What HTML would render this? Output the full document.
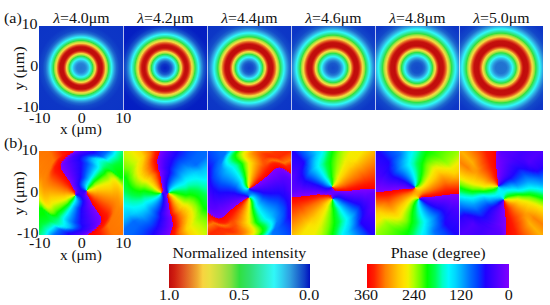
<!DOCTYPE html><html><head><meta charset="utf-8"><title>figure</title><style>
html,body{margin:0;padding:0;background:#fff}body{width:550px;height:305px;position:relative;overflow:hidden;font-family:"Liberation Serif",serif;color:#111}
.t{position:absolute;white-space:nowrap;line-height:1}.t span{display:inline-block}
.p{position:absolute;overflow:hidden}.p i{position:absolute;border-radius:50%}
.q{position:absolute}
</style></head><body>
<div class="q" style="left:39.20px;top:25.60px;width:84.00px;height:84px;background:radial-gradient(circle at 50% 50%,#2275d2 0.00px,#2580d5 4.25px,#2e9ade 6.00px,#30caee 7.75px,#30f8f6 9.00px,#30ebb3 10.25px,#30e050 11.75px,#30e040 12.00px,#71e040 12.50px,#b3e040 13.25px,#eddc40 14.25px,#f5d640 14.50px,#f5c53a 14.75px,#e88228 15.50px,#da3d1a 16.50px,#cc1b0f 17.25px,#c00c0c 18.00px,#c00d0c 21.00px,#d22612 22.00px,#e46a24 23.25px,#f2b434 24.25px,#f6cb3d 24.50px,#ecdd40 25.00px,#bae040 26.00px,#84e040 26.75px,#30e041 27.50px,#30e79c 29.00px,#30f6ec 30.50px,#30f8f6 30.75px,#2d98dd 33.50px,#1d68cf 35.50px,#1247c9 38.25px,#0d36c6 43.25px,#0c34c6 60.00px)"></div>
<div class="q" style="left:123.20px;top:25.60px;width:84.00px;height:84px;background:radial-gradient(circle at 50% 50%,#0520c3 0.00px,#0c33c6 3.75px,#1a5ecd 6.50px,#2b91db 8.25px,#30f8f8 10.75px,#30ebb3 12.00px,#30e050 13.50px,#31e040 13.75px,#71e040 14.25px,#b1e040 15.00px,#ebde40 16.00px,#f7ce3e 16.50px,#ea8c2a 17.25px,#da3d1a 18.50px,#ce1e10 19.25px,#c00c0c 20.50px,#c30f0d 22.50px,#d32813 23.75px,#e35f23 25.00px,#f1ab31 26.25px,#f8d440 26.75px,#d7e040 27.75px,#afe040 28.50px,#7de040 29.25px,#30e042 30.00px,#30e8a3 31.75px,#30f8f7 33.50px,#2b92db 36.50px,#195bcd 38.75px,#0b30c5 42.25px,#051fc2 47.00px,#041cc2 60.00px)"></div>
<div class="q" style="left:207.20px;top:25.60px;width:84.00px;height:84px;background:radial-gradient(circle at 50% 50%,#103fc8 0.00px,#154fca 4.25px,#1f6ccf 6.50px,#30a2e1 8.50px,#30f7f8 10.75px,#30ecb8 12.00px,#30e048 13.75px,#3fe040 14.00px,#7ee040 14.50px,#c9e040 15.50px,#eedc40 16.25px,#f5d640 16.50px,#e98329 17.50px,#db411b 18.50px,#ce1d0f 19.25px,#c00c0c 20.00px,#c10d0c 23.50px,#d32a13 24.75px,#e57125 26.25px,#f1af32 27.25px,#f7d540 27.75px,#d8e040 28.75px,#b2e040 29.50px,#84e040 30.25px,#3be040 31.00px,#30e047 31.25px,#30eaad 33.25px,#30f8f8 35.00px,#30a4e1 37.75px,#1f6ccf 40.25px,#134aca 43.25px,#0d37c6 48.75px,#0c34c6 60.00px)"></div>
<div class="q" style="left:291.20px;top:25.60px;width:84.00px;height:84px;background:radial-gradient(circle at 50% 50%,#134aca 0.00px,#1858cc 4.75px,#2379d3 7.25px,#30b4e7 9.50px,#30f2f7 11.25px,#30f5e9 11.75px,#30e79c 13.25px,#30e044 14.75px,#45e040 15.00px,#7ee040 15.50px,#c4e040 16.50px,#e9df40 17.25px,#f7d540 17.75px,#e98729 18.75px,#d93c19 20.00px,#cd1d0f 20.75px,#c00c0c 21.75px,#c10e0c 25.25px,#d42c14 26.50px,#e67526 28.00px,#f2b535 29.00px,#f5d640 29.50px,#dfe040 30.25px,#ade040 31.25px,#7de040 32.00px,#31e040 32.75px,#30e79a 34.50px,#30f5ea 36.25px,#30f4f7 36.75px,#2e9ade 39.75px,#1d66ce 42.25px,#1246c9 45.50px,#0d36c6 51.50px,#0c34c6 60.00px)"></div>
<div class="q" style="left:375.20px;top:25.60px;width:84.00px;height:84px;background:radial-gradient(circle at 50% 50%,#1349ca 0.00px,#1653cb 5.25px,#2070d0 7.75px,#30a8e3 10.00px,#30f7f8 12.25px,#30ebaf 13.75px,#30e056 15.25px,#30e048 15.50px,#3ee040 15.75px,#78e040 16.25px,#c2e040 17.25px,#e8e040 18.00px,#f6d540 18.50px,#e98729 19.50px,#d93b19 20.75px,#cd1c0f 21.50px,#c00c0c 22.50px,#c3100d 26.25px,#d42c14 27.50px,#e56e25 29.00px,#f3b635 30.25px,#f6d640 30.75px,#d9e040 31.75px,#aae040 32.75px,#7fe040 33.50px,#39e040 34.25px,#30e047 34.50px,#30e9a5 36.50px,#30f6ec 38.25px,#30f3f7 38.75px,#2e9ade 42.00px,#1d66ce 44.75px,#1246c9 48.25px,#0d36c6 54.75px,#0c34c6 60.00px)"></div>
<div class="q" style="left:459.20px;top:25.60px;width:84.00px;height:84px;background:radial-gradient(circle at 50% 50%,#2070d0 0.00px,#2174d1 5.50px,#2b91db 7.75px,#30cff0 10.25px,#30f8f7 11.50px,#30ecb7 13.00px,#30e04c 15.00px,#31e040 15.25px,#80e040 16.00px,#cce040 17.25px,#f2d940 18.25px,#f8d440 18.50px,#ed9a2d 19.25px,#dc441c 20.75px,#cd1c0f 21.75px,#c00c0c 22.75px,#c30f0d 26.75px,#d42d14 28.00px,#e56f25 29.50px,#f3ba36 30.75px,#f7cd3d 31.00px,#e9df40 31.75px,#b3e040 33.00px,#76e040 34.00px,#30e040 34.75px,#30e8a0 36.75px,#30f5e9 38.50px,#30f5f7 39.00px,#30a1e0 42.00px,#1e69cf 44.75px,#1247c9 48.25px,#0d36c6 54.50px,#0c34c6 60.00px)"></div>
<div class="p" style="left:39.20px;top:150.90px;width:84.00px;height:84.00px"><i style="left:-18.00px;top:-18.00px;width:120.00px;height:120.00px;background:conic-gradient(#5000ff 0.0deg,#1e04ff 16.0deg,#004cff 25.5deg,#006fff 30.0deg,#00eaff 37.0deg,#00f7ff 38.0deg,#00fec5 40.5deg,#00ff44 47.5deg,#00ff27 50.5deg,#00ff00 60.0deg,#00ff00 68.5deg,#79ff00 74.5deg,#c9f900 80.0deg,#f3ed00 84.0deg,#ffd100 90.5deg,#ff8200 113.0deg,#ff7600 139.5deg,#ff1900 154.0deg,#ff0600 163.0deg,#ff0000 170.1deg,#8000ff 170.1deg,#4e00ff 180.5deg,#1e04ff 196.0deg,#004cff 205.5deg,#006fff 210.0deg,#00eaff 217.0deg,#00f7ff 218.0deg,#00fec5 220.5deg,#00ff44 227.5deg,#00ff27 230.5deg,#00ff00 240.0deg,#00ff00 248.5deg,#79ff00 254.5deg,#c9f900 260.0deg,#f3ed00 264.0deg,#ffd100 270.5deg,#ff8200 293.0deg,#ff7600 319.5deg,#ff1900 334.0deg,#ff0600 343.0deg,#ff0000 350.1deg,#8000ff 350.1deg,#5000ff 360.0deg)"></i><i style="left:-17.00px;top:-17.00px;width:118.00px;height:118.00px;background:conic-gradient(#5100ff 0.0deg,#1d05ff 16.5deg,#004dff 26.0deg,#0072ff 30.5deg,#00ecff 37.5deg,#00f8fb 38.5deg,#00fec9 40.5deg,#00ff42 48.0deg,#00ff26 51.0deg,#00ff00 60.5deg,#01ff00 69.0deg,#74ff00 74.5deg,#cbf900 80.5deg,#f2ee00 84.0deg,#ffd400 90.0deg,#ff9600 107.0deg,#ff7f00 116.5deg,#ff7500 140.0deg,#ff1900 154.5deg,#ff0600 163.0deg,#ff0000 170.5deg,#8000ff 170.5deg,#4e00ff 181.0deg,#1d05ff 196.5deg,#004dff 206.0deg,#0072ff 210.5deg,#00ecff 217.5deg,#00f8fb 218.5deg,#00fec9 220.5deg,#00ff42 228.0deg,#00ff26 231.0deg,#00ff00 240.5deg,#01ff00 249.0deg,#74ff00 254.5deg,#cbf900 260.5deg,#f2ee00 264.0deg,#ffd400 270.0deg,#ff9600 287.0deg,#ff7f00 296.5deg,#ff7500 320.0deg,#ff1900 334.5deg,#ff0600 343.0deg,#ff0000 350.5deg,#8000ff 350.5deg,#5100ff 360.0deg)"></i><i style="left:-16.00px;top:-16.00px;width:116.00px;height:116.00px;background:conic-gradient(#5200ff 0.0deg,#1e03ff 16.5deg,#004bff 26.0deg,#006dff 30.5deg,#00efff 38.0deg,#00f9f6 39.0deg,#00fec7 41.0deg,#00ff46 48.0deg,#00ff27 51.0deg,#00ff00 60.5deg,#06ff00 69.5deg,#77ff00 75.0deg,#c8f900 80.5deg,#f3ed00 84.5deg,#ffd100 91.0deg,#ff8300 113.0deg,#ff7700 140.0deg,#ff1a00 154.5deg,#ff0600 163.5deg,#ff0000 170.7deg,#8000ff 170.7deg,#4f00ff 181.0deg,#1e03ff 196.5deg,#004bff 206.0deg,#006dff 210.5deg,#00efff 218.0deg,#00f9f6 219.0deg,#00fec7 221.0deg,#00ff46 228.0deg,#00ff27 231.0deg,#00ff00 240.5deg,#06ff00 249.5deg,#77ff00 255.0deg,#c8f900 260.5deg,#f3ed00 264.5deg,#ffd100 271.0deg,#ff8300 293.0deg,#ff7700 320.0deg,#ff1a00 334.5deg,#ff0600 343.5deg,#ff0000 350.7deg,#8000ff 350.7deg,#5200ff 360.0deg)"></i><i style="left:-15.00px;top:-15.00px;width:114.00px;height:114.00px;background:conic-gradient(#5200ff 0.0deg,#1e04ff 17.0deg,#004cff 26.5deg,#0070ff 31.0deg,#00ebff 38.0deg,#00f8fe 39.0deg,#00ffc4 41.5deg,#00ff43 48.5deg,#00ff27 51.5deg,#00ff00 61.0deg,#00ff00 69.5deg,#7aff00 75.5deg,#caf900 81.0deg,#f4ec00 85.0deg,#ffd200 91.0deg,#ff8c00 110.5deg,#ff7e00 119.5deg,#ff7500 140.5deg,#ff1900 155.0deg,#ff0600 163.5deg,#ff0000 171.0deg,#8000ff 171.0deg,#4e00ff 181.5deg,#1e04ff 197.0deg,#004cff 206.5deg,#0070ff 211.0deg,#00ebff 218.0deg,#00f8fe 219.0deg,#00ffc4 221.5deg,#00ff43 228.5deg,#00ff27 231.5deg,#00ff00 241.0deg,#00ff00 249.5deg,#7aff00 255.5deg,#caf900 261.0deg,#f4ec00 265.0deg,#ffd200 271.0deg,#ff8c00 290.5deg,#ff7e00 299.5deg,#ff7500 320.5deg,#ff1900 335.0deg,#ff0600 343.5deg,#ff0000 351.0deg,#8000ff 351.0deg,#5200ff 360.0deg)"></i><i style="left:-14.00px;top:-14.00px;width:112.00px;height:112.00px;background:conic-gradient(#5300ff 0.0deg,#1d06ff 17.5deg,#004aff 26.5deg,#006bff 31.0deg,#00edff 38.5deg,#00f9f9 39.5deg,#00fec8 41.5deg,#00ff41 49.0deg,#00ff26 52.0deg,#00ff00 61.5deg,#04ff00 70.0deg,#76ff00 75.5deg,#cdf800 81.5deg,#f2ed00 85.0deg,#ffd100 91.5deg,#ff8000 114.5deg,#ff7400 141.0deg,#ff1a00 155.0deg,#ff0600 164.0deg,#ff0000 171.5deg,#8000ff 171.5deg,#4f00ff 181.5deg,#1d06ff 197.5deg,#004aff 206.5deg,#006bff 211.0deg,#00edff 218.5deg,#00f9f9 219.5deg,#00fec8 221.5deg,#00ff41 229.0deg,#00ff26 232.0deg,#00ff00 241.5deg,#04ff00 250.0deg,#76ff00 255.5deg,#cdf800 261.5deg,#f2ed00 265.0deg,#ffd100 271.5deg,#ff8000 294.5deg,#ff7400 321.0deg,#ff1a00 335.0deg,#ff0600 344.0deg,#ff0000 351.5deg,#8000ff 351.5deg,#5300ff 360.0deg)"></i><i style="left:-13.00px;top:-13.00px;width:110.00px;height:110.00px;background:conic-gradient(#5400ff 0.0deg,#1e04ff 17.5deg,#004bff 27.0deg,#006eff 31.5deg,#00e9ff 38.5deg,#00f7ff 39.5deg,#00fec6 42.0deg,#00ff44 49.0deg,#00ff27 52.0deg,#00ff00 61.5deg,#00ff00 70.0deg,#79ff00 76.0deg,#c9f900 81.5deg,#f3ed00 85.5deg,#ffd300 91.5deg,#ff9000 110.0deg,#ff7f00 119.0deg,#ff7600 141.0deg,#ff1900 155.5deg,#ff0600 164.5deg,#ff0000 171.6deg,#8000ff 171.6deg,#4e00ff 182.0deg,#1e04ff 197.5deg,#004bff 207.0deg,#006eff 211.5deg,#00e9ff 218.5deg,#00f7ff 219.5deg,#00fec6 222.0deg,#00ff44 229.0deg,#00ff27 232.0deg,#00ff00 241.5deg,#00ff00 250.0deg,#79ff00 256.0deg,#c9f900 261.5deg,#f3ed00 265.5deg,#ffd300 271.5deg,#ff9000 290.0deg,#ff7f00 299.0deg,#ff7600 321.0deg,#ff1900 335.5deg,#ff0600 344.5deg,#ff0000 351.6deg,#8000ff 351.6deg,#5400ff 360.0deg)"></i><i style="left:-12.00px;top:-12.00px;width:108.00px;height:108.00px;background:conic-gradient(#5500ff 0.0deg,#1e05ff 18.0deg,#004cff 27.5deg,#0071ff 32.0deg,#00ecff 39.0deg,#00f8fc 40.0deg,#00feca 42.0deg,#00ff42 49.5deg,#00ff26 52.5deg,#00ff00 62.0deg,#02ff00 70.5deg,#74ff00 76.0deg,#ccf800 82.0deg,#f2ee00 85.5deg,#ffd200 92.0deg,#ff8500 113.5deg,#ff7500 141.5deg,#ff1900 156.0deg,#ff0600 164.5deg,#ff0000 172.0deg,#8000ff 172.0deg,#4e00ff 182.5deg,#1e05ff 198.0deg,#004cff 207.5deg,#0071ff 212.0deg,#00ecff 219.0deg,#00f8fc 220.0deg,#00feca 222.0deg,#00ff42 229.5deg,#00ff26 232.5deg,#00ff00 242.0deg,#02ff00 250.5deg,#74ff00 256.0deg,#ccf800 262.0deg,#f2ee00 265.5deg,#ffd200 272.0deg,#ff8500 293.5deg,#ff7500 321.5deg,#ff1900 336.0deg,#ff0600 344.5deg,#ff0000 352.0deg,#8000ff 352.0deg,#5500ff 360.0deg)"></i><i style="left:-11.00px;top:-11.00px;width:106.00px;height:106.00px;background:conic-gradient(#5600ff 0.0deg,#1d06ff 18.5deg,#004aff 27.5deg,#006cff 32.0deg,#00eeff 39.5deg,#00f9f7 40.5deg,#00fec7 42.5deg,#00ff46 49.5deg,#00ff28 52.5deg,#00ff00 62.0deg,#00ff00 70.5deg,#80ff00 77.0deg,#cef800 82.5deg,#f3ed00 86.0deg,#ffd100 92.5deg,#ff8200 115.0deg,#ff7700 141.5deg,#ff1a00 156.0deg,#ff0600 165.0deg,#ff0000 172.2deg,#8000ff 172.2deg,#4f00ff 182.5deg,#1d06ff 198.5deg,#004aff 207.5deg,#006cff 212.0deg,#00eeff 219.5deg,#00f9f7 220.5deg,#00fec7 222.5deg,#00ff46 229.5deg,#00ff28 232.5deg,#00ff00 242.0deg,#00ff00 250.5deg,#80ff00 257.0deg,#cef800 262.5deg,#f3ed00 266.0deg,#ffd100 272.5deg,#ff8200 295.0deg,#ff7700 321.5deg,#ff1a00 336.0deg,#ff0600 345.0deg,#ff0000 352.2deg,#8000ff 352.2deg,#5600ff 360.0deg)"></i><i style="left:-10.00px;top:-10.00px;width:104.00px;height:104.00px;background:conic-gradient(#5700ff 0.0deg,#1e04ff 18.5deg,#004cff 28.0deg,#006fff 32.5deg,#00eaff 39.5deg,#00f8ff 40.5deg,#00fec5 43.0deg,#00ff43 50.0deg,#00ff27 53.0deg,#00ff00 62.5deg,#00ff00 71.0deg,#73ff00 76.5deg,#cbf900 82.5deg,#f2ee00 86.0deg,#ffd400 92.0deg,#ff9600 109.0deg,#ff7f00 118.5deg,#ff7500 142.0deg,#ff1900 156.5deg,#ff0600 165.0deg,#ff0000 172.6deg,#8000ff 172.6deg,#4e00ff 183.0deg,#1e04ff 198.5deg,#004cff 208.0deg,#006fff 212.5deg,#00eaff 219.5deg,#00f8ff 220.5deg,#00fec5 223.0deg,#00ff43 230.0deg,#00ff27 233.0deg,#00ff00 242.5deg,#00ff00 251.0deg,#73ff00 256.5deg,#cbf900 262.5deg,#f2ee00 266.0deg,#ffd400 272.0deg,#ff9600 289.0deg,#ff7f00 298.5deg,#ff7500 322.0deg,#ff1900 336.5deg,#ff0600 345.0deg,#ff0000 352.6deg,#8000ff 352.6deg,#5700ff 360.0deg)"></i><i style="left:-9.00px;top:-9.00px;width:102.00px;height:102.00px;background:conic-gradient(#5800ff 0.0deg,#1d05ff 19.0deg,#004dff 28.5deg,#0073ff 33.0deg,#00edff 40.0deg,#00f9fa 41.0deg,#00fec9 43.0deg,#00ff41 50.5deg,#00ff26 53.5deg,#00ff00 63.0deg,#04ff00 71.5deg,#76ff00 77.0deg,#c7fa00 82.5deg,#f3ed00 86.5deg,#ffd100 93.0deg,#ff8500 114.5deg,#ff7400 142.5deg,#ff1a00 156.5deg,#ff0600 165.5deg,#ff0000 173.0deg,#8000ff 173.0deg,#4e00ff 183.5deg,#1d05ff 199.0deg,#004dff 208.5deg,#0073ff 213.0deg,#00edff 220.0deg,#00f9fa 221.0deg,#00fec9 223.0deg,#00ff41 230.5deg,#00ff26 233.5deg,#00ff00 243.0deg,#04ff00 251.5deg,#76ff00 257.0deg,#c7fa00 262.5deg,#f3ed00 266.5deg,#ffd100 273.0deg,#ff8500 294.5deg,#ff7400 322.5deg,#ff1a00 336.5deg,#ff0600 345.5deg,#ff0000 353.0deg,#8000ff 353.0deg,#5800ff 360.0deg)"></i><i style="left:-8.00px;top:-8.00px;width:100.00px;height:100.00px;background:conic-gradient(#5900ff 0.0deg,#1d05ff 19.0deg,#004dff 28.5deg,#0072ff 33.0deg,#00edff 40.0deg,#00f9fa 41.0deg,#00fec9 43.0deg,#00ff41 50.5deg,#00ff26 53.5deg,#00ff00 63.0deg,#05ff00 71.5deg,#77ff00 77.0deg,#c8f900 82.5deg,#f3ed00 86.5deg,#ffd100 93.0deg,#ff8300 115.0deg,#ff7400 142.5deg,#ff1a00 156.5deg,#ff0600 165.5deg,#ff0000 173.0deg,#8000ff 173.0deg,#4e00ff 183.5deg,#1d05ff 199.0deg,#004dff 208.5deg,#0072ff 213.0deg,#00edff 220.0deg,#00f9fa 221.0deg,#00fec9 223.0deg,#00ff41 230.5deg,#00ff26 233.5deg,#00ff00 243.0deg,#05ff00 251.5deg,#77ff00 257.0deg,#c8f900 262.5deg,#f3ed00 266.5deg,#ffd100 273.0deg,#ff8300 295.0deg,#ff7400 322.5deg,#ff1a00 336.5deg,#ff0600 345.5deg,#ff0000 353.0deg,#8000ff 353.0deg,#5900ff 360.0deg)"></i><i style="left:-7.00px;top:-7.00px;width:98.00px;height:98.00px;background:conic-gradient(#5700ff 0.0deg,#1e04ff 18.5deg,#004bff 28.0deg,#006fff 32.5deg,#00eaff 39.5deg,#00f7ff 40.5deg,#00fec5 43.0deg,#00ff44 50.0deg,#00ff27 53.0deg,#00ff00 62.5deg,#00ff00 71.0deg,#73ff00 76.5deg,#cbf900 82.5deg,#f2ee00 86.0deg,#ffd200 92.5deg,#ff8700 113.5deg,#ff7500 142.0deg,#ff1900 156.5deg,#ff0600 165.0deg,#ff0000 172.6deg,#8000ff 172.6deg,#4e00ff 183.0deg,#1e04ff 198.5deg,#004bff 208.0deg,#006fff 212.5deg,#00eaff 219.5deg,#00f7ff 220.5deg,#00fec5 223.0deg,#00ff44 230.0deg,#00ff27 233.0deg,#00ff00 242.5deg,#00ff00 251.0deg,#73ff00 256.5deg,#cbf900 262.5deg,#f2ee00 266.0deg,#ffd200 272.5deg,#ff8700 293.5deg,#ff7500 322.0deg,#ff1900 336.5deg,#ff0600 345.0deg,#ff0000 352.6deg,#8000ff 352.6deg,#5700ff 360.0deg)"></i><i style="left:-6.00px;top:-6.00px;width:96.00px;height:96.00px;background:conic-gradient(#5600ff 0.0deg,#1d06ff 18.5deg,#004aff 27.5deg,#006bff 32.0deg,#00eeff 39.5deg,#00f9f8 40.5deg,#00fec8 42.5deg,#00ff46 49.5deg,#00ff28 52.5deg,#00ff00 62.0deg,#00ff00 70.5deg,#79ff00 76.5deg,#c9f900 82.0deg,#f3ed00 86.0deg,#ffd200 92.0deg,#ff9000 110.5deg,#ff7f00 119.0deg,#ff7600 141.5deg,#ff1a00 156.0deg,#ff0600 165.0deg,#ff0000 172.3deg,#8000ff 172.3deg,#4f00ff 182.5deg,#1d06ff 198.5deg,#004aff 207.5deg,#006bff 212.0deg,#00eeff 219.5deg,#00f9f8 220.5deg,#00fec8 222.5deg,#00ff46 229.5deg,#00ff28 232.5deg,#00ff00 242.0deg,#00ff00 250.5deg,#79ff00 256.5deg,#c9f900 262.0deg,#f3ed00 266.0deg,#ffd200 272.0deg,#ff9000 290.5deg,#ff7f00 299.0deg,#ff7600 321.5deg,#ff1a00 336.0deg,#ff0600 345.0deg,#ff0000 352.3deg,#8000ff 352.3deg,#5600ff 360.0deg)"></i><i style="left:-5.00px;top:-5.00px;width:94.00px;height:94.00px;background:conic-gradient(#5500ff 0.0deg,#1e04ff 18.0deg,#004cff 27.5deg,#0070ff 32.0deg,#00ebff 39.0deg,#00f8fe 40.0deg,#00ffc4 42.5deg,#00ff42 49.5deg,#00ff26 52.5deg,#00ff00 62.0deg,#03ff00 70.5deg,#76ff00 76.0deg,#cdf800 82.0deg,#f3ed00 85.5deg,#ffd100 92.0deg,#ff8500 113.5deg,#ff7400 141.5deg,#ff1a00 155.5deg,#ff0600 164.0deg,#ff0000 172.0deg,#8000ff 172.0deg,#4e00ff 182.5deg,#1e04ff 198.0deg,#004cff 207.5deg,#0070ff 212.0deg,#00ebff 219.0deg,#00f8fe 220.0deg,#00ffc4 222.5deg,#00ff42 229.5deg,#00ff26 232.5deg,#00ff00 242.0deg,#03ff00 250.5deg,#76ff00 256.0deg,#cdf800 262.0deg,#f3ed00 265.5deg,#ffd100 272.0deg,#ff8500 293.5deg,#ff7400 321.5deg,#ff1a00 335.5deg,#ff0600 344.0deg,#ff0000 352.0deg,#8000ff 352.0deg,#5500ff 360.0deg)"></i><i style="left:-4.00px;top:-4.00px;width:92.00px;height:92.00px;background:conic-gradient(#5500ff 0.0deg,#1d06ff 18.0deg,#004aff 27.0deg,#006dff 31.5deg,#00efff 39.0deg,#00f9f6 40.0deg,#00fec7 42.0deg,#00ff45 49.0deg,#00ff27 52.0deg,#00ff00 61.5deg,#00ff00 70.0deg,#7bff00 76.0deg,#cbf900 81.5deg,#f2ee00 85.0deg,#ffd400 91.0deg,#ff9500 108.0deg,#ff7f00 117.5deg,#ff7500 141.0deg,#ff1900 155.5deg,#ff0600 164.5deg,#ff0000 171.6deg,#8000ff 171.6deg,#4f00ff 182.0deg,#1d06ff 198.0deg,#004aff 207.0deg,#006dff 211.5deg,#00efff 219.0deg,#00f9f6 220.0deg,#00fec7 222.0deg,#00ff45 229.0deg,#00ff27 232.0deg,#00ff00 241.5deg,#00ff00 250.0deg,#7bff00 256.0deg,#cbf900 261.5deg,#f2ee00 265.0deg,#ffd400 271.0deg,#ff9500 288.0deg,#ff7f00 297.5deg,#ff7500 321.0deg,#ff1900 335.5deg,#ff0600 344.5deg,#ff0000 351.6deg,#8000ff 351.6deg,#5500ff 360.0deg)"></i><i style="left:-3.00px;top:-3.00px;width:90.00px;height:90.00px;background:conic-gradient(#5400ff 0.0deg,#1e05ff 17.5deg,#004cff 27.0deg,#0071ff 31.5deg,#00ecff 38.5deg,#00f8fc 39.5deg,#00fec9 41.5deg,#00ff41 49.0deg,#00ff26 52.0deg,#00ff00 61.5deg,#06ff00 70.0deg,#78ff00 75.5deg,#c9f900 81.0deg,#f3ed00 85.0deg,#ffd300 91.0deg,#ff8f00 109.5deg,#ff7f00 118.0deg,#ff7600 140.5deg,#ff1a00 155.0deg,#ff0600 164.0deg,#ff0000 171.5deg,#8000ff 171.5deg,#4f00ff 181.5deg,#1e05ff 197.5deg,#004cff 207.0deg,#0071ff 211.5deg,#00ecff 218.5deg,#00f8fc 219.5deg,#00fec9 221.5deg,#00ff41 229.0deg,#00ff26 232.0deg,#00ff00 241.5deg,#06ff00 250.0deg,#78ff00 255.5deg,#c9f900 261.0deg,#f3ed00 265.0deg,#ffd300 271.0deg,#ff8f00 289.5deg,#ff7f00 298.0deg,#ff7600 320.5deg,#ff1a00 335.0deg,#ff0600 344.0deg,#ff0000 351.5deg,#8000ff 351.5deg,#5400ff 360.0deg)"></i><i style="left:-2.00px;top:-2.00px;width:88.00px;height:88.00px;background:conic-gradient(#5300ff 0.0deg,#1e03ff 17.0deg,#004bff 26.5deg,#006eff 31.0deg,#00f0ff 38.5deg,#00f9f4 39.5deg,#00fec6 41.5deg,#00ff44 48.5deg,#00ff27 51.5deg,#00ff00 61.0deg,#01ff00 69.5deg,#75ff00 75.0deg,#cdf800 81.0deg,#f2ed00 84.5deg,#ffd100 91.0deg,#ff8600 112.0deg,#ff7400 140.5deg,#ff1900 155.0deg,#ff0600 163.5deg,#ff0000 171.0deg,#8000ff 171.0deg,#4e00ff 181.5deg,#1e03ff 197.0deg,#004bff 206.5deg,#006eff 211.0deg,#00f0ff 218.5deg,#00f9f4 219.5deg,#00fec6 221.5deg,#00ff44 228.5deg,#00ff27 231.5deg,#00ff00 241.0deg,#01ff00 249.5deg,#75ff00 255.0deg,#cdf800 261.0deg,#f2ed00 264.5deg,#ffd100 271.0deg,#ff8600 292.0deg,#ff7400 320.5deg,#ff1900 335.0deg,#ff0600 343.5deg,#ff0000 351.0deg,#8000ff 351.0deg,#5300ff 360.0deg)"></i><i style="left:-1.00px;top:-1.00px;width:86.00px;height:86.00px;background:conic-gradient(#5200ff 0.0deg,#1d05ff 17.0deg,#004dff 26.5deg,#0073ff 31.0deg,#00edff 38.0deg,#00f9fa 39.0deg,#00fec8 41.0deg,#00ff40 48.5deg,#00ff28 51.0deg,#00ff00 60.5deg,#00ff00 69.0deg,#7aff00 75.0deg,#caf900 80.5deg,#f2ee00 84.0deg,#ffd400 90.0deg,#ff9500 107.0deg,#ff7f00 116.5deg,#ff7500 140.0deg,#ff1900 154.5deg,#ff0600 163.5deg,#ff0000 170.7deg,#8000ff 170.7deg,#4d00ff 181.5deg,#1d05ff 197.0deg,#004dff 206.5deg,#0073ff 211.0deg,#00edff 218.0deg,#00f9fa 219.0deg,#00fec8 221.0deg,#00ff40 228.5deg,#00ff28 231.0deg,#00ff00 240.5deg,#00ff00 249.0deg,#7aff00 255.0deg,#caf900 260.5deg,#f2ee00 264.0deg,#ffd400 270.0deg,#ff9500 287.0deg,#ff7f00 296.5deg,#ff7500 320.0deg,#ff1900 334.5deg,#ff0600 343.5deg,#ff0000 350.7deg,#8000ff 350.7deg,#5200ff 360.0deg)"></i><i style="left:0.00px;top:0.00px;width:84.00px;height:84.00px;background:conic-gradient(#4c00ff 0.0deg,#1e04ff 15.0deg,#004bff 24.5deg,#006aff 28.5deg,#00e9ff 36.0deg,#00f7ff 37.0deg,#00fdd4 39.0deg,#00ffa4 42.0deg,#00ff46 47.0deg,#00ff12 56.0deg,#04ff00 67.5deg,#76ff00 73.0deg,#ccf800 79.0deg,#f2ee00 82.5deg,#ffd100 89.0deg,#ff8300 113.0deg,#ff7600 137.5deg,#ff1900 152.5deg,#ff0600 161.5deg,#ff0000 168.5deg,#8000ff 168.5deg,#4e00ff 179.5deg,#1e04ff 195.0deg,#004bff 204.5deg,#006aff 208.5deg,#00e9ff 216.0deg,#00f7ff 217.0deg,#00fdd4 219.0deg,#00ffa4 222.0deg,#00ff46 227.0deg,#00ff12 236.0deg,#04ff00 247.5deg,#76ff00 253.0deg,#ccf800 259.0deg,#f2ee00 262.5deg,#ffd100 269.0deg,#ff8300 293.0deg,#ff7600 317.5deg,#ff1900 332.5deg,#ff0600 341.5deg,#ff0000 348.5deg,#8000ff 348.5deg,#4e00ff 359.5deg,#4c00ff 360.0deg)"></i><i style="left:1.00px;top:1.00px;width:82.00px;height:82.00px;background:conic-gradient(#4300ff 0.0deg,#1e05ff 12.0deg,#004cff 21.5deg,#006bff 25.0deg,#00ebff 33.0deg,#00f8ff 34.0deg,#00ffa9 40.0deg,#00ff58 44.5deg,#00ff20 54.5deg,#00ff10 63.0deg,#00ff00 64.0deg,#72ff00 69.5deg,#def400 77.5deg,#f4ec00 80.0deg,#ffd000 86.5deg,#ff8800 109.5deg,#ff7400 133.5deg,#ff1900 148.5deg,#ff0500 159.5deg,#ff0000 164.3deg,#8000ff 164.3deg,#5000ff 175.5deg,#1e05ff 192.0deg,#004cff 201.5deg,#006bff 205.0deg,#00ebff 213.0deg,#00f8ff 214.0deg,#00ffa9 220.0deg,#00ff58 224.5deg,#00ff20 234.5deg,#00ff10 243.0deg,#00ff00 244.0deg,#72ff00 249.5deg,#def400 257.5deg,#f4ec00 260.0deg,#ffd000 266.5deg,#ff8800 289.5deg,#ff7400 313.5deg,#ff1900 328.5deg,#ff0500 339.5deg,#ff0000 344.3deg,#8000ff 344.3deg,#5000ff 355.5deg,#4300ff 360.0deg)"></i><i style="left:2.00px;top:2.00px;width:80.00px;height:80.00px;background:conic-gradient(#3900ff 0.0deg,#1d06ff 9.0deg,#0049ff 18.0deg,#0064ff 21.0deg,#00ebff 30.0deg,#00f9f7 32.5deg,#00ffaf 38.0deg,#00ff80 41.0deg,#00ff3b 49.0deg,#00ff1a 59.0deg,#05ff00 61.0deg,#76ff00 66.5deg,#e4f300 75.0deg,#f9e600 78.5deg,#ff8e00 105.5deg,#ff7300 129.5deg,#ff1a00 144.5deg,#ff0200 158.0deg,#ff0000 160.1deg,#8000ff 160.1deg,#4e00ff 172.5deg,#1d06ff 189.0deg,#0049ff 198.0deg,#0064ff 201.0deg,#00ebff 210.0deg,#00f9f7 212.5deg,#00ffaf 218.0deg,#00ff80 221.0deg,#00ff3b 229.0deg,#00ff1a 239.0deg,#05ff00 241.0deg,#76ff00 246.5deg,#e4f300 255.0deg,#f9e600 258.5deg,#ff8e00 285.5deg,#ff7300 309.5deg,#ff1a00 324.5deg,#ff0200 338.0deg,#ff0000 340.1deg,#8000ff 340.1deg,#4e00ff 352.5deg,#3900ff 360.0deg)"></i><i style="left:3.00px;top:3.00px;width:78.00px;height:78.00px;background:conic-gradient(#3000ff 0.0deg,#1d06ff 6.0deg,#0049ff 15.0deg,#0096ff 21.0deg,#00e3ff 26.5deg,#00f8fb 30.5deg,#00ff4e 46.0deg,#00ff1f 55.5deg,#00ff01 57.5deg,#70ff00 63.0deg,#dcf500 71.5deg,#f5eb00 74.5deg,#ffcf00 82.0deg,#ff9200 102.0deg,#ff7100 125.5deg,#ff1900 141.0deg,#ff0000 156.0deg,#8000ff 156.0deg,#4f00ff 169.0deg,#1d06ff 186.0deg,#0049ff 195.0deg,#0096ff 201.0deg,#00e3ff 206.5deg,#00f8fb 210.5deg,#00ff4e 226.0deg,#00ff1f 235.5deg,#00ff01 237.5deg,#70ff00 243.0deg,#dcf500 251.5deg,#f5eb00 254.5deg,#ffcf00 262.0deg,#ff9200 282.0deg,#ff7100 305.5deg,#ff1900 321.0deg,#ff0000 336.0deg,#8000ff 336.0deg,#4f00ff 349.0deg,#3000ff 360.0deg)"></i><i style="left:4.00px;top:4.00px;width:76.00px;height:76.00px;background:conic-gradient(#2600ff 0.0deg,#1b0bff 3.5deg,#0050ff 12.5deg,#00d8ff 23.0deg,#00f9fa 29.0deg,#00fec5 34.5deg,#00ff62 43.5deg,#00ff2b 51.5deg,#03ff00 54.5deg,#71ff00 60.0deg,#daf500 68.5deg,#f4eb00 71.5deg,#ffd400 78.0deg,#ff9600 99.0deg,#ff7000 121.5deg,#ff1a00 137.0deg,#ff0000 151.7deg,#8000ff 151.7deg,#4b00ff 167.0deg,#1e03ff 182.5deg,#004aff 192.0deg,#00d8ff 203.0deg,#00f9fa 209.0deg,#00fec5 214.5deg,#00ff62 223.5deg,#00ff2b 231.5deg,#03ff00 234.5deg,#71ff00 240.0deg,#daf500 248.5deg,#f4eb00 251.5deg,#ffd400 258.0deg,#ff9600 279.0deg,#ff7000 301.5deg,#ff1a00 317.0deg,#ff0000 331.7deg,#8000ff 331.7deg,#4b00ff 347.0deg,#2600ff 360.0deg)"></i><i style="left:5.00px;top:5.00px;width:74.00px;height:74.00px;background:conic-gradient(#1e04ff 0.0deg,#0053ff 10.0deg,#00c9ff 20.0deg,#00f9fa 28.0deg,#00ffb3 36.0deg,#00ff48 46.0deg,#00ff29 49.0deg,#05ff00 52.0deg,#68ff00 57.0deg,#d7f600 66.0deg,#f3ed00 69.0deg,#ffd700 75.5deg,#ff9a00 96.5deg,#ff7000 118.0deg,#ff1900 134.0deg,#ff0000 148.2deg,#8000ff 148.2deg,#4600ff 166.5deg,#1e04ff 180.0deg,#0053ff 190.0deg,#00c9ff 200.0deg,#00f9fa 208.0deg,#00ffb3 216.0deg,#00ff48 226.0deg,#00ff29 229.0deg,#05ff00 232.0deg,#68ff00 237.0deg,#d7f600 246.0deg,#f3ed00 249.0deg,#ffd700 255.5deg,#ff9a00 276.5deg,#ff7000 298.0deg,#ff1900 314.0deg,#ff0000 328.2deg,#8000ff 328.2deg,#4600ff 346.5deg,#1e04ff 360.0deg)"></i><i style="left:6.00px;top:6.00px;width:72.00px;height:72.00px;background:conic-gradient(#1a0cff 0.0deg,#0050ff 8.5deg,#00baff 18.5deg,#00f7ff 28.5deg,#00ffa8 37.5deg,#00ff1e 48.5deg,#00ff01 50.5deg,#68ff00 56.0deg,#dbf500 65.5deg,#f4ec00 68.5deg,#ffd200 77.0deg,#ff9a00 96.5deg,#ff6e00 116.0deg,#ff1900 132.5deg,#ff0000 146.1deg,#8000ff 146.1deg,#1e05ff 179.0deg,#004cff 188.0deg,#00baff 198.5deg,#00f7ff 208.5deg,#00ffa8 217.5deg,#00ff1e 228.5deg,#00ff01 230.5deg,#68ff00 236.0deg,#dbf500 245.5deg,#f4ec00 248.5deg,#ffd200 257.0deg,#ff9a00 276.5deg,#ff6e00 296.0deg,#ff1900 312.5deg,#ff0000 326.1deg,#8000ff 326.1deg,#1e05ff 359.0deg,#1a0cff 360.0deg)"></i><i style="left:7.00px;top:7.00px;width:70.00px;height:70.00px;background:conic-gradient(#1713ff 0.0deg,#0051ff 7.5deg,#00b3ff 18.0deg,#00ecff 27.0deg,#00f9fa 30.0deg,#00ffac 37.5deg,#03ff00 49.5deg,#68ff00 55.0deg,#d8f600 64.5deg,#f5eb00 68.0deg,#ffd100 77.0deg,#ff9200 100.0deg,#ff6d00 114.0deg,#ff1800 131.0deg,#ff0000 143.9deg,#8000ff 143.9deg,#1d05ff 178.0deg,#0044ff 186.0deg,#00b3ff 198.0deg,#00ecff 207.0deg,#00f9fa 210.0deg,#00ffac 217.5deg,#03ff00 229.5deg,#68ff00 235.0deg,#d8f600 244.5deg,#f5eb00 248.0deg,#ffd100 257.0deg,#ff9200 280.0deg,#ff6d00 294.0deg,#ff1800 311.0deg,#ff0000 323.9deg,#8000ff 323.9deg,#1d05ff 358.0deg,#1713ff 360.0deg)"></i><i style="left:8.00px;top:8.00px;width:68.00px;height:68.00px;background:conic-gradient(#1614ff 0.0deg,#004fff 7.0deg,#00d3ff 23.5deg,#00f9f9 31.0deg,#00ffb1 37.5deg,#00ff1f 46.5deg,#05ff00 49.0deg,#6dff00 55.0deg,#daf500 64.5deg,#f3ed00 67.5deg,#ffd200 77.0deg,#ff6c00 112.5deg,#ff1800 130.0deg,#ff0000 142.3deg,#8000ff 142.3deg,#1e04ff 177.5deg,#033aff 184.5deg,#00c8ff 202.0deg,#00f9f9 211.0deg,#00ffb1 217.5deg,#00ff1f 226.5deg,#05ff00 229.0deg,#6dff00 235.0deg,#daf500 244.5deg,#f3ed00 247.5deg,#ffd200 257.0deg,#ff6c00 292.5deg,#ff1800 310.0deg,#ff0000 322.3deg,#8000ff 322.3deg,#1e04ff 357.5deg,#1614ff 360.0deg)"></i><i style="left:9.00px;top:9.00px;width:66.00px;height:66.00px;background:conic-gradient(#1810ff 0.0deg,#004cff 7.5deg,#00edff 30.0deg,#00f9f9 32.5deg,#00ffaf 38.5deg,#00ff38 45.0deg,#00ff01 49.0deg,#6dff00 55.5deg,#dcf500 65.5deg,#f4ec00 69.0deg,#ffd100 78.5deg,#ff6b00 112.0deg,#ff1900 129.5deg,#ff0000 141.6deg,#8000ff 141.6deg,#1e03ff 178.0deg,#004cff 187.5deg,#00edff 210.0deg,#00f9f9 212.5deg,#00ffaf 218.5deg,#00ff38 225.0deg,#00ff01 229.0deg,#6dff00 235.5deg,#dcf500 245.5deg,#f4ec00 249.0deg,#ffd100 258.5deg,#ff6b00 292.0deg,#ff1900 309.5deg,#ff0000 321.6deg,#8000ff 321.6deg,#1e03ff 358.0deg,#1810ff 360.0deg)"></i><i style="left:10.00px;top:10.00px;width:64.00px;height:64.00px;background:conic-gradient(#1b0bff 0.0deg,#004eff 9.0deg,#00f8fb 33.5deg,#00ffb0 39.0deg,#00ff42 44.5deg,#02ff00 49.5deg,#6cff00 56.0deg,#ddf500 66.5deg,#f5eb00 70.5deg,#ffd000 80.0deg,#ff6c00 111.0deg,#ff1900 129.5deg,#ff0000 141.0deg,#8000ff 141.0deg,#1e05ff 179.0deg,#004eff 189.0deg,#00f8fb 213.5deg,#00ffb0 219.0deg,#00ff42 224.5deg,#02ff00 229.5deg,#6cff00 236.0deg,#ddf500 246.5deg,#f5eb00 250.5deg,#ffd000 260.0deg,#ff6c00 291.0deg,#ff1900 309.5deg,#ff0000 321.0deg,#8000ff 321.0deg,#1e05ff 359.0deg,#1b0bff 360.0deg)"></i><i style="left:11.00px;top:11.00px;width:62.00px;height:62.00px;background:conic-gradient(#1d06ff 0.0deg,#004cff 10.5deg,#00a2ff 23.0deg,#00f9fa 34.5deg,#00ffae 39.5deg,#00ff46 44.5deg,#04ff00 50.0deg,#6cff00 56.5deg,#ddf500 67.5deg,#f5eb00 71.5deg,#ffd000 81.0deg,#ff6b00 110.5deg,#ff1900 129.5deg,#ff0000 140.3deg,#8000ff 140.3deg,#1d06ff 180.0deg,#004cff 190.5deg,#00a2ff 203.0deg,#00f9fa 214.5deg,#00ffae 219.5deg,#00ff46 224.5deg,#04ff00 230.0deg,#6cff00 236.5deg,#ddf500 247.5deg,#f5eb00 251.5deg,#ffd000 261.0deg,#ff6b00 290.5deg,#ff1900 309.5deg,#ff0000 320.3deg,#8000ff 320.3deg,#1d06ff 360.0deg)"></i><i style="left:12.00px;top:12.00px;width:60.00px;height:60.00px;background:conic-gradient(#1e05ff 0.0deg,#004cff 11.5deg,#009cff 23.0deg,#00f8fb 34.5deg,#00ffb6 39.0deg,#00ff4b 44.0deg,#05ff00 50.0deg,#6cff00 56.5deg,#dbf500 67.5deg,#f4eb00 71.5deg,#ffd000 81.0deg,#ff6800 110.5deg,#ff1800 129.5deg,#ff0000 139.6deg,#8000ff 139.6deg,#1e05ff 180.0deg,#004cff 191.5deg,#009cff 203.0deg,#00f8fb 214.5deg,#00ffb6 219.0deg,#00ff4b 224.0deg,#05ff00 230.0deg,#6cff00 236.5deg,#dbf500 247.5deg,#f4eb00 251.5deg,#ffd000 261.0deg,#ff6800 290.5deg,#ff1800 309.5deg,#ff0000 319.6deg,#8000ff 319.6deg,#1e05ff 360.0deg)"></i><i style="left:13.00px;top:13.00px;width:58.00px;height:58.00px;background:conic-gradient(#1d05ff 0.0deg,#004dff 11.5deg,#009dff 23.0deg,#00f9fa 34.5deg,#00ffb5 39.0deg,#00ff4a 44.0deg,#06ff00 50.0deg,#6dff00 56.5deg,#dcf500 67.5deg,#f5eb00 71.5deg,#ffd000 81.0deg,#ff6900 110.0deg,#ff1900 129.0deg,#ff0000 139.4deg,#8000ff 139.4deg,#1d05ff 180.0deg,#004dff 191.5deg,#009dff 203.0deg,#00f9fa 214.5deg,#00ffb5 219.0deg,#00ff4a 224.0deg,#06ff00 230.0deg,#6dff00 236.5deg,#dcf500 247.5deg,#f5eb00 251.5deg,#ffd000 261.0deg,#ff6900 290.0deg,#ff1900 309.0deg,#ff0000 319.4deg,#8000ff 319.4deg,#1d05ff 360.0deg)"></i><i style="left:14.00px;top:14.00px;width:56.00px;height:56.00px;background:conic-gradient(#1d06ff 0.0deg,#004dff 11.5deg,#009dff 23.0deg,#00f9f9 34.5deg,#00ffb4 39.0deg,#00ff49 44.0deg,#00ff01 49.5deg,#6eff00 56.5deg,#ddf400 67.5deg,#f5eb00 71.5deg,#ffce00 81.5deg,#ff6800 110.0deg,#ff1800 129.0deg,#ff0000 139.2deg,#8000ff 139.2deg,#1d06ff 180.0deg,#004dff 191.5deg,#009dff 203.0deg,#00f9f9 214.5deg,#00ffb4 219.0deg,#00ff49 224.0deg,#00ff01 229.5deg,#6eff00 236.5deg,#ddf400 247.5deg,#f5eb00 251.5deg,#ffce00 261.5deg,#ff6800 290.0deg,#ff1800 309.0deg,#ff0000 319.2deg,#8000ff 319.2deg,#1d06ff 360.0deg)"></i><i style="left:15.00px;top:15.00px;width:54.00px;height:54.00px;background:conic-gradient(#1d06ff 0.0deg,#004aff 11.0deg,#0099ff 22.5deg,#00f7ff 34.0deg,#00ffb3 39.0deg,#00ff48 44.0deg,#00ff00 49.5deg,#6fff00 56.5deg,#def400 67.5deg,#f4ec00 71.0deg,#ffd000 80.5deg,#ff6900 109.5deg,#ff1900 128.5deg,#ff0000 138.9deg,#8000ff 138.9deg,#1d06ff 180.0deg,#004aff 191.0deg,#0099ff 202.5deg,#00f7ff 214.0deg,#00ffb3 219.0deg,#00ff48 224.0deg,#00ff00 229.5deg,#6fff00 236.5deg,#def400 247.5deg,#f4ec00 251.0deg,#ffd000 260.5deg,#ff6900 289.5deg,#ff1900 308.5deg,#ff0000 318.9deg,#8000ff 318.9deg,#1d06ff 360.0deg)"></i><i style="left:16.00px;top:16.00px;width:52.00px;height:52.00px;background:conic-gradient(#1d07ff 0.0deg,#004bff 11.0deg,#0099ff 22.5deg,#00f8ff 34.0deg,#00ffb3 39.0deg,#00ff48 44.0deg,#00ff00 49.5deg,#70ff00 56.5deg,#dbf500 67.0deg,#f5eb00 71.0deg,#ffd100 80.0deg,#ff6800 109.5deg,#ff1800 128.5deg,#ff0000 138.7deg,#8000ff 138.7deg,#1e04ff 179.5deg,#004bff 191.0deg,#0099ff 202.5deg,#00f8ff 214.0deg,#00ffb3 219.0deg,#00ff48 224.0deg,#00ff00 229.5deg,#70ff00 236.5deg,#dbf500 247.0deg,#f5eb00 251.0deg,#ffd100 260.0deg,#ff6800 289.5deg,#ff1800 308.5deg,#ff0000 318.7deg,#8000ff 318.7deg,#1e04ff 359.5deg,#1d07ff 360.0deg)"></i><i style="left:17.00px;top:17.00px;width:50.00px;height:50.00px;background:conic-gradient(#1d07ff 0.0deg,#004bff 11.0deg,#0099ff 22.5deg,#00f8ff 34.0deg,#00ffb3 39.0deg,#00ff48 44.0deg,#01ff00 49.5deg,#70ff00 56.5deg,#dcf500 67.0deg,#f5eb00 71.0deg,#ffcf00 80.5deg,#ff6700 109.5deg,#ff1900 128.0deg,#ff0000 138.5deg,#8000ff 138.5deg,#1e04ff 179.5deg,#004bff 191.0deg,#0099ff 202.5deg,#00f8ff 214.0deg,#00ffb3 219.0deg,#00ff48 224.0deg,#01ff00 229.5deg,#70ff00 236.5deg,#dcf500 247.0deg,#f5eb00 251.0deg,#ffcf00 260.5deg,#ff6700 289.5deg,#ff1900 308.0deg,#ff0000 318.5deg,#8000ff 318.5deg,#1e04ff 359.5deg,#1d07ff 360.0deg)"></i><i style="left:18.00px;top:18.00px;width:48.00px;height:48.00px;background:conic-gradient(#1c07ff 0.0deg,#004bff 11.0deg,#0099ff 22.5deg,#00f7ff 34.0deg,#00ffb3 39.0deg,#00ff48 44.0deg,#01ff00 49.5deg,#6bff00 56.0deg,#ddf400 67.0deg,#f4ec00 70.5deg,#ffd000 80.0deg,#ff6700 109.0deg,#ff1800 128.0deg,#ff0000 138.3deg,#8000ff 138.3deg,#1e04ff 179.5deg,#004bff 191.0deg,#0099ff 202.5deg,#00f7ff 214.0deg,#00ffb3 219.0deg,#00ff48 224.0deg,#01ff00 229.5deg,#6bff00 236.0deg,#ddf400 247.0deg,#f4ec00 250.5deg,#ffd000 260.0deg,#ff6700 289.0deg,#ff1800 308.0deg,#ff0000 318.3deg,#8000ff 318.3deg,#1e04ff 359.5deg,#1c07ff 360.0deg)"></i><i style="left:19.00px;top:19.00px;width:46.00px;height:46.00px;background:conic-gradient(#1c07ff 0.0deg,#004aff 11.0deg,#0098ff 22.5deg,#00f9fa 34.5deg,#00ffb4 39.0deg,#00ff48 44.0deg,#02ff00 49.5deg,#6cff00 56.0deg,#def400 67.0deg,#f4eb00 70.5deg,#ffd100 79.5deg,#ff6800 108.5deg,#ff1900 127.5deg,#ff0000 138.0deg,#8000ff 138.0deg,#1e04ff 179.5deg,#004aff 191.0deg,#0098ff 202.5deg,#00f9fa 214.5deg,#00ffb4 219.0deg,#00ff48 224.0deg,#02ff00 229.5deg,#6cff00 236.0deg,#def400 247.0deg,#f4eb00 250.5deg,#ffd100 259.5deg,#ff6800 288.5deg,#ff1900 307.5deg,#ff0000 318.0deg,#8000ff 318.0deg,#1e04ff 359.5deg,#1c07ff 360.0deg)"></i><i style="left:20.00px;top:20.00px;width:44.00px;height:44.00px;background:conic-gradient(#1c08ff 0.0deg,#004bff 11.0deg,#0099ff 22.5deg,#00f9f9 34.5deg,#00ffb3 39.0deg,#00ff47 44.0deg,#03ff00 49.5deg,#6dff00 56.0deg,#dcf500 66.5deg,#f5eb00 70.5deg,#ffcd00 80.5deg,#ff6600 108.5deg,#ff1900 127.0deg,#ff0000 137.6deg,#8000ff 137.6deg,#1e05ff 179.5deg,#004bff 191.0deg,#0099ff 202.5deg,#00f9f9 214.5deg,#00ffb3 219.0deg,#00ff47 224.0deg,#03ff00 229.5deg,#6dff00 236.0deg,#dcf500 246.5deg,#f5eb00 250.5deg,#ffcd00 260.5deg,#ff6600 288.5deg,#ff1900 307.0deg,#ff0000 317.6deg,#8000ff 317.6deg,#1e05ff 359.5deg,#1c08ff 360.0deg)"></i><i style="left:21.00px;top:21.00px;width:42.00px;height:42.00px;background:conic-gradient(#1c09ff 0.0deg,#004bff 11.0deg,#0099ff 22.5deg,#00f9f9 34.5deg,#00ffb2 39.0deg,#00ff46 44.0deg,#05ff00 49.5deg,#6fff00 56.0deg,#def400 66.5deg,#f4eb00 70.0deg,#ffd000 79.0deg,#ff6600 108.0deg,#ff1900 126.5deg,#ff0000 137.2deg,#8000ff 137.2deg,#1d06ff 179.5deg,#004bff 191.0deg,#0099ff 202.5deg,#00f9f9 214.5deg,#00ffb2 219.0deg,#00ff46 224.0deg,#05ff00 229.5deg,#6fff00 236.0deg,#def400 246.5deg,#f4eb00 250.0deg,#ffd000 259.0deg,#ff6600 288.0deg,#ff1900 306.5deg,#ff0000 317.2deg,#8000ff 317.2deg,#1d06ff 359.5deg,#1c09ff 360.0deg)"></i><i style="left:22.00px;top:22.00px;width:40.00px;height:40.00px;background:conic-gradient(#1b09ff 0.0deg,#004bff 11.0deg,#0099ff 22.5deg,#00f9f9 34.5deg,#00ffb2 39.0deg,#00ff46 44.0deg,#06ff00 49.5deg,#70ff00 56.0deg,#e0f400 66.5deg,#f7e900 70.5deg,#ffc600 82.0deg,#ff6400 108.0deg,#ff1900 126.0deg,#ff0000 136.7deg,#8000ff 136.7deg,#1e03ff 179.0deg,#004bff 191.0deg,#0099ff 202.5deg,#00f9f9 214.5deg,#00ffb2 219.0deg,#00ff46 224.0deg,#06ff00 229.5deg,#70ff00 236.0deg,#e0f400 246.5deg,#f7e900 250.5deg,#ffc600 262.0deg,#ff6400 288.0deg,#ff1900 306.0deg,#ff0000 316.7deg,#8000ff 316.7deg,#1e03ff 359.0deg,#1b09ff 360.0deg)"></i><i style="left:23.00px;top:23.00px;width:38.00px;height:38.00px;background:conic-gradient(#1b0aff 0.0deg,#004bff 11.0deg,#0098ff 22.5deg,#00f9fa 34.5deg,#00ffb3 39.0deg,#00ff46 44.0deg,#00ff02 49.0deg,#71ff00 56.0deg,#ddf400 66.0deg,#f4eb00 69.5deg,#ffd000 78.5deg,#ff6600 107.0deg,#ff1900 125.5deg,#ff0000 136.2deg,#8000ff 136.2deg,#1e04ff 179.0deg,#004bff 191.0deg,#0098ff 202.5deg,#00f9fa 214.5deg,#00ffb3 219.0deg,#00ff46 224.0deg,#00ff02 229.0deg,#71ff00 236.0deg,#ddf400 246.0deg,#f4eb00 249.5deg,#ffd000 258.5deg,#ff6600 287.0deg,#ff1900 305.5deg,#ff0000 316.2deg,#8000ff 316.2deg,#1e04ff 359.0deg,#1b0aff 360.0deg)"></i><i style="left:24.00px;top:24.00px;width:36.00px;height:36.00px;background:conic-gradient(#1b0aff 0.0deg,#004eff 11.5deg,#009cff 23.0deg,#00f8fb 34.5deg,#00ffb5 39.0deg,#00ff47 44.0deg,#07ff00 49.5deg,#6cff00 55.5deg,#daf500 65.5deg,#f4ec00 69.0deg,#ffd200 77.5deg,#ff6500 106.5deg,#ff1800 125.0deg,#ff0000 135.7deg,#8000ff 135.7deg,#1e04ff 179.0deg,#004eff 191.5deg,#009cff 203.0deg,#00f8fb 214.5deg,#00ffb5 219.0deg,#00ff47 224.0deg,#07ff00 229.5deg,#6cff00 235.5deg,#daf500 245.5deg,#f4ec00 249.0deg,#ffd200 257.5deg,#ff6500 286.5deg,#ff1800 305.0deg,#ff0000 315.7deg,#8000ff 315.7deg,#1e04ff 359.0deg,#1b0aff 360.0deg)"></i><i style="left:25.00px;top:25.00px;width:34.00px;height:34.00px;background:conic-gradient(#1b0aff 0.0deg,#004dff 11.5deg,#009aff 23.0deg,#00f8fe 34.5deg,#00ffad 39.5deg,#00ff49 44.0deg,#05ff00 49.5deg,#6cff00 55.5deg,#dcf500 65.5deg,#f4eb00 69.0deg,#ffcf00 78.0deg,#ff6400 106.0deg,#ff1900 124.0deg,#ff0000 135.1deg,#8000ff 135.1deg,#1e04ff 179.0deg,#004dff 191.5deg,#009aff 203.0deg,#00f8fe 214.5deg,#00ffad 219.5deg,#00ff49 224.0deg,#05ff00 229.5deg,#6cff00 235.5deg,#dcf500 245.5deg,#f4eb00 249.0deg,#ffcf00 258.0deg,#ff6400 286.0deg,#ff1900 304.0deg,#ff0000 315.1deg,#8000ff 315.1deg,#1e04ff 359.0deg,#1b0aff 360.0deg)"></i><i style="left:26.00px;top:26.00px;width:32.00px;height:32.00px;background:conic-gradient(#190eff 0.0deg,#004eff 11.0deg,#009cff 23.0deg,#00f8fc 35.0deg,#00ffaf 40.0deg,#00ff46 45.0deg,#06ff00 50.5deg,#72ff00 57.0deg,#e2f300 67.0deg,#f7e900 70.5deg,#ffc900 80.5deg,#ff6000 106.5deg,#ff1900 123.5deg,#ff0000 134.4deg,#8000ff 134.4deg,#1e04ff 178.0deg,#004bff 190.5deg,#0098ff 202.5deg,#00f8fc 215.0deg,#00ffaf 220.0deg,#00ff46 225.0deg,#06ff00 230.5deg,#72ff00 237.0deg,#e2f300 247.0deg,#f7e900 250.5deg,#ffc900 260.5deg,#ff6000 286.5deg,#ff1900 303.5deg,#ff0000 314.4deg,#8000ff 314.4deg,#1e04ff 358.0deg,#190eff 360.0deg)"></i><i style="left:27.00px;top:27.00px;width:30.00px;height:30.00px;background:conic-gradient(#1516ff 0.0deg,#004eff 10.0deg,#00a0ff 23.0deg,#00f9f9 35.5deg,#00ffb1 40.5deg,#00ff44 46.0deg,#06ff00 51.5deg,#71ff00 58.0deg,#def400 67.5deg,#f6ea00 71.0deg,#ffcd00 79.5deg,#ff6100 106.0deg,#ff1900 122.5deg,#ff0000 133.4deg,#8000ff 133.4deg,#1d05ff 177.0deg,#004bff 189.5deg,#009cff 202.5deg,#00f9f9 215.5deg,#00ffb1 220.5deg,#00ff44 226.0deg,#06ff00 231.5deg,#71ff00 238.0deg,#def400 247.5deg,#f6ea00 251.0deg,#ffcd00 259.5deg,#ff6100 286.0deg,#ff1900 302.5deg,#ff0000 313.4deg,#8000ff 313.4deg,#1d05ff 357.0deg,#1516ff 360.0deg)"></i><i style="left:28.00px;top:28.00px;width:28.00px;height:28.00px;background:conic-gradient(#1020ff 0.0deg,#004fff 8.5deg,#00a3ff 22.5deg,#00f8fe 35.0deg,#00ffb5 40.5deg,#00ff43 46.5deg,#04ff00 52.0deg,#70ff00 58.5deg,#dff400 68.0deg,#f5eb00 71.0deg,#ffcd00 79.5deg,#ff5f00 105.0deg,#ff1900 121.0deg,#ff0000 131.4deg,#8000ff 131.4deg,#1d05ff 175.0deg,#004cff 188.0deg,#00a0ff 202.0deg,#00f8fe 215.0deg,#00ffb5 220.5deg,#00ff43 226.5deg,#04ff00 232.0deg,#70ff00 238.5deg,#dff400 248.0deg,#f5eb00 251.0deg,#ffcd00 259.5deg,#ff5f00 285.0deg,#ff1900 301.0deg,#ff0000 311.4deg,#8000ff 311.4deg,#1d05ff 355.0deg,#1020ff 360.0deg)"></i><i style="left:29.00px;top:29.00px;width:26.00px;height:26.00px;background:conic-gradient(#0b2aff 0.0deg,#0058ff 9.0deg,#00c7ff 27.0deg,#00f9f9 35.5deg,#00ffb3 41.0deg,#00ff45 47.0deg,#00ff00 52.5deg,#74ff00 59.5deg,#e1f300 68.5deg,#f8e800 72.0deg,#ffb300 85.0deg,#ff5a00 104.5deg,#ff1900 119.0deg,#ff0000 129.3deg,#8000ff 129.3deg,#1d05ff 173.0deg,#004cff 186.5deg,#00a1ff 201.5deg,#00f9f9 215.5deg,#00ffb3 221.0deg,#00ff45 227.0deg,#00ff00 232.5deg,#74ff00 239.5deg,#e1f300 248.5deg,#f8e800 252.0deg,#ffb300 265.0deg,#ff5a00 284.5deg,#ff1900 299.0deg,#ff0000 309.3deg,#8000ff 309.3deg,#1d05ff 353.0deg,#0b2aff 360.0deg)"></i><i style="left:30.00px;top:30.00px;width:24.00px;height:24.00px;background:conic-gradient(#0634ff 0.0deg,#009bff 20.0deg,#00f9f9 36.0deg,#00ffaf 42.0deg,#00ff44 48.0deg,#01ff00 53.5deg,#71ff00 60.0deg,#def400 68.5deg,#f4ec00 71.0deg,#ffd200 77.5deg,#ff5b00 102.5deg,#ff1900 117.0deg,#ff0000 127.0deg,#8000ff 127.0deg,#1e05ff 171.0deg,#004cff 185.0deg,#00a4ff 201.5deg,#00f9f9 216.0deg,#00ffaf 222.0deg,#00ff44 228.0deg,#01ff00 233.5deg,#71ff00 240.0deg,#def400 248.5deg,#f4ec00 251.0deg,#ffd200 257.5deg,#ff5b00 282.5deg,#ff1900 297.0deg,#ff0000 307.0deg,#8000ff 307.0deg,#1e05ff 351.0deg,#0634ff 360.0deg)"></i><i style="left:31.00px;top:31.00px;width:22.00px;height:22.00px;background:conic-gradient(#023cff 0.0deg,#0099ff 19.5deg,#00f9f9 37.0deg,#00ffb3 43.0deg,#00ff41 49.5deg,#00ff02 54.5deg,#7aff00 61.5deg,#e1f300 69.0deg,#f8e800 72.0deg,#ffb700 82.5deg,#ff1900 114.0deg,#ff0000 124.2deg,#8000ff 124.2deg,#1d05ff 169.0deg,#004bff 183.5deg,#00a5ff 201.5deg,#00f9f9 217.0deg,#00ffb3 223.0deg,#00ff41 229.5deg,#00ff02 234.5deg,#7aff00 241.5deg,#e1f300 249.0deg,#f8e800 252.0deg,#ffb700 262.5deg,#ff1900 294.0deg,#ff0000 304.2deg,#8000ff 304.2deg,#1d05ff 349.0deg,#023cff 360.0deg)"></i><i style="left:32.00px;top:32.00px;width:20.00px;height:20.00px;background:conic-gradient(#0042ff 0.0deg,#009dff 20.5deg,#00f8fb 38.5deg,#00ffb1 45.0deg,#00ff40 51.5deg,#05ff00 56.5deg,#79ff00 62.5deg,#dff400 69.0deg,#f6e900 71.5deg,#ffc900 78.0deg,#ff1b00 110.0deg,#ff0000 120.8deg,#8000ff 120.8deg,#1d05ff 167.0deg,#004bff 182.5deg,#00a7ff 202.5deg,#00f8fb 218.5deg,#00ffb1 225.0deg,#00ff40 231.5deg,#05ff00 236.5deg,#79ff00 242.5deg,#dff400 249.0deg,#f6e900 251.5deg,#ffc900 258.0deg,#ff1b00 290.0deg,#ff0000 300.8deg,#8000ff 300.8deg,#1d05ff 347.0deg,#0042ff 360.0deg)"></i><i style="left:33.00px;top:33.00px;width:18.00px;height:18.00px;background:conic-gradient(#0045ff 0.0deg,#00a2ff 23.0deg,#00f8fb 41.5deg,#00ffb3 48.0deg,#00ff3d 54.5deg,#00ff01 58.5deg,#7dff00 64.0deg,#e7f200 69.5deg,#ffde00 73.0deg,#ff1f00 104.5deg,#ff0000 116.7deg,#8000ff 116.7deg,#1d05ff 165.0deg,#004cff 182.0deg,#00acff 205.0deg,#00f8fb 221.5deg,#00ffb3 228.0deg,#00ff3d 234.5deg,#00ff01 238.5deg,#7dff00 244.0deg,#e7f200 249.5deg,#ffde00 253.0deg,#ff1f00 284.5deg,#ff0000 296.7deg,#8000ff 296.7deg,#1d05ff 345.0deg,#0045ff 360.0deg)"></i><i style="left:34.00px;top:34.00px;width:16.00px;height:16.00px;background:conic-gradient(#013eff 0.0deg,#009fff 27.5deg,#00f8fc 48.0deg,#00ffb6 54.0deg,#00ff31 60.0deg,#06ff00 62.5deg,#7cff00 66.0deg,#f0f000 70.0deg,#ffd500 73.0deg,#ff8400 83.5deg,#ff2200 99.5deg,#ff0000 113.3deg,#8000ff 113.3deg,#1e05ff 165.5deg,#004aff 184.0deg,#00aaff 210.0deg,#00f8fc 228.0deg,#00ffb6 234.0deg,#00ff31 240.0deg,#06ff00 242.5deg,#7cff00 246.0deg,#f0f000 250.0deg,#ffd500 253.0deg,#ff8400 263.5deg,#ff2200 279.5deg,#ff0000 293.3deg,#8000ff 293.3deg,#1e05ff 345.5deg,#013eff 360.0deg)"></i><i style="left:35.00px;top:35.00px;width:14.00px;height:14.00px;background:conic-gradient(#0733ff 0.0deg,#00b2ff 42.5deg,#00f8fc 60.5deg,#00fec7 63.5deg,#00ff9d 64.5deg,#00ff14 66.5deg,#23ff00 67.0deg,#a7ff00 68.0deg,#e2f300 68.5deg,#fce300 69.0deg,#ffa100 71.5deg,#ff5f00 78.0deg,#ff1e00 92.0deg,#ff0000 107.2deg,#8000ff 107.2deg,#1e05ff 166.5deg,#004bff 188.0deg,#00c2ff 227.0deg,#00f8fc 240.5deg,#00fec7 243.5deg,#00ff9d 244.5deg,#00ff14 246.5deg,#23ff00 247.0deg,#a7ff00 248.0deg,#e2f300 248.5deg,#fce300 249.0deg,#ffa100 251.5deg,#ff5f00 258.0deg,#ff1e00 272.0deg,#ff0000 287.2deg,#8000ff 287.2deg,#1e05ff 346.5deg,#0733ff 360.0deg)"></i><i style="left:36.00px;top:36.00px;width:12.00px;height:12.00px;background:conic-gradient(#0d26ff 0.0deg,#0050ff 17.5deg,#007bff 48.5deg,#0066ff 58.5deg,#013fff 63.5deg,#2200ff 67.0deg,#6500ff 74.5deg,#7c00ff 84.5deg,#6500ff 116.0deg,#1d06ff 168.5deg,#004bff 195.0deg,#007bff 228.0deg,#0069ff 238.0deg,#013fff 243.5deg,#2200ff 247.0deg,#6500ff 254.5deg,#7c00ff 264.5deg,#6500ff 296.0deg,#1d06ff 348.5deg,#0d26ff 360.0deg)"></i><i style="left:37.00px;top:37.00px;width:10.00px;height:10.00px;background:conic-gradient(#1615ff 0.0deg,#0045ff 31.5deg,#013eff 50.0deg,#1a0dff 62.0deg,#2500ff 65.5deg,#5800ff 84.5deg,#5b00ff 110.0deg,#1d06ff 173.0deg,#0044ff 209.5deg,#003fff 229.5deg,#1810ff 241.5deg,#2500ff 245.5deg,#5800ff 264.5deg,#5b00ff 290.0deg,#1d06ff 353.0deg,#1615ff 360.0deg)"></i><i style="left:38.00px;top:38.00px;width:8.00px;height:8.00px;background:conic-gradient(#1f02ff 0.0deg,#121cff 33.0deg,#1d05ff 54.5deg,#4b00ff 96.0deg,#3b00ff 142.5deg,#1d07ff 183.5deg,#121cff 215.0deg,#2700ff 242.5deg,#4c00ff 277.0deg,#3900ff 325.0deg,#1f02ff 360.0deg)"></i><i style="left:39.00px;top:39.00px;width:6.00px;height:6.00px;background:conic-gradient(#2800ff 0.0deg,#2900ff 53.0deg,#4000ff 113.5deg,#2300ff 217.0deg,#4000ff 294.0deg,#2800ff 360.0deg)"></i><i style="left:40.00px;top:40.00px;width:4.00px;height:4.00px;background:conic-gradient(#2f00ff 0.0deg,#3400ff 154.5deg,#3400ff 251.5deg,#3000ff 353.0deg,#2f00ff 360.0deg)"></i><i style="left:41.00px;top:41.00px;width:2.00px;height:2.00px;background:conic-gradient(#3400ff 0.0deg,#3400ff 360.0deg)"></i></div>
<div class="p" style="left:123.20px;top:150.90px;width:84.00px;height:84.00px"><i style="left:-18.00px;top:-18.00px;width:120.00px;height:120.00px;background:conic-gradient(#6100ff 0.0deg,#1e04ff 16.0deg,#004bff 30.5deg,#0066ff 39.5deg,#0069ff 47.5deg,#00c2ff 58.5deg,#00f8fb 72.0deg,#00ffaf 83.5deg,#00ff50 94.0deg,#01ff00 111.5deg,#74ff00 122.5deg,#bffb00 133.0deg,#f3ec00 142.0deg,#ffd200 149.0deg,#ff7500 160.0deg,#ff1b00 167.0deg,#ff0000 173.0deg,#8000ff 173.0deg,#1e04ff 196.0deg,#004bff 210.5deg,#0066ff 219.5deg,#0069ff 227.5deg,#00c2ff 238.5deg,#00f8fb 252.0deg,#00ffaf 263.5deg,#00ff50 274.0deg,#01ff00 291.5deg,#74ff00 302.5deg,#bffb00 313.0deg,#f3ec00 322.0deg,#ffd200 329.0deg,#ff7500 340.0deg,#ff1b00 347.0deg,#ff0000 353.0deg,#8000ff 353.0deg,#6100ff 360.0deg)"></i><i style="left:-17.00px;top:-17.00px;width:118.00px;height:118.00px;background:conic-gradient(#6100ff 0.0deg,#1e04ff 16.0deg,#004bff 30.5deg,#0066ff 39.5deg,#0069ff 47.5deg,#00c2ff 58.5deg,#00f8fb 72.0deg,#00ffaf 83.5deg,#00ff50 94.0deg,#01ff00 111.5deg,#74ff00 122.5deg,#bffb00 133.0deg,#f3ec00 142.0deg,#ffd200 149.0deg,#ff7500 160.0deg,#ff1b00 167.0deg,#ff0000 173.0deg,#8000ff 173.0deg,#1e04ff 196.0deg,#004bff 210.5deg,#0066ff 219.5deg,#0069ff 227.5deg,#00c2ff 238.5deg,#00f8fb 252.0deg,#00ffaf 263.5deg,#00ff50 274.0deg,#01ff00 291.5deg,#74ff00 302.5deg,#bffb00 313.0deg,#f3ec00 322.0deg,#ffd200 329.0deg,#ff7500 340.0deg,#ff1b00 347.0deg,#ff0000 353.0deg,#8000ff 353.0deg,#6100ff 360.0deg)"></i><i style="left:-16.00px;top:-16.00px;width:116.00px;height:116.00px;background:conic-gradient(#6100ff 0.0deg,#1e04ff 16.0deg,#004bff 30.5deg,#0066ff 39.5deg,#0069ff 47.5deg,#00c2ff 58.5deg,#00f8fb 72.0deg,#00ffaf 83.5deg,#00ff50 94.0deg,#01ff00 111.5deg,#75ff00 122.5deg,#bffb00 133.0deg,#f3ec00 142.0deg,#ffd200 149.0deg,#ff7500 160.0deg,#ff1b00 167.0deg,#ff0000 173.0deg,#8000ff 173.0deg,#1e04ff 196.0deg,#004bff 210.5deg,#0066ff 219.5deg,#0069ff 227.5deg,#00c2ff 238.5deg,#00f8fb 252.0deg,#00ffaf 263.5deg,#00ff50 274.0deg,#01ff00 291.5deg,#75ff00 302.5deg,#bffb00 313.0deg,#f3ec00 322.0deg,#ffd200 329.0deg,#ff7500 340.0deg,#ff1b00 347.0deg,#ff0000 353.0deg,#8000ff 353.0deg,#6100ff 360.0deg)"></i><i style="left:-15.00px;top:-15.00px;width:114.00px;height:114.00px;background:conic-gradient(#6100ff 0.0deg,#1e04ff 16.0deg,#004bff 30.5deg,#0066ff 39.5deg,#006dff 48.0deg,#00c2ff 58.5deg,#00f8fb 72.0deg,#00ffaf 83.5deg,#00ff50 94.0deg,#01ff00 111.5deg,#75ff00 122.5deg,#bffb00 133.0deg,#f3ec00 142.0deg,#ffd200 149.0deg,#ff7500 160.0deg,#ff1b00 167.0deg,#ff0000 173.0deg,#8000ff 173.0deg,#1e04ff 196.0deg,#004bff 210.5deg,#0066ff 219.5deg,#006dff 228.0deg,#00c2ff 238.5deg,#00f8fb 252.0deg,#00ffaf 263.5deg,#00ff50 274.0deg,#01ff00 291.5deg,#75ff00 302.5deg,#bffb00 313.0deg,#f3ec00 322.0deg,#ffd200 329.0deg,#ff7500 340.0deg,#ff1b00 347.0deg,#ff0000 353.0deg,#8000ff 353.0deg,#6100ff 360.0deg)"></i><i style="left:-14.00px;top:-14.00px;width:112.00px;height:112.00px;background:conic-gradient(#6100ff 0.0deg,#1e04ff 16.0deg,#004bff 30.5deg,#0066ff 39.5deg,#006dff 48.0deg,#00c2ff 58.5deg,#00f8fb 72.0deg,#00ffaf 83.5deg,#00ff50 94.0deg,#01ff00 111.5deg,#75ff00 122.5deg,#c0fb00 133.0deg,#f3ec00 142.0deg,#ffd200 149.0deg,#ff7500 160.0deg,#ff1b00 167.0deg,#ff0000 173.0deg,#8000ff 173.0deg,#1e04ff 196.0deg,#004bff 210.5deg,#0066ff 219.5deg,#006dff 228.0deg,#00c2ff 238.5deg,#00f8fb 252.0deg,#00ffaf 263.5deg,#00ff50 274.0deg,#01ff00 291.5deg,#75ff00 302.5deg,#c0fb00 313.0deg,#f3ec00 322.0deg,#ffd200 329.0deg,#ff7500 340.0deg,#ff1b00 347.0deg,#ff0000 353.0deg,#8000ff 353.0deg,#6100ff 360.0deg)"></i><i style="left:-13.00px;top:-13.00px;width:110.00px;height:110.00px;background:conic-gradient(#6100ff 0.0deg,#1e04ff 16.0deg,#004bff 30.5deg,#0066ff 39.5deg,#006dff 48.0deg,#00c2ff 58.5deg,#00f8fb 72.0deg,#00ffaf 83.5deg,#00ff50 94.0deg,#01ff00 111.5deg,#75ff00 122.5deg,#c0fb00 133.0deg,#f3ec00 142.0deg,#ffd200 149.0deg,#ff7500 160.0deg,#ff1a00 167.0deg,#ff0000 173.0deg,#8000ff 173.0deg,#1e04ff 196.0deg,#004bff 210.5deg,#0066ff 219.5deg,#006dff 228.0deg,#00c2ff 238.5deg,#00f8fb 252.0deg,#00ffaf 263.5deg,#00ff50 274.0deg,#01ff00 291.5deg,#75ff00 302.5deg,#c0fb00 313.0deg,#f3ec00 322.0deg,#ffd200 329.0deg,#ff7500 340.0deg,#ff1a00 347.0deg,#ff0000 353.0deg,#8000ff 353.0deg,#6100ff 360.0deg)"></i><i style="left:-12.00px;top:-12.00px;width:108.00px;height:108.00px;background:conic-gradient(#6100ff 0.0deg,#1e04ff 16.0deg,#004bff 30.5deg,#0066ff 39.5deg,#006dff 48.0deg,#00c2ff 58.5deg,#00f8fb 72.0deg,#00ffaf 83.5deg,#00ff50 94.0deg,#01ff00 111.5deg,#75ff00 122.5deg,#c0fb00 133.0deg,#f3ec00 142.0deg,#ffd200 149.0deg,#ff7500 160.0deg,#ff1a00 167.0deg,#ff0000 173.0deg,#8000ff 173.0deg,#1e04ff 196.0deg,#004bff 210.5deg,#0066ff 219.5deg,#006dff 228.0deg,#00c2ff 238.5deg,#00f8fb 252.0deg,#00ffaf 263.5deg,#00ff50 274.0deg,#01ff00 291.5deg,#75ff00 302.5deg,#c0fb00 313.0deg,#f3ec00 322.0deg,#ffd200 329.0deg,#ff7500 340.0deg,#ff1a00 347.0deg,#ff0000 353.0deg,#8000ff 353.0deg,#6100ff 360.0deg)"></i><i style="left:-11.00px;top:-11.00px;width:106.00px;height:106.00px;background:conic-gradient(#6100ff 0.0deg,#1e04ff 16.0deg,#004bff 30.5deg,#0066ff 39.5deg,#006dff 48.0deg,#00c2ff 58.5deg,#00f8fb 72.0deg,#00ffaf 83.5deg,#00ff50 94.0deg,#01ff00 111.5deg,#75ff00 122.5deg,#c0fb00 133.0deg,#f3ec00 142.0deg,#ffd200 149.0deg,#ff7500 160.0deg,#ff1a00 167.0deg,#ff0000 173.0deg,#8000ff 173.0deg,#1e04ff 196.0deg,#004bff 210.5deg,#0066ff 219.5deg,#006dff 228.0deg,#00c2ff 238.5deg,#00f8fb 252.0deg,#00ffaf 263.5deg,#00ff50 274.0deg,#01ff00 291.5deg,#75ff00 302.5deg,#c0fb00 313.0deg,#f3ec00 322.0deg,#ffd200 329.0deg,#ff7500 340.0deg,#ff1a00 347.0deg,#ff0000 353.0deg,#8000ff 353.0deg,#6100ff 360.0deg)"></i><i style="left:-10.00px;top:-10.00px;width:104.00px;height:104.00px;background:conic-gradient(#6100ff 0.0deg,#1e04ff 16.0deg,#004bff 30.5deg,#0066ff 39.5deg,#006dff 48.0deg,#00c2ff 58.5deg,#00f8fb 72.0deg,#00ffaf 83.5deg,#00ff50 94.0deg,#01ff00 111.5deg,#75ff00 122.5deg,#c3fb00 133.5deg,#f3ec00 142.0deg,#ffd200 149.0deg,#ff7400 160.0deg,#ff1a00 167.0deg,#ff0000 173.0deg,#8000ff 173.0deg,#1e04ff 196.0deg,#004bff 210.5deg,#0066ff 219.5deg,#006dff 228.0deg,#00c2ff 238.5deg,#00f8fb 252.0deg,#00ffaf 263.5deg,#00ff50 274.0deg,#01ff00 291.5deg,#75ff00 302.5deg,#c3fb00 313.5deg,#f3ec00 322.0deg,#ffd200 329.0deg,#ff7400 340.0deg,#ff1a00 347.0deg,#ff0000 353.0deg,#8000ff 353.0deg,#6100ff 360.0deg)"></i><i style="left:-9.00px;top:-9.00px;width:102.00px;height:102.00px;background:conic-gradient(#6100ff 0.0deg,#1e04ff 16.0deg,#004bff 30.5deg,#0066ff 39.5deg,#006dff 48.0deg,#00c2ff 58.5deg,#00f8fb 72.0deg,#00ffaf 83.5deg,#00ff50 94.0deg,#01ff00 111.5deg,#75ff00 122.5deg,#c3fb00 133.5deg,#f3ec00 142.0deg,#ffd200 149.0deg,#ff7400 160.0deg,#ff1a00 167.0deg,#ff0000 173.0deg,#8000ff 173.0deg,#1e04ff 196.0deg,#004bff 210.5deg,#0066ff 219.5deg,#006dff 228.0deg,#00c2ff 238.5deg,#00f8fb 252.0deg,#00ffaf 263.5deg,#00ff50 274.0deg,#01ff00 291.5deg,#75ff00 302.5deg,#c3fb00 313.5deg,#f3ec00 322.0deg,#ffd200 329.0deg,#ff7400 340.0deg,#ff1a00 347.0deg,#ff0000 353.0deg,#8000ff 353.0deg,#6100ff 360.0deg)"></i><i style="left:-8.00px;top:-8.00px;width:100.00px;height:100.00px;background:conic-gradient(#6100ff 0.0deg,#1e04ff 16.0deg,#004bff 30.5deg,#0066ff 39.5deg,#006dff 48.0deg,#00c2ff 58.5deg,#00f8fc 72.0deg,#00ffaf 83.5deg,#00ff50 94.0deg,#01ff00 111.5deg,#75ff00 122.5deg,#c3fb00 133.5deg,#f4ec00 142.0deg,#ffd200 149.0deg,#ff7400 160.0deg,#ff1a00 167.0deg,#ff0000 173.0deg,#8000ff 173.0deg,#1e04ff 196.0deg,#004bff 210.5deg,#0066ff 219.5deg,#006dff 228.0deg,#00c2ff 238.5deg,#00f8fc 252.0deg,#00ffaf 263.5deg,#00ff50 274.0deg,#01ff00 291.5deg,#75ff00 302.5deg,#c3fb00 313.5deg,#f4ec00 322.0deg,#ffd200 329.0deg,#ff7400 340.0deg,#ff1a00 347.0deg,#ff0000 353.0deg,#8000ff 353.0deg,#6100ff 360.0deg)"></i><i style="left:-7.00px;top:-7.00px;width:98.00px;height:98.00px;background:conic-gradient(#6100ff 0.0deg,#1e04ff 16.0deg,#004bff 30.5deg,#0066ff 39.5deg,#006dff 48.0deg,#00c2ff 58.5deg,#00f8fc 72.0deg,#00ffaf 83.5deg,#00ff50 94.0deg,#01ff00 111.5deg,#75ff00 122.5deg,#c3fb00 133.5deg,#f4ec00 142.0deg,#ffd200 149.0deg,#ff7400 160.0deg,#ff1a00 167.0deg,#ff0000 172.9deg,#8000ff 172.9deg,#1e04ff 196.0deg,#004bff 210.5deg,#0066ff 219.5deg,#006dff 228.0deg,#00c2ff 238.5deg,#00f8fc 252.0deg,#00ffaf 263.5deg,#00ff50 274.0deg,#01ff00 291.5deg,#75ff00 302.5deg,#c3fb00 313.5deg,#f4ec00 322.0deg,#ffd200 329.0deg,#ff7400 340.0deg,#ff1a00 347.0deg,#ff0000 352.9deg,#8000ff 352.9deg,#6100ff 360.0deg)"></i><i style="left:-6.00px;top:-6.00px;width:96.00px;height:96.00px;background:conic-gradient(#6100ff 0.0deg,#1e04ff 16.0deg,#004bff 30.5deg,#0066ff 39.5deg,#006dff 48.0deg,#00c2ff 58.5deg,#00f8fc 72.0deg,#00ffaf 83.5deg,#00ff50 94.0deg,#01ff00 111.5deg,#75ff00 122.5deg,#c3fb00 133.5deg,#f4ec00 142.0deg,#ffd200 149.0deg,#ff7400 160.0deg,#ff1a00 167.0deg,#ff0000 172.9deg,#8000ff 172.9deg,#1e04ff 196.0deg,#004bff 210.5deg,#0066ff 219.5deg,#006dff 228.0deg,#00c2ff 238.5deg,#00f8fc 252.0deg,#00ffaf 263.5deg,#00ff50 274.0deg,#01ff00 291.5deg,#75ff00 302.5deg,#c3fb00 313.5deg,#f4ec00 322.0deg,#ffd200 329.0deg,#ff7400 340.0deg,#ff1a00 347.0deg,#ff0000 352.9deg,#8000ff 352.9deg,#6100ff 360.0deg)"></i><i style="left:-5.00px;top:-5.00px;width:94.00px;height:94.00px;background:conic-gradient(#6100ff 0.0deg,#1e04ff 16.0deg,#004bff 30.5deg,#0066ff 39.5deg,#006dff 48.0deg,#00c2ff 58.5deg,#00f8fc 72.0deg,#00ffaf 83.5deg,#00ff50 94.0deg,#01ff00 111.5deg,#75ff00 122.5deg,#c3fb00 133.5deg,#f4ec00 142.0deg,#ffd200 149.0deg,#ff7400 160.0deg,#ff1a00 167.0deg,#ff0000 172.9deg,#8000ff 172.9deg,#1e04ff 196.0deg,#004bff 210.5deg,#0066ff 219.5deg,#006dff 228.0deg,#00c2ff 238.5deg,#00f8fc 252.0deg,#00ffaf 263.5deg,#00ff50 274.0deg,#01ff00 291.5deg,#75ff00 302.5deg,#c3fb00 313.5deg,#f4ec00 322.0deg,#ffd200 329.0deg,#ff7400 340.0deg,#ff1a00 347.0deg,#ff0000 352.9deg,#8000ff 352.9deg,#6100ff 360.0deg)"></i><i style="left:-4.00px;top:-4.00px;width:92.00px;height:92.00px;background:conic-gradient(#6100ff 0.0deg,#1d07ff 16.5deg,#004bff 30.5deg,#0066ff 39.5deg,#006dff 48.0deg,#00c2ff 58.5deg,#00f8fc 72.0deg,#00ffaf 83.5deg,#00ff50 94.0deg,#01ff00 111.5deg,#75ff00 122.5deg,#c3fb00 133.5deg,#f4ec00 142.0deg,#ffd200 149.0deg,#ff7400 160.0deg,#ff1a00 167.0deg,#ff0000 172.9deg,#8000ff 172.9deg,#1e04ff 196.0deg,#004bff 210.5deg,#0066ff 219.5deg,#006dff 228.0deg,#00c2ff 238.5deg,#00f8fc 252.0deg,#00ffaf 263.5deg,#00ff50 274.0deg,#01ff00 291.5deg,#75ff00 302.5deg,#c3fb00 313.5deg,#f4ec00 322.0deg,#ffd200 329.0deg,#ff7400 340.0deg,#ff1a00 347.0deg,#ff0000 352.9deg,#8000ff 352.9deg,#6100ff 360.0deg)"></i><i style="left:-3.00px;top:-3.00px;width:90.00px;height:90.00px;background:conic-gradient(#6100ff 0.0deg,#1d07ff 16.5deg,#004bff 30.5deg,#0066ff 39.5deg,#006dff 48.0deg,#00c2ff 58.5deg,#00f8fc 72.0deg,#00ffaf 83.5deg,#00ff50 94.0deg,#01ff00 111.5deg,#75ff00 122.5deg,#c3fb00 133.5deg,#f4ec00 142.0deg,#ffd200 149.0deg,#ff7400 160.0deg,#ff1a00 167.0deg,#ff0000 172.9deg,#8000ff 172.9deg,#1e04ff 196.0deg,#004bff 210.5deg,#0066ff 219.5deg,#006dff 228.0deg,#00c2ff 238.5deg,#00f8fc 252.0deg,#00ffaf 263.5deg,#00ff50 274.0deg,#01ff00 291.5deg,#75ff00 302.5deg,#c3fb00 313.5deg,#f4ec00 322.0deg,#ffd200 329.0deg,#ff7400 340.0deg,#ff1a00 347.0deg,#ff0000 352.9deg,#8000ff 352.9deg,#6100ff 360.0deg)"></i><i style="left:-2.00px;top:-2.00px;width:88.00px;height:88.00px;background:conic-gradient(#6100ff 0.0deg,#1d07ff 16.5deg,#004bff 30.5deg,#0066ff 39.5deg,#006cff 48.0deg,#00c2ff 58.5deg,#00f8fc 72.0deg,#00ffaf 83.5deg,#00ff50 94.0deg,#01ff00 111.5deg,#75ff00 122.5deg,#c3fb00 133.5deg,#f4ec00 142.0deg,#ffd200 149.0deg,#ff7400 160.0deg,#ff1a00 167.0deg,#ff0000 172.9deg,#8000ff 172.9deg,#1e04ff 196.0deg,#004bff 210.5deg,#0066ff 219.5deg,#006cff 228.0deg,#00c2ff 238.5deg,#00f8fc 252.0deg,#00ffaf 263.5deg,#00ff50 274.0deg,#01ff00 291.5deg,#75ff00 302.5deg,#c3fb00 313.5deg,#f4ec00 322.0deg,#ffd200 329.0deg,#ff7400 340.0deg,#ff1a00 347.0deg,#ff0000 352.9deg,#8000ff 352.9deg,#6100ff 360.0deg)"></i><i style="left:-1.00px;top:-1.00px;width:86.00px;height:86.00px;background:conic-gradient(#6100ff 0.0deg,#1d07ff 16.5deg,#004bff 30.5deg,#0066ff 39.5deg,#006cff 48.0deg,#00c2ff 58.5deg,#00f8fc 72.0deg,#00ffb0 83.5deg,#00ff50 94.0deg,#02ff00 111.5deg,#75ff00 122.5deg,#c3fb00 133.5deg,#f4ec00 142.0deg,#ffd200 149.0deg,#ff7400 160.0deg,#ff1a00 167.0deg,#ff0000 172.9deg,#8000ff 172.9deg,#1e04ff 196.0deg,#004bff 210.5deg,#0066ff 219.5deg,#006cff 228.0deg,#00c2ff 238.5deg,#00f8fc 252.0deg,#00ffb0 263.5deg,#00ff50 274.0deg,#02ff00 291.5deg,#75ff00 302.5deg,#c3fb00 313.5deg,#f4ec00 322.0deg,#ffd200 329.0deg,#ff7400 340.0deg,#ff1a00 347.0deg,#ff0000 352.9deg,#8000ff 352.9deg,#6100ff 360.0deg)"></i><i style="left:0.00px;top:0.00px;width:84.00px;height:84.00px;background:conic-gradient(#5f00ff 0.0deg,#1e05ff 16.0deg,#004aff 30.0deg,#0067ff 39.5deg,#006dff 47.5deg,#00c1ff 58.0deg,#00f9f9 72.0deg,#00ffb0 83.0deg,#00ff4d 94.0deg,#04ff00 111.0deg,#77ff00 122.0deg,#c6fa00 133.0deg,#f4ec00 141.0deg,#ffd400 148.0deg,#ff7500 159.5deg,#ff1800 167.0deg,#ff0000 172.6deg,#8000ff 172.6deg,#1e05ff 196.0deg,#004aff 210.0deg,#0067ff 219.5deg,#006dff 227.5deg,#00c1ff 238.0deg,#00f9f9 252.0deg,#00ffb0 263.0deg,#00ff4d 274.0deg,#04ff00 291.0deg,#77ff00 302.0deg,#c6fa00 313.0deg,#f4ec00 321.0deg,#ffd400 328.0deg,#ff7500 339.5deg,#ff1800 347.0deg,#ff0000 352.6deg,#8000ff 352.6deg,#5f00ff 360.0deg)"></i><i style="left:1.00px;top:1.00px;width:82.00px;height:82.00px;background:conic-gradient(#5d00ff 0.0deg,#1e04ff 15.5deg,#004bff 29.5deg,#0069ff 39.0deg,#0072ff 47.0deg,#00c4ff 57.5deg,#00f9fa 71.0deg,#00ffac 82.5deg,#00ff4c 93.0deg,#06ff00 109.5deg,#7eff00 121.5deg,#f0f000 137.5deg,#ffcf00 147.5deg,#ff7600 158.5deg,#ff1a00 166.0deg,#ff0000 171.9deg,#8000ff 171.9deg,#1e04ff 195.5deg,#004bff 209.5deg,#0069ff 219.0deg,#0072ff 227.0deg,#00c4ff 237.5deg,#00f9fa 251.0deg,#00ffac 262.5deg,#00ff4c 273.0deg,#06ff00 289.5deg,#7eff00 301.5deg,#f0f000 317.5deg,#ffcf00 327.5deg,#ff7600 338.5deg,#ff1a00 346.0deg,#ff0000 351.9deg,#8000ff 351.9deg,#5d00ff 360.0deg)"></i><i style="left:2.00px;top:2.00px;width:80.00px;height:80.00px;background:conic-gradient(#5a00ff 0.0deg,#1d06ff 15.5deg,#004aff 28.5deg,#006aff 38.5deg,#0078ff 46.5deg,#00c8ff 57.5deg,#00f8fc 70.0deg,#00ffad 81.5deg,#00ff4c 92.0deg,#04ff00 107.5deg,#8aff00 121.5deg,#f2ee00 136.5deg,#ffce00 146.5deg,#ff7100 158.0deg,#ff1900 165.5deg,#ff0000 171.2deg,#8000ff 171.2deg,#1d06ff 195.5deg,#004aff 208.5deg,#006aff 218.5deg,#0078ff 226.5deg,#00c8ff 237.5deg,#00f8fc 250.0deg,#00ffad 261.5deg,#00ff4c 272.0deg,#04ff00 287.5deg,#8aff00 301.5deg,#f2ee00 316.5deg,#ffce00 326.5deg,#ff7100 338.0deg,#ff1900 345.5deg,#ff0000 351.2deg,#8000ff 351.2deg,#5a00ff 360.0deg)"></i><i style="left:3.00px;top:3.00px;width:78.00px;height:78.00px;background:conic-gradient(#5700ff 0.0deg,#1d06ff 15.0deg,#004bff 28.0deg,#006dff 38.5deg,#007eff 46.0deg,#00cbff 57.0deg,#00f9f9 69.5deg,#00ffae 80.5deg,#00ff49 91.5deg,#06ff00 106.0deg,#55ff00 114.0deg,#d6f600 130.0deg,#f4eb00 135.5deg,#ffcb00 145.5deg,#ff7100 157.0deg,#ff1800 165.0deg,#ff0000 170.5deg,#8000ff 170.5deg,#1d06ff 195.0deg,#004bff 208.0deg,#006dff 218.5deg,#007eff 226.0deg,#00cbff 237.0deg,#00f9f9 249.5deg,#00ffae 260.5deg,#00ff49 271.5deg,#06ff00 286.0deg,#55ff00 294.0deg,#d6f600 310.0deg,#f4eb00 315.5deg,#ffcb00 325.5deg,#ff7100 337.0deg,#ff1800 345.0deg,#ff0000 350.5deg,#8000ff 350.5deg,#5700ff 360.0deg)"></i><i style="left:4.00px;top:4.00px;width:76.00px;height:76.00px;background:conic-gradient(#5400ff 0.0deg,#1d07ff 14.5deg,#004aff 27.0deg,#006fff 38.0deg,#0081ff 45.0deg,#00d0ff 57.0deg,#00f9f9 68.5deg,#00ffae 79.5deg,#00ff48 90.5deg,#03ff00 104.0deg,#55ff00 112.5deg,#d5f600 128.0deg,#f4ec00 133.5deg,#ffce00 143.5deg,#ff7000 156.0deg,#ff1900 164.0deg,#ff0000 169.7deg,#8000ff 169.7deg,#1e04ff 194.0deg,#004aff 207.0deg,#006fff 218.0deg,#0081ff 225.0deg,#00d0ff 237.0deg,#00f9f9 248.5deg,#00ffae 259.5deg,#00ff48 270.5deg,#03ff00 284.0deg,#55ff00 292.5deg,#d5f600 308.0deg,#f4ec00 313.5deg,#ffce00 323.5deg,#ff7000 336.0deg,#ff1900 344.0deg,#ff0000 349.7deg,#8000ff 349.7deg,#5400ff 360.0deg)"></i><i style="left:5.00px;top:5.00px;width:74.00px;height:74.00px;background:conic-gradient(#5100ff 0.0deg,#1e04ff 13.5deg,#0049ff 26.0deg,#0074ff 38.5deg,#008bff 45.0deg,#00d5ff 57.0deg,#00f9fa 67.5deg,#00ffae 78.5deg,#00ff47 89.5deg,#04ff00 102.5deg,#a8ff00 120.5deg,#f3ed00 131.0deg,#ffd200 140.5deg,#ff8e00 151.5deg,#ff3100 160.5deg,#ff0f00 165.0deg,#ff0000 168.9deg,#8000ff 168.9deg,#1e04ff 193.5deg,#0049ff 206.0deg,#0074ff 218.5deg,#008bff 225.0deg,#00d5ff 237.0deg,#00f9fa 247.5deg,#00ffae 258.5deg,#00ff47 269.5deg,#04ff00 282.5deg,#a8ff00 300.5deg,#f3ed00 311.0deg,#ffd200 320.5deg,#ff8e00 331.5deg,#ff3100 340.5deg,#ff0f00 345.0deg,#ff0000 348.9deg,#8000ff 348.9deg,#5100ff 360.0deg)"></i><i style="left:6.00px;top:6.00px;width:72.00px;height:72.00px;background:conic-gradient(#4e00ff 0.0deg,#1e05ff 13.0deg,#004bff 25.5deg,#007eff 40.5deg,#00acff 48.5deg,#00e9ff 61.5deg,#00f9fa 66.5deg,#00ffae 77.5deg,#00ff46 88.5deg,#05ff00 101.0deg,#acff00 119.5deg,#f2ed00 129.0deg,#ffd200 138.5deg,#ffaa00 146.0deg,#ff6d00 154.0deg,#ff1800 162.5deg,#ff0000 168.1deg,#8000ff 168.1deg,#1e05ff 193.0deg,#004bff 205.5deg,#007eff 220.5deg,#00acff 228.5deg,#00e9ff 241.5deg,#00f9fa 246.5deg,#00ffae 257.5deg,#00ff46 268.5deg,#05ff00 281.0deg,#acff00 299.5deg,#f2ed00 309.0deg,#ffd200 318.5deg,#ffaa00 326.0deg,#ff6d00 334.0deg,#ff1800 342.5deg,#ff0000 348.1deg,#8000ff 348.1deg,#4e00ff 360.0deg)"></i><i style="left:7.00px;top:7.00px;width:70.00px;height:70.00px;background:conic-gradient(#4c00ff 0.0deg,#1d05ff 12.5deg,#004aff 24.5deg,#0097ff 44.0deg,#00ddff 57.0deg,#00f9fa 65.5deg,#00ffae 76.5deg,#00ff45 87.5deg,#05ff00 99.5deg,#a8ff00 117.5deg,#f3ed00 127.5deg,#ffd000 137.0deg,#ff9a00 147.0deg,#ff6700 153.5deg,#ff1a00 161.5deg,#ff0000 167.3deg,#8000ff 167.3deg,#1d05ff 192.5deg,#004aff 204.5deg,#0097ff 224.0deg,#00ddff 237.0deg,#00f9fa 245.5deg,#00ffae 256.5deg,#00ff45 267.5deg,#05ff00 279.5deg,#a8ff00 297.5deg,#f3ed00 307.5deg,#ffd000 317.0deg,#ff9a00 327.0deg,#ff6700 333.5deg,#ff1a00 341.5deg,#ff0000 347.3deg,#8000ff 347.3deg,#4c00ff 360.0deg)"></i><i style="left:8.00px;top:8.00px;width:68.00px;height:68.00px;background:conic-gradient(#4a00ff 0.0deg,#1e04ff 12.0deg,#004aff 24.0deg,#009eff 44.0deg,#00e3ff 58.0deg,#00f9f9 65.0deg,#00ffb0 75.5deg,#00ff46 86.5deg,#03ff00 98.0deg,#9eff00 115.0deg,#f3ed00 126.0deg,#ffd100 135.0deg,#ff9900 146.0deg,#ff6700 152.5deg,#ff1900 161.0deg,#ff0000 166.7deg,#8000ff 166.7deg,#1e04ff 192.0deg,#004aff 204.0deg,#009eff 224.0deg,#00e3ff 238.0deg,#00f9f9 245.0deg,#00ffb0 255.5deg,#00ff46 266.5deg,#03ff00 278.0deg,#9eff00 295.0deg,#f3ed00 306.0deg,#ffd100 315.0deg,#ff9900 326.0deg,#ff6700 332.5deg,#ff1900 341.0deg,#ff0000 346.7deg,#8000ff 346.7deg,#4a00ff 360.0deg)"></i><i style="left:9.00px;top:9.00px;width:66.00px;height:66.00px;background:conic-gradient(#4900ff 0.0deg,#1d05ff 12.0deg,#004aff 23.5deg,#00afff 46.0deg,#00efff 61.0deg,#00f9f6 65.0deg,#00ffb0 75.0deg,#00ff45 86.0deg,#02ff00 97.0deg,#8dff00 112.0deg,#f2ee00 124.5deg,#ffd200 133.5deg,#ff8a00 147.5deg,#ff1800 161.0deg,#ff0000 166.3deg,#8000ff 166.3deg,#1d05ff 192.0deg,#004aff 203.5deg,#00afff 226.0deg,#00efff 241.0deg,#00f9f6 245.0deg,#00ffb0 255.0deg,#00ff45 266.0deg,#02ff00 277.0deg,#8dff00 292.0deg,#f2ee00 304.5deg,#ffd200 313.5deg,#ff8a00 327.5deg,#ff1800 341.0deg,#ff0000 346.3deg,#8000ff 346.3deg,#4900ff 360.0deg)"></i><i style="left:10.00px;top:10.00px;width:64.00px;height:64.00px;background:conic-gradient(#4800ff 0.0deg,#1d06ff 12.0deg,#0049ff 23.0deg,#00e9ff 58.5deg,#00f9f9 64.0deg,#00ffb0 74.5deg,#00ff45 85.5deg,#06ff00 96.5deg,#86ff00 110.0deg,#ecf100 122.0deg,#ffd700 130.5deg,#ff8a00 146.5deg,#ff1800 160.5deg,#ff0000 166.0deg,#8000ff 166.0deg,#1d06ff 192.0deg,#0049ff 203.0deg,#00e9ff 238.5deg,#00f9f9 244.0deg,#00ffb0 254.5deg,#00ff45 265.5deg,#06ff00 276.5deg,#86ff00 290.0deg,#ecf100 302.0deg,#ffd700 310.5deg,#ff8a00 326.5deg,#ff1800 340.5deg,#ff0000 346.0deg,#8000ff 346.0deg,#4800ff 360.0deg)"></i><i style="left:11.00px;top:11.00px;width:62.00px;height:62.00px;background:conic-gradient(#4700ff 0.0deg,#1e04ff 11.5deg,#004bff 23.0deg,#00e9ff 58.0deg,#00f9f9 63.5deg,#00ffaf 74.0deg,#00ff44 85.0deg,#05ff00 95.5deg,#7eff00 108.0deg,#dff400 119.5deg,#f6ea00 123.5deg,#ffc800 133.5deg,#ff6e00 149.5deg,#ff1900 160.0deg,#ff0000 165.6deg,#8000ff 165.6deg,#1e04ff 191.5deg,#004bff 203.0deg,#00e9ff 238.0deg,#00f9f9 243.5deg,#00ffaf 254.0deg,#00ff44 265.0deg,#05ff00 275.5deg,#7eff00 288.0deg,#dff400 299.5deg,#f6ea00 303.5deg,#ffc800 313.5deg,#ff6e00 329.5deg,#ff1900 340.0deg,#ff0000 345.6deg,#8000ff 345.6deg,#4700ff 360.0deg)"></i><i style="left:12.00px;top:12.00px;width:60.00px;height:60.00px;background:conic-gradient(#4600ff 0.0deg,#1d05ff 11.5deg,#004aff 22.5deg,#00e7ff 57.0deg,#00f9fa 63.0deg,#00ffb0 73.5deg,#00ff44 84.5deg,#06ff00 95.0deg,#7cff00 107.0deg,#e1f300 119.0deg,#f8e800 123.5deg,#ffa800 139.0deg,#ff6900 149.5deg,#ff1800 160.0deg,#ff0000 165.3deg,#8000ff 165.3deg,#1d05ff 191.5deg,#004aff 202.5deg,#00e7ff 237.0deg,#00f9fa 243.0deg,#00ffb0 253.5deg,#00ff44 264.5deg,#06ff00 275.0deg,#7cff00 287.0deg,#e1f300 299.0deg,#f8e800 303.5deg,#ffa800 319.0deg,#ff6900 329.5deg,#ff1800 340.0deg,#ff0000 345.3deg,#8000ff 345.3deg,#4600ff 360.0deg)"></i><i style="left:13.00px;top:13.00px;width:58.00px;height:58.00px;background:conic-gradient(#4500ff 0.0deg,#1e04ff 11.0deg,#0049ff 22.0deg,#00e8ff 57.0deg,#00f9f8 63.0deg,#00ffad 73.5deg,#00ff42 84.5deg,#05ff00 94.5deg,#7bff00 106.5deg,#e0f400 118.5deg,#f6e900 122.5deg,#ffc700 132.5deg,#ff6e00 148.5deg,#ff1800 159.5deg,#ff0000 164.9deg,#8000ff 164.9deg,#1e04ff 191.0deg,#0049ff 202.0deg,#00e8ff 237.0deg,#00f9f8 243.0deg,#00ffad 253.5deg,#00ff42 264.5deg,#05ff00 274.5deg,#7bff00 286.5deg,#e0f400 298.5deg,#f6e900 302.5deg,#ffc700 312.5deg,#ff6e00 328.5deg,#ff1800 339.5deg,#ff0000 344.9deg,#8000ff 344.9deg,#4500ff 360.0deg)"></i><i style="left:14.00px;top:14.00px;width:56.00px;height:56.00px;background:conic-gradient(#4400ff 0.0deg,#1d06ff 11.0deg,#004aff 22.0deg,#00e7ff 56.5deg,#00f9f9 62.5deg,#00ffaf 73.0deg,#00ff43 84.0deg,#03ff00 94.0deg,#7dff00 106.5deg,#e3f300 118.5deg,#f9e700 123.0deg,#ffa700 138.5deg,#ff6b00 148.5deg,#ff1900 159.0deg,#ff0000 164.6deg,#8000ff 164.6deg,#1e03ff 190.5deg,#004aff 202.0deg,#00e7ff 236.5deg,#00f9f9 242.5deg,#00ffaf 253.0deg,#00ff43 264.0deg,#03ff00 274.0deg,#7dff00 286.5deg,#e3f300 298.5deg,#f9e700 303.0deg,#ffa700 318.5deg,#ff6b00 328.5deg,#ff1900 339.0deg,#ff0000 344.6deg,#8000ff 344.6deg,#4400ff 360.0deg)"></i><i style="left:15.00px;top:15.00px;width:54.00px;height:54.00px;background:conic-gradient(#4300ff 0.0deg,#1d05ff 10.5deg,#004aff 21.5deg,#00e7ff 56.0deg,#00f9f7 62.5deg,#00ffb1 72.5deg,#00ff44 83.5deg,#06ff00 94.0deg,#7cff00 106.0deg,#e2f300 118.0deg,#f8e700 122.5deg,#ffa800 138.0deg,#ff6c00 148.0deg,#ff1700 159.0deg,#ff0000 164.2deg,#8000ff 164.2deg,#1d05ff 190.5deg,#004aff 201.5deg,#00e7ff 236.0deg,#00f9f7 242.5deg,#00ffb1 252.5deg,#00ff44 263.5deg,#06ff00 274.0deg,#7cff00 286.0deg,#e2f300 298.0deg,#f8e700 302.5deg,#ffa800 318.0deg,#ff6c00 328.0deg,#ff1700 339.0deg,#ff0000 344.2deg,#8000ff 344.2deg,#4300ff 360.0deg)"></i><i style="left:16.00px;top:16.00px;width:52.00px;height:52.00px;background:conic-gradient(#4100ff 0.0deg,#1e04ff 10.0deg,#0049ff 21.0deg,#00e8ff 56.0deg,#00f9f9 62.0deg,#00ffae 72.5deg,#00ff42 83.5deg,#05ff00 93.5deg,#7bff00 105.5deg,#e1f400 117.5deg,#f8e800 122.0deg,#ffab00 137.0deg,#ff6d00 147.5deg,#ff1800 158.5deg,#ff0000 163.9deg,#8000ff 163.9deg,#1e04ff 190.0deg,#0049ff 201.0deg,#00e8ff 236.0deg,#00f9f9 242.0deg,#00ffae 252.5deg,#00ff42 263.5deg,#05ff00 273.5deg,#7bff00 285.5deg,#e1f400 297.5deg,#f8e800 302.0deg,#ffab00 317.0deg,#ff6d00 327.5deg,#ff1800 338.5deg,#ff0000 343.9deg,#8000ff 343.9deg,#4100ff 360.0deg)"></i><i style="left:17.00px;top:17.00px;width:50.00px;height:50.00px;background:conic-gradient(#4200ff 0.0deg,#1d06ff 10.5deg,#004aff 21.5deg,#00e8ff 56.5deg,#00f9fa 62.0deg,#00ffb0 72.5deg,#00ff44 83.5deg,#03ff00 93.5deg,#7eff00 106.0deg,#dff400 117.5deg,#f6ea00 121.5deg,#ffc700 131.5deg,#ff6e00 147.5deg,#ff1900 158.5deg,#ff0000 164.1deg,#8000ff 164.1deg,#1d06ff 190.5deg,#004aff 201.5deg,#00e8ff 236.5deg,#00f9fa 242.0deg,#00ffb0 252.5deg,#00ff44 263.5deg,#03ff00 273.5deg,#7eff00 286.0deg,#dff400 297.5deg,#f6ea00 301.5deg,#ffc700 311.5deg,#ff6e00 327.5deg,#ff1900 338.5deg,#ff0000 344.1deg,#8000ff 344.1deg,#4200ff 360.0deg)"></i><i style="left:18.00px;top:18.00px;width:48.00px;height:48.00px;background:conic-gradient(#4500ff 0.0deg,#1e04ff 11.0deg,#004bff 22.5deg,#00e7ff 57.0deg,#00f9f9 63.0deg,#00ffae 73.5deg,#00ff42 84.5deg,#05ff00 94.5deg,#7cff00 106.5deg,#e2f300 118.5deg,#f8e700 123.0deg,#ffa800 138.5deg,#ff6c00 148.5deg,#ff1800 159.5deg,#ff0000 164.8deg,#8000ff 164.8deg,#1e04ff 191.0deg,#004bff 202.5deg,#00e7ff 237.0deg,#00f9f9 243.0deg,#00ffae 253.5deg,#00ff42 264.5deg,#05ff00 274.5deg,#7cff00 286.5deg,#e2f300 298.5deg,#f8e700 303.0deg,#ffa800 318.5deg,#ff6c00 328.5deg,#ff1800 339.5deg,#ff0000 344.8deg,#8000ff 344.8deg,#4500ff 360.0deg)"></i><i style="left:19.00px;top:19.00px;width:46.00px;height:46.00px;background:conic-gradient(#4800ff 0.0deg,#1d05ff 12.0deg,#0049ff 23.0deg,#00e8ff 58.0deg,#00f9f7 64.0deg,#00ffb1 74.0deg,#00ff44 85.0deg,#03ff00 95.0deg,#7aff00 107.0deg,#e0f400 119.0deg,#f8e800 123.5deg,#ffab00 138.5deg,#ff6a00 149.5deg,#ff1900 160.0deg,#ff0000 165.5deg,#8000ff 165.5deg,#1d05ff 192.0deg,#0049ff 203.0deg,#00e8ff 238.0deg,#00f9f7 244.0deg,#00ffb1 254.0deg,#00ff44 265.0deg,#03ff00 275.0deg,#7aff00 287.0deg,#e0f400 299.0deg,#f8e800 303.5deg,#ffab00 318.5deg,#ff6a00 329.5deg,#ff1900 340.0deg,#ff0000 345.5deg,#8000ff 345.5deg,#4800ff 360.0deg)"></i><i style="left:20.00px;top:20.00px;width:44.00px;height:44.00px;background:conic-gradient(#4b00ff 0.0deg,#1e03ff 12.5deg,#004aff 24.0deg,#00e9ff 59.0deg,#00f9f9 64.5deg,#00ffae 75.0deg,#00ff42 86.0deg,#06ff00 96.0deg,#79ff00 107.5deg,#dff400 119.5deg,#f6ea00 123.5deg,#ffc800 133.5deg,#ff6f00 149.5deg,#ff1a00 160.5deg,#ff0000 166.3deg,#8000ff 166.3deg,#1e03ff 192.5deg,#004aff 204.0deg,#00e9ff 239.0deg,#00f9f9 244.5deg,#00ffae 255.0deg,#00ff42 266.0deg,#06ff00 276.0deg,#79ff00 287.5deg,#dff400 299.5deg,#f6ea00 303.5deg,#ffc800 313.5deg,#ff6f00 329.5deg,#ff1a00 340.5deg,#ff0000 346.3deg,#8000ff 346.3deg,#4b00ff 360.0deg)"></i><i style="left:21.00px;top:21.00px;width:42.00px;height:42.00px;background:conic-gradient(#4b00ff 0.0deg,#1d05ff 13.0deg,#0049ff 24.0deg,#00e8ff 59.0deg,#00f9f7 65.0deg,#00ffb0 75.0deg,#00ff43 86.0deg,#05ff00 96.0deg,#7cff00 108.0deg,#e2f300 120.0deg,#f7e900 124.0deg,#ffbe00 135.5deg,#ff7000 149.5deg,#ff1800 161.0deg,#ff0000 166.4deg,#8000ff 166.4deg,#1d05ff 193.0deg,#0049ff 204.0deg,#00e8ff 239.0deg,#00f9f7 245.0deg,#00ffb0 255.0deg,#00ff43 266.0deg,#05ff00 276.0deg,#7cff00 288.0deg,#e2f300 300.0deg,#f7e900 304.0deg,#ffbe00 315.5deg,#ff7000 329.5deg,#ff1800 341.0deg,#ff0000 346.4deg,#8000ff 346.4deg,#4b00ff 360.0deg)"></i><i style="left:22.00px;top:22.00px;width:40.00px;height:40.00px;background:conic-gradient(#4a00ff 0.0deg,#1e05ff 12.5deg,#004bff 24.0deg,#00e7ff 58.5deg,#00f9f8 64.5deg,#00ffac 75.0deg,#00ff44 85.5deg,#04ff00 95.5deg,#7cff00 107.5deg,#e2f300 119.5deg,#f7e900 123.5deg,#ffbe00 135.0deg,#ff7000 149.0deg,#ff1800 160.5deg,#ff0000 165.9deg,#8000ff 165.9deg,#1e05ff 192.5deg,#004bff 204.0deg,#00e7ff 238.5deg,#00f9f8 244.5deg,#00ffac 255.0deg,#00ff44 265.5deg,#04ff00 275.5deg,#7cff00 287.5deg,#e2f300 299.5deg,#f7e900 303.5deg,#ffbe00 315.0deg,#ff7000 329.0deg,#ff1800 340.5deg,#ff0000 345.9deg,#8000ff 345.9deg,#4a00ff 360.0deg)"></i><i style="left:23.00px;top:23.00px;width:38.00px;height:38.00px;background:conic-gradient(#4800ff 0.0deg,#1e04ff 12.0deg,#004aff 23.5deg,#00e8ff 58.5deg,#00f9fa 64.0deg,#00ffae 74.5deg,#00ff44 85.0deg,#03ff00 95.0deg,#7bff00 107.0deg,#e2f300 119.0deg,#f7e800 123.0deg,#ffbb00 135.0deg,#ff6c00 149.0deg,#ff1800 160.0deg,#ff0000 165.4deg,#8000ff 165.4deg,#1e04ff 192.0deg,#004aff 203.5deg,#00e8ff 238.5deg,#00f9fa 244.0deg,#00ffae 254.5deg,#00ff44 265.0deg,#03ff00 275.0deg,#7bff00 287.0deg,#e2f300 299.0deg,#f7e800 303.0deg,#ffbb00 315.0deg,#ff6c00 329.0deg,#ff1800 340.0deg,#ff0000 345.4deg,#8000ff 345.4deg,#4800ff 360.0deg)"></i><i style="left:24.00px;top:24.00px;width:36.00px;height:36.00px;background:conic-gradient(#4600ff 0.0deg,#1e03ff 11.5deg,#004aff 23.0deg,#00e8ff 58.0deg,#00f9f7 64.0deg,#00ffaf 74.0deg,#00ff42 85.0deg,#03ff00 94.5deg,#7bff00 106.5deg,#e3f300 118.5deg,#f7e800 122.5deg,#ffb900 135.0deg,#ff6b00 148.5deg,#ff1800 159.5deg,#ff0000 164.9deg,#8000ff 164.9deg,#1e03ff 191.5deg,#004aff 203.0deg,#00e8ff 238.0deg,#00f9f7 244.0deg,#00ffaf 254.0deg,#00ff42 265.0deg,#03ff00 274.5deg,#7bff00 286.5deg,#e3f300 298.5deg,#f7e800 302.5deg,#ffb900 315.0deg,#ff6b00 328.5deg,#ff1800 339.5deg,#ff0000 344.9deg,#8000ff 344.9deg,#4600ff 360.0deg)"></i><i style="left:25.00px;top:25.00px;width:34.00px;height:34.00px;background:conic-gradient(#4500ff 0.0deg,#1d06ff 11.5deg,#0049ff 22.5deg,#00e9ff 58.0deg,#00f9f9 63.5deg,#00ffb1 73.5deg,#00ff43 84.5deg,#02ff00 94.0deg,#7bff00 106.0deg,#e3f300 118.0deg,#f9e700 122.5deg,#ffa700 138.0deg,#ff6700 148.5deg,#ff1800 159.0deg,#ff0000 164.4deg,#8000ff 164.4deg,#1d06ff 191.5deg,#0049ff 202.5deg,#00e9ff 238.0deg,#00f9f9 243.5deg,#00ffb1 253.5deg,#00ff43 264.5deg,#02ff00 274.0deg,#7bff00 286.0deg,#e3f300 298.0deg,#f9e700 302.5deg,#ffa700 318.0deg,#ff6700 328.5deg,#ff1800 339.0deg,#ff0000 344.4deg,#8000ff 344.4deg,#4500ff 360.0deg)"></i><i style="left:26.00px;top:26.00px;width:32.00px;height:32.00px;background:conic-gradient(#4300ff 0.0deg,#1d05ff 11.0deg,#004aff 22.5deg,#00eaff 58.0deg,#00f9f7 63.5deg,#00ffae 73.5deg,#00ff43 84.0deg,#06ff00 94.0deg,#7bff00 105.5deg,#dff400 117.0deg,#f6e900 121.0deg,#ffc900 130.5deg,#ff6e00 147.0deg,#ff1a00 158.0deg,#ff0000 163.9deg,#8000ff 163.9deg,#1d05ff 191.0deg,#004aff 202.5deg,#00eaff 238.0deg,#00f9f7 243.5deg,#00ffae 253.5deg,#00ff43 264.0deg,#06ff00 274.0deg,#7bff00 285.5deg,#dff400 297.0deg,#f6e900 301.0deg,#ffc900 310.5deg,#ff6e00 327.0deg,#ff1a00 338.0deg,#ff0000 343.9deg,#8000ff 343.9deg,#4300ff 360.0deg)"></i><i style="left:27.00px;top:27.00px;width:30.00px;height:30.00px;background:conic-gradient(#4100ff 0.0deg,#1e04ff 10.5deg,#0049ff 22.0deg,#00e9ff 57.5deg,#00f9f9 63.0deg,#00ffb0 73.0deg,#00ff45 83.5deg,#06ff00 93.5deg,#7cff00 105.0deg,#e0f400 116.5deg,#f8e800 121.0deg,#ffa800 136.5deg,#ff6900 147.0deg,#ff1900 157.5deg,#ff0000 163.3deg,#8000ff 163.3deg,#1e04ff 190.5deg,#0049ff 202.0deg,#00e9ff 237.5deg,#00f9f9 243.0deg,#00ffb0 253.0deg,#00ff45 263.5deg,#06ff00 273.5deg,#7cff00 285.0deg,#e0f400 296.5deg,#f8e800 301.0deg,#ffa800 316.5deg,#ff6900 327.0deg,#ff1900 337.5deg,#ff0000 343.3deg,#8000ff 343.3deg,#4100ff 360.0deg)"></i><i style="left:28.00px;top:28.00px;width:28.00px;height:28.00px;background:conic-gradient(#4000ff 0.0deg,#1d07ff 10.5deg,#004bff 22.0deg,#00e9ff 57.5deg,#00f9f7 63.0deg,#00ffad 73.0deg,#00ff45 83.0deg,#06ff00 93.0deg,#79ff00 104.0deg,#def400 115.5deg,#f4eb00 119.0deg,#ffce00 127.5deg,#ff6e00 145.5deg,#ff1800 157.0deg,#ff0000 162.6deg,#8000ff 162.6deg,#1e04ff 190.0deg,#004bff 202.0deg,#00e9ff 237.5deg,#00f9f7 243.0deg,#00ffad 253.0deg,#00ff45 263.0deg,#06ff00 273.0deg,#79ff00 284.0deg,#def400 295.5deg,#f4eb00 299.0deg,#ffce00 307.5deg,#ff6e00 325.5deg,#ff1800 337.0deg,#ff0000 342.6deg,#8000ff 342.6deg,#4000ff 360.0deg)"></i><i style="left:29.00px;top:29.00px;width:26.00px;height:26.00px;background:conic-gradient(#3f00ff 0.0deg,#1e04ff 10.0deg,#004aff 22.0deg,#00eaff 57.5deg,#00f9f8 62.5deg,#00ffb2 72.0deg,#00ff43 82.5deg,#02ff00 91.5deg,#7cff00 103.0deg,#e3f300 114.5deg,#f9e600 119.0deg,#ffa300 135.0deg,#ff6800 145.0deg,#ff1800 156.0deg,#ff0000 161.8deg,#8000ff 161.8deg,#1e04ff 190.0deg,#004aff 202.0deg,#00eaff 237.5deg,#00f9f8 242.5deg,#00ffb2 252.0deg,#00ff43 262.5deg,#02ff00 271.5deg,#7cff00 283.0deg,#e3f300 294.5deg,#f9e600 299.0deg,#ffa300 315.0deg,#ff6800 325.0deg,#ff1800 336.0deg,#ff0000 341.8deg,#8000ff 341.8deg,#3f00ff 360.0deg)"></i><i style="left:30.00px;top:30.00px;width:24.00px;height:24.00px;background:conic-gradient(#3e00ff 0.0deg,#1e04ff 10.0deg,#004aff 22.0deg,#00ecff 58.0deg,#00f9f7 62.5deg,#00ffac 72.0deg,#00ff45 81.5deg,#02ff00 90.5deg,#7aff00 101.5deg,#dff400 112.5deg,#f6e900 116.5deg,#ffc800 126.0deg,#ff6d00 143.0deg,#ff1800 155.0deg,#ff0000 161.0deg,#8000ff 161.0deg,#1e04ff 190.0deg,#004aff 202.0deg,#00ecff 238.0deg,#00f9f7 242.5deg,#00ffac 252.0deg,#00ff45 261.5deg,#02ff00 270.5deg,#7aff00 281.5deg,#dff400 292.5deg,#f6e900 296.5deg,#ffc800 306.0deg,#ff6d00 323.0deg,#ff1800 335.0deg,#ff0000 341.0deg,#8000ff 341.0deg,#3e00ff 360.0deg)"></i><i style="left:31.00px;top:31.00px;width:22.00px;height:22.00px;background:conic-gradient(#3d00ff 0.0deg,#1e04ff 10.0deg,#004bff 22.5deg,#00eeff 58.5deg,#00f9f6 62.5deg,#00ffae 71.5deg,#00ff43 81.0deg,#02ff00 89.5deg,#79ff00 100.0deg,#e0f400 111.0deg,#f7e900 115.0deg,#ffbd00 126.5deg,#ff6c00 141.5deg,#ff1900 153.5deg,#ff0000 160.0deg,#8000ff 160.0deg,#1e04ff 190.0deg,#004bff 202.5deg,#00eeff 238.5deg,#00f9f6 242.5deg,#00ffae 251.5deg,#00ff43 261.0deg,#02ff00 269.5deg,#79ff00 280.0deg,#e0f400 291.0deg,#f7e900 295.0deg,#ffbd00 306.5deg,#ff6c00 321.5deg,#ff1900 333.5deg,#ff0000 340.0deg,#8000ff 340.0deg,#3d00ff 360.0deg)"></i><i style="left:32.00px;top:32.00px;width:20.00px;height:20.00px;background:conic-gradient(#3c00ff 0.0deg,#1d07ff 10.5deg,#004aff 22.5deg,#00f1ff 59.5deg,#00f9f3 63.0deg,#00ffac 71.5deg,#00ff43 80.5deg,#01ff00 88.5deg,#77ff00 98.5deg,#ddf400 109.0deg,#f5eb00 112.5deg,#ffcd00 121.0deg,#ff6e00 139.5deg,#ff1800 152.5deg,#ff0000 158.9deg,#8000ff 158.9deg,#1e04ff 190.0deg,#004aff 202.5deg,#00f1ff 239.5deg,#00f9f3 243.0deg,#00ffac 251.5deg,#00ff43 260.5deg,#01ff00 268.5deg,#77ff00 278.5deg,#ddf400 289.0deg,#f5eb00 292.5deg,#ffcd00 301.0deg,#ff6e00 319.5deg,#ff1800 332.5deg,#ff0000 338.9deg,#8000ff 338.9deg,#3c00ff 360.0deg)"></i><i style="left:33.00px;top:33.00px;width:18.00px;height:18.00px;background:conic-gradient(#3b00ff 0.0deg,#1d06ff 10.5deg,#004aff 23.0deg,#00f5ff 61.0deg,#00ffb9 70.5deg,#00ff44 80.0deg,#05ff00 88.0deg,#7bff00 97.5deg,#e6f200 108.0deg,#ffdf00 114.0deg,#ff7500 136.5deg,#ff1a00 150.5deg,#ff0000 157.7deg,#8000ff 157.7deg,#1d06ff 190.5deg,#004aff 203.0deg,#00f5ff 241.0deg,#00ffb9 250.5deg,#00ff44 260.0deg,#05ff00 268.0deg,#7bff00 277.5deg,#e6f200 288.0deg,#ffdf00 294.0deg,#ff7500 316.5deg,#ff1a00 330.5deg,#ff0000 337.7deg,#8000ff 337.7deg,#3b00ff 360.0deg)"></i><i style="left:34.00px;top:34.00px;width:16.00px;height:16.00px;background:conic-gradient(#3b00ff 0.0deg,#1e05ff 10.5deg,#004aff 24.0deg,#00f7ff 62.5deg,#00ffb2 71.5deg,#00ff43 80.0deg,#01ff00 87.0deg,#74ff00 95.5deg,#dbf500 105.0deg,#f4ec00 108.0deg,#ffd200 115.0deg,#ff6b00 135.5deg,#ff1a00 148.5deg,#ff0000 156.1deg,#8000ff 156.1deg,#1e05ff 190.5deg,#004aff 204.0deg,#00f7ff 242.5deg,#00ffb2 251.5deg,#00ff43 260.0deg,#01ff00 267.0deg,#74ff00 275.5deg,#dbf500 285.0deg,#f4ec00 288.0deg,#ffd200 295.0deg,#ff6b00 315.5deg,#ff1a00 328.5deg,#ff0000 336.1deg,#8000ff 336.1deg,#3b00ff 360.0deg)"></i><i style="left:35.00px;top:35.00px;width:14.00px;height:14.00px;background:conic-gradient(#3c00ff 0.0deg,#1d06ff 12.0deg,#004aff 26.0deg,#00d4ff 56.0deg,#00f9f9 65.5deg,#00ffb3 73.0deg,#00ff40 81.0deg,#00ff00 87.0deg,#7aff00 95.0deg,#dff400 103.5deg,#f6ea00 106.5deg,#ffca00 114.5deg,#ff6400 134.0deg,#ff1900 147.0deg,#ff0000 154.8deg,#8000ff 154.8deg,#1d06ff 192.0deg,#004aff 206.0deg,#00d4ff 236.0deg,#00f9f9 245.5deg,#00ffb3 253.0deg,#00ff40 261.0deg,#00ff00 267.0deg,#7aff00 275.0deg,#dff400 283.5deg,#f6ea00 286.5deg,#ffca00 294.5deg,#ff6400 314.0deg,#ff1900 327.0deg,#ff0000 334.8deg,#8000ff 334.8deg,#3c00ff 360.0deg)"></i><i style="left:36.00px;top:36.00px;width:12.00px;height:12.00px;background:conic-gradient(#4000ff 0.0deg,#1e05ff 14.5deg,#004bff 30.0deg,#00b4ff 54.5deg,#00f9f9 69.5deg,#00ffb3 76.0deg,#00ff43 82.5deg,#00ff02 87.5deg,#77ff00 94.0deg,#e2f300 101.5deg,#f6ea00 104.0deg,#ffcb00 111.0deg,#ff5c00 132.0deg,#ff1800 145.0deg,#ff0000 153.4deg,#8000ff 153.4deg,#1e05ff 194.5deg,#004bff 210.0deg,#00b4ff 234.5deg,#00f9f9 249.5deg,#00ffb3 256.0deg,#00ff43 262.5deg,#00ff02 267.5deg,#77ff00 274.0deg,#e2f300 281.5deg,#f6ea00 284.0deg,#ffcb00 291.0deg,#ff5c00 312.0deg,#ff1800 325.0deg,#ff0000 333.4deg,#8000ff 333.4deg,#4000ff 360.0deg)"></i><i style="left:37.00px;top:37.00px;width:10.00px;height:10.00px;background:conic-gradient(#4300ff 0.0deg,#1d07ff 19.0deg,#004bff 36.5deg,#00a2ff 59.0deg,#00f8fb 76.0deg,#00ffb4 81.0deg,#00ff41 85.5deg,#00ff02 88.5deg,#75ff00 92.5deg,#e1f300 97.5deg,#f7e800 99.5deg,#ffc700 105.5deg,#ff1b00 139.5deg,#ff0000 150.6deg,#8000ff 150.6deg,#1e05ff 198.5deg,#004bff 216.5deg,#00a2ff 239.0deg,#00f8fb 256.0deg,#00ffb4 261.0deg,#00ff41 265.5deg,#00ff02 268.5deg,#75ff00 272.5deg,#e1f300 277.5deg,#f7e800 279.5deg,#ffc700 285.5deg,#ff1b00 319.5deg,#ff0000 330.6deg,#8000ff 330.6deg,#4300ff 360.0deg)"></i><i style="left:38.00px;top:38.00px;width:8.00px;height:8.00px;background:conic-gradient(#4700ff 0.0deg,#1d05ff 26.0deg,#004aff 49.5deg,#0086ff 80.5deg,#0077ff 85.5deg,#005bff 87.5deg,#033aff 88.5deg,#2b00ff 89.5deg,#8000ff 91.2deg,#ff0000 91.2deg,#ff3f00 93.5deg,#ff5900 96.5deg,#ff5500 106.0deg,#ff1400 132.0deg,#ff0000 143.8deg,#8000ff 143.8deg,#1d05ff 206.0deg,#004aff 229.5deg,#0086ff 260.5deg,#0077ff 265.5deg,#005bff 267.5deg,#033aff 268.5deg,#2b00ff 269.5deg,#8000ff 271.2deg,#ff0000 271.2deg,#ff3f00 273.5deg,#ff5900 276.5deg,#ff5500 286.0deg,#ff1400 312.0deg,#ff0000 323.8deg,#8000ff 323.8deg,#4700ff 360.0deg)"></i><i style="left:39.00px;top:39.00px;width:6.00px;height:6.00px;background:conic-gradient(#4a00ff 0.0deg,#1d07ff 52.0deg,#1f01ff 70.0deg,#4a00ff 90.0deg,#7400ff 110.0deg,#7000ff 140.0deg,#1d06ff 231.5deg,#1f01ff 250.0deg,#4a00ff 270.0deg,#7400ff 290.0deg,#7000ff 320.0deg,#4a00ff 360.0deg)"></i><i style="left:40.00px;top:40.00px;width:4.00px;height:4.00px;background:conic-gradient(#4c00ff 0.0deg,#3d00ff 62.0deg,#5c00ff 133.5deg,#3d00ff 238.5deg,#5c00ff 314.0deg,#4c00ff 360.0deg)"></i><i style="left:41.00px;top:41.00px;width:2.00px;height:2.00px;background:conic-gradient(#4e00ff 0.0deg,#4e00ff 360.0deg)"></i></div>
<div class="p" style="left:207.20px;top:150.90px;width:84.00px;height:84.00px"><i style="left:-18.00px;top:-18.00px;width:120.00px;height:120.00px;background:conic-gradient(#56ff00 0.0deg,#d3f700 7.0deg,#f2ee00 9.0deg,#ffd000 13.5deg,#ff7000 24.5deg,#ff3400 36.5deg,#ff2a00 45.0deg,#ff7900 54.0deg,#ff2500 59.5deg,#ff0000 69.7deg,#8000ff 69.7deg,#5800ff 85.5deg,#5100ff 102.5deg,#1e05ff 125.5deg,#004aff 138.0deg,#006aff 147.0deg,#0073ff 154.0deg,#00e7ff 162.0deg,#00f7ff 163.5deg,#00ffae 168.0deg,#00ff49 172.0deg,#04ff00 176.5deg,#72ff00 181.5deg,#dcf500 187.5deg,#f5eb00 189.5deg,#ffcd00 194.0deg,#ff7000 204.5deg,#ff3400 216.5deg,#ff2a00 225.0deg,#ff7900 234.0deg,#ff2500 239.5deg,#ff0000 249.7deg,#8000ff 249.7deg,#5800ff 265.5deg,#5100ff 282.5deg,#1e05ff 305.5deg,#004aff 318.0deg,#006aff 327.0deg,#0073ff 334.0deg,#00e7ff 342.0deg,#00f7ff 343.5deg,#00ffae 348.0deg,#00ff49 352.0deg,#04ff00 356.5deg,#56ff00 360.0deg)"></i><i style="left:-17.00px;top:-17.00px;width:118.00px;height:118.00px;background:conic-gradient(#5eff00 0.0deg,#d0f700 6.5deg,#f4ec00 9.0deg,#ffd100 13.0deg,#ff7100 24.0deg,#ff3400 36.0deg,#ff2900 44.5deg,#ff7700 54.0deg,#ff2200 59.5deg,#ff0000 69.4deg,#8000ff 69.4deg,#5800ff 85.0deg,#5100ff 102.0deg,#1e04ff 125.0deg,#004cff 138.0deg,#006aff 147.0deg,#0079ff 154.0deg,#00ebff 162.0deg,#00f9f9 163.5deg,#00ffb2 167.5deg,#00ff43 172.0deg,#00ff00 176.0deg,#79ff00 181.5deg,#e2f300 187.5deg,#fae600 190.0deg,#ff9200 200.0deg,#ff6800 205.5deg,#ff3400 216.0deg,#ff2900 224.5deg,#ff7700 234.0deg,#ff2200 239.5deg,#ff0000 249.4deg,#8000ff 249.4deg,#5800ff 265.0deg,#5100ff 282.0deg,#1e04ff 305.0deg,#004cff 318.0deg,#006aff 327.0deg,#0079ff 334.0deg,#00ebff 342.0deg,#00f9f9 343.5deg,#00ffb2 347.5deg,#00ff43 352.0deg,#00ff00 356.0deg,#5eff00 360.0deg)"></i><i style="left:-16.00px;top:-16.00px;width:116.00px;height:116.00px;background:conic-gradient(#65ff00 0.0deg,#d7f600 6.5deg,#f3ed00 8.5deg,#ffd200 12.5deg,#ff7200 23.5deg,#ff3500 35.5deg,#ff2c00 44.5deg,#ff7900 53.5deg,#ff2300 59.0deg,#ff0000 69.0deg,#8000ff 69.0deg,#5800ff 84.5deg,#5000ff 102.0deg,#1d06ff 125.0deg,#004bff 137.5deg,#006aff 146.5deg,#0077ff 153.5deg,#00e9ff 161.5deg,#00f8fc 163.0deg,#00ffb6 167.0deg,#00ff46 171.5deg,#00ff02 175.5deg,#7fff00 181.5deg,#e8f200 187.5deg,#ffd900 191.5deg,#ff6f00 204.0deg,#ff3500 215.5deg,#ff2c00 224.5deg,#ff7900 233.5deg,#ff2300 239.0deg,#ff0000 249.0deg,#8000ff 249.0deg,#5800ff 264.5deg,#5000ff 282.0deg,#1d06ff 305.0deg,#004bff 317.5deg,#006aff 326.5deg,#0077ff 333.5deg,#00e9ff 341.5deg,#00f8fc 343.0deg,#00ffb6 347.0deg,#00ff46 351.5deg,#00ff02 355.5deg,#65ff00 360.0deg)"></i><i style="left:-15.00px;top:-15.00px;width:114.00px;height:114.00px;background:conic-gradient(#6bff00 0.0deg,#d4f700 6.0deg,#f2ee00 8.0deg,#ffd300 12.0deg,#ff7000 23.5deg,#ff3500 35.0deg,#ff2b00 44.0deg,#ff7900 53.0deg,#ff2400 58.5deg,#ff0000 68.6deg,#8000ff 68.6deg,#5800ff 84.5deg,#5100ff 101.5deg,#1d05ff 124.5deg,#004aff 137.0deg,#006aff 146.0deg,#0074ff 153.0deg,#00e8ff 161.0deg,#00f8ff 162.5deg,#00ffad 167.0deg,#00ff48 171.0deg,#05ff00 175.5deg,#74ff00 180.5deg,#ddf400 186.5deg,#f5eb00 188.5deg,#ffc800 193.5deg,#ff7000 203.5deg,#ff3500 215.0deg,#ff2b00 224.0deg,#ff7900 233.0deg,#ff2400 238.5deg,#ff0000 248.6deg,#8000ff 248.6deg,#5800ff 264.5deg,#5100ff 281.5deg,#1d05ff 304.5deg,#004aff 317.0deg,#006aff 326.0deg,#0074ff 333.0deg,#00e8ff 341.0deg,#00f8ff 342.5deg,#00ffad 347.0deg,#00ff48 351.0deg,#05ff00 355.5deg,#6bff00 360.0deg)"></i><i style="left:-14.00px;top:-14.00px;width:112.00px;height:112.00px;background:conic-gradient(#71ff00 0.0deg,#daf500 6.0deg,#f4eb00 8.0deg,#ffcd00 12.5deg,#ff7000 23.0deg,#ff3400 35.0deg,#ff2900 43.5deg,#ff7800 52.5deg,#ff2200 58.5deg,#ff0000 68.3deg,#8000ff 68.3deg,#5800ff 84.0deg,#5100ff 101.0deg,#1e04ff 124.0deg,#004aff 136.5deg,#0069ff 145.5deg,#007aff 153.0deg,#00ebff 161.0deg,#00f9f7 162.5deg,#00ffb0 166.5deg,#00ff42 171.0deg,#02ff00 175.0deg,#71ff00 180.0deg,#daf500 186.0deg,#f4eb00 188.0deg,#ffcd00 192.5deg,#ff7000 203.0deg,#ff3400 215.0deg,#ff2900 223.5deg,#ff7800 232.5deg,#ff2200 238.5deg,#ff0000 248.3deg,#8000ff 248.3deg,#5800ff 264.0deg,#5100ff 281.0deg,#1e04ff 304.0deg,#004aff 316.5deg,#0069ff 325.5deg,#007aff 333.0deg,#00ebff 341.0deg,#00f9f7 342.5deg,#00ffb0 346.5deg,#00ff42 351.0deg,#02ff00 355.0deg,#71ff00 360.0deg)"></i><i style="left:-13.00px;top:-13.00px;width:110.00px;height:110.00px;background:conic-gradient(#77ff00 0.0deg,#e1f400 6.0deg,#f6e900 8.0deg,#ffca00 12.5deg,#ff7100 22.5deg,#ff3500 34.5deg,#ff2800 43.0deg,#ff7700 52.5deg,#ff2300 58.0deg,#ff0000 67.9deg,#8000ff 67.9deg,#5800ff 83.5deg,#5100ff 100.5deg,#1e04ff 123.5deg,#004bff 136.5deg,#006aff 145.5deg,#0077ff 152.5deg,#00eaff 160.5deg,#00f8fb 162.0deg,#00ffb4 166.0deg,#00ff45 170.5deg,#00ff01 174.5deg,#77ff00 180.0deg,#e1f400 186.0deg,#f6e900 188.0deg,#ffca00 192.5deg,#ff7100 202.5deg,#ff3500 214.5deg,#ff2800 223.0deg,#ff7700 232.5deg,#ff2300 238.0deg,#ff0000 247.9deg,#8000ff 247.9deg,#5800ff 263.5deg,#5100ff 280.5deg,#1e04ff 303.5deg,#004bff 316.5deg,#006aff 325.5deg,#0077ff 332.5deg,#00eaff 340.5deg,#00f8fb 342.0deg,#00ffb4 346.0deg,#00ff45 350.5deg,#00ff01 354.5deg,#77ff00 360.0deg)"></i><i style="left:-12.00px;top:-12.00px;width:108.00px;height:108.00px;background:conic-gradient(#7eff00 0.0deg,#e7f200 6.0deg,#ffda00 10.0deg,#ff6f00 22.5deg,#ff3500 34.0deg,#ff2b00 43.0deg,#ff7a00 52.0deg,#ff2300 57.5deg,#ff0000 67.5deg,#8000ff 67.5deg,#5800ff 83.5deg,#5000ff 100.5deg,#1d06ff 123.5deg,#004aff 136.0deg,#006aff 145.0deg,#0075ff 152.0deg,#00e8ff 160.0deg,#00f8fe 161.5deg,#00ffab 166.0deg,#00ff47 170.0deg,#07ff00 174.5deg,#75ff00 179.5deg,#def400 185.5deg,#f6ea00 187.5deg,#ffcb00 192.0deg,#ff7200 202.0deg,#ff3500 214.0deg,#ff2b00 223.0deg,#ff7a00 232.0deg,#ff2300 237.5deg,#ff0000 247.5deg,#8000ff 247.5deg,#5800ff 263.5deg,#5000ff 280.5deg,#1d06ff 303.5deg,#004aff 316.0deg,#006aff 325.0deg,#0075ff 332.0deg,#00e8ff 340.0deg,#00f8fe 341.5deg,#00ffab 346.0deg,#00ff47 350.0deg,#07ff00 354.5deg,#75ff00 359.5deg,#7eff00 360.0deg)"></i><i style="left:-11.00px;top:-11.00px;width:106.00px;height:106.00px;background:conic-gradient(#84ff00 0.0deg,#edf100 6.0deg,#ffd700 10.0deg,#ff6d00 22.5deg,#ff3500 33.5deg,#ff2a00 42.5deg,#ff7900 51.5deg,#ff2400 57.0deg,#ff0000 67.2deg,#8000ff 67.2deg,#5800ff 83.0deg,#5100ff 100.0deg,#1e05ff 123.0deg,#004aff 135.5deg,#0069ff 144.5deg,#0073ff 151.5deg,#00e7ff 159.5deg,#00f7ff 161.0deg,#00ffaf 165.5deg,#00ff4a 169.5deg,#03ff00 174.0deg,#72ff00 179.0deg,#dcf500 185.0deg,#f5eb00 187.0deg,#ffcc00 191.5deg,#ff7000 202.0deg,#ff3500 213.5deg,#ff2a00 222.5deg,#ff7900 231.5deg,#ff2400 237.0deg,#ff0000 247.2deg,#8000ff 247.2deg,#5800ff 263.0deg,#5100ff 280.0deg,#1e05ff 303.0deg,#004aff 315.5deg,#0069ff 324.5deg,#0073ff 331.5deg,#00e7ff 339.5deg,#00f7ff 341.0deg,#00ffaf 345.5deg,#00ff4a 349.5deg,#03ff00 354.0deg,#72ff00 359.0deg,#84ff00 360.0deg)"></i><i style="left:-10.00px;top:-10.00px;width:104.00px;height:104.00px;background:conic-gradient(#8aff00 0.0deg,#f1ef00 6.0deg,#ffd500 10.0deg,#ff6e00 22.0deg,#ff3400 33.5deg,#ff2900 42.0deg,#ff7800 51.0deg,#ff2200 57.0deg,#ff0000 66.8deg,#8000ff 66.8deg,#5800ff 82.5deg,#5100ff 99.5deg,#1e04ff 122.5deg,#004bff 135.5deg,#006aff 144.5deg,#0078ff 151.5deg,#00eaff 159.5deg,#00f9f9 161.0deg,#00ffb3 165.0deg,#00ff44 169.5deg,#00ff00 173.5deg,#78ff00 179.0deg,#e2f300 185.0deg,#fae600 187.5deg,#ff9200 197.5deg,#ff6800 203.0deg,#ff3400 213.5deg,#ff2900 222.0deg,#ff7800 231.0deg,#ff2200 237.0deg,#ff0000 246.8deg,#8000ff 246.8deg,#5800ff 262.5deg,#5100ff 279.5deg,#1e04ff 302.5deg,#004bff 315.5deg,#006aff 324.5deg,#0078ff 331.5deg,#00eaff 339.5deg,#00f9f9 341.0deg,#00ffb3 345.0deg,#00ff44 349.5deg,#00ff00 353.5deg,#78ff00 359.0deg,#8aff00 360.0deg)"></i><i style="left:-9.00px;top:-9.00px;width:102.00px;height:102.00px;background:conic-gradient(#90ff00 0.0deg,#f3ed00 6.0deg,#ffd200 10.0deg,#ff7100 21.0deg,#ff3500 33.0deg,#ff2c00 42.0deg,#ff7800 51.0deg,#ff2300 56.5deg,#ff0000 66.4deg,#8000ff 66.4deg,#5800ff 82.0deg,#5000ff 99.5deg,#1d06ff 122.5deg,#004bff 135.0deg,#006aff 144.0deg,#0076ff 151.0deg,#00e9ff 159.0deg,#00f8fd 160.5deg,#00ffb7 164.5deg,#00ff47 169.0deg,#00ff03 173.0deg,#7fff00 179.0deg,#e8f200 185.0deg,#ffd900 189.0deg,#ff6f00 201.5deg,#ff3500 213.0deg,#ff2c00 222.0deg,#ff7800 231.0deg,#ff2300 236.5deg,#ff0000 246.4deg,#8000ff 246.4deg,#5800ff 262.0deg,#5000ff 279.5deg,#1d06ff 302.5deg,#004bff 315.0deg,#006aff 324.0deg,#0076ff 331.0deg,#00e9ff 339.0deg,#00f8fd 340.5deg,#00ffb7 344.5deg,#00ff47 349.0deg,#00ff03 353.0deg,#7fff00 359.0deg,#90ff00 360.0deg)"></i><i style="left:-8.00px;top:-8.00px;width:100.00px;height:100.00px;background:conic-gradient(#96ff00 0.0deg,#f2ee00 5.5deg,#ffd300 9.5deg,#ff6f00 21.0deg,#ff3500 32.5deg,#ff2b00 41.5deg,#ff7a00 50.5deg,#ff2400 56.0deg,#ff0000 66.1deg,#8000ff 66.1deg,#5800ff 82.0deg,#5100ff 99.0deg,#1d05ff 122.0deg,#004aff 134.5deg,#006aff 143.5deg,#0073ff 150.5deg,#00e7ff 158.5deg,#00f7ff 160.0deg,#00ffae 164.5deg,#00ff49 168.5deg,#04ff00 173.0deg,#73ff00 178.0deg,#ddf500 184.0deg,#f5eb00 186.0deg,#ffc800 191.0deg,#ff6f00 201.0deg,#ff3500 212.5deg,#ff2b00 221.5deg,#ff7a00 230.5deg,#ff2400 236.0deg,#ff0000 246.1deg,#8000ff 246.1deg,#5800ff 262.0deg,#5100ff 279.0deg,#1d05ff 302.0deg,#004aff 314.5deg,#006aff 323.5deg,#0073ff 330.5deg,#00e7ff 338.5deg,#00f7ff 340.0deg,#00ffae 344.5deg,#00ff49 348.5deg,#04ff00 353.0deg,#73ff00 358.0deg,#96ff00 360.0deg)"></i><i style="left:-7.00px;top:-7.00px;width:98.00px;height:98.00px;background:conic-gradient(#9dff00 0.0deg,#f1ee00 5.0deg,#ffd400 9.0deg,#ff6d00 21.0deg,#ff3400 32.5deg,#ff2a00 41.0deg,#ff7900 50.0deg,#ff2400 55.5deg,#ff0000 65.7deg,#8000ff 65.7deg,#5800ff 81.5deg,#5100ff 98.5deg,#1e04ff 121.5deg,#004cff 134.5deg,#006aff 143.5deg,#0079ff 150.5deg,#00ebff 158.5deg,#00f9f8 160.0deg,#00ffb2 164.0deg,#00ff43 168.5deg,#01ff00 172.5deg,#71ff00 177.5deg,#daf500 183.5deg,#f7e800 186.0deg,#ffb700 192.5deg,#ff7000 200.5deg,#ff3400 212.5deg,#ff2a00 221.0deg,#ff7900 230.0deg,#ff2400 235.5deg,#ff0000 245.7deg,#8000ff 245.7deg,#5800ff 261.5deg,#5100ff 278.5deg,#1e04ff 301.5deg,#004cff 314.5deg,#006aff 323.5deg,#0079ff 330.5deg,#00ebff 338.5deg,#00f9f8 340.0deg,#00ffb2 344.0deg,#00ff43 348.5deg,#01ff00 352.5deg,#71ff00 357.5deg,#9dff00 360.0deg)"></i><i style="left:-6.00px;top:-6.00px;width:96.00px;height:96.00px;background:conic-gradient(#a3ff00 0.0deg,#f3ec00 5.0deg,#ffd200 9.0deg,#ff7100 20.0deg,#ff3400 32.0deg,#ff2900 40.5deg,#ff7600 50.0deg,#ff2500 55.0deg,#ff0000 65.3deg,#8000ff 65.3deg,#5800ff 81.0deg,#5100ff 98.0deg,#1d06ff 121.5deg,#004bff 134.0deg,#006aff 143.0deg,#0076ff 150.0deg,#00e9ff 158.0deg,#00f8fc 159.5deg,#00ffb6 163.5deg,#00ff46 168.0deg,#00ff02 172.0deg,#77ff00 177.5deg,#e0f400 183.5deg,#f6e900 185.5deg,#ffca00 190.0deg,#ff7100 200.0deg,#ff3400 212.0deg,#ff2900 220.5deg,#ff7600 230.0deg,#ff2500 235.0deg,#ff0000 245.3deg,#8000ff 245.3deg,#5800ff 261.0deg,#5100ff 278.0deg,#1d06ff 301.5deg,#004bff 314.0deg,#006aff 323.0deg,#0076ff 330.0deg,#00e9ff 338.0deg,#00f8fc 339.5deg,#00ffb6 343.5deg,#00ff46 348.0deg,#00ff02 352.0deg,#77ff00 357.5deg,#a3ff00 360.0deg)"></i><i style="left:-5.00px;top:-5.00px;width:94.00px;height:94.00px;background:conic-gradient(#a9ff00 0.0deg,#f3ed00 4.5deg,#ffd300 8.5deg,#ff7200 19.5deg,#ff3500 31.5deg,#ff2c00 40.5deg,#ff7800 49.5deg,#ff2300 55.0deg,#ff0000 65.0deg,#8000ff 65.0deg,#5800ff 80.5deg,#5000ff 98.0deg,#1d05ff 121.0deg,#004aff 133.5deg,#006aff 142.5deg,#0074ff 149.5deg,#00e8ff 157.5deg,#00f8ff 159.0deg,#00ffac 163.5deg,#00ff48 167.5deg,#06ff00 172.0deg,#74ff00 177.0deg,#def400 183.0deg,#f6ea00 185.0deg,#ffcb00 189.5deg,#ff7200 199.5deg,#ff3500 211.5deg,#ff2c00 220.5deg,#ff7800 229.5deg,#ff2300 235.0deg,#ff0000 245.0deg,#8000ff 245.0deg,#5800ff 260.5deg,#5000ff 278.0deg,#1d05ff 301.0deg,#004aff 313.5deg,#006aff 322.5deg,#0074ff 329.5deg,#00e8ff 337.5deg,#00f8ff 339.0deg,#00ffac 343.5deg,#00ff48 347.5deg,#06ff00 352.0deg,#74ff00 357.0deg,#a9ff00 360.0deg)"></i><i style="left:-4.00px;top:-4.00px;width:92.00px;height:92.00px;background:conic-gradient(#c2fb00 0.0deg,#f2ee00 3.0deg,#ffd300 7.0deg,#ff6f00 18.5deg,#ff3500 30.0deg,#ff2b00 39.0deg,#ff7900 48.0deg,#ff2300 53.5deg,#ff0000 63.5deg,#8000ff 63.5deg,#5800ff 79.5deg,#5100ff 96.5deg,#1e05ff 119.5deg,#004aff 132.0deg,#0069ff 141.0deg,#0073ff 148.0deg,#00e7ff 156.0deg,#00f7ff 157.5deg,#00ffaf 162.0deg,#00ff4a 166.0deg,#04ff00 170.5deg,#73ff00 175.5deg,#dcf500 181.5deg,#f5eb00 183.5deg,#ffc800 188.5deg,#ff6f00 198.5deg,#ff3500 210.0deg,#ff2b00 219.0deg,#ff7900 228.0deg,#ff2300 233.5deg,#ff0000 243.5deg,#8000ff 243.5deg,#5800ff 259.5deg,#5100ff 276.5deg,#1e05ff 299.5deg,#004aff 312.0deg,#0069ff 321.0deg,#0073ff 328.0deg,#00e7ff 336.0deg,#00f7ff 337.5deg,#00ffaf 342.0deg,#00ff4a 346.0deg,#04ff00 350.5deg,#73ff00 355.5deg,#c2fb00 360.0deg)"></i><i style="left:-3.00px;top:-3.00px;width:90.00px;height:90.00px;background:conic-gradient(#eef100 0.0deg,#ffd700 4.0deg,#ff6f00 16.0deg,#ff3500 27.5deg,#ff2b00 36.5deg,#ff7900 45.5deg,#ff2300 51.0deg,#ff0000 61.0deg,#8000ff 61.0deg,#5800ff 76.5deg,#5000ff 94.0deg,#1e05ff 117.0deg,#004aff 129.5deg,#0069ff 138.5deg,#0073ff 145.5deg,#00ecff 154.0deg,#00f9f7 155.5deg,#00ffb0 159.5deg,#00ff42 164.0deg,#03ff00 168.0deg,#72ff00 173.0deg,#d3f700 178.5deg,#f2ee00 180.5deg,#ffd000 185.0deg,#ff6f00 196.0deg,#ff3500 207.5deg,#ff2b00 216.5deg,#ff7900 225.5deg,#ff2300 231.0deg,#ff0000 241.0deg,#8000ff 241.0deg,#5800ff 256.5deg,#5000ff 274.0deg,#1e05ff 297.0deg,#004aff 309.5deg,#0069ff 318.5deg,#0073ff 325.5deg,#00ecff 334.0deg,#00f9f7 335.5deg,#00ffb0 339.5deg,#00ff42 344.0deg,#03ff00 348.0deg,#72ff00 353.0deg,#d3f700 358.5deg,#eef100 360.0deg)"></i><i style="left:-2.00px;top:-2.00px;width:88.00px;height:88.00px;background:conic-gradient(#fee100 0.0deg,#ff8200 11.0deg,#ff3500 25.0deg,#ff2b00 34.0deg,#ff7900 43.0deg,#ff2300 48.5deg,#ff0000 58.5deg,#8000ff 58.5deg,#5800ff 74.0deg,#5000ff 91.5deg,#1e05ff 114.5deg,#004aff 127.0deg,#0069ff 136.0deg,#007aff 143.5deg,#00ebff 151.5deg,#00f9f7 153.0deg,#00ffb0 157.0deg,#00ff42 161.5deg,#02ff00 165.5deg,#72ff00 170.5deg,#dbf500 176.5deg,#f5eb00 178.5deg,#ffcc00 183.0deg,#ff6f00 193.5deg,#ff3500 205.0deg,#ff2b00 214.0deg,#ff7900 223.0deg,#ff2300 228.5deg,#ff0000 238.5deg,#8000ff 238.5deg,#5800ff 254.0deg,#5000ff 271.5deg,#1e05ff 294.5deg,#004aff 307.0deg,#0069ff 316.0deg,#007aff 323.5deg,#00ebff 331.5deg,#00f9f7 333.0deg,#00ffb0 337.0deg,#00ff42 341.5deg,#02ff00 345.5deg,#72ff00 350.5deg,#dbf500 356.5deg,#f5eb00 358.5deg,#fee100 360.0deg)"></i><i style="left:-1.00px;top:-1.00px;width:86.00px;height:86.00px;background:conic-gradient(#ffd000 0.0deg,#ff7000 11.0deg,#ff3500 22.5deg,#ff2b00 31.5deg,#ff7900 40.5deg,#ff2300 46.0deg,#ff0000 55.9deg,#8000ff 55.9deg,#5800ff 71.5deg,#5000ff 89.0deg,#1e05ff 112.0deg,#004aff 124.5deg,#0069ff 133.5deg,#0079ff 141.0deg,#00ebff 149.0deg,#00f9f8 150.5deg,#00ffb1 154.5deg,#00ff43 159.0deg,#01ff00 163.0deg,#71ff00 168.0deg,#dbf500 174.0deg,#f5eb00 176.0deg,#ffcd00 180.5deg,#ff7000 191.0deg,#ff3500 202.5deg,#ff2b00 211.5deg,#ff7900 220.5deg,#ff2300 226.0deg,#ff0000 235.9deg,#8000ff 235.9deg,#5800ff 251.5deg,#5000ff 269.0deg,#1e05ff 292.0deg,#004aff 304.5deg,#0069ff 313.5deg,#0079ff 321.0deg,#00ebff 329.0deg,#00f9f8 330.5deg,#00ffb1 334.5deg,#00ff43 339.0deg,#01ff00 343.0deg,#71ff00 348.0deg,#dbf500 354.0deg,#f5eb00 356.0deg,#ffd000 360.0deg)"></i><i style="left:0.00px;top:0.00px;width:84.00px;height:84.00px;background:conic-gradient(#ffc300 0.0deg,#ff7900 8.5deg,#ff3a00 20.5deg,#ff2c00 29.0deg,#ff7500 38.0deg,#ff2100 44.0deg,#ff0000 53.7deg,#8000ff 53.7deg,#5800ff 69.5deg,#4f00ff 87.0deg,#1d06ff 109.5deg,#004aff 122.0deg,#006bff 131.5deg,#0077ff 138.5deg,#00ecff 147.0deg,#00f9f8 148.5deg,#00ffb3 152.5deg,#00ff46 157.0deg,#00ff03 161.0deg,#7dff00 167.0deg,#e6f200 173.0deg,#ffdd00 176.5deg,#ff7600 189.0deg,#ff3a00 200.5deg,#ff2c00 209.0deg,#ff7500 218.0deg,#ff2100 224.0deg,#ff0000 233.7deg,#8000ff 233.7deg,#5800ff 249.5deg,#4f00ff 267.0deg,#1d06ff 289.5deg,#004aff 302.0deg,#006bff 311.5deg,#0077ff 318.5deg,#00ecff 327.0deg,#00f9f8 328.5deg,#00ffb3 332.5deg,#00ff46 337.0deg,#00ff03 341.0deg,#7dff00 347.0deg,#e6f200 353.0deg,#ffdd00 356.5deg,#ffc300 360.0deg)"></i><i style="left:1.00px;top:1.00px;width:82.00px;height:82.00px;background:conic-gradient(#ffbc00 0.0deg,#ff8600 6.5deg,#ff4400 19.0deg,#ff3400 27.5deg,#ff7000 36.5deg,#ff2100 42.0deg,#ff0000 51.9deg,#8000ff 51.9deg,#5800ff 68.0deg,#4c00ff 85.5deg,#1e05ff 106.5deg,#004cff 120.0deg,#006fff 130.0deg,#0081ff 137.0deg,#00eeff 145.5deg,#00f9f7 147.0deg,#00ffb7 151.0deg,#00ff43 156.0deg,#00ff03 160.0deg,#7bff00 166.0deg,#daf500 171.5deg,#f5eb00 173.5deg,#ffcd00 178.0deg,#ff8600 186.5deg,#ff4400 199.0deg,#ff3400 207.5deg,#ff7000 216.5deg,#ff2100 222.0deg,#ff0000 231.9deg,#8000ff 231.9deg,#5800ff 248.0deg,#4c00ff 265.5deg,#1e05ff 286.5deg,#004cff 300.0deg,#006fff 310.0deg,#0081ff 317.0deg,#00eeff 325.5deg,#00f9f7 327.0deg,#00ffb7 331.0deg,#00ff43 336.0deg,#00ff03 340.0deg,#7bff00 346.0deg,#daf500 351.5deg,#f5eb00 353.5deg,#ffcd00 358.0deg,#ffbc00 360.0deg)"></i><i style="left:2.00px;top:2.00px;width:80.00px;height:80.00px;background:conic-gradient(#ffb500 0.0deg,#ff8c00 5.5deg,#ff4b00 18.0deg,#ff3900 25.5deg,#ff6c00 34.5deg,#ff2100 40.0deg,#ff0000 50.0deg,#8000ff 50.0deg,#5800ff 66.5deg,#4700ff 84.5deg,#1e05ff 103.5deg,#004cff 117.5deg,#0075ff 129.5deg,#0083ff 135.0deg,#00ebff 143.5deg,#00f9f7 145.5deg,#00ffaf 150.0deg,#00ff49 154.5deg,#06ff00 159.5deg,#79ff00 165.0deg,#e1f400 171.0deg,#f7e900 173.0deg,#ffc700 178.0deg,#ff8f00 185.0deg,#ff4b00 198.0deg,#ff3900 205.5deg,#ff6c00 214.5deg,#ff2100 220.0deg,#ff0000 230.0deg,#8000ff 230.0deg,#5800ff 246.5deg,#4700ff 264.5deg,#1e05ff 283.5deg,#004cff 297.5deg,#0075ff 309.5deg,#0083ff 315.0deg,#00ebff 323.5deg,#00f9f7 325.5deg,#00ffaf 330.0deg,#00ff49 334.5deg,#06ff00 339.5deg,#79ff00 345.0deg,#e1f400 351.0deg,#f7e900 353.0deg,#ffc700 358.0deg,#ffb500 360.0deg)"></i><i style="left:3.00px;top:3.00px;width:78.00px;height:78.00px;background:conic-gradient(#ffb600 0.0deg,#ff8f00 6.0deg,#ff5200 18.0deg,#ff4100 25.0deg,#ff6700 33.5deg,#ff2000 39.0deg,#ff0000 49.0deg,#8000ff 49.0deg,#5800ff 66.0deg,#4400ff 84.0deg,#1e05ff 101.5deg,#004aff 115.5deg,#007bff 129.5deg,#008eff 134.5deg,#00edff 143.0deg,#00f9f6 145.0deg,#00ffb2 149.5deg,#00ff45 154.5deg,#00ff03 159.0deg,#80ff00 165.5deg,#e9f200 171.5deg,#ffd900 175.5deg,#ff9600 184.5deg,#ff5000 198.5deg,#ff4100 205.0deg,#ff6700 213.5deg,#ff2000 219.0deg,#ff0000 229.0deg,#8000ff 229.0deg,#5800ff 246.0deg,#4400ff 264.0deg,#1e05ff 281.5deg,#004aff 295.5deg,#007bff 309.5deg,#008eff 314.5deg,#00edff 323.0deg,#00f9f6 325.0deg,#00ffb2 329.5deg,#00ff45 334.5deg,#00ff03 339.0deg,#80ff00 345.5deg,#e9f200 351.5deg,#ffd900 355.5deg,#ffb600 360.0deg)"></i><i style="left:4.00px;top:4.00px;width:76.00px;height:76.00px;background:conic-gradient(#ffba00 0.0deg,#ff5800 18.0deg,#ff4600 24.0deg,#ff5e00 33.0deg,#ff1f00 38.5deg,#ff0000 48.2deg,#8000ff 48.2deg,#5700ff 66.0deg,#3e00ff 85.0deg,#1d06ff 100.0deg,#004cff 114.5deg,#0085ff 131.0deg,#0095ff 134.0deg,#00f1ff 143.0deg,#00f9f8 144.5deg,#00ffaf 149.5deg,#00ff46 154.5deg,#02ff00 159.5deg,#7cff00 165.5deg,#dbf500 171.0deg,#f5eb00 173.0deg,#ffce00 177.5deg,#ff9a00 185.0deg,#ff4e00 200.5deg,#ff4700 204.5deg,#ff5e00 213.0deg,#ff1f00 218.5deg,#ff0000 228.2deg,#8000ff 228.2deg,#5700ff 246.0deg,#3e00ff 265.0deg,#1d06ff 280.0deg,#004cff 294.5deg,#0085ff 311.0deg,#0095ff 314.0deg,#00f1ff 323.0deg,#00f9f8 324.5deg,#00ffaf 329.5deg,#00ff46 334.5deg,#02ff00 339.5deg,#7cff00 345.5deg,#dbf500 351.0deg,#f5eb00 353.0deg,#ffce00 357.5deg,#ffba00 360.0deg)"></i><i style="left:5.00px;top:5.00px;width:74.00px;height:74.00px;background:conic-gradient(#ffbd00 0.0deg,#ff4d00 22.0deg,#ff5c00 32.0deg,#ff1f00 37.5deg,#ff0000 47.4deg,#8000ff 47.4deg,#5700ff 65.5deg,#3600ff 86.5deg,#1d06ff 98.0deg,#004cff 113.0deg,#0097ff 133.0deg,#00f1ff 142.5deg,#00f9f5 144.5deg,#00ffae 149.5deg,#00ff41 155.0deg,#00ff02 159.5deg,#7fff00 166.0deg,#e8f200 172.0deg,#ffda00 176.0deg,#ff9500 187.0deg,#ff4b00 203.0deg,#ff5c00 212.0deg,#ff1f00 217.5deg,#ff0000 227.4deg,#8000ff 227.4deg,#5700ff 245.5deg,#3600ff 266.5deg,#1d06ff 278.0deg,#004cff 293.0deg,#0097ff 313.0deg,#00f1ff 322.5deg,#00f9f5 324.5deg,#00ffae 329.5deg,#00ff41 335.0deg,#00ff02 339.5deg,#7fff00 346.0deg,#e8f200 352.0deg,#ffda00 356.0deg,#ffbd00 360.0deg)"></i><i style="left:6.00px;top:6.00px;width:72.00px;height:72.00px;background:conic-gradient(#ffc400 0.0deg,#ff5100 23.0deg,#ff5200 32.0deg,#ff1d00 37.5deg,#ff0000 47.0deg,#8000ff 47.0deg,#5500ff 66.5deg,#2700ff 92.0deg,#1b0aff 97.5deg,#004cff 112.0deg,#009fff 133.0deg,#00f0ff 142.5deg,#00f9f6 144.5deg,#00ffb5 149.5deg,#00ff42 155.5deg,#04ff00 160.5deg,#7cff00 166.5deg,#dbf500 172.0deg,#f5eb00 174.0deg,#ffcf00 178.5deg,#ff5200 202.0deg,#ff5200 212.0deg,#ff1d00 217.5deg,#ff0000 227.0deg,#8000ff 227.0deg,#5500ff 246.5deg,#2700ff 272.0deg,#1b0aff 277.5deg,#004cff 292.0deg,#009fff 313.0deg,#00f0ff 322.5deg,#00f9f6 324.5deg,#00ffb5 329.5deg,#00ff42 335.5deg,#04ff00 340.5deg,#7cff00 346.5deg,#dbf500 352.0deg,#f5eb00 354.0deg,#ffcf00 358.5deg,#ffc400 360.0deg)"></i><i style="left:7.00px;top:7.00px;width:70.00px;height:70.00px;background:conic-gradient(#ffcd00 0.0deg,#ff5700 23.0deg,#ff4c00 32.0deg,#ff1d00 37.5deg,#ff0000 47.0deg,#8000ff 47.0deg,#5200ff 68.5deg,#1d06ff 95.5deg,#004cff 111.0deg,#00a4ff 133.0deg,#00f1ff 143.0deg,#00faf1 145.5deg,#00ffb1 150.5deg,#00ff42 156.5deg,#03ff00 161.5deg,#7bff00 167.5deg,#e3f300 173.5deg,#f9e600 176.0deg,#ff5800 202.0deg,#ff4c00 212.0deg,#ff1d00 217.5deg,#ff0000 227.0deg,#8000ff 227.0deg,#5200ff 248.5deg,#1d06ff 275.5deg,#004cff 291.0deg,#00a4ff 313.0deg,#00f1ff 323.0deg,#00faf1 325.5deg,#00ffb1 330.5deg,#00ff42 336.5deg,#03ff00 341.5deg,#7bff00 347.5deg,#e3f300 353.5deg,#f9e600 356.0deg,#ffcd00 360.0deg)"></i><i style="left:8.00px;top:8.00px;width:68.00px;height:68.00px;background:conic-gradient(#ffd500 0.0deg,#ff5a00 24.0deg,#ff4700 32.0deg,#ff1c00 37.5deg,#ff0000 46.9deg,#8000ff 46.9deg,#4b00ff 72.0deg,#1d06ff 94.5deg,#004bff 110.0deg,#00acff 133.5deg,#00f6ff 144.5deg,#00ffb8 151.0deg,#00ff43 157.5deg,#01ff00 162.5deg,#7aff00 168.5deg,#e1f400 174.5deg,#f6ea00 176.5deg,#ffcb00 182.0deg,#ff5a00 204.0deg,#ff4700 212.0deg,#ff1c00 217.5deg,#ff0000 226.9deg,#8000ff 226.9deg,#4b00ff 252.0deg,#1d06ff 274.5deg,#004bff 290.0deg,#00acff 313.5deg,#00f6ff 324.5deg,#00ffb8 331.0deg,#00ff43 337.5deg,#01ff00 342.5deg,#7aff00 348.5deg,#e1f400 354.5deg,#f6ea00 356.5deg,#ffd500 360.0deg)"></i><i style="left:9.00px;top:9.00px;width:66.00px;height:66.00px;background:conic-gradient(#ffdd00 0.0deg,#ff5800 25.5deg,#ff3d00 32.5deg,#ff1a00 38.0deg,#ff0000 46.9deg,#8000ff 46.9deg,#1e04ff 93.0deg,#004cff 109.5deg,#00b3ff 134.0deg,#00f8ff 145.5deg,#00ffb7 152.0deg,#00ff44 158.5deg,#00ff00 163.5deg,#81ff00 170.0deg,#eff000 176.5deg,#ffd700 181.0deg,#ff5800 205.5deg,#ff3d00 212.5deg,#ff1a00 218.0deg,#ff0000 226.9deg,#8000ff 226.9deg,#1e04ff 273.0deg,#004cff 289.5deg,#00b3ff 314.0deg,#00f8ff 325.5deg,#00ffb7 332.0deg,#00ff44 338.5deg,#00ff00 343.5deg,#81ff00 350.0deg,#eff000 356.5deg,#ffdd00 360.0deg)"></i><i style="left:10.00px;top:10.00px;width:64.00px;height:64.00px;background:conic-gradient(#fbe400 0.0deg,#ff4400 30.5deg,#ff1a00 38.0deg,#ff0000 46.8deg,#8000ff 46.8deg,#1e05ff 92.0deg,#004cff 108.5deg,#00bcff 135.0deg,#00f8fd 146.5deg,#00ffb8 153.0deg,#00ff3f 160.0deg,#00ff02 164.5deg,#7fff00 171.0deg,#e4f300 177.0deg,#fbe400 180.0deg,#ff4400 210.5deg,#ff1a00 218.0deg,#ff0000 226.8deg,#8000ff 226.8deg,#1e05ff 272.0deg,#004cff 288.5deg,#00bcff 315.0deg,#00f8fd 326.5deg,#00ffb8 333.0deg,#00ff3f 340.0deg,#00ff02 344.5deg,#7fff00 351.0deg,#e4f300 357.0deg,#fbe400 360.0deg)"></i><i style="left:11.00px;top:11.00px;width:62.00px;height:62.00px;background:conic-gradient(#f5eb00 0.0deg,#ffcc00 6.0deg,#ff1900 38.0deg,#ff0000 46.8deg,#8000ff 46.8deg,#1d05ff 91.0deg,#004bff 107.5deg,#00b9ff 134.0deg,#00f8fc 147.5deg,#00ffb1 154.5deg,#00ff41 161.0deg,#05ff00 166.0deg,#7dff00 172.0deg,#e0f400 178.0deg,#f5eb00 180.0deg,#ffcc00 186.0deg,#ff1900 218.0deg,#ff0000 226.8deg,#8000ff 226.8deg,#1d05ff 271.0deg,#004bff 287.5deg,#00b9ff 314.0deg,#00f8fc 327.5deg,#00ffb1 334.5deg,#00ff41 341.0deg,#05ff00 346.0deg,#7dff00 352.0deg,#e0f400 358.0deg,#f5eb00 360.0deg)"></i><i style="left:12.00px;top:12.00px;width:60.00px;height:60.00px;background:conic-gradient(#f2ee00 0.0deg,#ffd400 5.0deg,#ff4d00 28.0deg,#ff1900 38.0deg,#ff0000 46.7deg,#8000ff 46.7deg,#1d05ff 90.5deg,#004bff 107.0deg,#00b1ff 132.0deg,#00f8fc 148.0deg,#00ffb2 155.0deg,#00ff42 161.5deg,#03ff00 166.5deg,#7cff00 172.5deg,#e6f200 179.0deg,#ffdf00 183.0deg,#ff5300 207.0deg,#ff1900 218.0deg,#ff0000 226.7deg,#8000ff 226.7deg,#1d05ff 270.5deg,#004bff 287.0deg,#00b1ff 312.0deg,#00f8fc 328.0deg,#00ffb2 335.0deg,#00ff42 341.5deg,#03ff00 346.5deg,#7cff00 352.5deg,#e6f200 359.0deg,#f2ee00 360.0deg)"></i><i style="left:13.00px;top:13.00px;width:58.00px;height:58.00px;background:conic-gradient(#f2ee00 0.0deg,#ffd400 5.0deg,#ff4c00 28.0deg,#ff1800 38.0deg,#ff0000 46.7deg,#8000ff 46.7deg,#1d05ff 90.5deg,#004bff 107.0deg,#00b1ff 132.0deg,#00f8fc 148.0deg,#00ffb3 155.0deg,#00ff42 161.5deg,#03ff00 166.5deg,#7cff00 172.5deg,#e6f200 179.0deg,#ffdf00 183.0deg,#ff5300 207.0deg,#ff1800 218.0deg,#ff0000 226.7deg,#8000ff 226.7deg,#1d05ff 270.5deg,#004bff 287.0deg,#00b1ff 312.0deg,#00f8fc 328.0deg,#00ffb3 335.0deg,#00ff42 341.5deg,#03ff00 346.5deg,#7cff00 352.5deg,#e6f200 359.0deg,#f2ee00 360.0deg)"></i><i style="left:14.00px;top:14.00px;width:56.00px;height:56.00px;background:conic-gradient(#f1ef00 0.0deg,#ffd500 5.0deg,#ff4c00 28.0deg,#ff1800 38.0deg,#ff0000 46.7deg,#8000ff 46.7deg,#1e05ff 90.5deg,#004bff 107.0deg,#00b0ff 132.0deg,#00f8fd 148.0deg,#00ffb5 155.0deg,#00ff44 161.5deg,#01ff00 166.5deg,#7bff00 172.5deg,#e5f300 179.0deg,#fde200 182.5deg,#ff5600 206.5deg,#ff1800 218.0deg,#ff0000 226.7deg,#8000ff 226.7deg,#1e05ff 270.5deg,#004bff 287.0deg,#00b0ff 312.0deg,#00f8fd 328.0deg,#00ffb5 335.0deg,#00ff44 341.5deg,#01ff00 346.5deg,#7bff00 352.5deg,#e5f300 359.0deg,#f1ef00 360.0deg)"></i><i style="left:15.00px;top:15.00px;width:54.00px;height:54.00px;background:conic-gradient(#f1ef00 0.0deg,#ffd500 5.0deg,#ff4d00 28.0deg,#ff1800 38.0deg,#ff0000 46.7deg,#8000ff 46.7deg,#1e05ff 90.5deg,#004aff 107.0deg,#00b0ff 132.0deg,#00f9fa 148.5deg,#00ffb7 155.0deg,#00ff3f 162.0deg,#00ff01 166.5deg,#79ff00 172.5deg,#e4f300 179.0deg,#fbe500 182.0deg,#ff5600 206.5deg,#ff1800 218.0deg,#ff0000 226.7deg,#8000ff 226.7deg,#1e05ff 270.5deg,#004aff 287.0deg,#00b0ff 312.0deg,#00f9fa 328.5deg,#00ffb7 335.0deg,#00ff3f 342.0deg,#00ff01 346.5deg,#79ff00 352.5deg,#e4f300 359.0deg,#f1ef00 360.0deg)"></i><i style="left:16.00px;top:16.00px;width:52.00px;height:52.00px;background:conic-gradient(#f1ef00 0.0deg,#ffd500 5.0deg,#ff4d00 28.0deg,#ff1800 38.0deg,#ff0000 46.7deg,#8000ff 46.7deg,#1e04ff 90.5deg,#004cff 107.5deg,#00b1ff 132.5deg,#00f8fb 148.5deg,#00ffb0 155.5deg,#00ff40 162.0deg,#00ff02 166.5deg,#80ff00 173.0deg,#eaf100 179.5deg,#ffdb00 184.0deg,#ff5300 207.0deg,#ff1800 218.0deg,#ff0000 226.7deg,#8000ff 226.7deg,#1e04ff 270.5deg,#004cff 287.5deg,#00b1ff 312.5deg,#00f8fb 328.5deg,#00ffb0 335.5deg,#00ff40 342.0deg,#00ff02 346.5deg,#80ff00 353.0deg,#eaf100 359.5deg,#f1ef00 360.0deg)"></i><i style="left:17.00px;top:17.00px;width:50.00px;height:50.00px;background:conic-gradient(#f0f000 0.0deg,#ffd600 5.0deg,#ff5000 27.5deg,#ff1800 38.0deg,#ff0000 46.7deg,#8000ff 46.7deg,#1d06ff 91.0deg,#004bff 107.5deg,#00b1ff 132.5deg,#00f8fc 148.5deg,#00ffb3 155.5deg,#00ff42 162.0deg,#05ff00 167.0deg,#76ff00 172.5deg,#d9f500 178.5deg,#f3ed00 180.5deg,#ffd300 185.5deg,#ff4a00 208.5deg,#ff1800 218.0deg,#ff0000 226.7deg,#8000ff 226.7deg,#1d06ff 271.0deg,#004bff 287.5deg,#00b1ff 312.5deg,#00f8fc 328.5deg,#00ffb3 335.5deg,#00ff42 342.0deg,#05ff00 347.0deg,#76ff00 352.5deg,#d9f500 358.5deg,#f0f000 360.0deg)"></i><i style="left:18.00px;top:18.00px;width:48.00px;height:48.00px;background:conic-gradient(#f0f000 0.0deg,#ffd600 5.0deg,#ff5000 27.5deg,#ff1800 38.0deg,#ff0000 46.7deg,#8000ff 46.7deg,#1d06ff 91.0deg,#004bff 107.5deg,#00b0ff 132.5deg,#00f9f9 149.0deg,#00ffb5 155.5deg,#00ff43 162.0deg,#03ff00 167.0deg,#7dff00 173.0deg,#e0f400 179.0deg,#f5eb00 181.0deg,#ffce00 186.5deg,#ff1a00 217.5deg,#ff0000 226.7deg,#8000ff 226.7deg,#1d06ff 271.0deg,#004bff 287.5deg,#00b0ff 312.5deg,#00f9f9 329.0deg,#00ffb5 335.5deg,#00ff43 342.0deg,#03ff00 347.0deg,#7dff00 353.0deg,#e0f400 359.0deg,#f0f000 360.0deg)"></i><i style="left:19.00px;top:19.00px;width:46.00px;height:46.00px;background:conic-gradient(#eff000 0.0deg,#ffd600 5.0deg,#ff5000 27.5deg,#ff1800 38.0deg,#ff0000 46.7deg,#8000ff 46.7deg,#1d05ff 91.0deg,#004aff 107.5deg,#00adff 132.0deg,#00f9fa 149.0deg,#00ffb8 155.5deg,#00ff3e 162.5deg,#00ff00 167.0deg,#7bff00 173.0deg,#e7f200 179.5deg,#ffdc00 184.0deg,#ff5300 207.0deg,#ff1800 218.0deg,#ff0000 226.7deg,#8000ff 226.7deg,#1d05ff 271.0deg,#004aff 287.5deg,#00adff 312.0deg,#00f9fa 329.0deg,#00ffb8 335.5deg,#00ff3e 342.5deg,#00ff00 347.0deg,#7bff00 353.0deg,#e7f200 359.5deg,#eff000 360.0deg)"></i><i style="left:20.00px;top:20.00px;width:44.00px;height:44.00px;background:conic-gradient(#eef100 0.0deg,#ffd600 5.0deg,#ff4c00 28.0deg,#ff1800 38.0deg,#ff0000 46.6deg,#8000ff 46.6deg,#1d05ff 91.0deg,#004bff 108.0deg,#00aeff 132.5deg,#00f8fc 149.0deg,#00ffb2 156.0deg,#00ff40 162.5deg,#00ff02 167.0deg,#7aff00 173.0deg,#e6f200 179.5deg,#ffdf00 183.5deg,#ff5300 207.0deg,#ff1800 218.0deg,#ff0000 226.6deg,#8000ff 226.6deg,#1d05ff 271.0deg,#004bff 288.0deg,#00aeff 312.5deg,#00f8fc 329.0deg,#00ffb2 336.0deg,#00ff40 342.5deg,#00ff02 347.0deg,#7aff00 353.0deg,#e6f200 359.5deg,#eef100 360.0deg)"></i><i style="left:21.00px;top:21.00px;width:42.00px;height:42.00px;background:conic-gradient(#ecf100 0.0deg,#ffd700 5.0deg,#ff4c00 28.0deg,#ff1800 38.0deg,#ff0000 46.6deg,#8000ff 46.6deg,#1e05ff 91.0deg,#004bff 108.0deg,#00adff 132.5deg,#00f9f9 149.5deg,#00ffb5 156.0deg,#00ff42 162.5deg,#05ff00 167.5deg,#78ff00 173.0deg,#e4f300 179.5deg,#fde200 183.0deg,#ff5300 207.0deg,#ff1a00 217.5deg,#ff0000 226.6deg,#8000ff 226.6deg,#1e05ff 271.0deg,#004bff 288.0deg,#00adff 312.5deg,#00f9f9 329.5deg,#00ffb5 336.0deg,#00ff42 342.5deg,#05ff00 347.5deg,#78ff00 353.0deg,#e4f300 359.5deg,#ecf100 360.0deg)"></i><i style="left:22.00px;top:22.00px;width:40.00px;height:40.00px;background:conic-gradient(#f0f000 0.0deg,#ffd500 5.0deg,#ff4a00 28.0deg,#ff1800 37.5deg,#ff0000 46.2deg,#8000ff 46.2deg,#1d06ff 91.0deg,#004bff 108.0deg,#00aeff 132.5deg,#00f8fd 149.0deg,#00ffb3 156.0deg,#00ff41 162.5deg,#00ff02 167.0deg,#7bff00 173.0deg,#e0f400 179.0deg,#f5eb00 181.0deg,#ffce00 186.5deg,#ff1a00 217.0deg,#ff0000 226.2deg,#8000ff 226.2deg,#1d06ff 271.0deg,#004bff 288.0deg,#00aeff 312.5deg,#00f8fd 329.0deg,#00ffb3 336.0deg,#00ff41 342.5deg,#00ff02 347.0deg,#7bff00 353.0deg,#e0f400 359.0deg,#f0f000 360.0deg)"></i><i style="left:23.00px;top:23.00px;width:38.00px;height:38.00px;background:conic-gradient(#f1ef00 0.0deg,#ffd400 5.0deg,#ff1a00 36.5deg,#ff0000 45.8deg,#8000ff 45.8deg,#1e05ff 90.5deg,#004cff 108.0deg,#00aeff 132.5deg,#00f8fd 149.0deg,#00ffb2 156.0deg,#00ff3f 162.5deg,#00ff00 167.0deg,#7dff00 173.0deg,#e3f300 179.0deg,#f8e700 181.5deg,#ff8400 199.0deg,#ff1c00 216.0deg,#ff0000 225.8deg,#8000ff 225.8deg,#1e05ff 270.5deg,#004cff 288.0deg,#00aeff 312.5deg,#00f8fd 329.0deg,#00ffb2 336.0deg,#00ff3f 342.5deg,#00ff00 347.0deg,#7dff00 353.0deg,#e3f300 359.0deg,#f1ef00 360.0deg)"></i><i style="left:24.00px;top:24.00px;width:36.00px;height:36.00px;background:conic-gradient(#f2ee00 0.0deg,#ffd300 5.0deg,#ff1b00 36.0deg,#ff0000 45.4deg,#8000ff 45.4deg,#1d06ff 90.5deg,#004bff 107.5deg,#00aaff 131.5deg,#00f8fc 149.0deg,#00ffb1 156.0deg,#00ff3e 162.5deg,#03ff00 167.0deg,#77ff00 172.5deg,#e6f200 179.0deg,#ffde00 183.0deg,#ff4f00 206.5deg,#ff1900 216.5deg,#ff0000 225.4deg,#8000ff 225.4deg,#1d06ff 270.5deg,#004bff 287.5deg,#00aaff 311.5deg,#00f8fc 329.0deg,#00ffb1 336.0deg,#00ff3e 342.5deg,#03ff00 347.0deg,#77ff00 352.5deg,#e6f200 359.0deg,#f2ee00 360.0deg)"></i><i style="left:25.00px;top:25.00px;width:34.00px;height:34.00px;background:conic-gradient(#f3ed00 0.0deg,#ffd100 5.0deg,#ff1b00 35.5deg,#ff0000 44.9deg,#8000ff 44.9deg,#1e04ff 90.0deg,#004bff 107.5deg,#00a9ff 131.5deg,#00f8fc 149.0deg,#00ffb1 156.0deg,#00ff3d 162.5deg,#05ff00 167.0deg,#7aff00 172.5deg,#e1f300 178.5deg,#f6ea00 180.5deg,#ffcc00 186.0deg,#ff1b00 215.5deg,#ff0000 224.9deg,#8000ff 224.9deg,#1e04ff 270.0deg,#004bff 287.5deg,#00a9ff 311.5deg,#00f8fc 329.0deg,#00ffb1 336.0deg,#00ff3d 342.5deg,#05ff00 347.0deg,#7aff00 352.5deg,#e1f300 358.5deg,#f3ed00 360.0deg)"></i><i style="left:26.00px;top:26.00px;width:32.00px;height:32.00px;background:conic-gradient(#f4ec00 0.0deg,#ffd000 5.0deg,#ff1b00 35.0deg,#ff0000 44.4deg,#8000ff 44.4deg,#1d05ff 90.0deg,#004bff 107.5deg,#00a9ff 131.5deg,#00f8fd 149.0deg,#00ffb1 156.0deg,#00ff3d 162.5deg,#06ff00 167.0deg,#7cff00 172.5deg,#e4f300 178.5deg,#fee100 182.0deg,#ff4c00 206.0deg,#ff1900 215.5deg,#ff0000 224.4deg,#8000ff 224.4deg,#1d05ff 270.0deg,#004bff 287.5deg,#00a9ff 311.5deg,#00f8fd 329.0deg,#00ffb1 336.0deg,#00ff3d 342.5deg,#06ff00 347.0deg,#7cff00 352.5deg,#e4f300 358.5deg,#f4ec00 360.0deg)"></i><i style="left:27.00px;top:27.00px;width:30.00px;height:30.00px;background:conic-gradient(#f5eb00 0.0deg,#ffcf00 5.0deg,#ff1b00 34.5deg,#ff0000 43.8deg,#8000ff 43.8deg,#1e05ff 89.5deg,#004aff 107.0deg,#00a7ff 131.0deg,#00f8fc 149.0deg,#00ffb8 155.5deg,#00ff43 162.0deg,#00ff02 166.5deg,#7eff00 172.5deg,#e7f200 178.5deg,#ffda00 183.0deg,#ff1b00 214.5deg,#ff0000 223.8deg,#8000ff 223.8deg,#1e05ff 269.5deg,#004aff 287.0deg,#00a7ff 311.0deg,#00f8fc 329.0deg,#00ffb8 335.5deg,#00ff43 342.0deg,#00ff02 346.5deg,#7eff00 352.5deg,#e7f200 358.5deg,#f5eb00 360.0deg)"></i><i style="left:28.00px;top:28.00px;width:28.00px;height:28.00px;background:conic-gradient(#f6ea00 0.0deg,#ffcc00 5.5deg,#ff1b00 34.0deg,#ff0000 43.1deg,#8000ff 43.1deg,#1d06ff 88.0deg,#004cff 105.5deg,#00abff 130.0deg,#00f8fb 147.5deg,#00ffb1 154.5deg,#00ff41 161.0deg,#05ff00 166.0deg,#7eff00 172.0deg,#e2f300 178.0deg,#f8e700 180.5deg,#ffa600 191.5deg,#ff1b00 214.0deg,#ff0000 223.1deg,#8000ff 223.1deg,#1d06ff 268.0deg,#004cff 285.5deg,#00abff 310.0deg,#00f8fb 327.5deg,#00ffb1 334.5deg,#00ff41 341.0deg,#05ff00 346.0deg,#7eff00 352.0deg,#e2f300 358.0deg,#f6ea00 360.0deg)"></i><i style="left:29.00px;top:29.00px;width:26.00px;height:26.00px;background:conic-gradient(#f6e900 0.0deg,#ffc700 6.5deg,#ff4700 26.0deg,#ff1800 34.5deg,#ff0000 42.3deg,#8000ff 42.3deg,#1e04ff 86.0deg,#004bff 103.5deg,#00adff 128.5deg,#00f9fa 146.0deg,#00ffb4 153.0deg,#00ff41 160.0deg,#00ff00 165.0deg,#7eff00 171.5deg,#e5f200 178.0deg,#ffdf00 182.0deg,#ff5f00 202.5deg,#ff1900 214.0deg,#ff0000 222.3deg,#8000ff 222.3deg,#1e04ff 266.0deg,#004bff 283.5deg,#00adff 308.5deg,#00f9fa 326.0deg,#00ffb4 333.0deg,#00ff41 340.0deg,#00ff00 345.0deg,#7eff00 351.5deg,#e5f200 358.0deg,#f6e900 360.0deg)"></i><i style="left:30.00px;top:30.00px;width:24.00px;height:24.00px;background:conic-gradient(#f7e800 0.0deg,#ffb500 9.0deg,#ff5500 23.5deg,#ff1900 33.5deg,#ff0000 41.4deg,#8000ff 41.4deg,#1d06ff 84.5deg,#004bff 101.5deg,#00b0ff 127.5deg,#00f8fb 144.5deg,#00ffb1 152.0deg,#00ff41 159.0deg,#05ff00 164.5deg,#7dff00 171.0deg,#e9f200 178.0deg,#ffd900 183.0deg,#ff6000 202.0deg,#ff1a00 213.0deg,#ff0000 221.4deg,#8000ff 221.4deg,#1d06ff 264.5deg,#004bff 281.5deg,#00b0ff 307.5deg,#00f8fb 324.5deg,#00ffb1 332.0deg,#00ff41 339.0deg,#05ff00 344.5deg,#7dff00 351.0deg,#e9f200 358.0deg,#f7e800 360.0deg)"></i><i style="left:31.00px;top:31.00px;width:22.00px;height:22.00px;background:conic-gradient(#fae600 0.0deg,#ff6600 20.5deg,#ff1a00 32.0deg,#ff0000 39.9deg,#8000ff 39.9deg,#1e04ff 82.0deg,#004bff 99.5deg,#00b5ff 126.5deg,#00f9fa 143.0deg,#00ffb3 150.5deg,#00ff40 158.0deg,#03ff00 163.5deg,#80ff00 170.5deg,#eaf100 177.5deg,#ffd900 182.5deg,#ff6200 201.0deg,#ff1a00 212.0deg,#ff0000 219.9deg,#8000ff 219.9deg,#1e04ff 262.0deg,#004bff 279.5deg,#00b5ff 306.5deg,#00f9fa 323.0deg,#00ffb3 330.5deg,#00ff40 338.0deg,#03ff00 343.5deg,#80ff00 350.5deg,#eaf100 357.5deg,#fae600 360.0deg)"></i><i style="left:32.00px;top:32.00px;width:20.00px;height:20.00px;background:conic-gradient(#fce300 0.0deg,#ff6900 19.0deg,#ff1a00 30.5deg,#ff0000 38.2deg,#8000ff 38.2deg,#1d06ff 80.0deg,#004bff 97.0deg,#00b8ff 125.5deg,#00f8fc 141.5deg,#00ffb2 149.5deg,#00ff3d 157.5deg,#06ff00 163.0deg,#81ff00 170.0deg,#eaf100 177.0deg,#ffd800 182.0deg,#ff6500 199.5deg,#ff1a00 210.5deg,#ff0000 218.2deg,#8000ff 218.2deg,#1d06ff 260.0deg,#004bff 277.0deg,#00b8ff 305.5deg,#00f8fc 321.5deg,#00ffb2 329.5deg,#00ff3d 337.5deg,#06ff00 343.0deg,#81ff00 350.0deg,#eaf100 357.0deg,#fce300 360.0deg)"></i><i style="left:33.00px;top:33.00px;width:18.00px;height:18.00px;background:conic-gradient(#ffe000 0.0deg,#ff6900 17.5deg,#ff1a00 28.5deg,#ff0000 35.9deg,#8000ff 35.9deg,#1e04ff 77.0deg,#004aff 94.5deg,#00bfff 125.5deg,#00f9f9 141.0deg,#00ffb0 149.0deg,#00ff3e 157.0deg,#03ff00 162.5deg,#7eff00 169.5deg,#e1f300 176.0deg,#f5eb00 178.0deg,#ffcf00 183.0deg,#ff6100 198.5deg,#ff1a00 208.5deg,#ff0000 215.9deg,#8000ff 215.9deg,#1e04ff 257.0deg,#004aff 274.5deg,#00bfff 305.5deg,#00f9f9 321.0deg,#00ffb0 329.0deg,#00ff3e 337.0deg,#03ff00 342.5deg,#7eff00 349.5deg,#e1f300 356.0deg,#f5eb00 358.0deg,#ffe000 360.0deg)"></i><i style="left:34.00px;top:34.00px;width:16.00px;height:16.00px;background:conic-gradient(#ffdd00 0.0deg,#ff6500 16.0deg,#ff1b00 25.5deg,#ff0000 32.9deg,#8000ff 32.9deg,#1e05ff 74.0deg,#004bff 92.0deg,#00c5ff 126.0deg,#00f9fa 140.5deg,#00ffb2 149.0deg,#00ff3c 157.5deg,#06ff00 163.0deg,#8bff00 170.5deg,#f2ee00 177.0deg,#ffd400 181.5deg,#ff6500 196.0deg,#ff1b00 205.5deg,#ff0000 212.9deg,#8000ff 212.9deg,#1e05ff 254.0deg,#004bff 272.0deg,#00c5ff 306.0deg,#00f9fa 320.5deg,#00ffb2 329.0deg,#00ff3c 337.5deg,#06ff00 343.0deg,#8bff00 350.5deg,#f2ee00 357.0deg,#ffdd00 360.0deg)"></i><i style="left:35.00px;top:35.00px;width:14.00px;height:14.00px;background:conic-gradient(#ffda00 0.0deg,#ff5f00 13.5deg,#ff1a00 21.5deg,#ff0000 28.4deg,#8000ff 28.4deg,#1d06ff 70.5deg,#004aff 89.0deg,#00d1ff 128.5deg,#00f9f9 141.5deg,#00ffb1 150.5deg,#00ff39 159.5deg,#05ff00 164.5deg,#9eff00 172.5deg,#f1ee00 177.0deg,#ffd200 181.0deg,#ff5f00 193.5deg,#ff1a00 201.5deg,#ff0000 208.4deg,#8000ff 208.4deg,#1d06ff 250.5deg,#004aff 269.0deg,#00d1ff 308.5deg,#00f9f9 321.5deg,#00ffb1 330.5deg,#00ff39 339.5deg,#05ff00 344.5deg,#9eff00 352.5deg,#f1ee00 357.0deg,#ffda00 360.0deg)"></i><i style="left:36.00px;top:36.00px;width:12.00px;height:12.00px;background:conic-gradient(#ffd600 0.0deg,#ff2600 13.0deg,#ff0000 20.8deg,#8000ff 20.8deg,#2c00ff 57.0deg,#1d07ff 65.5deg,#004bff 85.5deg,#00f9fa 144.5deg,#00ffb7 154.5deg,#00ff00 168.5deg,#cdf800 176.5deg,#f3ed00 178.0deg,#ffcb00 181.0deg,#ff2600 193.0deg,#ff0000 200.8deg,#8000ff 200.8deg,#2c00ff 237.0deg,#1d07ff 245.5deg,#004bff 265.5deg,#00f9fa 324.5deg,#00ffb7 334.5deg,#00ff00 348.5deg,#cdf800 356.5deg,#f3ed00 358.0deg,#ffd600 360.0deg)"></i><i style="left:37.00px;top:37.00px;width:10.00px;height:10.00px;background:conic-gradient(#0060ff 0.0deg,#0c29ff 0.5deg,#2500ff 1.0deg,#4900ff 2.5deg,#5c00ff 7.0deg,#2b00ff 47.5deg,#1c08ff 57.5deg,#004cff 81.0deg,#00ebff 147.0deg,#00f9f8 156.5deg,#00fdd3 172.0deg,#00fbe5 176.0deg,#00f6ff 177.5deg,#00deff 178.5deg,#00c3ff 179.0deg,#0060ff 180.0deg,#0c29ff 180.5deg,#2500ff 181.0deg,#4900ff 182.5deg,#5c00ff 187.0deg,#2b00ff 227.5deg,#1c08ff 237.5deg,#004cff 261.0deg,#00ebff 327.0deg,#00f9f8 336.5deg,#00fdd3 352.0deg,#00fbe5 356.0deg,#00f6ff 357.5deg,#00deff 358.5deg,#00c3ff 359.0deg,#0060ff 360.0deg)"></i><i style="left:38.00px;top:38.00px;width:8.00px;height:8.00px;background:conic-gradient(#006aff 0.0deg,#0731ff 9.0deg,#1a0bff 19.5deg,#1b0bff 36.5deg,#004eff 74.5deg,#00c3ff 140.5deg,#00c6ff 160.5deg,#00a0ff 172.0deg,#0634ff 188.5deg,#1a0cff 199.0deg,#1b0aff 216.0deg,#004eff 254.5deg,#00c3ff 320.5deg,#00c6ff 340.5deg,#00a0ff 352.0deg,#006aff 360.0deg)"></i><i style="left:39.00px;top:39.00px;width:6.00px;height:6.00px;background:conic-gradient(#006cff 0.0deg,#0044ff 28.0deg,#0050ff 63.0deg,#009bff 138.0deg,#008eff 163.5deg,#0048ff 203.0deg,#0049ff 234.0deg,#009bff 319.0deg,#008dff 344.0deg,#006cff 360.0deg)"></i><i style="left:40.00px;top:40.00px;width:4.00px;height:4.00px;background:conic-gradient(#006fff 0.0deg,#0061ff 54.0deg,#007fff 145.5deg,#0060ff 226.5deg,#007fff 326.5deg,#006fff 360.0deg)"></i><i style="left:41.00px;top:41.00px;width:2.00px;height:2.00px;background:conic-gradient(#0071ff 0.0deg,#0071ff 360.0deg)"></i></div>
<div class="p" style="left:291.20px;top:150.90px;width:84.00px;height:84.00px"><i style="left:-18.00px;top:-18.00px;width:120.00px;height:120.00px;background:conic-gradient(#02ff00 0.0deg,#77ff00 8.5deg,#bbfc00 15.5deg,#f3ed00 24.0deg,#f9e700 35.5deg,#ff9f00 48.5deg,#ff5700 62.5deg,#ff1400 78.0deg,#ff0000 84.6deg,#8000ff 84.6deg,#5e00ff 91.5deg,#4f00ff 114.5deg,#2100ff 137.0deg,#004bff 143.0deg,#00cfff 159.0deg,#00f9f8 167.5deg,#00ffaf 172.0deg,#00ff47 176.5deg,#00ff01 181.0deg,#75ff00 189.5deg,#befc00 197.0deg,#f3ed00 205.0deg,#fae500 217.0deg,#ff9c00 230.0deg,#ff4800 246.5deg,#ff1400 258.5deg,#ff0000 265.1deg,#8000ff 265.1deg,#5e00ff 272.0deg,#4f00ff 294.5deg,#2000ff 316.5deg,#0048ff 322.0deg,#00ceff 338.0deg,#00f8fd 346.0deg,#00ffb9 350.5deg,#00ff45 355.5deg,#02ff00 360.0deg)"></i><i style="left:-17.00px;top:-17.00px;width:118.00px;height:118.00px;background:conic-gradient(#02ff00 0.0deg,#77ff00 8.5deg,#bcfc00 15.5deg,#f3ed00 24.0deg,#f9e600 35.5deg,#ff9f00 48.5deg,#ff5600 62.5deg,#ff1300 78.0deg,#ff0000 84.6deg,#8000ff 84.6deg,#5e00ff 91.5deg,#4f00ff 114.5deg,#2100ff 137.0deg,#004cff 143.0deg,#00cfff 159.0deg,#00f9f8 167.5deg,#00ffaf 172.0deg,#00ff47 176.5deg,#00ff00 181.0deg,#75ff00 189.5deg,#befc00 197.0deg,#f3ed00 205.0deg,#f8e700 216.5deg,#ff9f00 229.5deg,#ff5800 243.0deg,#ff1400 258.5deg,#ff0000 265.1deg,#8000ff 265.1deg,#5e00ff 272.0deg,#4f00ff 294.5deg,#2000ff 316.5deg,#0049ff 322.0deg,#00cfff 338.0deg,#00f8fd 346.0deg,#00ffb8 350.5deg,#00ff44 355.5deg,#02ff00 360.0deg)"></i><i style="left:-16.00px;top:-16.00px;width:116.00px;height:116.00px;background:conic-gradient(#03ff00 0.0deg,#78ff00 8.5deg,#bcfc00 15.5deg,#f3ed00 24.0deg,#f9e600 35.5deg,#ff9e00 48.5deg,#ff5600 62.5deg,#ff1300 78.0deg,#ff0000 84.6deg,#8000ff 84.6deg,#5e00ff 91.5deg,#4f00ff 114.5deg,#2100ff 137.0deg,#004cff 143.0deg,#00cfff 159.0deg,#00f9f8 167.5deg,#00ffae 172.0deg,#00ff47 176.5deg,#00ff00 181.0deg,#75ff00 189.5deg,#befc00 197.0deg,#f3ed00 205.0deg,#f8e700 216.5deg,#ff9f00 229.5deg,#ff5800 243.0deg,#ff1400 258.5deg,#ff0000 265.1deg,#8000ff 265.1deg,#5e00ff 271.5deg,#4f00ff 294.5deg,#2000ff 316.5deg,#0049ff 322.0deg,#00cfff 338.0deg,#00f8fc 346.0deg,#00ffb7 350.5deg,#00ff44 355.5deg,#03ff00 360.0deg)"></i><i style="left:-15.00px;top:-15.00px;width:114.00px;height:114.00px;background:conic-gradient(#04ff00 0.0deg,#78ff00 8.5deg,#bcfc00 15.5deg,#f2ee00 23.5deg,#f9e600 35.5deg,#ff9e00 48.5deg,#ff5800 62.0deg,#ff1500 77.5deg,#ff0000 84.6deg,#8000ff 84.6deg,#5e00ff 91.5deg,#4f00ff 114.5deg,#2100ff 137.0deg,#004cff 143.0deg,#00cfff 159.0deg,#00f8fd 167.0deg,#00ffba 171.5deg,#00ff46 176.5deg,#00ff00 181.0deg,#75ff00 189.5deg,#befc00 197.0deg,#f3ed00 205.0deg,#f9e700 216.5deg,#ffa200 229.0deg,#ff5f00 241.5deg,#ff1400 258.5deg,#ff0000 265.1deg,#8000ff 265.1deg,#5e00ff 271.5deg,#4f00ff 294.5deg,#2000ff 316.5deg,#0049ff 322.0deg,#00cfff 338.0deg,#00f8fc 346.0deg,#00ffb6 350.5deg,#00ff43 355.5deg,#04ff00 360.0deg)"></i><i style="left:-14.00px;top:-14.00px;width:112.00px;height:112.00px;background:conic-gradient(#04ff00 0.0deg,#79ff00 8.5deg,#bdfc00 15.5deg,#f2ee00 23.5deg,#fae600 35.5deg,#ff9e00 48.5deg,#ff5800 62.0deg,#ff1500 77.5deg,#ff0000 84.5deg,#8000ff 84.5deg,#5e00ff 91.5deg,#4f00ff 114.5deg,#2100ff 137.0deg,#004cff 143.0deg,#00cfff 159.0deg,#00f8fd 167.0deg,#00ffba 171.5deg,#00ff46 176.5deg,#00ff00 181.0deg,#76ff00 189.5deg,#befc00 197.0deg,#f3ed00 205.0deg,#f9e700 216.5deg,#ffa200 229.0deg,#ff5f00 241.5deg,#ff1300 258.5deg,#ff0000 265.0deg,#8000ff 265.0deg,#5e00ff 271.5deg,#5000ff 294.0deg,#2001ff 316.5deg,#0049ff 322.0deg,#00cfff 338.0deg,#00f8fc 346.0deg,#00ffb5 350.5deg,#00ff43 355.5deg,#04ff00 360.0deg)"></i><i style="left:-13.00px;top:-13.00px;width:110.00px;height:110.00px;background:conic-gradient(#05ff00 0.0deg,#79ff00 8.5deg,#bdfc00 15.5deg,#f2ed00 23.5deg,#fae600 35.5deg,#ff9d00 48.5deg,#ff5800 62.0deg,#ff1400 77.5deg,#ff0000 84.5deg,#8000ff 84.5deg,#5e00ff 91.5deg,#4f00ff 114.5deg,#2100ff 137.0deg,#004cff 143.0deg,#00cfff 159.0deg,#00f8fd 167.0deg,#00ffb9 171.5deg,#00ff46 176.5deg,#01ff00 181.0deg,#76ff00 189.5deg,#befc00 197.0deg,#f3ed00 205.0deg,#f9e700 216.5deg,#ffa200 229.0deg,#ff5e00 241.5deg,#ff1300 258.5deg,#ff0000 265.0deg,#8000ff 265.0deg,#5e00ff 271.5deg,#5000ff 294.0deg,#2001ff 316.5deg,#0049ff 322.0deg,#00cfff 338.0deg,#00f8fb 346.0deg,#00ffb5 350.5deg,#00ff42 355.5deg,#05ff00 360.0deg)"></i><i style="left:-12.00px;top:-12.00px;width:108.00px;height:108.00px;background:conic-gradient(#05ff00 0.0deg,#74ff00 8.0deg,#bafd00 15.0deg,#f3ed00 23.5deg,#fae500 35.5deg,#ff9d00 48.5deg,#ff5300 63.0deg,#ff1400 77.5deg,#ff0000 84.5deg,#8000ff 84.5deg,#5e00ff 91.5deg,#4f00ff 114.5deg,#2100ff 137.0deg,#004cff 143.0deg,#00cfff 159.0deg,#00f8fd 167.0deg,#00ffb9 171.5deg,#00ff46 176.5deg,#01ff00 181.0deg,#76ff00 189.5deg,#bffc00 197.0deg,#f3ed00 205.0deg,#f9e600 216.5deg,#ffa100 229.0deg,#ff6100 241.0deg,#ff1500 258.0deg,#ff0000 265.0deg,#8000ff 265.0deg,#5e00ff 271.5deg,#5000ff 294.0deg,#1f01ff 316.5deg,#004aff 322.0deg,#00d0ff 338.0deg,#00f8fb 346.0deg,#00ffb4 350.5deg,#00ff49 355.0deg,#05ff00 360.0deg)"></i><i style="left:-11.00px;top:-11.00px;width:106.00px;height:106.00px;background:conic-gradient(#06ff00 0.0deg,#75ff00 8.0deg,#befc00 15.5deg,#f3ed00 23.5deg,#fae500 35.5deg,#ff9d00 48.5deg,#ff4e00 64.0deg,#ff1400 77.5deg,#ff0000 84.5deg,#8000ff 84.5deg,#5e00ff 91.0deg,#4f00ff 114.5deg,#2000ff 137.0deg,#0047ff 142.5deg,#00cfff 159.0deg,#00f8fd 167.0deg,#00ffb9 171.5deg,#00ff46 176.5deg,#01ff00 181.0deg,#76ff00 189.5deg,#bffc00 197.0deg,#f3ed00 205.0deg,#f9e600 216.5deg,#ffa100 229.0deg,#ff5e00 241.5deg,#ff1500 258.0deg,#ff0000 265.0deg,#8000ff 265.0deg,#5e00ff 271.5deg,#5000ff 294.0deg,#1f01ff 316.5deg,#004aff 322.0deg,#00d0ff 338.0deg,#00f8fb 346.0deg,#00ffb3 350.5deg,#00ff49 355.0deg,#06ff00 360.0deg)"></i><i style="left:-10.00px;top:-10.00px;width:104.00px;height:104.00px;background:conic-gradient(#07ff00 0.0deg,#75ff00 8.0deg,#befc00 15.5deg,#f3ed00 23.5deg,#f8e700 35.0deg,#ffa000 48.0deg,#ff5700 62.0deg,#ff1400 77.5deg,#ff0000 84.4deg,#8000ff 84.4deg,#5e00ff 91.0deg,#4f00ff 114.5deg,#2000ff 137.0deg,#0047ff 142.5deg,#00cfff 159.0deg,#00f8fc 167.0deg,#00ffb8 171.5deg,#00ff45 176.5deg,#01ff00 181.0deg,#76ff00 189.5deg,#bffc00 197.0deg,#f3ed00 205.0deg,#f9e600 216.5deg,#ffa100 229.0deg,#ff5e00 241.5deg,#ff1500 258.0deg,#ff0000 265.0deg,#8000ff 265.0deg,#5e00ff 271.5deg,#5000ff 294.0deg,#1f02ff 316.5deg,#004aff 322.0deg,#00d0ff 338.0deg,#00f9fa 346.0deg,#00ffb2 350.5deg,#00ff48 355.0deg,#00ff01 359.5deg,#07ff00 360.0deg)"></i><i style="left:-9.00px;top:-9.00px;width:102.00px;height:102.00px;background:conic-gradient(#07ff00 0.0deg,#76ff00 8.0deg,#bffc00 15.5deg,#f3ed00 23.5deg,#f9e700 35.0deg,#ff9f00 48.0deg,#ff5700 62.0deg,#ff1400 77.5deg,#ff0000 84.4deg,#8000ff 84.4deg,#5e00ff 91.0deg,#4f00ff 114.5deg,#2000ff 137.0deg,#0047ff 142.5deg,#00cfff 159.0deg,#00f8fc 167.0deg,#00ffb8 171.5deg,#00ff45 176.5deg,#02ff00 181.0deg,#77ff00 189.5deg,#bbfc00 196.5deg,#f3ed00 205.0deg,#f9e600 216.5deg,#ffa100 229.0deg,#ff5c00 242.0deg,#ff1500 258.0deg,#ff0000 264.9deg,#8000ff 264.9deg,#5e00ff 271.5deg,#5000ff 294.0deg,#1f02ff 316.5deg,#004aff 322.0deg,#00d0ff 338.0deg,#00f9fa 346.0deg,#00ffb1 350.5deg,#00ff48 355.0deg,#00ff00 359.5deg,#07ff00 360.0deg)"></i><i style="left:-8.00px;top:-8.00px;width:100.00px;height:100.00px;background:conic-gradient(#08ff00 0.0deg,#76ff00 8.0deg,#bbfc00 15.0deg,#f3ed00 23.5deg,#f9e600 35.0deg,#ff9f00 48.0deg,#ff5700 62.0deg,#ff1400 77.5deg,#ff0000 84.3deg,#8000ff 84.3deg,#5e00ff 91.0deg,#4f00ff 114.5deg,#2000ff 137.0deg,#0047ff 142.5deg,#00cfff 159.0deg,#00f8fc 167.0deg,#00ffb8 171.5deg,#00ff45 176.5deg,#02ff00 181.0deg,#77ff00 189.5deg,#bcfc00 196.5deg,#f3ed00 205.0deg,#f9e600 216.5deg,#ffa100 229.0deg,#ff5900 242.5deg,#ff1500 258.0deg,#ff0000 264.9deg,#8000ff 264.9deg,#5e00ff 271.5deg,#4f00ff 294.0deg,#1f02ff 316.5deg,#004aff 322.0deg,#00d0ff 338.0deg,#00f9fa 346.0deg,#00ffb0 350.5deg,#00ff47 355.0deg,#00ff00 359.5deg,#08ff00 360.0deg)"></i><i style="left:-7.00px;top:-7.00px;width:98.00px;height:98.00px;background:conic-gradient(#08ff00 0.0deg,#77ff00 8.0deg,#bcfc00 15.0deg,#f3ed00 23.5deg,#f9e600 35.0deg,#ff9f00 48.0deg,#ff5700 62.0deg,#ff1400 77.5deg,#ff0000 84.3deg,#8000ff 84.3deg,#5e00ff 91.0deg,#4f00ff 114.5deg,#2000ff 137.0deg,#0047ff 142.5deg,#00cfff 159.0deg,#00f8fc 167.0deg,#00ffb8 171.5deg,#00ff45 176.5deg,#02ff00 181.0deg,#77ff00 189.5deg,#bcfc00 196.5deg,#f3ed00 205.0deg,#fae600 216.5deg,#ffa000 229.0deg,#ff5900 242.5deg,#ff1400 258.0deg,#ff0000 264.9deg,#8000ff 264.9deg,#5e00ff 271.5deg,#4f00ff 294.0deg,#1f02ff 316.5deg,#004bff 322.0deg,#00d1ff 338.0deg,#00f9f9 346.0deg,#00ffb0 350.5deg,#00ff46 355.0deg,#01ff00 359.5deg,#08ff00 360.0deg)"></i><i style="left:-6.00px;top:-6.00px;width:96.00px;height:96.00px;background:conic-gradient(#09ff00 0.0deg,#77ff00 8.0deg,#bcfc00 15.0deg,#f2ee00 23.0deg,#f9e600 35.0deg,#ff9e00 48.0deg,#ff5900 61.5deg,#ff1400 77.5deg,#ff0000 84.2deg,#8000ff 84.2deg,#5e00ff 91.0deg,#4f00ff 114.5deg,#2000ff 137.0deg,#0047ff 142.5deg,#00cfff 159.0deg,#00f8fc 167.0deg,#00ffb8 171.5deg,#00ff45 176.5deg,#02ff00 181.0deg,#77ff00 189.5deg,#bcfc00 196.5deg,#f3ed00 205.0deg,#fae600 216.5deg,#ff9d00 229.5deg,#ff4d00 245.0deg,#ff1400 258.0deg,#ff0000 264.8deg,#8000ff 264.8deg,#5e00ff 271.5deg,#4f00ff 294.0deg,#1f02ff 316.5deg,#004bff 322.0deg,#00d1ff 338.0deg,#00f9f9 346.0deg,#00ffaf 350.5deg,#00ff46 355.0deg,#02ff00 359.5deg,#09ff00 360.0deg)"></i><i style="left:-5.00px;top:-5.00px;width:94.00px;height:94.00px;background:conic-gradient(#0aff00 0.0deg,#78ff00 8.0deg,#bcfc00 15.0deg,#f2ee00 23.0deg,#fae600 35.0deg,#ff9e00 48.0deg,#ff5800 61.5deg,#ff1400 77.5deg,#ff0000 84.2deg,#8000ff 84.2deg,#5e00ff 91.0deg,#4f00ff 114.5deg,#2000ff 137.0deg,#0047ff 142.5deg,#00cfff 159.0deg,#00f8fc 167.0deg,#00ffb7 171.5deg,#00ff44 176.5deg,#02ff00 181.0deg,#77ff00 189.5deg,#bcfc00 196.5deg,#f2ee00 204.5deg,#fae600 216.5deg,#ff9d00 229.5deg,#ff4b00 245.5deg,#ff1400 258.0deg,#ff0000 264.8deg,#8000ff 264.8deg,#5e00ff 271.5deg,#4f00ff 294.0deg,#1f03ff 316.5deg,#004bff 322.0deg,#00d1ff 338.0deg,#00f9f9 346.0deg,#00ffae 350.5deg,#00ff45 355.0deg,#02ff00 359.5deg,#0aff00 360.0deg)"></i><i style="left:-4.00px;top:-4.00px;width:92.00px;height:92.00px;background:conic-gradient(#0aff00 0.0deg,#79ff00 8.0deg,#bdfc00 15.0deg,#f2ed00 23.0deg,#fae500 35.0deg,#ff9d00 48.0deg,#ff5800 61.5deg,#ff1500 77.0deg,#ff0000 84.1deg,#8000ff 84.1deg,#5e00ff 91.0deg,#4f00ff 114.5deg,#2000ff 137.0deg,#0047ff 142.5deg,#00cfff 159.0deg,#00f8fc 167.0deg,#00ffb7 171.5deg,#00ff44 176.5deg,#03ff00 181.0deg,#78ff00 189.5deg,#bcfc00 196.5deg,#f2ee00 204.5deg,#fae500 216.5deg,#ff9c00 229.5deg,#ff4900 246.0deg,#ff1400 258.0deg,#ff0000 264.8deg,#8000ff 264.8deg,#5e00ff 271.5deg,#4f00ff 294.0deg,#1f03ff 316.5deg,#004bff 322.0deg,#00d1ff 338.0deg,#00f9f8 346.0deg,#00ffad 350.5deg,#00ff45 355.0deg,#03ff00 359.5deg,#0aff00 360.0deg)"></i><i style="left:-3.00px;top:-3.00px;width:90.00px;height:90.00px;background:conic-gradient(#0bff00 0.0deg,#79ff00 8.0deg,#bdfc00 15.0deg,#f3ed00 23.0deg,#fae500 35.0deg,#ff9a00 48.5deg,#ff3f00 67.0deg,#ff1300 77.5deg,#ff0000 84.1deg,#8000ff 84.1deg,#5e00ff 91.0deg,#4f00ff 114.5deg,#2000ff 137.0deg,#0047ff 142.5deg,#00cfff 159.0deg,#00f8fc 167.0deg,#00ffb7 171.5deg,#00ff44 176.5deg,#03ff00 181.0deg,#78ff00 189.5deg,#bcfc00 196.5deg,#f2ee00 204.5deg,#fae500 216.5deg,#ff9c00 229.5deg,#ff4800 246.0deg,#ff1400 258.0deg,#ff0000 264.7deg,#8000ff 264.7deg,#5e00ff 271.5deg,#4f00ff 294.0deg,#1f03ff 316.5deg,#004bff 322.0deg,#00d1ff 338.0deg,#00f9f8 346.0deg,#00ffac 350.5deg,#00ff44 355.0deg,#04ff00 359.5deg,#0bff00 360.0deg)"></i><i style="left:-2.00px;top:-2.00px;width:88.00px;height:88.00px;background:conic-gradient(#0cff00 0.0deg,#7aff00 8.0deg,#befc00 15.0deg,#f3ed00 23.0deg,#f8e700 34.5deg,#ffa000 47.5deg,#ff5800 61.5deg,#ff1500 77.0deg,#ff0000 84.1deg,#8000ff 84.1deg,#5e00ff 91.0deg,#4f00ff 114.5deg,#2000ff 137.0deg,#004cff 143.0deg,#00cfff 159.0deg,#00f8fc 167.0deg,#00ffb7 171.5deg,#00ff44 176.5deg,#03ff00 181.0deg,#78ff00 189.5deg,#bdfc00 196.5deg,#f2ed00 204.5deg,#fae500 216.5deg,#ff9c00 229.5deg,#ff4800 246.0deg,#ff1400 258.0deg,#ff0000 264.7deg,#8000ff 264.7deg,#5e00ff 271.5deg,#4f00ff 294.0deg,#1f03ff 316.5deg,#004bff 322.0deg,#00d1ff 338.0deg,#00f8fd 345.5deg,#00ffb7 350.0deg,#00ff43 355.0deg,#04ff00 359.5deg,#0cff00 360.0deg)"></i><i style="left:-1.00px;top:-1.00px;width:86.00px;height:86.00px;background:conic-gradient(#0cff00 0.0deg,#75ff00 7.5deg,#befc00 15.0deg,#f3ed00 23.0deg,#f9e700 34.5deg,#ff9f00 47.5deg,#ff5700 61.5deg,#ff1400 77.0deg,#ff0000 84.1deg,#8000ff 84.1deg,#5e00ff 91.0deg,#4f00ff 114.5deg,#2100ff 137.0deg,#004cff 143.0deg,#00cfff 159.0deg,#00f8fc 167.0deg,#00ffb7 171.5deg,#00ff44 176.5deg,#03ff00 181.0deg,#78ff00 189.5deg,#bdfc00 196.5deg,#f2ed00 204.5deg,#f8e700 216.0deg,#ff9f00 229.0deg,#ff5800 242.5deg,#ff1400 258.0deg,#ff0000 264.7deg,#8000ff 264.7deg,#5e00ff 271.5deg,#4f00ff 294.0deg,#1e04ff 316.5deg,#004cff 322.0deg,#00d2ff 338.0deg,#00f8fd 345.5deg,#00ffb6 350.0deg,#00ff43 355.0deg,#05ff00 359.5deg,#0cff00 360.0deg)"></i><i style="left:0.00px;top:0.00px;width:84.00px;height:84.00px;background:conic-gradient(#0fff00 0.0deg,#76ff00 7.5deg,#befc00 15.0deg,#f3ed00 23.0deg,#fae600 34.5deg,#ff9f00 47.5deg,#ff5500 62.0deg,#ff1400 77.0deg,#ff0000 84.0deg,#8000ff 84.0deg,#5e00ff 91.0deg,#4f00ff 114.5deg,#2100ff 137.0deg,#004cff 143.0deg,#00d3ff 159.5deg,#00f9fa 167.0deg,#00ffb4 171.5deg,#00ff43 176.5deg,#04ff00 181.0deg,#79ff00 189.5deg,#bdfc00 196.5deg,#f2ed00 204.5deg,#fce400 216.5deg,#ff9500 230.5deg,#ff1700 257.0deg,#ff0000 264.6deg,#8000ff 264.6deg,#5f00ff 271.5deg,#4a00ff 294.5deg,#1f01ff 315.0deg,#004cff 321.0deg,#00d2ff 337.0deg,#00f9f8 345.0deg,#00ffb7 349.5deg,#00ff46 354.5deg,#00ff00 359.0deg,#0fff00 360.0deg)"></i><i style="left:1.00px;top:1.00px;width:82.00px;height:82.00px;background:conic-gradient(#15ff00 0.0deg,#78ff00 7.5deg,#bffb00 15.0deg,#f2ee00 22.5deg,#fce300 34.5deg,#ff9500 49.0deg,#ff1700 76.0deg,#ff0000 84.0deg,#8000ff 84.0deg,#5f00ff 91.0deg,#4b00ff 114.5deg,#2000ff 136.0deg,#004bff 142.0deg,#00d5ff 158.5deg,#00f9f9 166.0deg,#00ffbd 170.5deg,#00ff44 176.0deg,#00ff00 180.5deg,#75ff00 189.0deg,#c1fb00 197.0deg,#f3ed00 204.5deg,#fee100 216.5deg,#ff5700 243.0deg,#ff1500 257.5deg,#ff0000 264.5deg,#8000ff 264.5deg,#6000ff 271.5deg,#4400ff 295.0deg,#1e05ff 312.0deg,#1417ff 315.5deg,#004dff 320.0deg,#00cdff 335.0deg,#00f8fb 343.5deg,#00ffbd 348.5deg,#00ff45 354.0deg,#06ff00 359.0deg,#15ff00 360.0deg)"></i><i style="left:2.00px;top:2.00px;width:80.00px;height:80.00px;background:conic-gradient(#1aff00 0.0deg,#7bff00 7.5deg,#c4fa00 15.5deg,#f3ed00 22.5deg,#fee100 34.5deg,#ff4a00 64.5deg,#ff1400 77.0deg,#ff0000 83.7deg,#8000ff 83.7deg,#6000ff 91.0deg,#4600ff 115.0deg,#1d06ff 133.5deg,#111eff 137.0deg,#004cff 141.0deg,#00cfff 156.5deg,#00f8fd 164.5deg,#00ffc2 169.5deg,#00ff44 175.5deg,#06ff00 180.5deg,#77ff00 189.0deg,#c5fa00 197.5deg,#f3ed00 204.5deg,#ffdf00 216.5deg,#ff1c00 255.0deg,#ff0000 264.3deg,#8000ff 264.3deg,#6100ff 271.5deg,#3e00ff 295.5deg,#1d06ff 309.0deg,#0c28ff 315.5deg,#0053ff 319.5deg,#00cfff 334.0deg,#00f9f9 342.5deg,#00ffc1 347.5deg,#00ff45 353.5deg,#03ff00 358.5deg,#1aff00 360.0deg)"></i><i style="left:3.00px;top:3.00px;width:78.00px;height:78.00px;background:conic-gradient(#1fff00 0.0deg,#7dff00 7.5deg,#d0f700 17.0deg,#f3ed00 22.5deg,#ffde00 34.5deg,#ff1b00 74.5deg,#ff0000 83.6deg,#8000ff 83.6deg,#6100ff 91.0deg,#4000ff 115.5deg,#1e05ff 130.0deg,#0c28ff 136.5deg,#004eff 140.0deg,#00ceff 155.0deg,#00f8fb 163.5deg,#00ffbe 169.0deg,#00ff44 175.0deg,#02ff00 180.0deg,#74ff00 188.5deg,#c6fa00 197.5deg,#f3ed00 204.5deg,#ffdc00 216.5deg,#ff1700 256.5deg,#ff0000 264.2deg,#8000ff 264.2deg,#6100ff 272.0deg,#3800ff 296.0deg,#1d07ff 306.5deg,#0439ff 315.5deg,#00baff 330.0deg,#00f0ff 339.0deg,#00f9f7 341.5deg,#00ffbb 347.0deg,#00ff44 353.0deg,#00ff00 358.0deg,#1fff00 360.0deg)"></i><i style="left:4.00px;top:4.00px;width:76.00px;height:76.00px;background:conic-gradient(#24ff00 0.0deg,#7aff00 7.0deg,#d1f700 17.0deg,#f3ed00 22.5deg,#ffdb00 34.5deg,#ff1700 75.5deg,#ff0000 83.5deg,#8000ff 83.5deg,#6100ff 91.5deg,#3a00ff 116.0deg,#1d06ff 127.5deg,#0438ff 136.5deg,#00bcff 151.5deg,#00f6ff 161.5deg,#00ffc1 168.0deg,#00ff43 174.5deg,#00ff01 179.5deg,#75ff00 188.5deg,#cef800 198.5deg,#f2ed00 204.0deg,#ffda00 216.5deg,#ff1700 256.5deg,#ff0000 264.1deg,#8000ff 264.1deg,#6100ff 272.5deg,#3100ff 297.0deg,#1d06ff 304.0deg,#0054ff 317.0deg,#00caff 331.0deg,#00f9f9 340.0deg,#00ffbd 346.0deg,#00ff43 352.5deg,#00ff02 357.5deg,#24ff00 360.0deg)"></i><i style="left:5.00px;top:5.00px;width:74.00px;height:74.00px;background:conic-gradient(#29ff00 0.0deg,#7cff00 7.0deg,#e9f200 20.0deg,#fce300 31.0deg,#ffa800 45.0deg,#ff1700 75.5deg,#ff0000 83.2deg,#8000ff 83.2deg,#6200ff 91.5deg,#3300ff 117.0deg,#1d06ff 125.0deg,#004fff 137.5deg,#00ccff 152.5deg,#00f8fb 161.0deg,#00ffbb 167.5deg,#00ff42 174.0deg,#04ff00 179.5deg,#72ff00 188.0deg,#d6f600 199.5deg,#f3ed00 204.5deg,#ffd500 217.0deg,#ff1700 256.5deg,#ff0000 263.9deg,#8000ff 263.9deg,#6100ff 273.0deg,#2700ff 298.5deg,#1c09ff 302.5deg,#004bff 314.5deg,#00d3ff 331.0deg,#00f8fb 338.5deg,#00ffb5 345.5deg,#00ff47 351.5deg,#04ff00 357.5deg,#29ff00 360.0deg)"></i><i style="left:6.00px;top:6.00px;width:72.00px;height:72.00px;background:conic-gradient(#2eff00 0.0deg,#7eff00 7.0deg,#eef000 20.5deg,#ffd400 35.0deg,#ff1700 75.5deg,#ff0000 83.1deg,#8000ff 83.1deg,#6100ff 92.5deg,#2a00ff 118.5deg,#1b09ff 123.5deg,#004aff 135.5deg,#00d1ff 152.0deg,#00f9f9 160.0deg,#00ffb3 167.0deg,#00ff47 173.0deg,#01ff00 179.0deg,#6fff00 187.5deg,#dff400 200.5deg,#f4ec00 205.0deg,#ffd100 217.5deg,#ff2e00 251.0deg,#ff0000 263.7deg,#8000ff 263.7deg,#5e00ff 274.5deg,#1e05ff 300.0deg,#0049ff 311.5deg,#0078ff 318.5deg,#00d8ff 330.5deg,#00f9f8 337.5deg,#00ffb2 344.5deg,#00ff44 351.0deg,#02ff00 357.0deg,#2eff00 360.0deg)"></i><i style="left:7.00px;top:7.00px;width:70.00px;height:70.00px;background:conic-gradient(#32ff00 0.0deg,#84ff00 7.5deg,#f2ee00 21.5deg,#ffce00 36.0deg,#ff3200 69.0deg,#ff0100 82.5deg,#ff0000 82.9deg,#8000ff 82.9deg,#5f00ff 93.5deg,#1f03ff 120.5deg,#004aff 133.0deg,#007fff 140.5deg,#00dcff 152.5deg,#00f8fc 158.5deg,#00ffb0 166.0deg,#00ff45 172.5deg,#06ff00 179.0deg,#71ff00 187.5deg,#dff400 200.5deg,#f4eb00 205.0deg,#ffcc00 218.5deg,#ff3f00 248.0deg,#ff1400 257.5deg,#ff0000 263.7deg,#8000ff 263.7deg,#5500ff 278.5deg,#1e05ff 298.5deg,#004aff 309.5deg,#007bff 317.5deg,#00dcff 330.0deg,#00f8fb 336.0deg,#00ffb0 343.5deg,#00ff42 350.5deg,#00ff00 356.5deg,#32ff00 360.0deg)"></i><i style="left:8.00px;top:8.00px;width:68.00px;height:68.00px;background:conic-gradient(#35ff00 0.0deg,#81ff00 7.0deg,#eff000 20.5deg,#ffd100 34.5deg,#ff5400 62.5deg,#ff1600 75.5deg,#ff0000 82.8deg,#8000ff 82.8deg,#5800ff 97.0deg,#1d06ff 119.5deg,#004bff 131.0deg,#0079ff 138.5deg,#00ddff 151.5deg,#00f9fa 157.5deg,#00ffaf 165.0deg,#00ff44 172.0deg,#03ff00 178.5deg,#72ff00 187.5deg,#dff400 200.5deg,#f5eb00 205.0deg,#ffc800 219.0deg,#ff5200 244.5deg,#ff1700 256.5deg,#ff0000 263.7deg,#8000ff 263.7deg,#1e04ff 297.0deg,#0049ff 307.5deg,#0083ff 317.0deg,#00e2ff 330.0deg,#00f9f9 335.0deg,#00ffae 342.5deg,#00ff40 350.0deg,#05ff00 356.5deg,#35ff00 360.0deg)"></i><i style="left:9.00px;top:9.00px;width:66.00px;height:66.00px;background:conic-gradient(#38ff00 0.0deg,#8bff00 8.0deg,#f2ed00 21.5deg,#ffcf00 34.5deg,#ff5f00 60.5deg,#ff1800 75.0deg,#ff0000 82.8deg,#8000ff 82.8deg,#1f03ff 117.5deg,#004bff 129.0deg,#0081ff 138.0deg,#00e2ff 151.5deg,#00f9f9 156.5deg,#00ffad 164.0deg,#00ff42 171.5deg,#00ff00 178.0deg,#72ff00 187.5deg,#dff400 200.5deg,#f5eb00 205.0deg,#ffca00 218.0deg,#ff6000 242.0deg,#ff1700 256.5deg,#ff0000 263.7deg,#8000ff 263.7deg,#1d06ff 296.0deg,#004aff 306.0deg,#0097ff 318.0deg,#00e8ff 330.0deg,#00f9f8 334.0deg,#00ffb2 341.0deg,#00ff43 349.0deg,#03ff00 356.0deg,#38ff00 360.0deg)"></i><i style="left:10.00px;top:10.00px;width:64.00px;height:64.00px;background:conic-gradient(#3bff00 0.0deg,#8bff00 8.0deg,#f3ed00 21.5deg,#ffd200 33.0deg,#ff6700 59.0deg,#ff1800 75.0deg,#ff0000 82.7deg,#8000ff 82.7deg,#1d05ff 116.5deg,#004aff 127.0deg,#0095ff 139.0deg,#00e8ff 151.5deg,#00f9f7 155.5deg,#00ffac 163.0deg,#00ff3f 171.0deg,#04ff00 178.0deg,#73ff00 187.5deg,#def400 200.5deg,#f5eb00 205.0deg,#ffcb00 217.0deg,#ff6700 241.0deg,#ff1800 256.0deg,#ff0000 263.7deg,#8000ff 263.7deg,#1e04ff 294.5deg,#004bff 304.5deg,#00d4ff 325.0deg,#00f8fb 332.5deg,#00ffaf 340.0deg,#00ff44 348.0deg,#02ff00 355.5deg,#3bff00 360.0deg)"></i><i style="left:11.00px;top:11.00px;width:62.00px;height:62.00px;background:conic-gradient(#3eff00 0.0deg,#90ff00 8.5deg,#f3ed00 21.5deg,#ffd200 32.0deg,#ff6b00 58.5deg,#ff1800 75.0deg,#ff0000 82.7deg,#8000ff 82.7deg,#1e04ff 115.0deg,#004bff 125.5deg,#00b6ff 142.0deg,#00f8ff 153.5deg,#00ffb1 161.5deg,#00ff45 169.5deg,#03ff00 177.5deg,#74ff00 187.5deg,#def400 200.5deg,#f5ea00 205.0deg,#ffcc00 216.0deg,#ff6d00 240.0deg,#ff1800 256.0deg,#ff0000 263.7deg,#8000ff 263.7deg,#1e04ff 293.5deg,#0049ff 303.0deg,#00eaff 328.0deg,#00f9f9 331.5deg,#00ffad 339.0deg,#00ff44 347.0deg,#02ff00 355.0deg,#3eff00 360.0deg)"></i><i style="left:12.00px;top:12.00px;width:60.00px;height:60.00px;background:conic-gradient(#40ff00 0.0deg,#95ff00 9.0deg,#f2ee00 21.0deg,#ffd300 31.0deg,#ff6e00 58.0deg,#ff1700 75.0deg,#ff0000 82.7deg,#8000ff 82.7deg,#1e05ff 114.0deg,#004bff 124.0deg,#00eaff 149.5deg,#00f9fa 153.0deg,#00ffb0 160.5deg,#00ff47 168.5deg,#07ff00 177.5deg,#74ff00 187.5deg,#dff400 200.5deg,#f6ea00 205.0deg,#ffcc00 216.0deg,#ff6d00 240.0deg,#ff1800 256.0deg,#ff0000 263.7deg,#8000ff 263.7deg,#1e03ff 293.5deg,#0049ff 303.0deg,#00eaff 328.0deg,#00f9f8 331.5deg,#00ffb2 338.5deg,#00ff46 346.5deg,#04ff00 355.0deg,#40ff00 360.0deg)"></i><i style="left:13.00px;top:13.00px;width:58.00px;height:58.00px;background:conic-gradient(#41ff00 0.0deg,#9aff00 9.5deg,#f2ee00 21.0deg,#ffd300 31.0deg,#ff6d00 58.0deg,#ff1900 74.5deg,#ff0000 82.6deg,#8000ff 82.6deg,#1d05ff 114.0deg,#004bff 124.0deg,#00ecff 150.0deg,#00f8fb 153.0deg,#00ffb1 160.5deg,#00ff48 168.5deg,#06ff00 177.5deg,#74ff00 187.5deg,#dff400 200.5deg,#f6ea00 205.0deg,#ffcb00 216.0deg,#ff6c00 240.0deg,#ff1800 256.0deg,#ff0000 263.6deg,#8000ff 263.6deg,#1e03ff 293.5deg,#0049ff 303.0deg,#00edff 328.5deg,#00f9f8 331.5deg,#00ffb2 338.5deg,#00ff46 346.5deg,#05ff00 355.0deg,#41ff00 360.0deg)"></i><i style="left:14.00px;top:14.00px;width:56.00px;height:56.00px;background:conic-gradient(#41ff00 0.0deg,#9fff00 10.0deg,#f2ed00 21.0deg,#ffd200 31.0deg,#ff6c00 58.0deg,#ff1800 74.5deg,#ff0000 82.5deg,#8000ff 82.5deg,#1d05ff 114.0deg,#004bff 124.0deg,#00ecff 150.0deg,#00f9f7 153.5deg,#00ffab 161.0deg,#00ff44 169.0deg,#06ff00 177.5deg,#74ff00 187.5deg,#dff400 200.5deg,#f6ea00 205.0deg,#ffca00 216.5deg,#ff6c00 240.0deg,#ff1800 256.0deg,#ff0000 263.7deg,#8000ff 263.7deg,#1d06ff 294.0deg,#004bff 303.5deg,#00ecff 328.5deg,#00f9f9 331.5deg,#00ffac 339.0deg,#00ff46 346.5deg,#05ff00 355.0deg,#41ff00 360.0deg)"></i><i style="left:15.00px;top:15.00px;width:54.00px;height:54.00px;background:conic-gradient(#41ff00 0.0deg,#9bff00 9.5deg,#f3ed00 21.0deg,#ffd200 31.0deg,#ff6c00 58.0deg,#ff1800 74.5deg,#ff0000 82.5deg,#8000ff 82.5deg,#1e04ff 114.0deg,#004aff 124.0deg,#00ebff 150.0deg,#00f9f8 153.5deg,#00ffae 161.0deg,#00ff45 169.0deg,#05ff00 177.5deg,#73ff00 187.5deg,#dff400 200.5deg,#f6ea00 205.0deg,#ffcb00 216.0deg,#ff6c00 240.0deg,#ff1800 256.0deg,#ff0000 263.8deg,#8000ff 263.8deg,#1e05ff 294.0deg,#004aff 303.5deg,#00ecff 328.5deg,#00f8fb 331.5deg,#00ffad 339.0deg,#00ff47 346.5deg,#05ff00 355.0deg,#41ff00 360.0deg)"></i><i style="left:16.00px;top:16.00px;width:52.00px;height:52.00px;background:conic-gradient(#42ff00 0.0deg,#9cff00 9.5deg,#f3ed00 21.0deg,#ffd300 30.5deg,#ff6e00 57.5deg,#ff1800 74.5deg,#ff0000 82.6deg,#8000ff 82.6deg,#1e03ff 114.0deg,#004cff 124.5deg,#00ecff 150.5deg,#00f9fa 153.5deg,#00ffb0 161.0deg,#00ff46 169.0deg,#03ff00 177.5deg,#73ff00 187.5deg,#dff400 200.5deg,#f6ea00 205.0deg,#ffcb00 216.0deg,#ff6c00 240.0deg,#ff1900 256.0deg,#ff0000 263.8deg,#8000ff 263.8deg,#1e04ff 294.0deg,#0049ff 303.5deg,#00ebff 328.5deg,#00f9f7 332.0deg,#00ffae 339.0deg,#00ff47 346.5deg,#05ff00 355.0deg,#42ff00 360.0deg)"></i><i style="left:17.00px;top:17.00px;width:50.00px;height:50.00px;background:conic-gradient(#42ff00 0.0deg,#98ff00 9.0deg,#f2ee00 20.5deg,#ffd300 30.5deg,#ff6e00 57.5deg,#ff1800 74.5deg,#ff0000 82.6deg,#8000ff 82.6deg,#1d05ff 114.5deg,#004aff 124.5deg,#00ebff 150.5deg,#00f9f7 154.0deg,#00ffab 161.5deg,#00ff48 169.0deg,#02ff00 177.5deg,#72ff00 187.5deg,#dff400 200.5deg,#f6ea00 205.0deg,#ffcb00 216.0deg,#ff6c00 240.0deg,#ff1900 256.0deg,#ff0000 263.9deg,#8000ff 263.9deg,#1d06ff 294.5deg,#004bff 304.0deg,#00edff 329.0deg,#00f9f8 332.0deg,#00ffb0 339.0deg,#00ff48 346.5deg,#04ff00 355.0deg,#42ff00 360.0deg)"></i><i style="left:18.00px;top:18.00px;width:48.00px;height:48.00px;background:conic-gradient(#42ff00 0.0deg,#99ff00 9.0deg,#f2ee00 20.5deg,#ffd200 30.5deg,#ff6d00 57.5deg,#ff1800 74.5deg,#ff0000 82.6deg,#8000ff 82.6deg,#1e04ff 114.5deg,#004cff 125.0deg,#00edff 151.0deg,#00f9f9 154.0deg,#00ffae 161.5deg,#00ff45 169.5deg,#07ff00 178.0deg,#72ff00 187.5deg,#dff400 200.5deg,#f6ea00 205.0deg,#ffca00 216.5deg,#ff6c00 240.0deg,#ff1900 256.0deg,#ff0000 263.9deg,#8000ff 263.9deg,#1e05ff 294.5deg,#004aff 304.0deg,#00ecff 329.0deg,#00f9fa 332.0deg,#00ffb1 339.0deg,#00ff44 347.0deg,#04ff00 355.0deg,#42ff00 360.0deg)"></i><i style="left:19.00px;top:19.00px;width:46.00px;height:46.00px;background:conic-gradient(#43ff00 0.0deg,#9eff00 9.5deg,#f3ed00 20.5deg,#ffd300 30.0deg,#ff6d00 57.5deg,#ff1800 74.5deg,#ff0000 82.6deg,#8000ff 82.6deg,#1d06ff 115.0deg,#004bff 125.0deg,#00ebff 151.0deg,#00f9f7 154.5deg,#00ffb1 161.5deg,#00ff46 169.5deg,#05ff00 178.0deg,#71ff00 187.5deg,#dbf500 200.0deg,#f5eb00 204.5deg,#ffce00 215.0deg,#ff6c00 240.0deg,#ff1700 256.5deg,#ff0000 264.0deg,#8000ff 264.0deg,#1e03ff 294.5deg,#004bff 304.5deg,#00eeff 329.5deg,#00f9f6 332.5deg,#00ffab 339.5deg,#00ff44 347.0deg,#04ff00 355.0deg,#43ff00 360.0deg)"></i><i style="left:20.00px;top:20.00px;width:44.00px;height:44.00px;background:conic-gradient(#43ff00 0.0deg,#9fff00 9.5deg,#f2ee00 20.0deg,#ffd300 30.0deg,#ff6c00 57.5deg,#ff1800 74.5deg,#ff0000 82.6deg,#8000ff 82.6deg,#1e05ff 115.0deg,#004cff 125.5deg,#00ecff 151.5deg,#00f9fa 154.5deg,#00ffae 162.0deg,#00ff43 170.0deg,#03ff00 178.0deg,#75ff00 188.0deg,#dff400 200.5deg,#f6ea00 205.0deg,#ffc900 216.5deg,#ff6c00 240.0deg,#ff1700 256.5deg,#ff0000 264.1deg,#8000ff 264.1deg,#1d05ff 295.0deg,#004aff 304.5deg,#00edff 329.5deg,#00f9f8 332.5deg,#00ffad 339.5deg,#00ff45 347.0deg,#05ff00 355.0deg,#43ff00 360.0deg)"></i><i style="left:21.00px;top:21.00px;width:42.00px;height:42.00px;background:conic-gradient(#44ff00 0.0deg,#a4ff00 10.0deg,#f2ed00 20.0deg,#ffd300 29.5deg,#ff6d00 57.0deg,#ff1800 74.5deg,#ff0000 82.6deg,#8000ff 82.6deg,#1f03ff 115.0deg,#004aff 125.5deg,#00edff 152.0deg,#00f9f8 155.0deg,#00ffb1 162.0deg,#00ff45 170.0deg,#02ff00 178.0deg,#74ff00 188.0deg,#dff400 200.5deg,#f5eb00 204.5deg,#ffcf00 214.5deg,#ff6b00 240.0deg,#ff1700 256.5deg,#ff0000 264.1deg,#8000ff 264.1deg,#1e03ff 295.0deg,#004bff 305.0deg,#00eeff 330.0deg,#00f9fa 332.5deg,#00ffaf 339.5deg,#00ff46 347.0deg,#05ff00 355.0deg,#44ff00 360.0deg)"></i><i style="left:22.00px;top:22.00px;width:40.00px;height:40.00px;background:conic-gradient(#45ff00 0.0deg,#aaff00 10.5deg,#f3ed00 20.0deg,#ffd300 29.5deg,#ff6c00 57.0deg,#ff1900 74.0deg,#ff0000 82.6deg,#8000ff 82.6deg,#1e04ff 115.5deg,#004bff 126.0deg,#00eeff 152.5deg,#00f9f6 155.5deg,#00ffae 162.5deg,#00ff47 170.0deg,#06ff00 178.5deg,#74ff00 188.0deg,#dff400 200.5deg,#f5eb00 204.5deg,#ffce00 214.5deg,#ff6d00 239.5deg,#ff1700 256.5deg,#ff0000 264.2deg,#8000ff 264.2deg,#1e05ff 295.5deg,#004cff 305.5deg,#00edff 330.0deg,#00f9f7 333.0deg,#00ffb2 339.5deg,#00ff46 347.0deg,#05ff00 355.0deg,#45ff00 360.0deg)"></i><i style="left:23.00px;top:23.00px;width:38.00px;height:38.00px;background:conic-gradient(#46ff00 0.0deg,#b5fe00 11.5deg,#f2ed00 19.5deg,#ffd300 29.0deg,#ff6b00 57.0deg,#ff1700 74.5deg,#ff0000 82.6deg,#8000ff 82.6deg,#1d06ff 116.0deg,#004cff 126.5deg,#00efff 153.0deg,#00f9fa 155.5deg,#00ffac 163.0deg,#00ff45 170.5deg,#04ff00 178.5deg,#73ff00 188.0deg,#dcf500 200.0deg,#f4ec00 204.0deg,#ffd100 213.5deg,#ff6d00 239.5deg,#ff1700 256.5deg,#ff0000 264.3deg,#8000ff 264.3deg,#1d06ff 296.0deg,#004aff 305.5deg,#00eeff 330.5deg,#00f9fa 333.0deg,#00ffad 340.0deg,#00ff47 347.0deg,#05ff00 355.0deg,#46ff00 360.0deg)"></i><i style="left:24.00px;top:24.00px;width:36.00px;height:36.00px;background:conic-gradient(#47ff00 0.0deg,#bcfc00 12.0deg,#f2ee00 19.0deg,#ffd300 28.5deg,#ff6c00 56.5deg,#ff1800 74.0deg,#ff0000 82.6deg,#8000ff 82.6deg,#1e03ff 116.0deg,#004cff 127.0deg,#00efff 153.5deg,#00f9f9 156.0deg,#00ffb1 163.0deg,#00ff43 171.0deg,#01ff00 178.5deg,#73ff00 188.0deg,#ddf500 200.0deg,#f6ea00 204.5deg,#ffca00 215.5deg,#ff6900 240.0deg,#ff1700 256.5deg,#ff0000 264.4deg,#8000ff 264.4deg,#1e03ff 296.0deg,#004aff 306.0deg,#00efff 331.0deg,#00f9f8 333.5deg,#00ffb0 340.0deg,#00ff43 347.5deg,#05ff00 355.0deg,#47ff00 360.0deg)"></i><i style="left:25.00px;top:25.00px;width:34.00px;height:34.00px;background:conic-gradient(#49ff00 0.0deg,#d0f800 14.0deg,#f3ed00 19.0deg,#ffd200 28.5deg,#ff6a00 56.5deg,#ff1800 74.0deg,#ff0000 82.6deg,#8000ff 82.6deg,#1e04ff 116.5deg,#004cff 127.5deg,#00f1ff 154.5deg,#00f9f4 157.0deg,#00ffb0 163.5deg,#00ff46 171.0deg,#05ff00 179.0deg,#72ff00 188.0deg,#def400 200.0deg,#f5eb00 204.0deg,#ffcf00 213.5deg,#ff6b00 239.5deg,#ff1900 256.0deg,#ff0000 264.4deg,#8000ff 264.4deg,#1e04ff 296.5deg,#004aff 306.5deg,#00f2ff 332.0deg,#00f9f2 334.5deg,#00ffad 340.5deg,#00ff45 347.5deg,#06ff00 355.0deg,#49ff00 360.0deg)"></i><i style="left:26.00px;top:26.00px;width:32.00px;height:32.00px;background:conic-gradient(#42ff00 0.0deg,#98ff00 8.0deg,#f2ee00 18.5deg,#ffd400 27.5deg,#ff6b00 56.0deg,#ff1700 74.0deg,#ff0000 82.5deg,#8000ff 82.5deg,#1e04ff 117.0deg,#004bff 128.0deg,#00f0ff 155.0deg,#00f9f7 157.5deg,#00ffad 164.5deg,#00ff43 172.0deg,#04ff00 179.5deg,#72ff00 188.5deg,#dff400 200.5deg,#f5ea00 204.5deg,#ffcd00 214.5deg,#ff6b00 239.5deg,#ff1900 256.0deg,#ff0000 264.5deg,#8000ff 264.5deg,#1e04ff 297.0deg,#004cff 307.5deg,#00f4ff 333.5deg,#00fbe3 337.0deg,#00ffad 341.5deg,#00ff44 348.5deg,#03ff00 355.5deg,#42ff00 360.0deg)"></i><i style="left:27.00px;top:27.00px;width:30.00px;height:30.00px;background:conic-gradient(#3aff00 0.0deg,#86ff00 6.5deg,#f2ee00 18.5deg,#ffd400 27.5deg,#ff6a00 56.0deg,#ff1800 73.5deg,#ff0000 82.5deg,#8000ff 82.5deg,#1e03ff 117.5deg,#004cff 129.0deg,#00f3ff 157.0deg,#00faf1 159.5deg,#00ffb2 165.5deg,#00ff46 173.0deg,#03ff00 180.5deg,#74ff00 189.5deg,#dff400 201.0deg,#f6ea00 205.0deg,#ffcc00 215.0deg,#ff6b00 239.5deg,#ff1900 256.0deg,#ff0000 264.5deg,#8000ff 264.5deg,#1e03ff 297.5deg,#004aff 308.0deg,#00f6ff 335.0deg,#00ffb6 342.0deg,#00ff48 349.0deg,#00ff00 356.0deg,#3aff00 360.0deg)"></i><i style="left:28.00px;top:28.00px;width:28.00px;height:28.00px;background:conic-gradient(#38ff00 0.0deg,#81ff00 6.0deg,#eff000 17.5deg,#ffd600 26.5deg,#ff6a00 55.5deg,#ff1800 73.5deg,#ff0000 82.4deg,#8000ff 82.4deg,#1e05ff 118.5deg,#004cff 130.0deg,#00f5ff 159.0deg,#00ffb0 167.0deg,#00ff47 174.0deg,#04ff00 181.5deg,#74ff00 190.0deg,#def400 201.0deg,#f4eb00 204.5deg,#ffd000 213.5deg,#ff6900 239.0deg,#ff1800 255.5deg,#ff0000 263.8deg,#8000ff 263.8deg,#1f03ff 297.5deg,#004bff 308.5deg,#00cdff 328.5deg,#00f8fb 336.5deg,#00ffb0 343.0deg,#00ff47 349.5deg,#04ff00 356.5deg,#38ff00 360.0deg)"></i><i style="left:29.00px;top:29.00px;width:26.00px;height:26.00px;background:conic-gradient(#3aff00 0.0deg,#80ff00 5.5deg,#eef000 16.5deg,#ffd700 25.0deg,#ff6800 54.5deg,#ff1900 72.0deg,#ff0000 81.5deg,#8000ff 81.5deg,#1e04ff 118.5deg,#004bff 130.5deg,#00ceff 152.5deg,#00f8fb 161.0deg,#00ffaf 168.0deg,#00ff45 175.0deg,#05ff00 182.0deg,#73ff00 190.0deg,#ddf400 200.5deg,#f4eb00 204.0deg,#ffcf00 213.0deg,#ff6900 238.0deg,#ff1800 254.5deg,#ff0000 263.0deg,#8000ff 263.0deg,#1e05ff 298.0deg,#004aff 309.0deg,#00b8ff 326.5deg,#00f9f9 337.5deg,#00ffb2 343.5deg,#00ff46 350.0deg,#03ff00 356.5deg,#3aff00 360.0deg)"></i><i style="left:30.00px;top:30.00px;width:24.00px;height:24.00px;background:conic-gradient(#3eff00 0.0deg,#8dff00 6.0deg,#f1ee00 16.0deg,#ffd400 24.5deg,#ff6800 53.0deg,#ff1800 71.0deg,#ff0000 80.4deg,#8000ff 80.4deg,#1e05ff 119.0deg,#004cff 131.5deg,#00c2ff 152.0deg,#00f9f9 162.5deg,#00ffb1 169.0deg,#00ff43 176.0deg,#06ff00 182.5deg,#73ff00 190.0deg,#def400 200.0deg,#f5eb00 203.5deg,#ffcf00 212.0deg,#ff6700 237.0deg,#ff1900 253.0deg,#ff0000 262.1deg,#8000ff 262.1deg,#1e05ff 298.5deg,#004bff 310.0deg,#00b0ff 326.5deg,#00f9f9 338.5deg,#00ffad 344.5deg,#00ff44 350.5deg,#04ff00 356.5deg,#3eff00 360.0deg)"></i><i style="left:31.00px;top:31.00px;width:22.00px;height:22.00px;background:conic-gradient(#47ff00 0.0deg,#a5ff00 7.0deg,#f2ee00 14.5deg,#ffd400 22.5deg,#ff6600 51.5deg,#ff1800 69.5deg,#ff0000 79.2deg,#8000ff 79.2deg,#1e05ff 119.5deg,#004bff 132.5deg,#00b4ff 151.5deg,#00f9fa 164.0deg,#00ffae 170.5deg,#00ff42 177.0deg,#00ff01 182.5deg,#75ff00 190.0deg,#dcf500 199.0deg,#f5ea00 202.5deg,#ffcd00 211.0deg,#ff6400 236.0deg,#ff1800 252.0deg,#ff0000 261.1deg,#8000ff 261.1deg,#1d06ff 299.5deg,#004bff 311.5deg,#00a8ff 327.0deg,#00f8fc 339.5deg,#00ffb4 345.0deg,#00ff42 351.0deg,#00ff01 356.0deg,#47ff00 360.0deg)"></i><i style="left:32.00px;top:32.00px;width:20.00px;height:20.00px;background:conic-gradient(#58ff00 0.0deg,#d8f600 9.5deg,#f3ed00 12.5deg,#ffd300 20.0deg,#ff6300 49.5deg,#ff1800 67.5deg,#ff0000 77.8deg,#8000ff 77.8deg,#1d05ff 120.5deg,#004bff 134.0deg,#00a6ff 151.5deg,#00f8fb 166.0deg,#00ffb0 172.0deg,#00ff42 178.0deg,#00ff00 183.0deg,#74ff00 189.5deg,#dff400 198.0deg,#f5ea00 201.0deg,#ffcd00 209.0deg,#ff6100 234.5deg,#ff1800 250.5deg,#ff0000 260.0deg,#8000ff 260.0deg,#1e05ff 300.5deg,#004bff 313.5deg,#009eff 328.0deg,#00f8fe 341.0deg,#00ffb7 346.0deg,#00ff47 351.0deg,#05ff00 356.0deg,#58ff00 360.0deg)"></i><i style="left:33.00px;top:33.00px;width:18.00px;height:18.00px;background:conic-gradient(#74ff00 0.0deg,#e5f300 7.5deg,#f9e600 11.0deg,#ff5d00 47.5deg,#ff1900 65.0deg,#ff0000 76.1deg,#8000ff 76.1deg,#1d05ff 122.0deg,#004cff 137.0deg,#00a1ff 154.0deg,#00f8fe 168.5deg,#00ffb2 174.0deg,#00ff44 179.0deg,#04ff00 183.5deg,#70ff00 188.5deg,#dff400 196.0deg,#f7e900 199.0deg,#ffc800 207.5deg,#ff5500 234.0deg,#ff1800 248.5deg,#ff0000 258.5deg,#8000ff 258.5deg,#1e04ff 302.5deg,#004bff 316.5deg,#0097ff 330.5deg,#00f8fb 343.5deg,#00ffb5 347.5deg,#00ff46 351.5deg,#00ff03 355.0deg,#74ff00 360.0deg)"></i><i style="left:34.00px;top:34.00px;width:16.00px;height:16.00px;background:conic-gradient(#b5fe00 0.0deg,#f1ef00 3.5deg,#ffd400 9.5deg,#ff4600 48.5deg,#ff1600 63.0deg,#ff0000 73.9deg,#8000ff 73.9deg,#1d06ff 124.5deg,#004aff 140.5deg,#0097ff 157.5deg,#00f8fd 172.5deg,#00ffb9 176.5deg,#00ff43 180.5deg,#00ff01 183.5deg,#6aff00 187.0deg,#e0f400 193.0deg,#f5eb00 195.0deg,#ffcf00 201.0deg,#ff1a00 245.0deg,#ff0000 256.7deg,#8000ff 256.7deg,#1e05ff 306.0deg,#004cff 322.0deg,#008dff 335.0deg,#00f1ff 346.0deg,#00f9f7 347.0deg,#00ffb2 349.5deg,#00ff44 352.0deg,#00ff06 354.0deg,#6dff00 357.0deg,#b5fe00 360.0deg)"></i><i style="left:35.00px;top:35.00px;width:14.00px;height:14.00px;background:conic-gradient(#ffbd00 0.0deg,#ff6400 33.0deg,#ff1800 57.5deg,#ff0000 70.9deg,#8000ff 70.9deg,#1d06ff 128.5deg,#004cff 148.0deg,#0090ff 166.0deg,#00cfff 175.0deg,#00f6ff 178.5deg,#00ffc0 180.5deg,#00ff39 182.5deg,#00ff02 183.5deg,#6cff00 185.0deg,#d9f500 187.5deg,#f3ed00 188.5deg,#ffd600 191.5deg,#ff9500 206.0deg,#ff1900 242.0deg,#ff0000 255.0deg,#8000ff 255.0deg,#1d06ff 313.5deg,#004bff 334.5deg,#007bff 348.5deg,#0091ff 350.5deg,#00b4ff 351.5deg,#00e5ff 352.0deg,#00ff15 352.5deg,#cef800 353.0deg,#fae600 353.5deg,#ffcb00 356.0deg,#ffbd00 360.0deg)"></i><i style="left:36.00px;top:36.00px;width:12.00px;height:12.00px;background:conic-gradient(#ff2c00 0.0deg,#ff5200 7.0deg,#ff5600 20.0deg,#ff0b00 60.5deg,#ff0000 67.8deg,#8000ff 67.8deg,#1d06ff 137.5deg,#023cff 164.0deg,#0733ff 173.0deg,#1810ff 177.5deg,#2300ff 179.0deg,#7100ff 184.5deg,#8000ff 185.5deg,#ff0000 185.5deg,#ff4a00 192.0deg,#ff5d00 199.5deg,#ff3e00 219.5deg,#ff1100 241.0deg,#ff0000 252.2deg,#8000ff 252.2deg,#2600ff 324.5deg,#2e00ff 341.0deg,#5700ff 349.5deg,#8000ff 354.5deg,#ff0000 354.5deg,#ff2c00 360.0deg)"></i><i style="left:37.00px;top:37.00px;width:10.00px;height:10.00px;background:conic-gradient(#ff0400 0.0deg,#ff1e00 18.5deg,#ff0800 55.0deg,#ff0000 62.5deg,#8000ff 62.5deg,#2900ff 148.0deg,#3300ff 169.5deg,#8000ff 192.2deg,#ff0000 192.2deg,#ff1900 208.0deg,#ff0200 244.5deg,#ff0000 246.7deg,#8000ff 246.7deg,#4000ff 317.5deg,#4e00ff 340.0deg,#8000ff 358.6deg,#ff0000 358.6deg,#ff0400 360.0deg)"></i><i style="left:38.00px;top:38.00px;width:8.00px;height:8.00px;background:conic-gradient(#7700ff 0.0deg,#8000ff 9.0deg,#ff0000 9.0deg,#ff0400 42.5deg,#ff0000 50.6deg,#8000ff 50.6deg,#4000ff 144.5deg,#5100ff 173.5deg,#7f00ff 209.5deg,#8000ff 210.8deg,#ff0000 210.8deg,#ff0000 229.6deg,#8000ff 229.6deg,#5200ff 318.5deg,#6c00ff 352.0deg,#7700ff 360.0deg)"></i><i style="left:39.00px;top:39.00px;width:6.00px;height:6.00px;background:conic-gradient(#7000ff 0.0deg,#7500ff 52.0deg,#5100ff 147.5deg,#7300ff 229.5deg,#6000ff 326.0deg,#7000ff 360.0deg)"></i><i style="left:40.00px;top:40.00px;width:4.00px;height:4.00px;background:conic-gradient(#6b00ff 0.0deg,#6200ff 99.5deg,#6400ff 185.0deg,#6600ff 291.0deg,#6b00ff 360.0deg)"></i><i style="left:41.00px;top:41.00px;width:2.00px;height:2.00px;background:conic-gradient(#6800ff 0.0deg,#6800ff 360.0deg)"></i></div>
<div class="p" style="left:375.20px;top:150.90px;width:84.00px;height:84.00px"><i style="left:-18.00px;top:-18.00px;width:120.00px;height:120.00px;background:conic-gradient(#00ffaf 0.0deg,#00ff45 6.5deg,#01ff00 13.0deg,#46ff00 28.5deg,#98ff00 45.0deg,#f2ee00 53.5deg,#ffd300 62.0deg,#ffab00 68.5deg,#ff6100 77.0deg,#ff1800 85.5deg,#ff0000 90.3deg,#8000ff 90.3deg,#4900ff 111.0deg,#1e05ff 137.0deg,#0047ff 145.5deg,#0072ff 155.5deg,#00dfff 168.0deg,#00f9f8 173.5deg,#00ffaf 180.0deg,#00ff45 186.5deg,#01ff00 193.0deg,#46ff00 208.5deg,#98ff00 225.0deg,#f2ee00 233.5deg,#ffd300 242.0deg,#ffab00 248.5deg,#ff6100 257.0deg,#ff1800 265.5deg,#ff0000 270.3deg,#8000ff 270.3deg,#4900ff 291.0deg,#1e05ff 317.0deg,#0047ff 325.5deg,#0072ff 335.5deg,#00dfff 348.0deg,#00f9f8 353.5deg,#00ffaf 360.0deg)"></i><i style="left:-17.00px;top:-17.00px;width:118.00px;height:118.00px;background:conic-gradient(#00ffb0 0.0deg,#00ff46 6.5deg,#01ff00 13.0deg,#46ff00 28.5deg,#98ff00 45.0deg,#f2ee00 53.5deg,#ffd300 62.0deg,#ffab00 68.5deg,#ff6100 77.0deg,#ff1800 85.5deg,#ff0000 90.3deg,#8000ff 90.3deg,#4900ff 111.0deg,#1e05ff 137.0deg,#0047ff 145.5deg,#0072ff 155.5deg,#00dfff 168.0deg,#00f9f8 173.5deg,#00ffb0 180.0deg,#00ff46 186.5deg,#01ff00 193.0deg,#46ff00 208.5deg,#98ff00 225.0deg,#f2ee00 233.5deg,#ffd300 242.0deg,#ffab00 248.5deg,#ff6100 257.0deg,#ff1800 265.5deg,#ff0000 270.3deg,#8000ff 270.3deg,#4900ff 291.0deg,#1e05ff 317.0deg,#0047ff 325.5deg,#0072ff 335.5deg,#00dfff 348.0deg,#00f9f8 353.5deg,#00ffb0 360.0deg)"></i><i style="left:-16.00px;top:-16.00px;width:116.00px;height:116.00px;background:conic-gradient(#00ffb0 0.0deg,#00ff46 6.5deg,#01ff00 13.0deg,#49ff00 29.0deg,#98ff00 45.0deg,#f2ee00 53.5deg,#ffd300 62.0deg,#ffac00 68.5deg,#ff6100 77.0deg,#ff1800 85.5deg,#ff0000 90.3deg,#8000ff 90.3deg,#4a00ff 111.0deg,#1e04ff 137.0deg,#0046ff 145.5deg,#0072ff 155.5deg,#00dfff 168.0deg,#00f9f9 173.5deg,#00ffb0 180.0deg,#00ff46 186.5deg,#01ff00 193.0deg,#49ff00 209.0deg,#98ff00 225.0deg,#f2ee00 233.5deg,#ffd300 242.0deg,#ffac00 248.5deg,#ff6100 257.0deg,#ff1800 265.5deg,#ff0000 270.3deg,#8000ff 270.3deg,#4a00ff 291.0deg,#1e04ff 317.0deg,#0046ff 325.5deg,#0072ff 335.5deg,#00dfff 348.0deg,#00f9f9 353.5deg,#00ffb0 360.0deg)"></i><i style="left:-15.00px;top:-15.00px;width:114.00px;height:114.00px;background:conic-gradient(#00ffb1 0.0deg,#00ff46 6.5deg,#01ff00 13.0deg,#48ff00 29.0deg,#97ff00 45.0deg,#f2ee00 53.5deg,#ffd300 62.0deg,#ffac00 68.5deg,#ff6200 77.0deg,#ff1800 85.5deg,#ff0000 90.4deg,#8000ff 90.4deg,#4a00ff 111.0deg,#1e04ff 137.0deg,#0046ff 145.5deg,#0071ff 155.5deg,#00dfff 168.0deg,#00f9f9 173.5deg,#00ffb1 180.0deg,#00ff46 186.5deg,#01ff00 193.0deg,#48ff00 209.0deg,#97ff00 225.0deg,#f2ee00 233.5deg,#ffd300 242.0deg,#ffac00 248.5deg,#ff6200 257.0deg,#ff1800 265.5deg,#ff0000 270.4deg,#8000ff 270.4deg,#4a00ff 291.0deg,#1e04ff 317.0deg,#0046ff 325.5deg,#0071ff 335.5deg,#00dfff 348.0deg,#00f9f9 353.5deg,#00ffb1 360.0deg)"></i><i style="left:-14.00px;top:-14.00px;width:112.00px;height:112.00px;background:conic-gradient(#00ffb1 0.0deg,#00ff46 6.5deg,#01ff00 13.0deg,#48ff00 29.0deg,#97ff00 45.0deg,#f2ee00 53.5deg,#ffd300 62.0deg,#ffac00 68.5deg,#ff5d00 77.5deg,#ff1800 85.5deg,#ff0000 90.4deg,#8000ff 90.4deg,#4a00ff 111.0deg,#1e04ff 137.0deg,#0046ff 145.5deg,#0071ff 155.5deg,#00deff 168.0deg,#00f9f9 173.5deg,#00ffb1 180.0deg,#00ff46 186.5deg,#01ff00 193.0deg,#48ff00 209.0deg,#97ff00 225.0deg,#f2ee00 233.5deg,#ffd300 242.0deg,#ffac00 248.5deg,#ff5d00 257.5deg,#ff1800 265.5deg,#ff0000 270.4deg,#8000ff 270.4deg,#4a00ff 291.0deg,#1e04ff 317.0deg,#0046ff 325.5deg,#0071ff 335.5deg,#00deff 348.0deg,#00f9f9 353.5deg,#00ffb1 360.0deg)"></i><i style="left:-13.00px;top:-13.00px;width:110.00px;height:110.00px;background:conic-gradient(#00ffb1 0.0deg,#00ff47 6.5deg,#01ff00 13.0deg,#48ff00 29.0deg,#97ff00 45.0deg,#f2ee00 53.5deg,#ffd400 62.0deg,#ffac00 68.5deg,#ff5e00 77.5deg,#ff1900 85.5deg,#ff0000 90.4deg,#8000ff 90.4deg,#4a00ff 111.0deg,#1e03ff 137.0deg,#0046ff 145.5deg,#0071ff 155.5deg,#00deff 168.0deg,#00f9f9 173.5deg,#00ffb1 180.0deg,#00ff47 186.5deg,#01ff00 193.0deg,#48ff00 209.0deg,#97ff00 225.0deg,#f2ee00 233.5deg,#ffd400 242.0deg,#ffac00 248.5deg,#ff5e00 257.5deg,#ff1900 265.5deg,#ff0000 270.4deg,#8000ff 270.4deg,#4a00ff 291.0deg,#1e03ff 317.0deg,#0046ff 325.5deg,#0071ff 335.5deg,#00deff 348.0deg,#00f9f9 353.5deg,#00ffb1 360.0deg)"></i><i style="left:-12.00px;top:-12.00px;width:108.00px;height:108.00px;background:conic-gradient(#00ffb2 0.0deg,#00ff47 6.5deg,#01ff00 13.0deg,#48ff00 29.0deg,#97ff00 45.0deg,#f2ee00 53.5deg,#ffd400 62.0deg,#ffad00 68.5deg,#ff5e00 77.5deg,#ff1900 85.5deg,#ff0000 90.5deg,#8000ff 90.5deg,#4a00ff 111.0deg,#1f03ff 137.0deg,#0046ff 145.5deg,#0070ff 155.5deg,#00deff 168.0deg,#00f9fa 173.5deg,#00ffb2 180.0deg,#00ff47 186.5deg,#01ff00 193.0deg,#48ff00 209.0deg,#97ff00 225.0deg,#f2ee00 233.5deg,#ffd400 242.0deg,#ffad00 248.5deg,#ff5e00 257.5deg,#ff1900 265.5deg,#ff0000 270.5deg,#8000ff 270.5deg,#4a00ff 291.0deg,#1f03ff 317.0deg,#0046ff 325.5deg,#0070ff 335.5deg,#00deff 348.0deg,#00f9fa 353.5deg,#00ffb2 360.0deg)"></i><i style="left:-11.00px;top:-11.00px;width:106.00px;height:106.00px;background:conic-gradient(#00ffb2 0.0deg,#00ff47 6.5deg,#02ff00 13.5deg,#48ff00 29.0deg,#96ff00 45.0deg,#f2ee00 53.5deg,#ffd200 62.5deg,#ffa100 70.0deg,#ff2f00 82.5deg,#ff0000 90.5deg,#8000ff 90.5deg,#4a00ff 111.0deg,#1f03ff 137.0deg,#0046ff 145.5deg,#0070ff 155.5deg,#00deff 168.0deg,#00f9fa 173.5deg,#00ffb2 180.0deg,#00ff47 186.5deg,#02ff00 193.5deg,#48ff00 209.0deg,#96ff00 225.0deg,#f2ee00 233.5deg,#ffd200 242.5deg,#ffa100 250.0deg,#ff2f00 262.5deg,#ff0000 270.5deg,#8000ff 270.5deg,#4a00ff 291.0deg,#1f03ff 317.0deg,#0046ff 325.5deg,#0070ff 335.5deg,#00deff 348.0deg,#00f9fa 353.5deg,#00ffb2 360.0deg)"></i><i style="left:-10.00px;top:-10.00px;width:104.00px;height:104.00px;background:conic-gradient(#00ffb3 0.0deg,#00ff47 6.5deg,#02ff00 13.5deg,#48ff00 29.0deg,#96ff00 45.0deg,#f1ee00 53.5deg,#ffd400 62.0deg,#ffad00 68.5deg,#ff5f00 77.5deg,#ff1900 85.5deg,#ff0000 90.5deg,#8000ff 90.5deg,#4a00ff 111.0deg,#1f02ff 137.0deg,#0046ff 145.5deg,#0070ff 155.5deg,#00deff 168.0deg,#00f9fa 173.5deg,#00ffb3 180.0deg,#00ff47 186.5deg,#02ff00 193.5deg,#48ff00 209.0deg,#96ff00 225.0deg,#f1ee00 233.5deg,#ffd400 242.0deg,#ffad00 248.5deg,#ff5f00 257.5deg,#ff1900 265.5deg,#ff0000 270.5deg,#8000ff 270.5deg,#4a00ff 291.0deg,#1f02ff 317.0deg,#0046ff 325.5deg,#0070ff 335.5deg,#00deff 348.0deg,#00f9fa 353.5deg,#00ffb3 360.0deg)"></i><i style="left:-9.00px;top:-9.00px;width:102.00px;height:102.00px;background:conic-gradient(#00ffb3 0.0deg,#00ff42 7.0deg,#02ff00 13.5deg,#48ff00 29.0deg,#96ff00 45.0deg,#f1ef00 53.5deg,#ffd400 62.0deg,#ffb100 68.0deg,#ff6400 77.0deg,#ff1900 85.5deg,#ff0000 90.6deg,#8000ff 90.6deg,#4a00ff 111.0deg,#1f02ff 137.0deg,#0045ff 145.5deg,#006fff 155.5deg,#00deff 168.0deg,#00f9fa 173.5deg,#00ffb3 180.0deg,#00ff42 187.0deg,#02ff00 193.5deg,#48ff00 209.0deg,#96ff00 225.0deg,#f1ef00 233.5deg,#ffd400 242.0deg,#ffb100 248.0deg,#ff6400 257.0deg,#ff1900 265.5deg,#ff0000 270.6deg,#8000ff 270.6deg,#4a00ff 291.0deg,#1f02ff 317.0deg,#0045ff 325.5deg,#006fff 335.5deg,#00deff 348.0deg,#00f9fa 353.5deg,#00ffb3 360.0deg)"></i><i style="left:-8.00px;top:-8.00px;width:100.00px;height:100.00px;background:conic-gradient(#00ffb3 0.0deg,#00ff42 7.0deg,#02ff00 13.5deg,#48ff00 29.0deg,#96ff00 45.0deg,#f3ed00 54.0deg,#ffd100 63.0deg,#ff7f00 74.5deg,#ff1a00 85.5deg,#ff0000 90.7deg,#8000ff 90.7deg,#4900ff 111.5deg,#1d06ff 137.5deg,#0047ff 146.0deg,#006fff 155.5deg,#00deff 168.0deg,#00f8fb 173.5deg,#00ffb3 180.0deg,#00ff42 187.0deg,#02ff00 193.5deg,#48ff00 209.0deg,#96ff00 225.0deg,#f3ed00 234.0deg,#ffd100 243.0deg,#ff7f00 254.5deg,#ff1a00 265.5deg,#ff0000 270.7deg,#8000ff 270.7deg,#4900ff 291.5deg,#1d06ff 317.5deg,#0047ff 326.0deg,#006fff 335.5deg,#00deff 348.0deg,#00f8fb 353.5deg,#00ffb3 360.0deg)"></i><i style="left:-7.00px;top:-7.00px;width:98.00px;height:98.00px;background:conic-gradient(#00ffb4 0.0deg,#00ff42 7.0deg,#02ff00 13.5deg,#48ff00 29.0deg,#96ff00 45.0deg,#f3ed00 54.0deg,#ffd200 62.5deg,#ffa600 69.5deg,#ff5b00 78.0deg,#ff1700 86.0deg,#ff0000 90.7deg,#8000ff 90.7deg,#4900ff 111.5deg,#1d05ff 137.5deg,#0047ff 146.0deg,#006fff 155.5deg,#00ddff 168.0deg,#00f8fb 173.5deg,#00ffb4 180.0deg,#00ff42 187.0deg,#02ff00 193.5deg,#48ff00 209.0deg,#96ff00 225.0deg,#f3ed00 234.0deg,#ffd200 242.5deg,#ffa600 249.5deg,#ff5b00 258.0deg,#ff1700 266.0deg,#ff0000 270.7deg,#8000ff 270.7deg,#4900ff 291.5deg,#1d05ff 317.5deg,#0047ff 326.0deg,#006fff 335.5deg,#00ddff 348.0deg,#00f8fb 353.5deg,#00ffb4 360.0deg)"></i><i style="left:-6.00px;top:-6.00px;width:96.00px;height:96.00px;background:conic-gradient(#00ffb4 0.0deg,#00ff42 7.0deg,#02ff00 13.5deg,#48ff00 29.0deg,#9bff00 45.5deg,#f3ed00 54.0deg,#ffd300 62.5deg,#ffa600 69.5deg,#ff5b00 78.0deg,#ff1800 86.0deg,#ff0000 90.8deg,#8000ff 90.8deg,#4a00ff 111.5deg,#1e05ff 137.5deg,#0047ff 146.0deg,#006fff 155.5deg,#00ddff 168.0deg,#00f8fb 173.5deg,#00ffb4 180.0deg,#00ff42 187.0deg,#02ff00 193.5deg,#48ff00 209.0deg,#9bff00 225.5deg,#f3ed00 234.0deg,#ffd300 242.5deg,#ffa600 249.5deg,#ff5b00 258.0deg,#ff1800 266.0deg,#ff0000 270.8deg,#8000ff 270.8deg,#4a00ff 291.5deg,#1e05ff 317.5deg,#0047ff 326.0deg,#006fff 335.5deg,#00ddff 348.0deg,#00f8fb 353.5deg,#00ffb4 360.0deg)"></i><i style="left:-5.00px;top:-5.00px;width:94.00px;height:94.00px;background:conic-gradient(#00ffb4 0.0deg,#00ff43 7.0deg,#02ff00 13.5deg,#48ff00 29.0deg,#9bff00 45.5deg,#f3ed00 54.0deg,#ffd300 62.5deg,#ffa700 69.5deg,#ff5c00 78.0deg,#ff1800 86.0deg,#ff0000 90.8deg,#8000ff 90.8deg,#4a00ff 111.5deg,#1e04ff 137.5deg,#0047ff 146.0deg,#0073ff 156.0deg,#00ddff 168.0deg,#00f8fb 173.5deg,#00ffb4 180.0deg,#00ff43 187.0deg,#02ff00 193.5deg,#48ff00 209.0deg,#9bff00 225.5deg,#f3ed00 234.0deg,#ffd300 242.5deg,#ffa700 249.5deg,#ff5c00 258.0deg,#ff1800 266.0deg,#ff0000 270.8deg,#8000ff 270.8deg,#4a00ff 291.5deg,#1e04ff 317.5deg,#0047ff 326.0deg,#0073ff 336.0deg,#00ddff 348.0deg,#00f8fb 353.5deg,#00ffb4 360.0deg)"></i><i style="left:-4.00px;top:-4.00px;width:92.00px;height:92.00px;background:conic-gradient(#00ffb5 0.0deg,#00ff43 7.0deg,#02ff00 13.5deg,#48ff00 29.0deg,#9bff00 45.5deg,#f3ed00 54.0deg,#ffd300 62.5deg,#ffa700 69.5deg,#ff5c00 78.0deg,#ff1800 86.0deg,#ff0000 90.8deg,#8000ff 90.8deg,#4a00ff 111.5deg,#1e04ff 137.5deg,#0047ff 146.0deg,#0072ff 156.0deg,#00ddff 168.0deg,#00f8fc 173.5deg,#00ffb5 180.0deg,#00ff43 187.0deg,#02ff00 193.5deg,#48ff00 209.0deg,#9bff00 225.5deg,#f3ed00 234.0deg,#ffd300 242.5deg,#ffa700 249.5deg,#ff5c00 258.0deg,#ff1800 266.0deg,#ff0000 270.8deg,#8000ff 270.8deg,#4a00ff 291.5deg,#1e04ff 317.5deg,#0047ff 326.0deg,#0072ff 336.0deg,#00ddff 348.0deg,#00f8fc 353.5deg,#00ffb5 360.0deg)"></i><i style="left:-3.00px;top:-3.00px;width:90.00px;height:90.00px;background:conic-gradient(#00ffb5 0.0deg,#00ff43 7.0deg,#02ff00 13.5deg,#47ff00 29.0deg,#9aff00 45.5deg,#f3ed00 54.0deg,#ffd300 62.5deg,#ffa700 69.5deg,#ff5c00 78.0deg,#ff1800 86.0deg,#ff0000 90.9deg,#8000ff 90.9deg,#4a00ff 111.5deg,#1e04ff 137.5deg,#0046ff 146.0deg,#0072ff 156.0deg,#00ddff 168.0deg,#00f8fc 173.5deg,#00ffb5 180.0deg,#00ff43 187.0deg,#02ff00 193.5deg,#47ff00 209.0deg,#9aff00 225.5deg,#f3ed00 234.0deg,#ffd300 242.5deg,#ffa700 249.5deg,#ff5c00 258.0deg,#ff1800 266.0deg,#ff0000 270.9deg,#8000ff 270.9deg,#4a00ff 291.5deg,#1e04ff 317.5deg,#0046ff 326.0deg,#0072ff 336.0deg,#00ddff 348.0deg,#00f8fc 353.5deg,#00ffb5 360.0deg)"></i><i style="left:-2.00px;top:-2.00px;width:88.00px;height:88.00px;background:conic-gradient(#00ffb5 0.0deg,#00ff43 7.0deg,#02ff00 13.5deg,#47ff00 29.0deg,#9aff00 45.5deg,#f3ed00 54.0deg,#ffd300 62.5deg,#ffa700 69.5deg,#ff5800 78.5deg,#ff1800 86.0deg,#ff0000 90.9deg,#8000ff 90.9deg,#4a00ff 111.5deg,#1e03ff 137.5deg,#0046ff 146.0deg,#0072ff 156.0deg,#00ddff 168.0deg,#00f8fc 173.5deg,#00ffb5 180.0deg,#00ff43 187.0deg,#02ff00 193.5deg,#47ff00 209.0deg,#9aff00 225.5deg,#f3ed00 234.0deg,#ffd300 242.5deg,#ffa700 249.5deg,#ff5800 258.5deg,#ff1800 266.0deg,#ff0000 270.9deg,#8000ff 270.9deg,#4a00ff 291.5deg,#1e03ff 317.5deg,#0046ff 326.0deg,#0072ff 336.0deg,#00ddff 348.0deg,#00f8fc 353.5deg,#00ffb5 360.0deg)"></i><i style="left:-1.00px;top:-1.00px;width:86.00px;height:86.00px;background:conic-gradient(#00ffb5 0.0deg,#00ff43 7.0deg,#02ff00 13.5deg,#47ff00 29.0deg,#9aff00 45.5deg,#f3ed00 54.0deg,#ffd300 62.5deg,#ffa800 69.5deg,#ff5800 78.5deg,#ff1900 86.0deg,#ff0000 91.0deg,#8000ff 91.0deg,#4a00ff 111.5deg,#1f03ff 137.5deg,#0046ff 146.0deg,#0071ff 156.0deg,#00ddff 168.0deg,#00f8fc 173.5deg,#00ffb5 180.0deg,#00ff43 187.0deg,#02ff00 193.5deg,#47ff00 209.0deg,#9aff00 225.5deg,#f3ed00 234.0deg,#ffd300 242.5deg,#ffa800 249.5deg,#ff5800 258.5deg,#ff1900 266.0deg,#ff0000 271.0deg,#8000ff 271.0deg,#4a00ff 291.5deg,#1f03ff 317.5deg,#0046ff 326.0deg,#0071ff 336.0deg,#00ddff 348.0deg,#00f8fc 353.5deg,#00ffb5 360.0deg)"></i><i style="left:0.00px;top:0.00px;width:84.00px;height:84.00px;background:conic-gradient(#00ffb1 0.0deg,#00ff46 6.5deg,#02ff00 13.0deg,#4eff00 29.0deg,#a2ff00 45.5deg,#f3ed00 53.5deg,#ffd200 62.0deg,#ffb100 68.0deg,#ff6a00 76.5deg,#ff1900 86.0deg,#ff0000 91.0deg,#8000ff 91.0deg,#4800ff 112.5deg,#1f03ff 137.0deg,#0047ff 145.5deg,#0075ff 156.0deg,#00dfff 168.0deg,#00f9f9 173.5deg,#00ffb1 180.0deg,#00ff46 186.5deg,#02ff00 193.0deg,#4eff00 209.0deg,#a2ff00 225.5deg,#f3ed00 233.5deg,#ffd200 242.0deg,#ffb100 248.0deg,#ff6a00 256.5deg,#ff1900 266.0deg,#ff0000 271.0deg,#8000ff 271.0deg,#4800ff 292.5deg,#1f03ff 317.0deg,#0047ff 325.5deg,#0075ff 336.0deg,#00dfff 348.0deg,#00f9f9 353.5deg,#00ffb1 360.0deg)"></i><i style="left:1.00px;top:1.00px;width:82.00px;height:82.00px;background:conic-gradient(#00ffa8 0.0deg,#00ff42 6.5deg,#06ff00 13.0deg,#b1ff00 45.5deg,#f2ee00 52.0deg,#ffd400 60.0deg,#ffb300 67.0deg,#ff6c00 76.0deg,#ff1800 86.0deg,#ff0000 91.1deg,#8000ff 91.1deg,#4300ff 114.5deg,#1f03ff 136.0deg,#004bff 145.0deg,#007dff 156.0deg,#00e2ff 168.0deg,#00f9f8 173.0deg,#00ffb0 179.5deg,#00ff42 186.5deg,#06ff00 193.0deg,#b1ff00 225.5deg,#f2ee00 232.0deg,#ffd400 240.0deg,#ffb300 247.0deg,#ff6c00 256.0deg,#ff1800 266.0deg,#ff0000 271.1deg,#8000ff 271.1deg,#4300ff 294.5deg,#1f03ff 316.0deg,#004bff 325.0deg,#007dff 336.0deg,#00e2ff 348.0deg,#00f9f8 353.0deg,#00ffb0 359.5deg,#00ffa8 360.0deg)"></i><i style="left:2.00px;top:2.00px;width:80.00px;height:80.00px;background:conic-gradient(#00ffa1 0.0deg,#00ff44 6.0deg,#01ff00 12.5deg,#3aff00 21.5deg,#c4fa00 46.0deg,#f3ed00 51.0deg,#ffd500 58.5deg,#ffaf00 67.0deg,#ff6a00 76.0deg,#ff1800 86.0deg,#ff0000 91.3deg,#8000ff 91.3deg,#3e00ff 116.5deg,#1d07ff 135.0deg,#004aff 144.0deg,#0089ff 156.5deg,#00e5ff 168.0deg,#00f8fc 172.0deg,#00ffb0 179.0deg,#00ff44 186.0deg,#01ff00 192.5deg,#3aff00 201.5deg,#c4fa00 226.0deg,#f3ed00 231.0deg,#ffd500 238.5deg,#ffaf00 247.0deg,#ff6a00 256.0deg,#ff1800 266.0deg,#ff0000 271.3deg,#8000ff 271.3deg,#3e00ff 296.5deg,#1d07ff 315.0deg,#004aff 324.0deg,#0089ff 336.5deg,#00e5ff 348.0deg,#00f8fc 352.0deg,#00ffb0 359.0deg,#00ffa1 360.0deg)"></i><i style="left:3.00px;top:3.00px;width:78.00px;height:78.00px;background:conic-gradient(#00ff99 0.0deg,#00ff46 5.5deg,#04ff00 12.5deg,#34ff00 19.0deg,#cdf800 45.5deg,#f3ec00 50.0deg,#ffd200 58.0deg,#ffa400 68.0deg,#ff6700 76.0deg,#ff1800 86.0deg,#ff0000 91.5deg,#8000ff 91.5deg,#3000ff 122.0deg,#1d06ff 132.5deg,#0e23ff 138.0deg,#0050ff 144.0deg,#0091ff 156.5deg,#00e6ff 167.5deg,#00f9fa 171.5deg,#00ffb0 178.5deg,#00ff46 185.5deg,#04ff00 192.5deg,#34ff00 199.0deg,#cdf800 225.5deg,#f3ec00 230.0deg,#ffd200 238.0deg,#ffa400 248.0deg,#ff6700 256.0deg,#ff1800 266.0deg,#ff0000 271.5deg,#8000ff 271.5deg,#3000ff 302.0deg,#1d06ff 312.5deg,#0e23ff 318.0deg,#0050ff 324.0deg,#0091ff 336.5deg,#00e6ff 347.5deg,#00f9fa 351.5deg,#00ffb0 358.5deg,#00ff99 360.0deg)"></i><i style="left:4.00px;top:4.00px;width:76.00px;height:76.00px;background:conic-gradient(#00ff91 0.0deg,#00ff42 5.5deg,#00ff00 12.0deg,#20ff00 15.0deg,#b8fd00 39.5deg,#e5f300 46.5deg,#ffe000 52.5deg,#ffa200 67.5deg,#ff6900 75.5deg,#ff1800 86.0deg,#ff0000 91.7deg,#8000ff 91.7deg,#2800ff 125.5deg,#1b09ff 131.5deg,#082fff 138.5deg,#0061ff 146.0deg,#009cff 157.0deg,#00ecff 168.0deg,#00f9f9 171.0deg,#00ffaf 178.0deg,#00ff47 185.0deg,#00ff00 192.0deg,#20ff00 195.0deg,#b8fd00 219.5deg,#e5f300 226.5deg,#ffe000 232.5deg,#ffa200 247.5deg,#ff6900 255.5deg,#ff1800 266.0deg,#ff0000 271.7deg,#8000ff 271.7deg,#2800ff 305.5deg,#1b09ff 311.5deg,#082fff 318.5deg,#0061ff 326.0deg,#009cff 337.0deg,#00ecff 348.0deg,#00f9f9 351.0deg,#00ffaf 358.0deg,#00ff91 360.0deg)"></i><i style="left:5.00px;top:5.00px;width:74.00px;height:74.00px;background:conic-gradient(#00ff89 0.0deg,#00ff43 5.0deg,#04ff00 12.0deg,#29ff00 15.5deg,#9dff00 33.0deg,#f6ea00 48.0deg,#ffcc00 57.0deg,#ff8f00 70.0deg,#ff1800 86.0deg,#ff0000 91.8deg,#8000ff 91.8deg,#1e05ff 129.0deg,#0437ff 138.5deg,#00acff 158.0deg,#00f2ff 168.5deg,#00faee 171.5deg,#00ffaf 177.5deg,#00ff43 185.0deg,#04ff00 192.0deg,#29ff00 195.5deg,#9dff00 213.0deg,#f6ea00 228.0deg,#ffcc00 237.0deg,#ff8f00 250.0deg,#ff1800 266.0deg,#ff0000 271.8deg,#8000ff 271.8deg,#1e05ff 309.0deg,#0437ff 318.5deg,#00acff 338.0deg,#00f2ff 348.5deg,#00faee 351.5deg,#00ffaf 357.5deg,#00ff89 360.0deg)"></i><i style="left:6.00px;top:6.00px;width:72.00px;height:72.00px;background:conic-gradient(#00ff81 0.0deg,#00ff3f 5.0deg,#01ff00 11.5deg,#2eff00 15.5deg,#8bff00 28.5deg,#f3ed00 45.5deg,#ffd100 54.0deg,#ff8800 70.5deg,#ff1a00 85.5deg,#ff0000 92.0deg,#8000ff 92.0deg,#1d06ff 128.0deg,#0051ff 141.5deg,#00baff 159.0deg,#00f8ff 169.0deg,#00ffad 177.0deg,#00ff43 184.5deg,#01ff00 191.5deg,#2eff00 195.5deg,#8bff00 208.5deg,#f3ed00 225.5deg,#ffd100 234.0deg,#ff8800 250.5deg,#ff1a00 265.5deg,#ff0000 272.0deg,#8000ff 272.0deg,#1d06ff 308.0deg,#0051ff 321.5deg,#00baff 339.0deg,#00f8ff 349.0deg,#00ffad 357.0deg,#00ff81 360.0deg)"></i><i style="left:7.00px;top:7.00px;width:70.00px;height:70.00px;background:conic-gradient(#00ff79 0.0deg,#00ff3a 5.0deg,#04ff00 11.5deg,#40ff00 17.0deg,#d2f700 37.5deg,#f3ed00 43.5deg,#ffd000 53.0deg,#ff7e00 71.5deg,#ff1a00 85.5deg,#ff0000 92.2deg,#8000ff 92.2deg,#1d06ff 127.0deg,#0051ff 140.5deg,#00d3ff 161.5deg,#00f9f9 169.0deg,#00ffac 176.5deg,#00ff44 184.0deg,#04ff00 191.5deg,#40ff00 197.0deg,#d2f700 217.5deg,#f3ed00 223.5deg,#ffd000 233.0deg,#ff7e00 251.5deg,#ff1a00 265.5deg,#ff0000 272.2deg,#8000ff 272.2deg,#1d06ff 307.0deg,#0051ff 320.5deg,#00d3ff 341.5deg,#00f9f9 349.0deg,#00ffac 356.5deg,#00ff79 360.0deg)"></i><i style="left:8.00px;top:8.00px;width:68.00px;height:68.00px;background:conic-gradient(#00ff71 0.0deg,#00ff36 5.0deg,#01ff00 11.0deg,#4aff00 17.5deg,#d0f800 35.5deg,#f3ed00 41.5deg,#ffcd00 52.5deg,#ff7900 71.5deg,#ff1a00 85.5deg,#ff0000 92.4deg,#8000ff 92.4deg,#1e04ff 126.0deg,#004eff 139.0deg,#00f7ff 167.5deg,#00ffb2 175.5deg,#00ff44 183.5deg,#01ff00 191.0deg,#4aff00 197.5deg,#d0f800 215.5deg,#f3ed00 221.5deg,#ffcd00 232.5deg,#ff7900 251.5deg,#ff1a00 265.5deg,#ff0000 272.4deg,#8000ff 272.4deg,#1e04ff 306.0deg,#004eff 319.0deg,#00f7ff 347.5deg,#00ffb2 355.5deg,#00ff71 360.0deg)"></i><i style="left:9.00px;top:9.00px;width:66.00px;height:66.00px;background:conic-gradient(#00ff69 0.0deg,#00ff29 6.0deg,#05ff00 11.0deg,#63ff00 19.5deg,#d8f600 35.0deg,#f4ec00 40.0deg,#ffcf00 50.5deg,#ff7400 71.5deg,#ff1a00 85.5deg,#ff0000 92.7deg,#8000ff 92.7deg,#1d05ff 125.5deg,#004bff 137.5deg,#00f8ff 167.0deg,#00ffb0 175.0deg,#00ff45 183.0deg,#05ff00 191.0deg,#63ff00 199.5deg,#d8f600 215.0deg,#f4ec00 220.0deg,#ffcf00 230.5deg,#ff7400 251.5deg,#ff1a00 265.5deg,#ff0000 272.7deg,#8000ff 272.7deg,#1d05ff 305.5deg,#004bff 317.5deg,#00f8ff 347.0deg,#00ffb0 355.0deg,#00ff69 360.0deg)"></i><i style="left:10.00px;top:10.00px;width:64.00px;height:64.00px;background:conic-gradient(#00ff61 0.0deg,#03ff00 10.5deg,#6dff00 20.0deg,#d7f600 33.5deg,#f4eb00 38.5deg,#ffd000 48.5deg,#ff7100 71.0deg,#ff1a00 85.5deg,#ff0000 92.9deg,#8000ff 92.9deg,#1d05ff 125.0deg,#004cff 136.5deg,#00f4ff 165.5deg,#00ffc2 173.0deg,#00ff44 182.5deg,#03ff00 190.5deg,#6dff00 200.0deg,#d7f600 213.5deg,#f4eb00 218.5deg,#ffd000 228.5deg,#ff7100 251.0deg,#ff1a00 265.5deg,#ff0000 272.9deg,#8000ff 272.9deg,#1d05ff 305.0deg,#004cff 316.5deg,#00f4ff 345.5deg,#00ffc2 353.0deg,#00ff61 360.0deg)"></i><i style="left:11.00px;top:11.00px;width:62.00px;height:62.00px;background:conic-gradient(#00ff59 0.0deg,#02ff00 10.0deg,#72ff00 20.0deg,#daf500 32.5deg,#f4eb00 37.0deg,#ffcf00 47.0deg,#ff6e00 70.5deg,#ff1800 86.0deg,#ff0000 93.1deg,#8000ff 93.1deg,#1d05ff 124.5deg,#004aff 135.0deg,#00efff 163.5deg,#00f9f5 166.5deg,#00ffb2 173.5deg,#00ff44 182.0deg,#02ff00 190.0deg,#72ff00 200.0deg,#daf500 212.5deg,#f4eb00 217.0deg,#ffcf00 227.0deg,#ff6e00 250.5deg,#ff1800 266.0deg,#ff0000 273.1deg,#8000ff 273.1deg,#1d05ff 304.5deg,#004aff 315.0deg,#00efff 343.5deg,#00f9f5 346.5deg,#00ffb2 353.5deg,#00ff59 360.0deg)"></i><i style="left:12.00px;top:12.00px;width:60.00px;height:60.00px;background:conic-gradient(#00ff55 0.0deg,#03ff00 10.0deg,#74ff00 20.0deg,#dff400 32.5deg,#f5eb00 36.5deg,#ffd000 46.0deg,#ff6f00 70.0deg,#ff1800 86.0deg,#ff0000 93.4deg,#8000ff 93.4deg,#1d05ff 124.5deg,#004bff 135.0deg,#00ecff 162.5deg,#00f9f7 166.0deg,#00ffae 173.5deg,#00ff46 181.5deg,#03ff00 190.0deg,#74ff00 200.0deg,#dff400 212.5deg,#f5eb00 216.5deg,#ffd000 226.0deg,#ff6f00 250.0deg,#ff1800 266.0deg,#ff0000 273.4deg,#8000ff 273.4deg,#1d05ff 304.5deg,#004bff 315.0deg,#00ecff 342.5deg,#00f9f7 346.0deg,#00ffae 353.5deg,#00ff55 360.0deg)"></i><i style="left:13.00px;top:13.00px;width:58.00px;height:58.00px;background:conic-gradient(#00ff57 0.0deg,#02ff00 10.0deg,#73ff00 20.0deg,#daf500 32.0deg,#f5eb00 36.5deg,#ffce00 46.5deg,#ff6d00 70.5deg,#ff1900 86.0deg,#ff0000 93.6deg,#8000ff 93.6deg,#1e04ff 124.5deg,#004aff 135.0deg,#00eeff 163.0deg,#00f9f8 166.0deg,#00ffb0 173.5deg,#00ff47 181.5deg,#02ff00 190.0deg,#73ff00 200.0deg,#daf500 212.0deg,#f5eb00 216.5deg,#ffce00 226.5deg,#ff6d00 250.5deg,#ff1900 266.0deg,#ff0000 273.6deg,#8000ff 273.6deg,#1e04ff 304.5deg,#004aff 315.0deg,#00eeff 343.0deg,#00f9f8 346.0deg,#00ffb0 353.5deg,#00ff57 360.0deg)"></i><i style="left:14.00px;top:14.00px;width:56.00px;height:56.00px;background:conic-gradient(#00ff5b 0.0deg,#05ff00 10.5deg,#75ff00 20.5deg,#e0f400 33.0deg,#f5eb00 37.0deg,#ffce00 47.0deg,#ff6c00 71.0deg,#ff1800 86.5deg,#ff0000 94.1deg,#8000ff 94.1deg,#1e04ff 125.0deg,#004aff 135.5deg,#00ecff 163.0deg,#00f9f7 166.5deg,#00ffae 174.0deg,#00ff45 182.0deg,#05ff00 190.5deg,#75ff00 200.5deg,#e0f400 213.0deg,#f5eb00 217.0deg,#ffce00 227.0deg,#ff6c00 251.0deg,#ff1800 266.5deg,#ff0000 274.1deg,#8000ff 274.1deg,#1e04ff 305.0deg,#004aff 315.5deg,#00ecff 343.0deg,#00f9f7 346.5deg,#00ffae 354.0deg,#00ff5b 360.0deg)"></i><i style="left:15.00px;top:15.00px;width:54.00px;height:54.00px;background:conic-gradient(#00ff61 0.0deg,#00ff00 10.5deg,#72ff00 20.5deg,#dcf500 33.0deg,#f4ec00 37.0deg,#ffd100 46.5deg,#ff6d00 71.5deg,#ff1900 87.0deg,#ff0000 94.8deg,#8000ff 94.8deg,#1f03ff 125.5deg,#004aff 136.0deg,#00ecff 163.5deg,#00f9f7 167.0deg,#00ffad 174.5deg,#00ff45 182.5deg,#06ff00 191.0deg,#72ff00 200.5deg,#dcf500 213.0deg,#f4ec00 217.0deg,#ffd100 226.5deg,#ff6d00 251.5deg,#ff1900 267.0deg,#ff0000 274.8deg,#8000ff 274.8deg,#1f03ff 305.5deg,#004aff 316.0deg,#00ecff 343.5deg,#00f9f7 347.0deg,#00ffad 354.5deg,#00ff61 360.0deg)"></i><i style="left:16.00px;top:16.00px;width:52.00px;height:52.00px;background:conic-gradient(#00ff67 0.0deg,#00ff26 6.5deg,#07ff00 11.5deg,#72ff00 21.0deg,#dcf500 33.5deg,#f4ec00 37.5deg,#ffd100 47.0deg,#ff6d00 72.0deg,#ff1800 88.0deg,#ff0000 95.4deg,#8000ff 95.4deg,#1d05ff 126.5deg,#004cff 137.0deg,#00ecff 164.0deg,#00f9f7 167.5deg,#00ffad 175.0deg,#00ff44 183.0deg,#07ff00 191.5deg,#72ff00 201.0deg,#dcf500 213.5deg,#f4ec00 217.5deg,#ffd100 227.0deg,#ff6d00 252.0deg,#ff1800 268.0deg,#ff0000 275.4deg,#8000ff 275.4deg,#1d05ff 306.5deg,#004cff 317.0deg,#00ecff 344.0deg,#00f9f7 347.5deg,#00ffad 355.0deg,#00ff67 360.0deg)"></i><i style="left:17.00px;top:17.00px;width:50.00px;height:50.00px;background:conic-gradient(#00ff6d 0.0deg,#00ff37 5.0deg,#02ff00 11.5deg,#73ff00 21.5deg,#ddf400 34.0deg,#f5ea00 38.5deg,#ffcc00 49.0deg,#ff6e00 72.5deg,#ff1800 88.5deg,#ff0000 96.1deg,#8000ff 96.1deg,#1e04ff 127.0deg,#004bff 137.5deg,#00ecff 164.5deg,#00f9f7 168.0deg,#00ffac 175.5deg,#00ff44 183.5deg,#02ff00 191.5deg,#73ff00 201.5deg,#ddf400 214.0deg,#f5ea00 218.5deg,#ffcc00 229.0deg,#ff6e00 252.5deg,#ff1800 268.5deg,#ff0000 276.1deg,#8000ff 276.1deg,#1e04ff 307.0deg,#004bff 317.5deg,#00ecff 344.5deg,#00f9f7 348.0deg,#00ffac 355.5deg,#00ff6d 360.0deg)"></i><i style="left:18.00px;top:18.00px;width:48.00px;height:48.00px;background:conic-gradient(#00ff73 0.0deg,#00ff3f 4.5deg,#03ff00 12.0deg,#74ff00 22.0deg,#def400 34.5deg,#f6ea00 39.0deg,#ffcb00 50.0deg,#ff6b00 73.5deg,#ff1900 89.0deg,#ff0000 96.8deg,#8000ff 96.8deg,#1d06ff 128.0deg,#004aff 138.0deg,#00ecff 165.0deg,#00f8fb 168.0deg,#00ffb2 175.5deg,#00ff47 183.5deg,#03ff00 192.0deg,#74ff00 202.0deg,#def400 214.5deg,#f6ea00 219.0deg,#ffcb00 230.0deg,#ff6b00 253.5deg,#ff1900 269.0deg,#ff0000 276.8deg,#8000ff 276.8deg,#1d06ff 308.0deg,#004aff 318.0deg,#00ecff 345.0deg,#00f8fb 348.0deg,#00ffb2 355.5deg,#00ff73 360.0deg)"></i><i style="left:19.00px;top:19.00px;width:46.00px;height:46.00px;background:conic-gradient(#00ff78 0.0deg,#00ff3d 5.0deg,#05ff00 12.5deg,#71ff00 22.0deg,#daf500 34.5deg,#f5eb00 39.0deg,#ffce00 49.5deg,#ff6c00 74.0deg,#ff1800 90.0deg,#ff0000 97.5deg,#8000ff 97.5deg,#1e05ff 128.5deg,#004cff 139.0deg,#00ecff 165.5deg,#00f8fb 168.5deg,#00ffb1 176.0deg,#00ff46 184.0deg,#05ff00 192.5deg,#71ff00 202.0deg,#daf500 214.5deg,#f5eb00 219.0deg,#ffce00 229.5deg,#ff6c00 254.0deg,#ff1800 270.0deg,#ff0000 277.5deg,#8000ff 277.5deg,#1e05ff 308.5deg,#004cff 319.0deg,#00ecff 345.5deg,#00f8fb 348.5deg,#00ffb1 356.0deg,#00ff78 360.0deg)"></i><i style="left:20.00px;top:20.00px;width:44.00px;height:44.00px;background:conic-gradient(#00ff7e 0.0deg,#00ff41 5.0deg,#07ff00 13.0deg,#72ff00 22.5deg,#e0f400 35.5deg,#f5eb00 39.5deg,#ffcf00 49.5deg,#ff6d00 74.5deg,#ff1800 90.5deg,#ff0000 98.2deg,#8000ff 98.2deg,#1e03ff 129.0deg,#004bff 139.5deg,#00ecff 166.0deg,#00f9fa 169.0deg,#00ffaf 176.5deg,#00ff45 184.5deg,#07ff00 193.0deg,#72ff00 202.5deg,#e0f400 215.5deg,#f5eb00 219.5deg,#ffcf00 229.5deg,#ff6d00 254.5deg,#ff1800 270.5deg,#ff0000 278.2deg,#8000ff 278.2deg,#1e03ff 309.0deg,#004bff 319.5deg,#00ecff 346.0deg,#00f9fa 349.0deg,#00ffaf 356.5deg,#00ff7e 360.0deg)"></i><i style="left:21.00px;top:21.00px;width:42.00px;height:42.00px;background:conic-gradient(#00ff83 0.0deg,#00ff44 5.0deg,#03ff00 13.0deg,#74ff00 23.0deg,#ddf500 35.5deg,#f5ea00 40.0deg,#ffcf00 50.0deg,#ff6d00 75.0deg,#ff1800 91.5deg,#ff0000 99.0deg,#8000ff 99.0deg,#1e05ff 130.0deg,#004aff 140.0deg,#00edff 166.5deg,#00f9f9 169.5deg,#00ffae 177.0deg,#00ff44 185.0deg,#03ff00 193.0deg,#74ff00 203.0deg,#ddf500 215.5deg,#f5ea00 220.0deg,#ffcf00 230.0deg,#ff6d00 255.0deg,#ff1800 271.5deg,#ff0000 279.0deg,#8000ff 279.0deg,#1e05ff 310.0deg,#004aff 320.0deg,#00edff 346.5deg,#00f9f9 349.5deg,#00ffae 357.0deg,#00ff83 360.0deg)"></i><i style="left:22.00px;top:22.00px;width:40.00px;height:40.00px;background:conic-gradient(#00ff87 0.0deg,#00ff42 5.5deg,#06ff00 13.5deg,#72ff00 23.0deg,#def400 36.0deg,#f6ea00 40.5deg,#ffcd00 51.0deg,#ff6c00 76.0deg,#ff1800 92.0deg,#ff0000 99.8deg,#8000ff 99.8deg,#1f03ff 130.5deg,#004cff 141.0deg,#00edff 167.0deg,#00f9f9 170.0deg,#00ffab 177.5deg,#00ff46 185.0deg,#06ff00 193.5deg,#72ff00 203.0deg,#def400 216.0deg,#f6ea00 220.5deg,#ffcd00 231.0deg,#ff6c00 256.0deg,#ff1800 272.0deg,#ff0000 279.8deg,#8000ff 279.8deg,#1f03ff 310.5deg,#004cff 321.0deg,#00edff 347.0deg,#00f9f9 350.0deg,#00ffab 357.5deg,#00ff87 360.0deg)"></i><i style="left:23.00px;top:23.00px;width:38.00px;height:38.00px;background:conic-gradient(#00ff8c 0.0deg,#00ff44 5.5deg,#03ff00 13.5deg,#74ff00 23.5deg,#dcf500 36.0deg,#f5eb00 40.5deg,#ffce00 51.0deg,#ff6c00 76.5deg,#ff1800 93.0deg,#ff0000 100.7deg,#8000ff 100.7deg,#1e04ff 131.5deg,#004aff 141.5deg,#00edff 167.5deg,#00f9f7 170.5deg,#00ffb0 177.5deg,#00ff44 185.5deg,#03ff00 193.5deg,#74ff00 203.5deg,#dcf500 216.0deg,#f5eb00 220.5deg,#ffce00 231.0deg,#ff6c00 256.5deg,#ff1800 273.0deg,#ff0000 280.7deg,#8000ff 280.7deg,#1e04ff 311.5deg,#004aff 321.5deg,#00edff 347.5deg,#00f9f7 350.5deg,#00ffb0 357.5deg,#00ff8c 360.0deg)"></i><i style="left:24.00px;top:24.00px;width:36.00px;height:36.00px;background:conic-gradient(#00ff8f 0.0deg,#00ff41 6.0deg,#01ff00 13.5deg,#73ff00 23.5deg,#def400 36.5deg,#f5ea00 41.0deg,#ffce00 51.5deg,#ff6d00 77.0deg,#ff1700 94.0deg,#ff0000 101.6deg,#8000ff 101.6deg,#1d05ff 132.5deg,#004cff 142.5deg,#00ebff 167.5deg,#00f8fb 170.5deg,#00ffac 178.0deg,#00ff46 185.5deg,#01ff00 193.5deg,#73ff00 203.5deg,#def400 216.5deg,#f5ea00 221.0deg,#ffce00 231.5deg,#ff6d00 257.0deg,#ff1700 274.0deg,#ff0000 281.6deg,#8000ff 281.6deg,#1d05ff 312.5deg,#004cff 322.5deg,#00ebff 347.5deg,#00f8fb 350.5deg,#00ffac 358.0deg,#00ff8f 360.0deg)"></i><i style="left:25.00px;top:25.00px;width:34.00px;height:34.00px;background:conic-gradient(#00ff92 0.0deg,#00ff43 6.0deg,#06ff00 14.0deg,#72ff00 23.5deg,#dcf500 36.5deg,#f5eb00 41.0deg,#ffcf00 51.5deg,#ff6c00 78.0deg,#ff1800 94.5deg,#ff0000 102.5deg,#8000ff 102.5deg,#1d06ff 133.5deg,#004aff 143.0deg,#00ecff 168.0deg,#00f9f9 171.0deg,#00ffaf 178.0deg,#00ff47 185.5deg,#06ff00 194.0deg,#72ff00 203.5deg,#dcf500 216.5deg,#f5eb00 221.0deg,#ffcf00 231.5deg,#ff6c00 258.0deg,#ff1800 274.5deg,#ff0000 282.5deg,#8000ff 282.5deg,#1d06ff 313.5deg,#004aff 323.0deg,#00ecff 348.0deg,#00f9f9 351.0deg,#00ffaf 358.0deg,#00ff92 360.0deg)"></i><i style="left:26.00px;top:26.00px;width:32.00px;height:32.00px;background:conic-gradient(#00ff97 0.0deg,#00ff46 6.0deg,#02ff00 14.0deg,#73ff00 24.0deg,#ddf400 37.0deg,#f5eb00 41.5deg,#ffcf00 52.0deg,#ff6e00 78.5deg,#ff1900 95.5deg,#ff0000 103.6deg,#8000ff 103.6deg,#1d06ff 134.5deg,#004bff 144.0deg,#00ecff 168.5deg,#00f9f8 171.5deg,#00ffae 178.5deg,#00ff46 186.0deg,#02ff00 194.0deg,#73ff00 204.0deg,#ddf400 217.0deg,#f5eb00 221.5deg,#ffcf00 232.0deg,#ff6e00 258.5deg,#ff1900 275.5deg,#ff0000 283.6deg,#8000ff 283.6deg,#1d06ff 314.5deg,#004bff 324.0deg,#00ecff 348.5deg,#00f9f8 351.5deg,#00ffae 358.5deg,#00ff97 360.0deg)"></i><i style="left:27.00px;top:27.00px;width:30.00px;height:30.00px;background:conic-gradient(#00ff9c 0.0deg,#00ff44 6.5deg,#04ff00 14.5deg,#70ff00 24.0deg,#ddf400 37.5deg,#f5eb00 42.0deg,#ffd000 52.5deg,#ff6e00 79.5deg,#ff1700 97.0deg,#ff0000 104.7deg,#8000ff 104.7deg,#1d06ff 135.5deg,#004cff 145.0deg,#00ecff 169.0deg,#00f9f8 172.0deg,#00ffac 179.0deg,#00ff44 186.5deg,#04ff00 194.5deg,#70ff00 204.0deg,#ddf400 217.5deg,#f5eb00 222.0deg,#ffd000 232.5deg,#ff6e00 259.5deg,#ff1700 277.0deg,#ff0000 284.7deg,#8000ff 284.7deg,#1d06ff 315.5deg,#004cff 325.0deg,#00ecff 349.0deg,#00f9f8 352.0deg,#00ffac 359.0deg,#00ff9c 360.0deg)"></i><i style="left:28.00px;top:28.00px;width:28.00px;height:28.00px;background:conic-gradient(#00ff9e 0.0deg,#00ff45 6.5deg,#03ff00 14.5deg,#73ff00 24.5deg,#dbf500 37.5deg,#f5eb00 42.5deg,#ffce00 53.5deg,#ff6d00 80.5deg,#ff1800 98.0deg,#ff0000 105.9deg,#8000ff 105.9deg,#1d05ff 136.5deg,#0049ff 145.5deg,#00ebff 169.0deg,#00f9fa 172.0deg,#00ffae 179.0deg,#00ff45 186.5deg,#03ff00 194.5deg,#73ff00 204.5deg,#dbf500 217.5deg,#f5eb00 222.5deg,#ffce00 233.5deg,#ff6d00 260.5deg,#ff1800 278.0deg,#ff0000 285.9deg,#8000ff 285.9deg,#1d05ff 316.5deg,#0049ff 325.5deg,#00ebff 349.0deg,#00f9fa 352.0deg,#00ffae 359.0deg,#00ff9e 360.0deg)"></i><i style="left:29.00px;top:29.00px;width:26.00px;height:26.00px;background:conic-gradient(#00ff9c 0.0deg,#00ff47 6.0deg,#06ff00 14.5deg,#70ff00 24.0deg,#dbf500 37.5deg,#f5eb00 42.5deg,#ffcf00 53.5deg,#ff6d00 81.5deg,#ff1700 99.5deg,#ff0000 107.2deg,#8000ff 107.2deg,#1e04ff 137.5deg,#004aff 146.5deg,#00edff 169.5deg,#00f8fb 172.0deg,#00ffac 179.0deg,#00ff47 186.0deg,#06ff00 194.5deg,#70ff00 204.0deg,#dbf500 217.5deg,#f5eb00 222.5deg,#ffcf00 233.5deg,#ff6d00 261.5deg,#ff1700 279.5deg,#ff0000 287.2deg,#8000ff 287.2deg,#1e04ff 317.5deg,#004aff 326.5deg,#00edff 349.5deg,#00f8fb 352.0deg,#00ffac 359.0deg,#00ff9c 360.0deg)"></i><i style="left:30.00px;top:30.00px;width:24.00px;height:24.00px;background:conic-gradient(#00ff96 0.0deg,#00ff47 5.5deg,#01ff00 13.5deg,#70ff00 23.5deg,#dcf500 37.5deg,#f5eb00 42.5deg,#ffce00 54.0deg,#ff6d00 82.5deg,#ff1800 100.5deg,#ff0000 108.7deg,#8000ff 108.7deg,#1d05ff 139.0deg,#004aff 147.5deg,#00edff 169.5deg,#00f9f9 172.0deg,#00ffae 178.5deg,#00ff47 185.5deg,#01ff00 193.5deg,#70ff00 203.5deg,#dcf500 217.5deg,#f5eb00 222.5deg,#ffce00 234.0deg,#ff6d00 262.5deg,#ff1800 280.5deg,#ff0000 288.7deg,#8000ff 288.7deg,#1d05ff 319.0deg,#004aff 327.5deg,#00edff 349.5deg,#00f9f9 352.0deg,#00ffae 358.5deg,#00ff96 360.0deg)"></i><i style="left:31.00px;top:31.00px;width:22.00px;height:22.00px;background:conic-gradient(#00ff89 0.0deg,#00ff43 5.0deg,#07ff00 13.0deg,#6fff00 22.5deg,#dcf500 37.0deg,#f5eb00 42.0deg,#ffd000 53.5deg,#ff6d00 83.5deg,#ff1700 102.5deg,#ff0000 110.6deg,#8000ff 110.6deg,#1e04ff 140.5deg,#004bff 149.0deg,#00ecff 169.0deg,#00f9fa 171.5deg,#00ffaa 178.0deg,#00ff48 184.5deg,#01ff00 192.5deg,#6fff00 202.5deg,#dcf500 217.0deg,#f5eb00 222.0deg,#ffd000 233.5deg,#ff6d00 263.5deg,#ff1700 282.5deg,#ff0000 290.6deg,#8000ff 290.6deg,#1e04ff 320.5deg,#004bff 329.0deg,#00ecff 349.0deg,#00f9fa 351.5deg,#00ffaa 358.0deg,#00ff89 360.0deg)"></i><i style="left:32.00px;top:32.00px;width:20.00px;height:20.00px;background:conic-gradient(#00ff72 0.0deg,#00ff3e 4.0deg,#02ff00 11.0deg,#6fff00 21.0deg,#def400 36.5deg,#f6ea00 42.0deg,#ffcb00 55.5deg,#ff6d00 85.0deg,#ff1800 104.5deg,#ff0000 113.0deg,#8000ff 113.0deg,#2300ff 141.5deg,#0a2bff 147.0deg,#0057ff 152.0deg,#00e9ff 168.0deg,#00f9f6 171.0deg,#00ffae 176.5deg,#00ff48 183.0deg,#02ff00 191.0deg,#6fff00 201.0deg,#def400 216.5deg,#f6ea00 222.0deg,#ffcb00 235.5deg,#ff6d00 265.0deg,#ff1800 284.5deg,#ff0000 293.0deg,#8000ff 293.0deg,#2300ff 321.5deg,#0a2bff 327.0deg,#0057ff 332.0deg,#00e9ff 348.0deg,#00f9f6 351.0deg,#00ffae 356.5deg,#00ff72 360.0deg)"></i><i style="left:33.00px;top:33.00px;width:18.00px;height:18.00px;background:conic-gradient(#00ff4c 0.0deg,#04ff00 8.5deg,#6eff00 18.5deg,#dbf500 34.5deg,#f4ec00 40.0deg,#ffd000 53.0deg,#ff6e00 86.5deg,#ff1800 107.5deg,#ff0000 116.4deg,#8000ff 116.4deg,#2d00ff 142.5deg,#1d07ff 146.0deg,#004bff 152.5deg,#00e9ff 167.0deg,#00f9f7 169.5deg,#00ffad 174.5deg,#00ff47 180.5deg,#04ff00 188.5deg,#6eff00 198.5deg,#dbf500 214.5deg,#f4ec00 220.0deg,#ffd000 233.0deg,#ff6e00 266.5deg,#ff1800 287.5deg,#ff0000 296.4deg,#8000ff 296.4deg,#2d00ff 322.5deg,#1d07ff 326.0deg,#004bff 332.5deg,#00e9ff 347.0deg,#00f9f7 349.5deg,#00ffad 354.5deg,#00ff4c 360.0deg)"></i><i style="left:34.00px;top:34.00px;width:16.00px;height:16.00px;background:conic-gradient(#00ff1e 0.0deg,#07ff00 4.0deg,#6bff00 14.0deg,#dbf500 32.0deg,#f5eb00 38.5deg,#ffcf00 53.0deg,#ff6e00 89.0deg,#ff1700 112.0deg,#ff0000 121.5deg,#8000ff 121.5deg,#3900ff 145.0deg,#1e03ff 150.0deg,#0049ff 155.0deg,#00a9ff 161.0deg,#00ebff 165.5deg,#00f9f9 167.0deg,#00ffa0 171.5deg,#00ff48 176.0deg,#07ff00 184.0deg,#6bff00 194.0deg,#dbf500 212.0deg,#f5eb00 218.5deg,#ffcf00 233.0deg,#ff6e00 269.0deg,#ff1700 292.0deg,#ff0000 301.5deg,#8000ff 301.5deg,#3900ff 325.0deg,#1e03ff 330.0deg,#0049ff 335.0deg,#00a9ff 341.0deg,#00ebff 345.5deg,#00f9f9 347.0deg,#00ffa0 351.5deg,#00ff48 356.0deg,#00ff1e 360.0deg)"></i><i style="left:35.00px;top:35.00px;width:14.00px;height:14.00px;background:conic-gradient(#44ff00 0.0deg,#86ff00 10.5deg,#f2ee00 33.0deg,#ffd300 49.5deg,#ff6d00 92.5deg,#ff1700 119.0deg,#ff0000 130.5deg,#8000ff 130.5deg,#4900ff 152.0deg,#2200ff 157.0deg,#0731ff 158.5deg,#0076ff 160.0deg,#00d0ff 161.5deg,#00f6ff 162.5deg,#00ff6f 165.5deg,#00ff45 167.0deg,#00ff05 172.5deg,#6bff00 185.5deg,#dbf500 207.5deg,#f5eb00 215.0deg,#ffd000 231.5deg,#ff6d00 272.5deg,#ff1700 299.0deg,#ff0000 310.5deg,#8000ff 310.5deg,#4900ff 332.0deg,#2200ff 337.0deg,#0731ff 338.5deg,#0076ff 340.0deg,#00d0ff 341.5deg,#00f6ff 342.5deg,#00ff6f 345.5deg,#00ff45 347.0deg,#00ff05 352.5deg,#44ff00 360.0deg)"></i><i style="left:36.00px;top:36.00px;width:12.00px;height:12.00px;background:conic-gradient(#b9fd00 0.0deg,#dcf500 17.5deg,#f5ea00 29.0deg,#ffcc00 51.5deg,#ff6b00 99.0deg,#ff1d00 131.5deg,#ff1e00 149.0deg,#ff3f00 154.0deg,#ffd100 163.5deg,#eff000 168.0deg,#c6fa00 173.0deg,#bafd00 182.0deg,#ebf100 202.5deg,#ffd700 224.0deg,#ff6d00 278.0deg,#ff1d00 311.5deg,#ff1e00 329.0deg,#ff3f00 334.0deg,#ffd100 343.5deg,#eff000 348.0deg,#c6fa00 353.0deg,#b9fd00 360.0deg)"></i><i style="left:37.00px;top:37.00px;width:10.00px;height:10.00px;background:conic-gradient(#fde200 0.0deg,#ffdd00 30.0deg,#ffa200 76.0deg,#ff5600 128.5deg,#ff6300 143.5deg,#ffd400 171.5deg,#fae600 190.5deg,#ffc500 233.0deg,#ff5600 308.0deg,#ff6300 323.5deg,#ffd400 351.5deg,#fde200 360.0deg)"></i><i style="left:38.00px;top:38.00px;width:8.00px;height:8.00px;background:conic-gradient(#ffcb00 0.0deg,#ffcc00 35.5deg,#ff8300 120.0deg,#ff9100 146.5deg,#ffcd00 182.5deg,#ffc900 220.0deg,#ff8300 299.5deg,#ff9100 326.5deg,#ffcb00 360.0deg)"></i><i style="left:39.00px;top:39.00px;width:6.00px;height:6.00px;background:conic-gradient(#ffbc00 0.0deg,#ffbc00 44.0deg,#ff9800 123.0deg,#ffc200 203.0deg,#ff9800 305.0deg,#ffbc00 360.0deg)"></i><i style="left:40.00px;top:40.00px;width:4.00px;height:4.00px;background:conic-gradient(#ffb300 0.0deg,#ffab00 148.0deg,#ffb300 231.0deg,#ffaa00 322.5deg,#ffb300 360.0deg)"></i><i style="left:41.00px;top:41.00px;width:2.00px;height:2.00px;background:conic-gradient(#ffb000 0.0deg,#ffb000 360.0deg)"></i></div>
<div class="p" style="left:459.20px;top:150.90px;width:84.00px;height:84.00px"><i style="left:-18.00px;top:-18.00px;width:120.00px;height:120.00px;background:conic-gradient(#5c00ff 0.0deg,#4f00ff 18.5deg,#4300ff 28.0deg,#5000ff 43.0deg,#3300ff 56.0deg,#1d06ff 60.0deg,#0049ff 66.5deg,#00a9ff 78.5deg,#00f7ff 85.5deg,#00ffb3 89.5deg,#00ff46 93.5deg,#01ff00 97.5deg,#71ff00 102.0deg,#e6f200 108.5deg,#ffdd00 112.5deg,#ff8100 127.0deg,#ffb200 136.5deg,#ff6000 150.0deg,#ff1d00 160.5deg,#ff0100 174.0deg,#ff0000 174.6deg,#8000ff 174.6deg,#5800ff 181.5deg,#5100ff 197.5deg,#4300ff 208.0deg,#5000ff 223.0deg,#3300ff 236.0deg,#1d06ff 240.0deg,#0049ff 246.5deg,#00a9ff 258.5deg,#00f7ff 265.5deg,#00ffb3 269.5deg,#00ff46 273.5deg,#01ff00 277.5deg,#71ff00 282.0deg,#e6f200 288.5deg,#ffdd00 292.5deg,#ff8100 307.0deg,#ffb200 316.5deg,#ff6000 330.0deg,#ff1d00 340.5deg,#ff0100 354.0deg,#ff0000 354.6deg,#8000ff 354.6deg,#5c00ff 360.0deg)"></i><i style="left:-17.00px;top:-17.00px;width:118.00px;height:118.00px;background:conic-gradient(#5c00ff 0.0deg,#4e00ff 18.5deg,#4300ff 28.0deg,#5000ff 43.0deg,#3300ff 56.0deg,#1d06ff 60.0deg,#0049ff 66.5deg,#00a9ff 78.5deg,#00f7ff 85.5deg,#00ffb2 89.5deg,#00ff46 93.5deg,#02ff00 97.5deg,#71ff00 102.0deg,#e6f200 108.5deg,#ffdd00 112.5deg,#ff8100 127.0deg,#ffb200 136.5deg,#ff6000 150.0deg,#ff1d00 160.5deg,#ff0100 174.0deg,#ff0000 174.5deg,#8000ff 174.5deg,#5800ff 181.5deg,#5100ff 197.5deg,#4300ff 208.0deg,#5000ff 223.0deg,#3300ff 236.0deg,#1d06ff 240.0deg,#0049ff 246.5deg,#00a9ff 258.5deg,#00f7ff 265.5deg,#00ffb2 269.5deg,#00ff46 273.5deg,#02ff00 277.5deg,#71ff00 282.0deg,#e6f200 288.5deg,#ffdd00 292.5deg,#ff8100 307.0deg,#ffb200 316.5deg,#ff6000 330.0deg,#ff1d00 340.5deg,#ff0100 354.0deg,#ff0000 354.5deg,#8000ff 354.5deg,#5c00ff 360.0deg)"></i><i style="left:-16.00px;top:-16.00px;width:116.00px;height:116.00px;background:conic-gradient(#5b00ff 0.0deg,#4e00ff 18.5deg,#4300ff 28.0deg,#5000ff 43.0deg,#3000ff 56.5deg,#1d06ff 60.0deg,#004aff 66.5deg,#00a9ff 78.5deg,#00f7ff 85.5deg,#00ffb2 89.5deg,#00ff46 93.5deg,#02ff00 97.5deg,#72ff00 102.0deg,#e7f200 108.5deg,#ffdd00 112.5deg,#ff8100 127.0deg,#ffb200 136.5deg,#ff6000 150.0deg,#ff1d00 160.5deg,#ff0100 174.0deg,#ff0000 174.5deg,#8000ff 174.5deg,#5800ff 181.5deg,#5000ff 197.5deg,#4300ff 208.0deg,#5000ff 223.0deg,#3000ff 236.5deg,#1d06ff 240.0deg,#004aff 246.5deg,#00a9ff 258.5deg,#00f7ff 265.5deg,#00ffb2 269.5deg,#00ff46 273.5deg,#02ff00 277.5deg,#72ff00 282.0deg,#e7f200 288.5deg,#ffdd00 292.5deg,#ff8100 307.0deg,#ffb200 316.5deg,#ff6000 330.0deg,#ff1d00 340.5deg,#ff0100 354.0deg,#ff0000 354.5deg,#8000ff 354.5deg,#5b00ff 360.0deg)"></i><i style="left:-15.00px;top:-15.00px;width:114.00px;height:114.00px;background:conic-gradient(#5b00ff 0.0deg,#4e00ff 18.5deg,#4300ff 28.0deg,#5000ff 43.0deg,#3000ff 56.5deg,#1d07ff 60.0deg,#004aff 66.5deg,#00a9ff 78.5deg,#00f7ff 85.5deg,#00ffb1 89.5deg,#00ff46 93.5deg,#02ff00 97.5deg,#72ff00 102.0deg,#e7f200 108.5deg,#ffdd00 112.5deg,#ff8100 127.0deg,#ffb200 136.5deg,#ff6000 150.0deg,#ff1d00 160.5deg,#ff0100 174.0deg,#ff0000 174.5deg,#8000ff 174.5deg,#5800ff 181.5deg,#5000ff 197.5deg,#4300ff 208.0deg,#5000ff 223.0deg,#3000ff 236.5deg,#1d07ff 240.0deg,#004aff 246.5deg,#00a9ff 258.5deg,#00f7ff 265.5deg,#00ffb1 269.5deg,#00ff46 273.5deg,#02ff00 277.5deg,#72ff00 282.0deg,#e7f200 288.5deg,#ffdd00 292.5deg,#ff8100 307.0deg,#ffb200 316.5deg,#ff6000 330.0deg,#ff1d00 340.5deg,#ff0100 354.0deg,#ff0000 354.5deg,#8000ff 354.5deg,#5b00ff 360.0deg)"></i><i style="left:-14.00px;top:-14.00px;width:112.00px;height:112.00px;background:conic-gradient(#5b00ff 0.0deg,#4f00ff 18.0deg,#4300ff 28.0deg,#5000ff 43.0deg,#3000ff 56.5deg,#1c07ff 60.0deg,#004aff 66.5deg,#00aaff 78.5deg,#00f7ff 85.5deg,#00ffb1 89.5deg,#00ff45 93.5deg,#03ff00 97.5deg,#72ff00 102.0deg,#e7f200 108.5deg,#ffdc00 112.5deg,#ff8100 127.0deg,#ffb200 136.5deg,#ff6000 150.0deg,#ff1f00 160.0deg,#ff0100 173.5deg,#ff0000 174.5deg,#8000ff 174.5deg,#5800ff 181.5deg,#5000ff 197.5deg,#4300ff 208.0deg,#5000ff 223.0deg,#3000ff 236.5deg,#1c07ff 240.0deg,#004aff 246.5deg,#00aaff 258.5deg,#00f7ff 265.5deg,#00ffb1 269.5deg,#00ff45 273.5deg,#03ff00 277.5deg,#72ff00 282.0deg,#e7f200 288.5deg,#ffdc00 292.5deg,#ff8100 307.0deg,#ffb200 316.5deg,#ff6000 330.0deg,#ff1f00 340.0deg,#ff0100 353.5deg,#ff0000 354.5deg,#8000ff 354.5deg,#5b00ff 360.0deg)"></i><i style="left:-13.00px;top:-13.00px;width:110.00px;height:110.00px;background:conic-gradient(#5b00ff 0.0deg,#4f00ff 18.0deg,#4300ff 28.0deg,#5000ff 43.0deg,#3000ff 56.5deg,#1c07ff 60.0deg,#0047ff 66.0deg,#00aaff 78.5deg,#00f7ff 85.5deg,#00ffb0 89.5deg,#00ff45 93.5deg,#03ff00 97.5deg,#72ff00 102.0deg,#e7f200 108.5deg,#ffdc00 112.5deg,#ff8100 127.0deg,#ffb200 136.5deg,#ff5f00 150.0deg,#ff1e00 160.0deg,#ff0100 173.5deg,#ff0000 174.5deg,#8000ff 174.5deg,#5800ff 181.5deg,#5000ff 197.5deg,#4200ff 207.5deg,#5000ff 222.5deg,#3800ff 235.0deg,#1c07ff 240.0deg,#0047ff 246.0deg,#00aaff 258.5deg,#00f7ff 265.5deg,#00ffb0 269.5deg,#00ff45 273.5deg,#03ff00 277.5deg,#72ff00 282.0deg,#e7f200 288.5deg,#ffdc00 292.5deg,#ff8100 307.0deg,#ffb200 316.5deg,#ff5f00 330.0deg,#ff1e00 340.0deg,#ff0100 353.5deg,#ff0000 354.5deg,#8000ff 354.5deg,#5b00ff 360.0deg)"></i><i style="left:-12.00px;top:-12.00px;width:108.00px;height:108.00px;background:conic-gradient(#5a00ff 0.0deg,#4f00ff 18.0deg,#4200ff 27.5deg,#5000ff 42.5deg,#3500ff 55.5deg,#1f02ff 59.5deg,#0047ff 66.0deg,#00a4ff 78.0deg,#00f8ff 85.5deg,#00ffb0 89.5deg,#00ff45 93.5deg,#03ff00 97.5deg,#73ff00 102.0deg,#e7f200 108.5deg,#ffd900 113.0deg,#ff8200 127.0deg,#ffb200 136.5deg,#ff5f00 150.0deg,#ff1e00 160.0deg,#ff0200 173.0deg,#ff0000 174.4deg,#8000ff 174.4deg,#5800ff 181.5deg,#5000ff 197.5deg,#4200ff 207.5deg,#5000ff 222.5deg,#3500ff 235.5deg,#1f02ff 239.5deg,#0047ff 246.0deg,#00a4ff 258.0deg,#00f8ff 265.5deg,#00ffb0 269.5deg,#00ff45 273.5deg,#03ff00 277.5deg,#73ff00 282.0deg,#e7f200 288.5deg,#ffd900 293.0deg,#ff8200 307.0deg,#ffb200 316.5deg,#ff5f00 330.0deg,#ff1e00 340.0deg,#ff0200 353.0deg,#ff0000 354.4deg,#8000ff 354.4deg,#5a00ff 360.0deg)"></i><i style="left:-11.00px;top:-11.00px;width:106.00px;height:106.00px;background:conic-gradient(#5a00ff 0.0deg,#4f00ff 18.0deg,#4200ff 27.5deg,#5000ff 42.5deg,#3500ff 55.5deg,#1f03ff 59.5deg,#0047ff 66.0deg,#00a4ff 78.0deg,#00f8ff 85.5deg,#00ffb0 89.5deg,#00ff45 93.5deg,#03ff00 97.5deg,#73ff00 102.0deg,#e7f200 108.5deg,#ffd900 113.0deg,#ff8200 127.0deg,#ffb200 136.5deg,#ff5f00 150.0deg,#ff1e00 160.0deg,#ff0200 173.0deg,#ff0000 174.3deg,#8000ff 174.3deg,#5800ff 181.5deg,#5000ff 197.5deg,#4200ff 207.5deg,#5000ff 222.5deg,#3500ff 235.5deg,#1f03ff 239.5deg,#0047ff 246.0deg,#00a4ff 258.0deg,#00f8ff 265.5deg,#00ffb0 269.5deg,#00ff45 273.5deg,#03ff00 277.5deg,#73ff00 282.0deg,#e7f200 288.5deg,#ffd900 293.0deg,#ff8200 307.0deg,#ffb200 316.5deg,#ff5f00 330.0deg,#ff1e00 340.0deg,#ff0200 353.0deg,#ff0000 354.3deg,#8000ff 354.3deg,#5a00ff 360.0deg)"></i><i style="left:-10.00px;top:-10.00px;width:104.00px;height:104.00px;background:conic-gradient(#5a00ff 0.0deg,#5000ff 17.5deg,#4200ff 27.5deg,#5000ff 42.5deg,#3500ff 55.5deg,#1e03ff 59.5deg,#0047ff 66.0deg,#00a4ff 78.0deg,#00f3ff 85.0deg,#00f9f6 86.0deg,#00ffaf 89.5deg,#00ff45 93.5deg,#04ff00 97.5deg,#73ff00 102.0deg,#e7f200 108.5deg,#ffd900 113.0deg,#ff8200 127.0deg,#ffb200 136.5deg,#ff5f00 150.0deg,#ff1e00 160.0deg,#ff0200 173.0deg,#ff0000 174.2deg,#8000ff 174.2deg,#5800ff 181.0deg,#5000ff 197.5deg,#4200ff 207.5deg,#5000ff 222.5deg,#3500ff 235.5deg,#1e03ff 239.5deg,#0047ff 246.0deg,#00a4ff 258.0deg,#00f3ff 265.0deg,#00f9f6 266.0deg,#00ffaf 269.5deg,#00ff45 273.5deg,#04ff00 277.5deg,#73ff00 282.0deg,#e7f200 288.5deg,#ffd900 293.0deg,#ff8200 307.0deg,#ffb200 316.5deg,#ff5f00 330.0deg,#ff1e00 340.0deg,#ff0200 353.0deg,#ff0000 354.2deg,#8000ff 354.2deg,#5a00ff 360.0deg)"></i><i style="left:-9.00px;top:-9.00px;width:102.00px;height:102.00px;background:conic-gradient(#5900ff 0.0deg,#5000ff 17.5deg,#4200ff 27.5deg,#5000ff 42.5deg,#3400ff 55.5deg,#1e03ff 59.5deg,#0047ff 66.0deg,#00a4ff 78.0deg,#00f3ff 85.0deg,#00f9f6 86.0deg,#00ffaf 89.5deg,#00ff44 93.5deg,#04ff00 97.5deg,#73ff00 102.0deg,#e7f200 108.5deg,#ffd900 113.0deg,#ff8200 127.0deg,#ffb200 136.5deg,#ff5f00 150.0deg,#ff1e00 160.0deg,#ff0200 173.0deg,#ff0000 174.2deg,#8000ff 174.2deg,#5800ff 181.0deg,#5000ff 197.5deg,#4200ff 207.5deg,#5000ff 222.5deg,#3400ff 235.5deg,#1e03ff 239.5deg,#0047ff 246.0deg,#00a4ff 258.0deg,#00f3ff 265.0deg,#00f9f6 266.0deg,#00ffaf 269.5deg,#00ff44 273.5deg,#04ff00 277.5deg,#73ff00 282.0deg,#e7f200 288.5deg,#ffd900 293.0deg,#ff8200 307.0deg,#ffb200 316.5deg,#ff5f00 330.0deg,#ff1e00 340.0deg,#ff0200 353.0deg,#ff0000 354.2deg,#8000ff 354.2deg,#5900ff 360.0deg)"></i><i style="left:-8.00px;top:-8.00px;width:100.00px;height:100.00px;background:conic-gradient(#5900ff 0.0deg,#5000ff 17.5deg,#4200ff 27.5deg,#5000ff 42.5deg,#3400ff 55.5deg,#1e04ff 59.5deg,#0048ff 66.0deg,#00a5ff 78.0deg,#00f3ff 85.0deg,#00faec 86.5deg,#00ffaf 89.5deg,#00ff44 93.5deg,#04ff00 97.5deg,#73ff00 102.0deg,#dff400 108.0deg,#f5eb00 110.0deg,#ffcd00 115.0deg,#ff8200 127.0deg,#ffb200 136.5deg,#ff5f00 150.0deg,#ff1e00 160.0deg,#ff0200 173.0deg,#ff0000 174.1deg,#8000ff 174.1deg,#5800ff 181.0deg,#5100ff 197.0deg,#4200ff 207.5deg,#5000ff 222.5deg,#3400ff 235.5deg,#1e04ff 239.5deg,#0048ff 246.0deg,#00a5ff 258.0deg,#00f3ff 265.0deg,#00faec 266.5deg,#00ffaf 269.5deg,#00ff44 273.5deg,#04ff00 277.5deg,#73ff00 282.0deg,#dff400 288.0deg,#f5eb00 290.0deg,#ffcd00 295.0deg,#ff8200 307.0deg,#ffb200 316.5deg,#ff5f00 330.0deg,#ff1e00 340.0deg,#ff0200 353.0deg,#ff0000 354.1deg,#8000ff 354.1deg,#5900ff 360.0deg)"></i><i style="left:-7.00px;top:-7.00px;width:98.00px;height:98.00px;background:conic-gradient(#5900ff 0.0deg,#5000ff 17.5deg,#4300ff 27.5deg,#5000ff 42.5deg,#3400ff 55.5deg,#1e04ff 59.5deg,#0048ff 66.0deg,#00a5ff 78.0deg,#00f4ff 85.0deg,#00faec 86.5deg,#00ffae 89.5deg,#00ff44 93.5deg,#04ff00 97.5deg,#73ff00 102.0deg,#dff400 108.0deg,#f5eb00 110.0deg,#ffcd00 115.0deg,#ff8200 127.0deg,#ffb200 136.5deg,#ff5e00 150.0deg,#ff1e00 160.0deg,#ff0200 173.0deg,#ff0000 174.1deg,#8000ff 174.1deg,#5800ff 181.0deg,#5100ff 197.0deg,#4300ff 207.5deg,#5000ff 222.5deg,#3400ff 235.5deg,#1e04ff 239.5deg,#0048ff 246.0deg,#00a5ff 258.0deg,#00f4ff 265.0deg,#00faec 266.5deg,#00ffae 269.5deg,#00ff44 273.5deg,#04ff00 277.5deg,#73ff00 282.0deg,#dff400 288.0deg,#f5eb00 290.0deg,#ffcd00 295.0deg,#ff8200 307.0deg,#ffb200 316.5deg,#ff5e00 330.0deg,#ff1e00 340.0deg,#ff0200 353.0deg,#ff0000 354.1deg,#8000ff 354.1deg,#5900ff 360.0deg)"></i><i style="left:-6.00px;top:-6.00px;width:96.00px;height:96.00px;background:conic-gradient(#5800ff 0.0deg,#5000ff 17.0deg,#4300ff 27.5deg,#5000ff 42.5deg,#3100ff 56.0deg,#1e05ff 59.5deg,#0048ff 66.0deg,#00a5ff 78.0deg,#00f4ff 85.0deg,#00faec 86.5deg,#00ffae 89.5deg,#00ff44 93.5deg,#04ff00 97.5deg,#73ff00 102.0deg,#dff400 108.0deg,#f5eb00 110.0deg,#ffcd00 115.0deg,#ff8200 127.0deg,#ffb100 136.5deg,#ff6200 149.5deg,#ff1e00 160.0deg,#ff0100 173.0deg,#ff0000 174.1deg,#8000ff 174.1deg,#5800ff 181.0deg,#5000ff 197.0deg,#4300ff 207.5deg,#5000ff 222.5deg,#3100ff 236.0deg,#1e05ff 239.5deg,#0048ff 246.0deg,#00a5ff 258.0deg,#00f4ff 265.0deg,#00faec 266.5deg,#00ffae 269.5deg,#00ff44 273.5deg,#04ff00 277.5deg,#73ff00 282.0deg,#dff400 288.0deg,#f5eb00 290.0deg,#ffcd00 295.0deg,#ff8200 307.0deg,#ffb100 316.5deg,#ff6200 329.5deg,#ff1e00 340.0deg,#ff0100 353.0deg,#ff0000 354.1deg,#8000ff 354.1deg,#5800ff 360.0deg)"></i><i style="left:-5.00px;top:-5.00px;width:94.00px;height:94.00px;background:conic-gradient(#5800ff 0.0deg,#5000ff 17.0deg,#4300ff 27.5deg,#5000ff 42.5deg,#3100ff 56.0deg,#1e05ff 59.5deg,#0048ff 66.0deg,#00a5ff 78.0deg,#00f4ff 85.0deg,#00faec 86.5deg,#00ffae 89.5deg,#00ff44 93.5deg,#04ff00 97.5deg,#73ff00 102.0deg,#e7f200 108.5deg,#ffd900 113.0deg,#ff8200 127.0deg,#ffb100 136.5deg,#ff6200 149.5deg,#ff1e00 160.0deg,#ff0100 173.0deg,#ff0000 174.0deg,#8000ff 174.0deg,#5800ff 181.0deg,#5000ff 197.0deg,#4300ff 207.5deg,#5000ff 222.5deg,#3100ff 236.0deg,#1e05ff 239.5deg,#0048ff 246.0deg,#00a5ff 258.0deg,#00f4ff 265.0deg,#00faec 266.5deg,#00ffae 269.5deg,#00ff44 273.5deg,#04ff00 277.5deg,#73ff00 282.0deg,#e7f200 288.5deg,#ffd900 293.0deg,#ff8200 307.0deg,#ffb100 316.5deg,#ff6200 329.5deg,#ff1e00 340.0deg,#ff0100 353.0deg,#ff0000 354.0deg,#8000ff 354.0deg,#5800ff 360.0deg)"></i><i style="left:-4.00px;top:-4.00px;width:92.00px;height:92.00px;background:conic-gradient(#5800ff 0.0deg,#5000ff 17.0deg,#4300ff 27.5deg,#5000ff 42.5deg,#3100ff 56.0deg,#1d05ff 59.5deg,#0048ff 66.0deg,#00a6ff 78.0deg,#00f4ff 85.0deg,#00faec 86.5deg,#00ffae 89.5deg,#00ff44 93.5deg,#04ff00 97.5deg,#73ff00 102.0deg,#e7f200 108.5deg,#ffd900 113.0deg,#ff8200 127.0deg,#ffb100 136.5deg,#ff6200 149.5deg,#ff1e00 160.0deg,#ff0100 173.0deg,#ff0000 174.0deg,#8000ff 174.0deg,#5800ff 181.0deg,#5000ff 197.0deg,#4300ff 207.5deg,#5000ff 222.5deg,#3100ff 236.0deg,#1d05ff 239.5deg,#0048ff 246.0deg,#00a6ff 258.0deg,#00f4ff 265.0deg,#00faec 266.5deg,#00ffae 269.5deg,#00ff44 273.5deg,#04ff00 277.5deg,#73ff00 282.0deg,#e7f200 288.5deg,#ffd900 293.0deg,#ff8200 307.0deg,#ffb100 316.5deg,#ff6200 329.5deg,#ff1e00 340.0deg,#ff0100 353.0deg,#ff0000 354.0deg,#8000ff 354.0deg,#5800ff 360.0deg)"></i><i style="left:-3.00px;top:-3.00px;width:90.00px;height:90.00px;background:conic-gradient(#5800ff 0.0deg,#5000ff 17.0deg,#4200ff 27.0deg,#5000ff 42.0deg,#3600ff 55.0deg,#1d06ff 59.5deg,#0049ff 66.0deg,#00a6ff 78.0deg,#00f4ff 85.0deg,#00faec 86.5deg,#00ffae 89.5deg,#00ff44 93.5deg,#04ff00 97.5deg,#73ff00 102.0deg,#e7f200 108.5deg,#ffd900 113.0deg,#ff8200 127.0deg,#ffb100 136.5deg,#ff6200 149.5deg,#ff1e00 160.0deg,#ff0100 173.5deg,#ff0000 174.0deg,#8000ff 174.0deg,#5800ff 181.0deg,#5000ff 197.0deg,#4200ff 207.0deg,#5000ff 222.0deg,#3600ff 235.0deg,#1d06ff 239.5deg,#0049ff 246.0deg,#00a6ff 258.0deg,#00f4ff 265.0deg,#00faec 266.5deg,#00ffae 269.5deg,#00ff44 273.5deg,#04ff00 277.5deg,#73ff00 282.0deg,#e7f200 288.5deg,#ffd900 293.0deg,#ff8200 307.0deg,#ffb100 316.5deg,#ff6200 329.5deg,#ff1e00 340.0deg,#ff0100 353.5deg,#ff0000 354.0deg,#8000ff 354.0deg,#5800ff 360.0deg)"></i><i style="left:-2.00px;top:-2.00px;width:88.00px;height:88.00px;background:conic-gradient(#5800ff 0.0deg,#5000ff 17.0deg,#4200ff 27.0deg,#5000ff 42.5deg,#3000ff 56.0deg,#1d06ff 59.5deg,#0049ff 66.0deg,#00a6ff 78.0deg,#00f4ff 85.0deg,#00fbe2 87.0deg,#00ffae 89.5deg,#00ff44 93.5deg,#04ff00 97.5deg,#73ff00 102.0deg,#e7f200 108.5deg,#ffd900 113.0deg,#ff8200 127.0deg,#ffb100 136.5deg,#ff6200 149.5deg,#ff1d00 160.0deg,#ff0100 173.5deg,#ff0000 174.0deg,#8000ff 174.0deg,#5800ff 181.0deg,#5000ff 197.0deg,#4200ff 207.0deg,#5000ff 222.5deg,#3000ff 236.0deg,#1d06ff 239.5deg,#0049ff 246.0deg,#00a6ff 258.0deg,#00f4ff 265.0deg,#00fbe2 267.0deg,#00ffae 269.5deg,#00ff44 273.5deg,#04ff00 277.5deg,#73ff00 282.0deg,#e7f200 288.5deg,#ffd900 293.0deg,#ff8200 307.0deg,#ffb100 316.5deg,#ff6200 329.5deg,#ff1d00 340.0deg,#ff0100 353.5deg,#ff0000 354.0deg,#8000ff 354.0deg,#5800ff 360.0deg)"></i><i style="left:-1.00px;top:-1.00px;width:86.00px;height:86.00px;background:conic-gradient(#5800ff 0.0deg,#5000ff 17.0deg,#4200ff 27.0deg,#5000ff 42.5deg,#2d00ff 56.5deg,#1d07ff 59.5deg,#0049ff 66.0deg,#00a6ff 78.0deg,#00f4ff 85.0deg,#00fbe2 87.0deg,#00ffae 89.5deg,#00ff44 93.5deg,#04ff00 97.5deg,#73ff00 102.0deg,#e7f200 108.5deg,#ffdc00 112.5deg,#ff8200 127.0deg,#ffb100 136.5deg,#ff6100 149.5deg,#ff1d00 160.0deg,#ff0100 173.0deg,#ff0000 174.0deg,#8000ff 174.0deg,#5800ff 180.5deg,#5000ff 197.0deg,#4200ff 207.0deg,#5000ff 222.5deg,#2d00ff 236.5deg,#1d07ff 239.5deg,#0049ff 246.0deg,#00a6ff 258.0deg,#00f4ff 265.0deg,#00fbe2 267.0deg,#00ffae 269.5deg,#00ff44 273.5deg,#04ff00 277.5deg,#73ff00 282.0deg,#e7f200 288.5deg,#ffdc00 292.5deg,#ff8200 307.0deg,#ffb100 316.5deg,#ff6100 329.5deg,#ff1d00 340.0deg,#ff0100 353.0deg,#ff0000 354.0deg,#8000ff 354.0deg,#5800ff 360.0deg)"></i><i style="left:0.00px;top:0.00px;width:84.00px;height:84.00px;background:conic-gradient(#5900ff 0.0deg,#4f00ff 17.0deg,#4200ff 27.0deg,#4d00ff 42.5deg,#2a00ff 56.5deg,#1c08ff 59.0deg,#0049ff 65.5deg,#00aaff 78.0deg,#00f6ff 85.0deg,#00ffb6 89.0deg,#00ff49 93.0deg,#00ff03 97.0deg,#80ff00 102.5deg,#f0f000 109.0deg,#ffd300 114.0deg,#ff8400 127.0deg,#ffaf00 136.5deg,#ff5f00 149.5deg,#ff1d00 160.0deg,#ff0000 173.6deg,#8000ff 173.6deg,#5900ff 180.5deg,#4f00ff 197.0deg,#4200ff 207.0deg,#4d00ff 222.5deg,#2a00ff 236.5deg,#1c08ff 239.0deg,#0049ff 245.5deg,#00aaff 258.0deg,#00f6ff 265.0deg,#00ffb6 269.0deg,#00ff49 273.0deg,#00ff03 277.0deg,#80ff00 282.5deg,#f0f000 289.0deg,#ffd300 294.0deg,#ff8400 307.0deg,#ffaf00 316.5deg,#ff5f00 329.5deg,#ff1d00 340.0deg,#ff0000 353.6deg,#8000ff 353.6deg,#5900ff 360.0deg)"></i><i style="left:1.00px;top:1.00px;width:82.00px;height:82.00px;background:conic-gradient(#5b00ff 0.0deg,#4e00ff 17.0deg,#4200ff 27.0deg,#4800ff 44.0deg,#2300ff 56.5deg,#0049ff 64.5deg,#00acff 77.5deg,#00f6ff 84.5deg,#00ffba 88.5deg,#00ff4c 92.5deg,#05ff00 97.0deg,#72ff00 101.5deg,#e4f300 108.0deg,#fbe400 111.0deg,#ff8700 126.5deg,#ffad00 136.0deg,#ff6000 149.0deg,#ff1e00 159.5deg,#ff0000 173.3deg,#8000ff 173.3deg,#5b00ff 180.5deg,#4e00ff 197.0deg,#4200ff 207.0deg,#4800ff 224.0deg,#2300ff 236.5deg,#0049ff 244.5deg,#00acff 257.5deg,#00f6ff 264.5deg,#00ffba 268.5deg,#00ff4c 272.5deg,#05ff00 277.0deg,#72ff00 281.5deg,#e4f300 288.0deg,#fbe400 291.0deg,#ff8700 306.5deg,#ffad00 316.0deg,#ff6000 329.0deg,#ff1e00 339.5deg,#ff0000 353.3deg,#8000ff 353.3deg,#5b00ff 360.0deg)"></i><i style="left:2.00px;top:2.00px;width:80.00px;height:80.00px;background:conic-gradient(#5d00ff 0.0deg,#4d00ff 17.5deg,#4100ff 27.0deg,#4100ff 44.5deg,#1f02ff 56.0deg,#0049ff 63.5deg,#00b3ff 77.5deg,#00f8fc 84.5deg,#00ffaf 88.5deg,#00ff46 92.5deg,#01ff00 96.5deg,#78ff00 101.5deg,#e6f200 108.0deg,#ffde00 112.0deg,#ff8c00 126.5deg,#ffa900 136.0deg,#ff6000 148.5deg,#ff1d00 159.5deg,#ff0000 173.0deg,#8000ff 173.0deg,#5d00ff 180.0deg,#4d00ff 197.5deg,#4100ff 207.0deg,#4100ff 224.5deg,#1f02ff 236.0deg,#0049ff 243.5deg,#00b3ff 257.5deg,#00f8fc 264.5deg,#00ffaf 268.5deg,#00ff46 272.5deg,#01ff00 276.5deg,#78ff00 281.5deg,#e6f200 288.0deg,#ffde00 292.0deg,#ff8c00 306.5deg,#ffa900 316.0deg,#ff6000 328.5deg,#ff1d00 339.5deg,#ff0000 353.0deg,#8000ff 353.0deg,#5d00ff 360.0deg)"></i><i style="left:3.00px;top:3.00px;width:78.00px;height:78.00px;background:conic-gradient(#5f00ff 0.0deg,#4a00ff 18.5deg,#4100ff 28.0deg,#3700ff 46.0deg,#1d05ff 55.0deg,#0049ff 62.5deg,#00b4ff 77.0deg,#00f8fd 84.0deg,#00ffb3 88.0deg,#00ff48 92.0deg,#00ff02 96.0deg,#74ff00 101.0deg,#e1f300 107.5deg,#f5eb00 109.5deg,#ffcd00 115.0deg,#ff9100 126.5deg,#ffa700 135.5deg,#ff5d00 148.5deg,#ff1b00 160.0deg,#ff0000 172.6deg,#8000ff 172.6deg,#5f00ff 180.0deg,#4a00ff 198.5deg,#4100ff 208.0deg,#3700ff 226.0deg,#1d05ff 235.0deg,#0049ff 242.5deg,#00b4ff 257.0deg,#00f8fd 264.0deg,#00ffb3 268.0deg,#00ff48 272.0deg,#00ff02 276.0deg,#74ff00 281.0deg,#e1f300 287.5deg,#f5eb00 289.5deg,#ffcd00 295.0deg,#ff9100 306.5deg,#ffa700 315.5deg,#ff5d00 328.5deg,#ff1b00 340.0deg,#ff0000 352.6deg,#8000ff 352.6deg,#5f00ff 360.0deg)"></i><i style="left:4.00px;top:4.00px;width:76.00px;height:76.00px;background:conic-gradient(#6100ff 0.0deg,#4700ff 19.5deg,#4000ff 32.0deg,#2c00ff 48.0deg,#1e05ff 53.5deg,#0049ff 61.5deg,#00bbff 77.0deg,#00f8ff 83.5deg,#00ffb7 87.5deg,#00ff4b 91.5deg,#05ff00 96.0deg,#70ff00 100.5deg,#dcf500 107.0deg,#f6ea00 109.5deg,#ffcd00 115.0deg,#ff9400 126.0deg,#ffa300 135.5deg,#ff5a00 148.5deg,#ff1b00 160.0deg,#ff0000 172.3deg,#8000ff 172.3deg,#6100ff 180.0deg,#4700ff 199.5deg,#4000ff 212.0deg,#2c00ff 228.0deg,#1e05ff 233.5deg,#0049ff 241.5deg,#00bbff 257.0deg,#00f8ff 263.5deg,#00ffb7 267.5deg,#00ff4b 271.5deg,#05ff00 276.0deg,#70ff00 280.5deg,#dcf500 287.0deg,#f6ea00 289.5deg,#ffcd00 295.0deg,#ff9400 306.0deg,#ffa300 315.5deg,#ff5a00 328.5deg,#ff1b00 340.0deg,#ff0000 352.3deg,#8000ff 352.3deg,#6100ff 360.0deg)"></i><i style="left:5.00px;top:5.00px;width:74.00px;height:74.00px;background:conic-gradient(#6200ff 0.0deg,#4200ff 21.5deg,#2c00ff 45.5deg,#1c08ff 52.0deg,#004aff 60.5deg,#00bdff 76.5deg,#00f8ff 83.0deg,#00ffba 87.0deg,#00ff45 91.5deg,#01ff00 95.5deg,#75ff00 100.5deg,#def400 107.0deg,#f6ea00 109.5deg,#ffcc00 115.5deg,#ff9800 126.0deg,#ff9f00 135.5deg,#ff5700 148.5deg,#ff1900 160.5deg,#ff0000 172.0deg,#8000ff 172.0deg,#6200ff 180.0deg,#4200ff 201.5deg,#2c00ff 225.5deg,#1c08ff 232.0deg,#004aff 240.5deg,#00bdff 256.5deg,#00f8ff 263.0deg,#00ffba 267.0deg,#00ff45 271.5deg,#01ff00 275.5deg,#75ff00 280.5deg,#def400 287.0deg,#f6ea00 289.5deg,#ffcc00 295.5deg,#ff9800 306.0deg,#ff9f00 315.5deg,#ff5700 328.5deg,#ff1900 340.5deg,#ff0000 352.0deg,#8000ff 352.0deg,#6200ff 360.0deg)"></i><i style="left:6.00px;top:6.00px;width:72.00px;height:72.00px;background:conic-gradient(#6400ff 0.0deg,#3c00ff 29.0deg,#1f02ff 48.5deg,#033bff 57.0deg,#00b9ff 75.5deg,#00f9f9 83.0deg,#00ffb0 87.0deg,#00ff48 91.0deg,#00ff02 95.0deg,#71ff00 100.0deg,#e1f400 107.0deg,#f6e900 109.5deg,#ffca00 116.0deg,#ff9c00 126.0deg,#ff9b00 135.5deg,#ff5400 148.5deg,#ff1a00 160.0deg,#ff0000 171.6deg,#8000ff 171.6deg,#6400ff 180.0deg,#3c00ff 209.0deg,#1f02ff 228.5deg,#033bff 237.0deg,#00b9ff 255.5deg,#00f9f9 263.0deg,#00ffb0 267.0deg,#00ff48 271.0deg,#00ff02 275.0deg,#71ff00 280.0deg,#e1f400 287.0deg,#f6e900 289.5deg,#ffca00 296.0deg,#ff9c00 306.0deg,#ff9b00 315.5deg,#ff5400 328.5deg,#ff1a00 340.0deg,#ff0000 351.6deg,#8000ff 351.6deg,#6400ff 360.0deg)"></i><i style="left:7.00px;top:7.00px;width:70.00px;height:70.00px;background:conic-gradient(#6500ff 0.0deg,#3800ff 30.5deg,#1e04ff 46.5deg,#004dff 58.5deg,#00bfff 75.5deg,#00f9fa 82.5deg,#00ffb5 86.5deg,#00ff42 91.0deg,#04ff00 95.0deg,#75ff00 100.0deg,#e2f300 107.0deg,#f6e900 109.5deg,#ffca00 116.5deg,#ff9f00 126.0deg,#ff9700 135.5deg,#ff4600 150.5deg,#ff1800 160.5deg,#ff0000 171.3deg,#8000ff 171.3deg,#6400ff 181.0deg,#3800ff 210.5deg,#1e04ff 226.5deg,#004dff 238.5deg,#00bfff 255.5deg,#00f9fa 262.5deg,#00ffb5 266.5deg,#00ff42 271.0deg,#04ff00 275.0deg,#75ff00 280.0deg,#e2f300 287.0deg,#f6e900 289.5deg,#ffca00 296.5deg,#ff9f00 306.0deg,#ff9700 315.5deg,#ff4600 330.5deg,#ff1800 340.5deg,#ff0000 351.3deg,#8000ff 351.3deg,#6500ff 360.0deg)"></i><i style="left:8.00px;top:8.00px;width:68.00px;height:68.00px;background:conic-gradient(#6700ff 0.0deg,#1e04ff 44.0deg,#004fff 57.5deg,#00bdff 74.5deg,#00f8fc 82.0deg,#00ffb9 86.0deg,#00ff46 90.5deg,#00ff01 94.5deg,#70ff00 99.5deg,#dcf500 106.5deg,#f4eb00 109.0deg,#ffcf00 115.5deg,#ffa200 126.5deg,#ff8f00 136.5deg,#ff1900 160.0deg,#ff0000 171.0deg,#8000ff 171.0deg,#6200ff 183.0deg,#1e04ff 224.0deg,#004fff 237.5deg,#00bdff 254.5deg,#00f8fc 262.0deg,#00ffb9 266.0deg,#00ff46 270.5deg,#00ff01 274.5deg,#70ff00 279.5deg,#dcf500 286.5deg,#f4eb00 289.0deg,#ffcf00 295.5deg,#ffa200 306.5deg,#ff8f00 316.5deg,#ff1900 340.0deg,#ff0000 351.0deg,#8000ff 351.0deg,#6700ff 360.0deg)"></i><i style="left:9.00px;top:9.00px;width:66.00px;height:66.00px;background:conic-gradient(#6800ff 0.0deg,#1e04ff 41.5deg,#004cff 55.5deg,#00b0ff 72.0deg,#00f8fd 81.5deg,#00ffb1 86.0deg,#00ff4a 90.0deg,#05ff00 94.5deg,#74ff00 99.5deg,#e4f300 107.0deg,#f8e700 110.0deg,#ffa300 127.0deg,#ff8400 138.5deg,#ff1a00 159.5deg,#ff0000 170.7deg,#8000ff 170.7deg,#3d00ff 202.0deg,#1d07ff 222.0deg,#004cff 235.5deg,#00b0ff 252.0deg,#00f8fd 261.5deg,#00ffb1 266.0deg,#00ff4a 270.0deg,#05ff00 274.5deg,#74ff00 279.5deg,#e4f300 287.0deg,#f8e700 290.0deg,#ffa300 307.0deg,#ff8400 318.5deg,#ff1a00 339.5deg,#ff0000 350.7deg,#8000ff 350.7deg,#6800ff 360.0deg)"></i><i style="left:10.00px;top:10.00px;width:64.00px;height:64.00px;background:conic-gradient(#6900ff 0.0deg,#1d06ff 39.0deg,#004dff 54.0deg,#00a8ff 70.0deg,#00f8ff 81.0deg,#00ffb6 85.5deg,#00ff45 90.0deg,#00ff01 94.0deg,#6fff00 99.0deg,#def400 106.5deg,#f4ec00 109.0deg,#ffd200 115.5deg,#ff9a00 131.0deg,#ff6900 143.0deg,#ff1900 160.0deg,#ff0000 170.4deg,#8000ff 170.4deg,#1d06ff 219.0deg,#004dff 234.0deg,#00a8ff 250.0deg,#00f8ff 261.0deg,#00ffb6 265.5deg,#00ff45 270.0deg,#00ff01 274.0deg,#6fff00 279.0deg,#def400 286.5deg,#f4ec00 289.0deg,#ffd200 295.5deg,#ff9a00 311.0deg,#ff6900 323.0deg,#ff1900 340.0deg,#ff0000 350.4deg,#8000ff 350.4deg,#6900ff 360.0deg)"></i><i style="left:11.00px;top:11.00px;width:62.00px;height:62.00px;background:conic-gradient(#6a00ff 0.0deg,#1d06ff 36.5deg,#004dff 52.0deg,#009dff 67.5deg,#00f8ff 80.5deg,#00ffba 85.0deg,#00ff49 89.5deg,#06ff00 94.0deg,#73ff00 99.0deg,#def400 106.5deg,#f4ec00 109.0deg,#ffd100 116.0deg,#ff6800 142.5deg,#ff1900 160.0deg,#ff0000 170.1deg,#8000ff 170.1deg,#1d06ff 216.5deg,#004dff 232.0deg,#009dff 247.5deg,#00f8ff 260.5deg,#00ffba 265.0deg,#00ff49 269.5deg,#06ff00 274.0deg,#73ff00 279.0deg,#def400 286.5deg,#f4ec00 289.0deg,#ffd100 296.0deg,#ff6800 322.5deg,#ff1900 340.0deg,#ff0000 350.1deg,#8000ff 350.1deg,#6a00ff 360.0deg)"></i><i style="left:12.00px;top:12.00px;width:60.00px;height:60.00px;background:conic-gradient(#6a00ff 0.0deg,#1d05ff 35.0deg,#004cff 50.5deg,#0098ff 66.0deg,#00f8fb 80.5deg,#00ffb3 85.0deg,#00ff45 89.5deg,#00ff01 93.5deg,#6eff00 98.5deg,#dff400 106.5deg,#f6ea00 109.5deg,#ffcb00 118.0deg,#ff6100 143.5deg,#ff1800 160.0deg,#ff0000 169.8deg,#8000ff 169.8deg,#1d05ff 215.0deg,#004cff 230.5deg,#0098ff 246.0deg,#00f8fb 260.5deg,#00ffb3 265.0deg,#00ff45 269.5deg,#00ff01 273.5deg,#6eff00 278.5deg,#dff400 286.5deg,#f6ea00 289.5deg,#ffcb00 298.0deg,#ff6100 323.5deg,#ff1800 340.0deg,#ff0000 349.8deg,#8000ff 349.8deg,#6a00ff 360.0deg)"></i><i style="left:13.00px;top:13.00px;width:58.00px;height:58.00px;background:conic-gradient(#6900ff 0.0deg,#1e05ff 34.5deg,#004cff 50.0deg,#0097ff 65.5deg,#00f8ff 80.0deg,#00ffba 84.5deg,#00ff41 89.5deg,#03ff00 93.5deg,#71ff00 98.5deg,#e1f300 106.5deg,#f8e700 110.0deg,#ff9e00 129.0deg,#ff5600 145.5deg,#ff1800 160.0deg,#ff0000 169.5deg,#8000ff 169.5deg,#1e05ff 214.5deg,#004cff 230.0deg,#0097ff 245.5deg,#00f8ff 260.0deg,#00ffba 264.5deg,#00ff41 269.5deg,#03ff00 273.5deg,#71ff00 278.5deg,#e1f300 286.5deg,#f8e700 290.0deg,#ff9e00 309.0deg,#ff5600 325.5deg,#ff1800 340.0deg,#ff0000 349.5deg,#8000ff 349.5deg,#6900ff 360.0deg)"></i><i style="left:14.00px;top:14.00px;width:56.00px;height:56.00px;background:conic-gradient(#6900ff 0.0deg,#1d05ff 34.5deg,#004bff 50.0deg,#0096ff 65.5deg,#00f9fa 80.5deg,#00ffb2 85.0deg,#00ff44 89.5deg,#00ff01 93.5deg,#6dff00 98.5deg,#dff400 106.5deg,#f4ec00 109.0deg,#ffd000 116.5deg,#ff6400 143.0deg,#ff1900 159.5deg,#ff0000 169.5deg,#8000ff 169.5deg,#1d05ff 214.5deg,#004bff 230.0deg,#0096ff 245.5deg,#00f9fa 260.5deg,#00ffb2 265.0deg,#00ff44 269.5deg,#00ff01 273.5deg,#6dff00 278.5deg,#dff400 286.5deg,#f4ec00 289.0deg,#ffd000 296.5deg,#ff6400 323.0deg,#ff1900 339.5deg,#ff0000 349.5deg,#8000ff 349.5deg,#6900ff 360.0deg)"></i><i style="left:15.00px;top:15.00px;width:54.00px;height:54.00px;background:conic-gradient(#6900ff 0.0deg,#1d05ff 34.5deg,#004bff 50.0deg,#0099ff 66.0deg,#00f8fc 80.5deg,#00ffb7 85.0deg,#00ff48 89.5deg,#05ff00 94.0deg,#71ff00 99.0deg,#e2f300 107.0deg,#f8e700 110.5deg,#ff9e00 129.5deg,#ff5800 145.5deg,#ff1800 160.0deg,#ff0000 169.5deg,#8000ff 169.5deg,#1d05ff 214.5deg,#004bff 230.0deg,#0099ff 246.0deg,#00f8fc 260.5deg,#00ffb7 265.0deg,#00ff48 269.5deg,#05ff00 274.0deg,#71ff00 279.0deg,#e2f300 287.0deg,#f8e700 290.5deg,#ff9e00 309.5deg,#ff5800 325.5deg,#ff1800 340.0deg,#ff0000 349.5deg,#8000ff 349.5deg,#6900ff 360.0deg)"></i><i style="left:16.00px;top:16.00px;width:52.00px;height:52.00px;background:conic-gradient(#6900ff 0.0deg,#1d06ff 34.5deg,#004bff 50.0deg,#0098ff 66.0deg,#00f8fe 80.5deg,#00ffaf 85.5deg,#00ff43 90.0deg,#00ff00 94.0deg,#6dff00 99.0deg,#def400 107.0deg,#f4ec00 109.5deg,#ffd000 117.0deg,#ff6300 143.5deg,#ff1800 160.0deg,#ff0000 169.5deg,#8000ff 169.5deg,#1d06ff 214.5deg,#004bff 230.0deg,#0098ff 246.0deg,#00f8fe 260.5deg,#00ffaf 265.5deg,#00ff43 270.0deg,#00ff00 274.0deg,#6dff00 279.0deg,#def400 287.0deg,#f4ec00 289.5deg,#ffd000 297.0deg,#ff6300 323.5deg,#ff1800 340.0deg,#ff0000 349.5deg,#8000ff 349.5deg,#6900ff 360.0deg)"></i><i style="left:17.00px;top:17.00px;width:50.00px;height:50.00px;background:conic-gradient(#6800ff 0.0deg,#1d06ff 34.5deg,#004cff 50.0deg,#0097ff 66.0deg,#00f9fa 81.0deg,#00ffb4 85.5deg,#00ff47 90.0deg,#06ff00 94.5deg,#71ff00 99.5deg,#e1f300 107.5deg,#f6e900 110.5deg,#ffca00 119.0deg,#ff6400 143.5deg,#ff1800 160.0deg,#ff0000 169.5deg,#8000ff 169.5deg,#1d06ff 214.5deg,#004cff 230.0deg,#0097ff 246.0deg,#00f9fa 261.0deg,#00ffb4 265.5deg,#00ff47 270.0deg,#06ff00 274.5deg,#71ff00 279.5deg,#e1f300 287.5deg,#f6e900 290.5deg,#ffca00 299.0deg,#ff6400 323.5deg,#ff1800 340.0deg,#ff0000 349.5deg,#8000ff 349.5deg,#6800ff 360.0deg)"></i><i style="left:18.00px;top:18.00px;width:48.00px;height:48.00px;background:conic-gradient(#6800ff 0.0deg,#1e04ff 34.0deg,#004cff 50.0deg,#0097ff 66.0deg,#00f8fd 81.0deg,#00ffba 85.5deg,#00ff43 90.5deg,#00ff00 94.5deg,#6dff00 99.5deg,#ddf400 107.5deg,#f3ec00 110.0deg,#ffd300 117.0deg,#ff6500 143.5deg,#ff1800 160.0deg,#ff0000 169.5deg,#8000ff 169.5deg,#1e04ff 214.0deg,#004cff 230.0deg,#0097ff 246.0deg,#00f8fd 261.0deg,#00ffba 265.5deg,#00ff43 270.5deg,#00ff00 274.5deg,#6dff00 279.5deg,#ddf400 287.5deg,#f3ec00 290.0deg,#ffd300 297.0deg,#ff6500 323.5deg,#ff1800 340.0deg,#ff0000 349.5deg,#8000ff 349.5deg,#6800ff 360.0deg)"></i><i style="left:19.00px;top:19.00px;width:46.00px;height:46.00px;background:conic-gradient(#6800ff 0.0deg,#1e05ff 34.0deg,#004cff 50.0deg,#0096ff 66.0deg,#00f9f9 81.5deg,#00ffb4 86.0deg,#00ff47 90.5deg,#04ff00 95.0deg,#6fff00 100.0deg,#dff400 108.0deg,#f6ea00 111.0deg,#ffcb00 119.5deg,#ff6300 144.0deg,#ff1800 160.0deg,#ff0000 169.4deg,#8000ff 169.4deg,#1e05ff 214.0deg,#004cff 230.0deg,#0096ff 246.0deg,#00f9f9 261.5deg,#00ffb4 266.0deg,#00ff47 270.5deg,#04ff00 275.0deg,#6fff00 280.0deg,#dff400 288.0deg,#f6ea00 291.0deg,#ffcb00 299.5deg,#ff6300 324.0deg,#ff1800 340.0deg,#ff0000 349.4deg,#8000ff 349.4deg,#6800ff 360.0deg)"></i><i style="left:20.00px;top:20.00px;width:44.00px;height:44.00px;background:conic-gradient(#6800ff 0.0deg,#1d06ff 34.0deg,#004cff 50.0deg,#0099ff 66.5deg,#00f8fc 81.5deg,#00ffba 86.0deg,#00ff44 91.0deg,#00ff02 95.0deg,#72ff00 100.5deg,#e1f400 108.5deg,#f6e900 111.5deg,#ffc900 120.5deg,#ff6100 144.5deg,#ff1800 160.0deg,#ff0000 169.3deg,#8000ff 169.3deg,#1d06ff 214.0deg,#004cff 230.0deg,#0099ff 246.5deg,#00f8fc 261.5deg,#00ffba 266.0deg,#00ff44 271.0deg,#00ff02 275.0deg,#72ff00 280.5deg,#e1f400 288.5deg,#f6e900 291.5deg,#ffc900 300.5deg,#ff6100 324.5deg,#ff1800 340.0deg,#ff0000 349.3deg,#8000ff 349.3deg,#6800ff 360.0deg)"></i><i style="left:21.00px;top:21.00px;width:42.00px;height:42.00px;background:conic-gradient(#6600ff 0.0deg,#1d06ff 33.5deg,#004cff 49.5deg,#0097ff 66.0deg,#00f8fb 81.5deg,#00ffb9 86.0deg,#00ff44 91.0deg,#00ff03 95.0deg,#70ff00 100.5deg,#dff400 108.5deg,#f6ea00 111.5deg,#ffcd00 119.5deg,#ff6400 144.0deg,#ff1900 159.5deg,#ff0000 169.0deg,#8000ff 169.0deg,#1d06ff 213.5deg,#004cff 229.5deg,#0097ff 246.0deg,#00f8fb 261.5deg,#00ffb9 266.0deg,#00ff44 271.0deg,#00ff03 275.0deg,#70ff00 280.5deg,#dff400 288.5deg,#f6ea00 291.5deg,#ffcd00 299.5deg,#ff6400 324.0deg,#ff1900 339.5deg,#ff0000 349.0deg,#8000ff 349.0deg,#6600ff 360.0deg)"></i><i style="left:22.00px;top:22.00px;width:40.00px;height:40.00px;background:conic-gradient(#6500ff 0.0deg,#1d06ff 33.0deg,#004bff 49.0deg,#0099ff 66.0deg,#00f9fa 81.5deg,#00ffb9 86.0deg,#00ff45 91.0deg,#05ff00 95.5deg,#6eff00 100.5deg,#ddf400 108.5deg,#f5eb00 111.5deg,#ffd100 118.5deg,#ff6700 143.5deg,#ff1900 159.5deg,#ff0000 168.6deg,#8000ff 168.6deg,#1d06ff 213.0deg,#004bff 229.0deg,#0099ff 246.0deg,#00f9fa 261.5deg,#00ffb9 266.0deg,#00ff45 271.0deg,#05ff00 275.5deg,#6eff00 280.5deg,#ddf400 288.5deg,#f5eb00 291.5deg,#ffd100 298.5deg,#ff6700 323.5deg,#ff1900 339.5deg,#ff0000 348.6deg,#8000ff 348.6deg,#6500ff 360.0deg)"></i><i style="left:23.00px;top:23.00px;width:38.00px;height:38.00px;background:conic-gradient(#6400ff 0.0deg,#1e04ff 32.0deg,#004bff 48.5deg,#0097ff 65.5deg,#00f9fa 81.5deg,#00ffba 86.0deg,#00ff47 91.0deg,#02ff00 95.5deg,#6bff00 100.5deg,#e0f400 109.0deg,#f6ea00 112.0deg,#ffcb00 120.5deg,#ff6700 143.5deg,#ff1900 159.0deg,#ff0000 168.2deg,#8000ff 168.2deg,#1e04ff 212.0deg,#004bff 228.5deg,#0097ff 245.5deg,#00f9fa 261.5deg,#00ffba 266.0deg,#00ff47 271.0deg,#02ff00 275.5deg,#6bff00 280.5deg,#e0f400 289.0deg,#f6ea00 292.0deg,#ffcb00 300.5deg,#ff6700 323.5deg,#ff1900 339.0deg,#ff0000 348.2deg,#8000ff 348.2deg,#6400ff 360.0deg)"></i><i style="left:24.00px;top:24.00px;width:36.00px;height:36.00px;background:conic-gradient(#6300ff 0.0deg,#1d05ff 31.5deg,#004bff 48.0deg,#0099ff 65.5deg,#00f9fa 81.5deg,#00ffb0 86.5deg,#00ff49 91.0deg,#00ff02 95.5deg,#6fff00 101.0deg,#dcf500 109.0deg,#f5eb00 112.0deg,#ffd000 119.5deg,#ff6800 143.5deg,#ff1900 159.0deg,#ff0000 167.8deg,#8000ff 167.8deg,#1d05ff 211.5deg,#004bff 228.0deg,#0099ff 245.5deg,#00f9fa 261.5deg,#00ffb0 266.5deg,#00ff49 271.0deg,#00ff02 275.5deg,#6fff00 281.0deg,#dcf500 289.0deg,#f5eb00 292.0deg,#ffd000 299.5deg,#ff6800 323.5deg,#ff1900 339.0deg,#ff0000 347.8deg,#8000ff 347.8deg,#6300ff 360.0deg)"></i><i style="left:25.00px;top:25.00px;width:34.00px;height:34.00px;background:conic-gradient(#6000ff 0.0deg,#1e05ff 29.0deg,#004cff 45.5deg,#009eff 64.0deg,#00f9f9 80.5deg,#00ffb0 86.0deg,#00ff43 91.5deg,#04ff00 96.5deg,#73ff00 102.5deg,#def400 111.0deg,#f5eb00 114.0deg,#ffd000 121.5deg,#ff6b00 144.0deg,#ff1900 159.0deg,#ff0000 167.4deg,#8000ff 167.4deg,#1e05ff 209.0deg,#004cff 225.5deg,#009eff 244.0deg,#00f9f9 260.5deg,#00ffb0 266.0deg,#00ff43 271.5deg,#04ff00 276.5deg,#73ff00 282.5deg,#def400 291.0deg,#f5eb00 294.0deg,#ffd000 301.5deg,#ff6b00 324.0deg,#ff1900 339.0deg,#ff0000 347.4deg,#8000ff 347.4deg,#6000ff 360.0deg)"></i><i style="left:26.00px;top:26.00px;width:32.00px;height:32.00px;background:conic-gradient(#5d00ff 0.0deg,#1e05ff 26.5deg,#004bff 42.5deg,#00a2ff 62.5deg,#00f8fd 79.0deg,#00ffb0 85.5deg,#00ff45 91.5deg,#00ff00 97.0deg,#74ff00 104.0deg,#e0f400 113.0deg,#f5eb00 116.0deg,#ffcf00 123.5deg,#ff6b00 145.0deg,#ff1900 159.0deg,#ff0000 166.9deg,#8000ff 166.9deg,#1e05ff 206.5deg,#004bff 222.5deg,#00a2ff 242.5deg,#00f8fd 259.0deg,#00ffb0 265.5deg,#00ff45 271.5deg,#00ff00 277.0deg,#74ff00 284.0deg,#e0f400 293.0deg,#f5eb00 296.0deg,#ffcf00 303.5deg,#ff6b00 325.0deg,#ff1900 339.0deg,#ff0000 346.9deg,#8000ff 346.9deg,#5d00ff 360.0deg)"></i><i style="left:27.00px;top:27.00px;width:30.00px;height:30.00px;background:conic-gradient(#5900ff 0.0deg,#1d05ff 24.0deg,#004bff 39.5deg,#00aaff 61.5deg,#00f8fb 78.0deg,#00ffb1 85.0deg,#00ff43 92.0deg,#01ff00 98.0deg,#74ff00 105.5deg,#dff400 115.0deg,#f5eb00 118.0deg,#ffce00 126.0deg,#ff6b00 146.0deg,#ff1900 159.0deg,#ff0000 166.3deg,#8000ff 166.3deg,#1d05ff 204.0deg,#004bff 219.5deg,#00aaff 241.5deg,#00f8fb 258.0deg,#00ffb1 265.0deg,#00ff43 272.0deg,#01ff00 278.0deg,#74ff00 285.5deg,#dff400 295.0deg,#f5eb00 298.0deg,#ffce00 306.0deg,#ff6b00 326.0deg,#ff1900 339.0deg,#ff0000 346.3deg,#8000ff 346.3deg,#5900ff 360.0deg)"></i><i style="left:28.00px;top:28.00px;width:28.00px;height:28.00px;background:conic-gradient(#5400ff 0.0deg,#1d06ff 21.5deg,#004aff 36.5deg,#00b7ff 62.0deg,#00f8fc 77.0deg,#00ffaf 85.0deg,#00ff44 92.5deg,#04ff00 99.5deg,#75ff00 107.5deg,#dbf500 117.0deg,#f3ed00 120.0deg,#ffd200 127.5deg,#ff6d00 147.0deg,#ff1a00 159.0deg,#ff0000 165.8deg,#8000ff 165.8deg,#1d06ff 201.5deg,#004aff 216.5deg,#00b7ff 242.0deg,#00f8fc 257.0deg,#00ffaf 265.0deg,#00ff44 272.5deg,#04ff00 279.5deg,#75ff00 287.5deg,#dbf500 297.0deg,#f3ed00 300.0deg,#ffd200 307.5deg,#ff6d00 327.0deg,#ff1a00 339.0deg,#ff0000 345.8deg,#8000ff 345.8deg,#5400ff 360.0deg)"></i><i style="left:29.00px;top:29.00px;width:26.00px;height:26.00px;background:conic-gradient(#4f00ff 0.0deg,#1d06ff 18.5deg,#004bff 33.5deg,#00cfff 65.0deg,#00f8fc 76.0deg,#00ffb4 84.5deg,#00ff42 93.5deg,#04ff00 101.0deg,#77ff00 110.0deg,#def400 120.0deg,#f6ea00 123.5deg,#ffcc00 131.5deg,#ff7000 148.0deg,#ff1a00 159.0deg,#ff0000 165.2deg,#8000ff 165.2deg,#1d06ff 198.5deg,#004bff 213.5deg,#00cfff 245.0deg,#00f8fc 256.0deg,#00ffb4 264.5deg,#00ff42 273.5deg,#04ff00 281.0deg,#77ff00 290.0deg,#def400 300.0deg,#f6ea00 303.5deg,#ffcc00 311.5deg,#ff7000 328.0deg,#ff1a00 339.0deg,#ff0000 345.2deg,#8000ff 345.2deg,#4f00ff 360.0deg)"></i><i style="left:30.00px;top:30.00px;width:24.00px;height:24.00px;background:conic-gradient(#4700ff 0.0deg,#1d06ff 15.0deg,#004bff 30.0deg,#00f8ff 74.5deg,#00ffb3 84.5deg,#00ff42 94.5deg,#06ff00 103.0deg,#7aff00 113.0deg,#dcf500 123.0deg,#f5eb00 126.5deg,#ffcc00 134.5deg,#ff6f00 149.5deg,#ff1a00 159.0deg,#ff0000 164.4deg,#8000ff 164.4deg,#2400ff 192.5deg,#0830ff 203.5deg,#0062ff 216.5deg,#00f8ff 254.5deg,#00ffb3 264.5deg,#00ff42 274.5deg,#06ff00 283.0deg,#7aff00 293.0deg,#dcf500 303.0deg,#f5eb00 306.5deg,#ffcc00 314.5deg,#ff6f00 329.5deg,#ff1a00 339.0deg,#ff0000 344.4deg,#8000ff 344.4deg,#4700ff 360.0deg)"></i><i style="left:31.00px;top:31.00px;width:22.00px;height:22.00px;background:conic-gradient(#3c00ff 0.0deg,#1d06ff 11.0deg,#004aff 25.5deg,#00f5ff 72.5deg,#00ffb4 84.5deg,#00ff41 96.0deg,#02ff00 105.0deg,#80ff00 117.0deg,#e4f300 127.5deg,#fce300 132.5deg,#ffaa00 143.5deg,#ff6f00 151.0deg,#ff1900 159.0deg,#ff0000 163.3deg,#8000ff 163.3deg,#2f00ff 184.5deg,#1d06ff 191.0deg,#004aff 205.5deg,#00f5ff 252.5deg,#00ffb4 264.5deg,#00ff41 276.0deg,#02ff00 285.0deg,#80ff00 297.0deg,#e4f300 307.5deg,#fce300 312.5deg,#ffaa00 323.5deg,#ff6f00 331.0deg,#ff1900 339.0deg,#ff0000 343.3deg,#8000ff 343.3deg,#3c00ff 360.0deg)"></i><i style="left:32.00px;top:32.00px;width:20.00px;height:20.00px;background:conic-gradient(#2d00ff 0.0deg,#1c08ff 6.0deg,#0049ff 20.0deg,#00eeff 68.5deg,#00f9f7 73.5deg,#00ffb1 85.0deg,#00ff43 97.5deg,#06ff00 108.5deg,#85ff00 122.0deg,#e5f300 132.5deg,#ffdd00 138.5deg,#ffa900 147.0deg,#ff7100 152.5deg,#ff1a00 158.5deg,#ff0000 161.9deg,#8000ff 161.9deg,#3900ff 176.5deg,#1d05ff 185.5deg,#0049ff 200.0deg,#00eeff 248.5deg,#00f9f7 253.5deg,#00ffb1 265.0deg,#00ff43 277.5deg,#06ff00 288.5deg,#85ff00 302.0deg,#e5f300 312.5deg,#ffdd00 318.5deg,#ffa900 327.0deg,#ff7100 332.5deg,#ff1a00 338.5deg,#ff0000 341.9deg,#8000ff 341.9deg,#3900ff 356.5deg,#2d00ff 360.0deg)"></i><i style="left:33.00px;top:33.00px;width:18.00px;height:18.00px;background:conic-gradient(#1811ff 0.0deg,#004aff 13.0deg,#00ecff 65.5deg,#00f9f8 72.0deg,#00ffb0 85.5deg,#00ff43 100.0deg,#06ff00 113.0deg,#ccf900 137.0deg,#f3ec00 141.5deg,#ffcd00 147.5deg,#ff8c00 153.0deg,#ff4700 156.0deg,#ff1800 158.0deg,#ff0000 159.9deg,#8000ff 159.9deg,#4500ff 167.5deg,#1d06ff 178.0deg,#0049ff 192.5deg,#00ecff 245.5deg,#00f9f8 252.0deg,#00ffb0 265.5deg,#00ff43 280.0deg,#06ff00 293.0deg,#ccf900 317.0deg,#f3ec00 321.5deg,#ffcd00 327.5deg,#ff8c00 333.0deg,#ff4700 336.0deg,#ff1800 338.0deg,#ff0000 339.9deg,#8000ff 339.9deg,#4500ff 347.5deg,#1d06ff 358.0deg,#1811ff 360.0deg)"></i><i style="left:34.00px;top:34.00px;width:16.00px;height:16.00px;background:conic-gradient(#0049ff 0.0deg,#00efff 64.0deg,#00f9f7 70.5deg,#00ffaf 86.5deg,#00ff43 104.0deg,#06ff00 120.5deg,#7aff00 140.0deg,#c3fb00 152.5deg,#def400 154.5deg,#f5ea00 155.5deg,#ffda00 156.0deg,#ff9500 156.5deg,#ff0000 156.9deg,#8000ff 156.9deg,#6600ff 157.0deg,#3e00ff 157.5deg,#2600ff 159.0deg,#0043ff 177.5deg,#00efff 244.0deg,#00f9f7 250.5deg,#00ffaf 266.5deg,#00ff43 284.0deg,#06ff00 300.5deg,#7aff00 320.0deg,#c3fb00 332.5deg,#def400 334.5deg,#f5ea00 335.5deg,#ffda00 336.0deg,#ff9500 336.5deg,#ff0000 336.9deg,#8000ff 336.9deg,#6600ff 337.0deg,#3e00ff 337.5deg,#2600ff 339.0deg,#0043ff 357.5deg,#0049ff 360.0deg)"></i><i style="left:35.00px;top:35.00px;width:14.00px;height:14.00px;background:conic-gradient(#0080ff 0.0deg,#00bcff 34.5deg,#00f9f9 67.5deg,#00ffac 88.5deg,#00ff46 110.0deg,#00ff11 133.0deg,#00ff19 143.0deg,#00ff42 149.0deg,#00ff6f 151.5deg,#00fcdf 155.5deg,#00f6ff 157.0deg,#00a1ff 164.5deg,#0083ff 172.0deg,#0089ff 188.0deg,#00f8fb 247.0deg,#00ffac 268.5deg,#00ff46 290.0deg,#00ff11 313.0deg,#00ff19 323.0deg,#00ff42 329.0deg,#00ff6f 331.5deg,#00fcdf 335.5deg,#00f6ff 337.0deg,#00a1ff 344.5deg,#0083ff 352.0deg,#0080ff 360.0deg)"></i><i style="left:36.00px;top:36.00px;width:12.00px;height:12.00px;background:conic-gradient(#00afff 0.0deg,#00bcff 24.0deg,#00f9f9 68.0deg,#00ffab 94.5deg,#00ff5d 119.0deg,#00ff56 132.5deg,#00ff79 142.0deg,#00f6ff 157.5deg,#00b7ff 174.0deg,#00b0ff 192.0deg,#00f9fa 247.5deg,#00ffab 274.5deg,#00ff5d 299.0deg,#00ff56 312.5deg,#00ff79 322.0deg,#00f6ff 337.5deg,#00b7ff 354.0deg,#00afff 360.0deg)"></i><i style="left:37.00px;top:37.00px;width:10.00px;height:10.00px;background:conic-gradient(#00d1ff 0.0deg,#00d3ff 26.5deg,#00f9f9 68.5deg,#00ff9d 118.5deg,#00ffa9 134.0deg,#00f4ff 159.0deg,#00cdff 186.0deg,#00e0ff 222.0deg,#00f9f9 248.5deg,#00ff9d 298.5deg,#00ffa9 314.0deg,#00f4ff 339.0deg,#00d1ff 360.0deg)"></i><i style="left:38.00px;top:38.00px;width:8.00px;height:8.00px;background:conic-gradient(#00e4ff 0.0deg,#00e9ff 42.0deg,#00f9f8 70.0deg,#00fecc 113.0deg,#00fcda 139.0deg,#00f4ff 161.5deg,#00e0ff 198.5deg,#00f9f9 249.5deg,#00fecc 292.5deg,#00fcda 318.5deg,#00f4ff 341.5deg,#00e4ff 360.0deg)"></i><i style="left:39.00px;top:39.00px;width:6.00px;height:6.00px;background:conic-gradient(#00efff 0.0deg,#00f9f8 72.5deg,#00fbe4 120.5deg,#00f3ff 170.0deg,#00f2ff 227.5deg,#00f9f4 258.5deg,#00fbe5 303.5deg,#00f3ff 349.5deg,#00efff 360.0deg)"></i><i style="left:40.00px;top:40.00px;width:4.00px;height:4.00px;background:conic-gradient(#00f6ff 0.0deg,#00f9f5 98.0deg,#00f8fe 244.5deg,#00f9f8 318.5deg,#00f6ff 360.0deg)"></i><i style="left:41.00px;top:41.00px;width:2.00px;height:2.00px;background:conic-gradient(#00f8fe 0.0deg,#00f8fe 360.0deg)"></i></div>
<div class="q" style="left:122.90px;top:25.60px;width:1px;height:84px;background:rgba(255,255,255,0.7)"></div>
<div class="q" style="left:206.90px;top:25.60px;width:1px;height:84px;background:rgba(255,255,255,0.7)"></div>
<div class="q" style="left:290.90px;top:25.60px;width:1px;height:84px;background:rgba(255,255,255,0.7)"></div>
<div class="q" style="left:374.90px;top:25.60px;width:1px;height:84px;background:rgba(255,255,255,0.7)"></div>
<div class="q" style="left:458.90px;top:25.60px;width:1px;height:84px;background:rgba(255,255,255,0.7)"></div>
<div class="q" style="left:122.90px;top:150.90px;width:1px;height:84px;background:rgba(255,255,255,0.7)"></div>
<div class="q" style="left:206.90px;top:150.90px;width:1px;height:84px;background:rgba(255,255,255,0.7)"></div>
<div class="q" style="left:290.90px;top:150.90px;width:1px;height:84px;background:rgba(255,255,255,0.7)"></div>
<div class="q" style="left:374.90px;top:150.90px;width:1px;height:84px;background:rgba(255,255,255,0.7)"></div>
<div class="q" style="left:458.90px;top:150.90px;width:1px;height:84px;background:rgba(255,255,255,0.7)"></div>
<div class="t" style="left:3.60px;top:10.77px;font-size:14.60px;"><span style="transform:scaleX(1.100);transform-origin:0 50%">(a)</span></div>
<div class="t" style="left:3.60px;top:136.27px;font-size:14.60px;"><span style="transform:scaleX(1.100);transform-origin:0 50%">(b)</span></div>
<div class="t" style="left:38.00px;top:17.27px;width:200px;margin-left:-200px;text-align:right;font-size:14.60px;"><span style="transform:scaleX(1.100);transform-origin:100% 50%">10</span></div>
<div class="t" style="left:38.00px;top:59.27px;width:200px;margin-left:-200px;text-align:right;font-size:14.60px;"><span style="transform:scaleX(1.100);transform-origin:100% 50%">0</span></div>
<div class="t" style="left:38.00px;top:100.27px;width:200px;margin-left:-200px;text-align:right;font-size:14.60px;"><span style="transform:scaleX(1.100);transform-origin:100% 50%">-10</span></div>
<div class="t" style="left:39.60px;top:110.77px;width:200px;margin-left:-100px;text-align:center;font-size:14.60px;"><span style="transform:scaleX(1.100)">-10</span></div>
<div class="t" style="left:82.00px;top:110.77px;width:200px;margin-left:-100px;text-align:center;font-size:14.60px;"><span style="transform:scaleX(1.100)">0</span></div>
<div class="t" style="left:123.20px;top:110.77px;width:200px;margin-left:-100px;text-align:center;font-size:14.60px;"><span style="transform:scaleX(1.100)">10</span></div>
<div class="t" style="left:81.20px;top:122.47px;width:200px;margin-left:-100px;text-align:center;font-size:14.60px;"><span style="transform:scaleX(1.050)">x (&mu;m)</span></div>
<div class="t" style="left:19.00px;top:61.00px;width:100px;margin-left:-50px;text-align:center;font-size:14.60px;transform:rotate(-90deg);"><span style="transform:scaleX(1.100)">y (&mu;m)</span></div>
<div class="t" style="left:38.00px;top:142.57px;width:200px;margin-left:-200px;text-align:right;font-size:14.60px;"><span style="transform:scaleX(1.100);transform-origin:100% 50%">10</span></div>
<div class="t" style="left:38.00px;top:184.57px;width:200px;margin-left:-200px;text-align:right;font-size:14.60px;"><span style="transform:scaleX(1.100);transform-origin:100% 50%">0</span></div>
<div class="t" style="left:38.00px;top:225.57px;width:200px;margin-left:-200px;text-align:right;font-size:14.60px;"><span style="transform:scaleX(1.100);transform-origin:100% 50%">-10</span></div>
<div class="t" style="left:39.60px;top:236.07px;width:200px;margin-left:-100px;text-align:center;font-size:14.60px;"><span style="transform:scaleX(1.100)">-10</span></div>
<div class="t" style="left:82.00px;top:236.07px;width:200px;margin-left:-100px;text-align:center;font-size:14.60px;"><span style="transform:scaleX(1.100)">0</span></div>
<div class="t" style="left:123.20px;top:236.07px;width:200px;margin-left:-100px;text-align:center;font-size:14.60px;"><span style="transform:scaleX(1.100)">10</span></div>
<div class="t" style="left:81.20px;top:247.77px;width:200px;margin-left:-100px;text-align:center;font-size:14.60px;"><span style="transform:scaleX(1.050)">x (&mu;m)</span></div>
<div class="t" style="left:19.00px;top:186.30px;width:100px;margin-left:-50px;text-align:center;font-size:14.60px;transform:rotate(-90deg);"><span style="transform:scaleX(1.100)">y (&mu;m)</span></div>
<div class="t" style="left:81.25px;top:11.73px;width:200px;margin-left:-100px;text-align:center;font-size:13.70px;"><span style="transform:scaleX(1.155)"><em style="font-style:italic">&lambda;</em>=4.0&mu;m</span></div>
<div class="t" style="left:165.25px;top:11.73px;width:200px;margin-left:-100px;text-align:center;font-size:13.70px;"><span style="transform:scaleX(1.155)"><em style="font-style:italic">&lambda;</em>=4.2&mu;m</span></div>
<div class="t" style="left:249.25px;top:11.73px;width:200px;margin-left:-100px;text-align:center;font-size:13.70px;"><span style="transform:scaleX(1.155)"><em style="font-style:italic">&lambda;</em>=4.4&mu;m</span></div>
<div class="t" style="left:333.25px;top:11.73px;width:200px;margin-left:-100px;text-align:center;font-size:13.70px;"><span style="transform:scaleX(1.155)"><em style="font-style:italic">&lambda;</em>=4.6&mu;m</span></div>
<div class="t" style="left:417.25px;top:11.73px;width:200px;margin-left:-100px;text-align:center;font-size:13.70px;"><span style="transform:scaleX(1.155)"><em style="font-style:italic">&lambda;</em>=4.8&mu;m</span></div>
<div class="t" style="left:501.25px;top:11.73px;width:200px;margin-left:-100px;text-align:center;font-size:13.70px;"><span style="transform:scaleX(1.155)"><em style="font-style:italic">&lambda;</em>=5.0&mu;m</span></div>
<div class="t" style="left:239.00px;top:246.47px;width:200px;margin-left:-100px;text-align:center;font-size:14.60px;"><span style="transform:scaleX(1.090)">Normalized intensity</span></div>
<div class="t" style="left:437.90px;top:246.47px;width:200px;margin-left:-100px;text-align:center;font-size:14.60px;"><span style="transform:scaleX(1.100)">Phase (degree)</span></div>
<div class="t" style="left:169.00px;top:288.47px;width:200px;margin-left:-100px;text-align:center;font-size:14.60px;"><span style="transform:scaleX(1.100)">1.0</span></div>
<div class="t" style="left:239.20px;top:288.47px;width:200px;margin-left:-100px;text-align:center;font-size:14.60px;"><span style="transform:scaleX(1.100)">0.5</span></div>
<div class="t" style="left:309.50px;top:288.47px;width:200px;margin-left:-100px;text-align:center;font-size:14.60px;"><span style="transform:scaleX(1.100)">0.0</span></div>
<div class="t" style="left:366.40px;top:288.47px;width:200px;margin-left:-100px;text-align:center;font-size:14.60px;"><span style="transform:scaleX(1.100)">360</span></div>
<div class="t" style="left:413.70px;top:288.47px;width:200px;margin-left:-100px;text-align:center;font-size:14.60px;"><span style="transform:scaleX(1.100)">240</span></div>
<div class="t" style="left:461.30px;top:288.47px;width:200px;margin-left:-100px;text-align:center;font-size:14.60px;"><span style="transform:scaleX(1.100)">120</span></div>
<div class="t" style="left:508.20px;top:288.47px;width:200px;margin-left:-100px;text-align:center;font-size:14.60px;"><span style="transform:scaleX(1.100)">0</span></div>
<div class="q" style="left:169.00px;top:264.30px;width:141.00px;height:23.30px;background:linear-gradient(90deg,#c00c0c 0.0%,#d02010 4.0%,#e05020 10.0%,#e88028 15.5%,#f0a830 20.0%,#f8d440 24.0%,#e8e040 29.0%,#c0e040 36.0%,#80e040 44.0%,#30e040 50.0%,#30e070 57.0%,#30e8a0 63.0%,#30f0d0 69.0%,#30f8f8 74.5%,#30d0f0 80.0%,#30a0e0 86.0%,#2070d0 91.0%,#1040c8 96.0%,#0010c0 100.0%)"></div>
<div class="q" style="left:367.00px;top:264.30px;width:142.00px;height:23.30px;background:linear-gradient(90deg,#ff0000 0.0%,#ff2000 5.0%,#ff5000 9.0%,#ff8000 13.0%,#ffa800 18.0%,#ffc800 22.0%,#ffe000 26.0%,#f0f000 29.0%,#b0ff00 33.0%,#60ff00 38.0%,#00ff00 42.5%,#00ff50 48.0%,#00ffc0 53.0%,#00f8ff 57.5%,#00d8ff 62.0%,#00a8ff 67.0%,#0070ff 72.5%,#0040ff 78.0%,#2000ff 83.5%,#4000ff 89.0%,#6000ff 94.5%,#8000ff 100.0%)"></div>
</body></html>
